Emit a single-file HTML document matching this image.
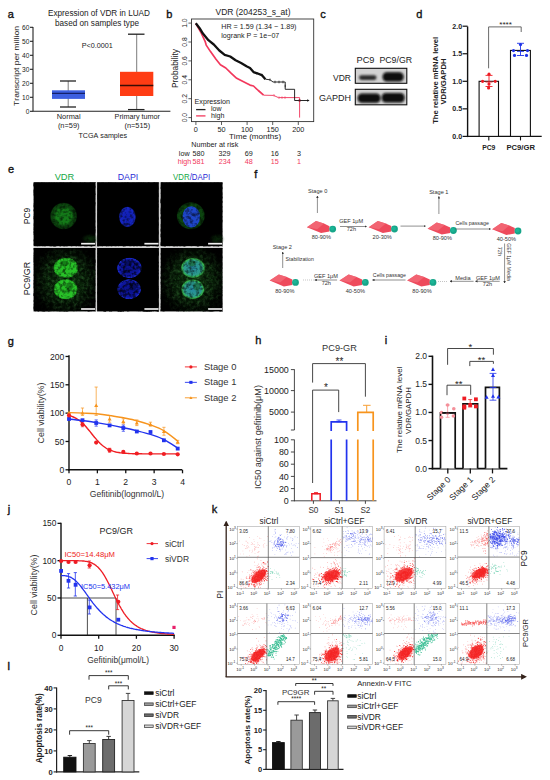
<!DOCTYPE html>
<html><head><meta charset="utf-8"><style>
html,body{margin:0;padding:0;background:#fff;width:550px;height:780px;overflow:hidden}
svg{display:block}
text{font-family:"Liberation Sans",sans-serif;font-variant-ligatures:none;font-kerning:none}
</style></head><body>
<svg width="550" height="780" viewBox="0 0 550 780" font-family="Liberation Sans, sans-serif">
<rect width="550" height="780" fill="#fff"/>
<text x="7.8" y="18" font-size="11" fill="#111" stroke="#111" stroke-width="0.35">a</text>
<text x="99" y="16.4" font-size="8.19" fill="#222" text-anchor="middle" textLength="102" lengthAdjust="spacingAndGlyphs">Expression of VDR in LUAD</text>
<text x="97" y="26.4" font-size="8.17" fill="#222" text-anchor="middle" textLength="84" lengthAdjust="spacingAndGlyphs">based on samples type</text>
<line x1="33" y1="27" x2="33" y2="111.3" stroke="#222" stroke-width="1.1"/>
<line x1="33" y1="111.3" x2="170.4" y2="111.3" stroke="#222" stroke-width="1.1"/>
<line x1="30" y1="111.3" x2="33" y2="111.3" stroke="#222" stroke-width="1.1"/>
<text x="29.4" y="113.7" font-size="6.6" fill="#222" text-anchor="end">0</text>
<line x1="30" y1="97.3" x2="33" y2="97.3" stroke="#222" stroke-width="1.1"/>
<text x="29.4" y="99.7" font-size="6.6" fill="#222" text-anchor="end">10</text>
<line x1="30" y1="83.3" x2="33" y2="83.3" stroke="#222" stroke-width="1.1"/>
<text x="29.4" y="85.7" font-size="6.6" fill="#222" text-anchor="end">20</text>
<line x1="30" y1="69.3" x2="33" y2="69.3" stroke="#222" stroke-width="1.1"/>
<text x="29.4" y="71.7" font-size="6.6" fill="#222" text-anchor="end">30</text>
<line x1="30" y1="55.3" x2="33" y2="55.3" stroke="#222" stroke-width="1.1"/>
<text x="29.4" y="57.699999999999996" font-size="6.6" fill="#222" text-anchor="end">40</text>
<line x1="30" y1="41.3" x2="33" y2="41.3" stroke="#222" stroke-width="1.1"/>
<text x="29.4" y="43.699999999999996" font-size="6.6" fill="#222" text-anchor="end">50</text>
<line x1="30" y1="27.299999999999997" x2="33" y2="27.299999999999997" stroke="#222" stroke-width="1.1"/>
<text x="29.4" y="29.699999999999996" font-size="6.6" fill="#222" text-anchor="end">60</text>
<text transform="translate(19,66) rotate(-90)" font-size="7.6" fill="#222" text-anchor="middle" textLength="80" lengthAdjust="spacingAndGlyphs">Transcript per million</text>
<line x1="68.2" y1="81" x2="68.2" y2="107" stroke="#444" stroke-width="0.7"/>
<line x1="60" y1="81" x2="76" y2="81" stroke="#222" stroke-width="1.3"/>
<line x1="60" y1="107" x2="76" y2="107" stroke="#222" stroke-width="1.3"/>
<rect x="52" y="90.3" width="33" height="8.6" fill="#3d5fe0" stroke="none" stroke-width="0.8"/>
<line x1="52" y1="93.4" x2="85" y2="93.4" stroke="#15206a" stroke-width="1.3"/>
<line x1="136.7" y1="34.2" x2="136.7" y2="109.6" stroke="#444" stroke-width="0.7"/>
<line x1="128" y1="34.2" x2="144.5" y2="34.2" stroke="#222" stroke-width="1.3"/>
<line x1="128" y1="109.6" x2="144.5" y2="109.6" stroke="#222" stroke-width="1.3"/>
<rect x="120" y="71.8" width="33.3" height="24.2" fill="#ff3c14" stroke="none" stroke-width="0.8"/>
<line x1="120" y1="85.5" x2="153.3" y2="85.5" stroke="#3a0c05" stroke-width="1.3"/>
<text x="81.8" y="48.2" font-size="7.19" fill="#222" textLength="31" lengthAdjust="spacingAndGlyphs">P&lt;0.0001</text>
<text x="68.7" y="119.3" font-size="7.4" fill="#222" text-anchor="middle">Normal</text>
<text x="68.7" y="127.6" font-size="7.4" fill="#222" text-anchor="middle">(n=59)</text>
<text x="137.3" y="119.3" font-size="7.25" fill="#222" text-anchor="middle" textLength="45.5" lengthAdjust="spacingAndGlyphs">Primary tumor</text>
<text x="137.3" y="127.6" font-size="7.4" fill="#222" text-anchor="middle">(n=515)</text>
<text x="78.5" y="138.1" font-size="7.21" fill="#222" textLength="48.5" lengthAdjust="spacingAndGlyphs">TCGA samples</text>
<text x="166.3" y="18.2" font-size="11" fill="#111" stroke="#111" stroke-width="0.35">b</text>
<text x="215.5" y="14.5" font-size="8.49" fill="#222" textLength="75" lengthAdjust="spacingAndGlyphs">VDR (204253_s_at)</text>
<rect x="191.5" y="19.0" width="122.2" height="102.6" fill="none" stroke="#333" stroke-width="0.9"/>
<line x1="195.9" y1="121.6" x2="195.9" y2="125" stroke="#333" stroke-width="0.8"/>
<text x="195.9" y="131.9" font-size="7.3" fill="#222" text-anchor="middle">0</text>
<line x1="221.5" y1="121.6" x2="221.5" y2="125" stroke="#333" stroke-width="0.8"/>
<text x="221.5" y="131.9" font-size="7.3" fill="#222" text-anchor="middle">50</text>
<line x1="247.10000000000002" y1="121.6" x2="247.10000000000002" y2="125" stroke="#333" stroke-width="0.8"/>
<text x="247.10000000000002" y="131.9" font-size="7.3" fill="#222" text-anchor="middle">100</text>
<line x1="272.7" y1="121.6" x2="272.7" y2="125" stroke="#333" stroke-width="0.8"/>
<text x="272.7" y="131.9" font-size="7.3" fill="#222" text-anchor="middle">150</text>
<line x1="298.3" y1="121.6" x2="298.3" y2="125" stroke="#333" stroke-width="0.8"/>
<text x="298.3" y="131.9" font-size="7.3" fill="#222" text-anchor="middle">200</text>
<line x1="188.4" y1="117.6" x2="191.5" y2="117.6" stroke="#333" stroke-width="0.8"/>
<text transform="translate(187,117.6) rotate(-90)" font-size="6.8" fill="#222" text-anchor="middle">0.0</text>
<line x1="188.4" y1="98.69999999999999" x2="191.5" y2="98.69999999999999" stroke="#333" stroke-width="0.8"/>
<text transform="translate(187,98.69999999999999) rotate(-90)" font-size="6.8" fill="#222" text-anchor="middle">0.2</text>
<line x1="188.4" y1="79.8" x2="191.5" y2="79.8" stroke="#333" stroke-width="0.8"/>
<text transform="translate(187,79.8) rotate(-90)" font-size="6.8" fill="#222" text-anchor="middle">0.4</text>
<line x1="188.4" y1="60.9" x2="191.5" y2="60.9" stroke="#333" stroke-width="0.8"/>
<text transform="translate(187,60.9) rotate(-90)" font-size="6.8" fill="#222" text-anchor="middle">0.6</text>
<line x1="188.4" y1="42.0" x2="191.5" y2="42.0" stroke="#333" stroke-width="0.8"/>
<text transform="translate(187,42.0) rotate(-90)" font-size="6.8" fill="#222" text-anchor="middle">0.8</text>
<line x1="188.4" y1="23.099999999999994" x2="191.5" y2="23.099999999999994" stroke="#333" stroke-width="0.8"/>
<text transform="translate(187,23.099999999999994) rotate(-90)" font-size="6.8" fill="#222" text-anchor="middle">1.0</text>
<text transform="translate(178.3,68.6) rotate(-90)" font-size="8.35" fill="#222" text-anchor="middle" textLength="39" lengthAdjust="spacingAndGlyphs">Probability</text>
<text x="221.3" y="29.2" font-size="7.16" fill="#222" textLength="75.2" lengthAdjust="spacingAndGlyphs">HR = 1.59 (1.34 − 1.89)</text>
<text x="221.3" y="37.5" font-size="7.11" fill="#222" textLength="58" lengthAdjust="spacingAndGlyphs">logrank P = 1e−07</text>
<polyline points="263.6,95.2 273.6,95.4 278.4,97.6 299.6,97.6 299.6,117.6" fill="none" stroke="#f2486a" stroke-width="1.0" stroke-linejoin="round"/>
<polyline points="195.8,23.3 200.7,32.0 205.1,41.3 206.2,45.1 210.5,51.6 216.0,59.3 220.4,64.7 225.8,68.0 231.3,73.4 236.7,78.3 241.1,80.5 246.5,83.2 250.0,85.1 253.5,86.0 258.3,90.5 263.6,95.2" fill="none" stroke="#f2385c" stroke-width="1.7" stroke-linejoin="round"/>
<polyline points="265.4,79.2 270.1,79.8 273.0,82.0 285.2,82.0 285.2,89.3 294.6,89.3 294.6,100.5 308.0,100.5" fill="none" stroke="#111" stroke-width="0.9" stroke-linejoin="round"/>
<polyline points="195.8,23.3 199.6,28.2 202.9,33.6 208.4,40.2 213.8,44.5 219.3,50.5 224.7,54.9 230.2,56.5 235.6,60.3 241.1,63.1 246.5,66.3 250.0,68.0 253.5,72.1 257.1,73.3 261.8,75.1 265.4,79.2" fill="none" stroke="#111" stroke-width="2.3" stroke-linejoin="round"/>
<line x1="257" y1="72.0" x2="257" y2="74.6" stroke="#111" stroke-width="0.7"/>
<line x1="262" y1="73.8" x2="262" y2="76.39999999999999" stroke="#111" stroke-width="0.7"/>
<line x1="270" y1="78.5" x2="270" y2="81.1" stroke="#111" stroke-width="0.7"/>
<line x1="275" y1="80.7" x2="275" y2="83.3" stroke="#111" stroke-width="0.7"/>
<line x1="279" y1="80.7" x2="279" y2="83.3" stroke="#111" stroke-width="0.7"/>
<line x1="283" y1="80.7" x2="283" y2="83.3" stroke="#111" stroke-width="0.7"/>
<line x1="285.2" y1="84.7" x2="285.2" y2="87.3" stroke="#111" stroke-width="0.7"/>
<line x1="274" y1="94.2" x2="274" y2="96.60000000000001" stroke="#f2385c" stroke-width="0.7"/>
<line x1="279" y1="96.39999999999999" x2="279" y2="98.8" stroke="#f2385c" stroke-width="0.7"/>
<line x1="282" y1="96.39999999999999" x2="282" y2="98.8" stroke="#f2385c" stroke-width="0.7"/>
<line x1="285" y1="96.39999999999999" x2="285" y2="98.8" stroke="#f2385c" stroke-width="0.7"/>
<path d="M307.2,99.2 L309.6,100.5 L307.2,101.8 z" fill="#111"/>
<rect x="298.6" y="99.5" width="2" height="2" fill="#5a1020"/>
<text x="194.6" y="104.3" font-size="7.16" fill="#222" textLength="35.4" lengthAdjust="spacingAndGlyphs">Expression</text>
<line x1="196.1" y1="109.6" x2="205.5" y2="109.6" stroke="#222" stroke-width="1.3"/>
<line x1="196.1" y1="115.9" x2="205.5" y2="115.9" stroke="#f2385c" stroke-width="1.3"/>
<text x="211" y="111.3" font-size="7.0" fill="#222" textLength="10.5" lengthAdjust="spacingAndGlyphs">low</text>
<text x="211" y="117.6" font-size="7.14" fill="#222" textLength="13.5" lengthAdjust="spacingAndGlyphs">high</text>
<text x="255" y="138.9" font-size="7.6" fill="#222" text-anchor="middle" textLength="52.2" lengthAdjust="spacingAndGlyphs">Time (months)</text>
<text x="191.3" y="146.5" font-size="7.23" fill="#222" textLength="47" lengthAdjust="spacingAndGlyphs">Number at risk</text>
<text x="189.6" y="155.5" font-size="7.2" fill="#222" text-anchor="end">low</text>
<text x="198.6" y="155.5" font-size="7.2" fill="#222" text-anchor="middle">580</text>
<text x="224.5" y="155.5" font-size="7.2" fill="#222" text-anchor="middle">329</text>
<text x="248.7" y="155.5" font-size="7.2" fill="#222" text-anchor="middle">69</text>
<text x="274.7" y="155.5" font-size="7.2" fill="#222" text-anchor="middle">16</text>
<text x="299.1" y="155.5" font-size="7.2" fill="#222" text-anchor="middle">3</text>
<text x="191.3" y="163.6" font-size="7.2" fill="#f2385c" text-anchor="end">high</text>
<text x="198.6" y="163.6" font-size="7.2" fill="#f2385c" text-anchor="middle">581</text>
<text x="224.8" y="163.6" font-size="7.2" fill="#f2385c" text-anchor="middle">234</text>
<text x="248.7" y="163.6" font-size="7.2" fill="#f2385c" text-anchor="middle">48</text>
<text x="274.7" y="163.6" font-size="7.2" fill="#f2385c" text-anchor="middle">15</text>
<text x="299.1" y="163.6" font-size="7.2" fill="#f2385c" text-anchor="middle">1</text>
<text x="320.3" y="17.9" font-size="11" fill="#111" stroke="#111" stroke-width="0.35">c</text>
<text x="356.5" y="63.3" font-size="9.25" fill="#222" textLength="18" lengthAdjust="spacingAndGlyphs">PC9</text>
<text x="379.4" y="63.3" font-size="8.78" fill="#222" textLength="32.7" lengthAdjust="spacingAndGlyphs">PC9/GR</text>
<text x="351" y="80.6" font-size="8.53" fill="#222" text-anchor="end" textLength="18" lengthAdjust="spacingAndGlyphs">VDR</text>
<text x="351" y="101.2" font-size="9.0" fill="#222" text-anchor="end" textLength="32" lengthAdjust="spacingAndGlyphs">GAPDH</text>
<defs><filter id="blot" x="-30%" y="-60%" width="160%" height="220%"><feGaussianBlur stdDeviation="0.9"/></filter><filter id="b2" x="-50%" y="-50%" width="200%" height="200%"><feGaussianBlur stdDeviation="1.6"/></filter><filter id="b1" x="-50%" y="-50%" width="200%" height="200%"><feGaussianBlur stdDeviation="0.6"/></filter><filter id="b3" x="-50%" y="-50%" width="200%" height="200%"><feGaussianBlur stdDeviation="3"/></filter></defs>
<rect x="355.3" y="68.3" width="51.5" height="15" fill="#d2d2d2" stroke="#111" stroke-width="1.1"/>
<rect x="355.3" y="89.3" width="51.5" height="15.5" fill="#d2d2d2" stroke="#111" stroke-width="1.1"/>
<rect x="359" y="75.3" width="17.5" height="4.6" rx="2.3" fill="#2a2a2a" filter="url(#blot)"/>
<rect x="382.6" y="72.2" width="21" height="9.4" rx="4.2" fill="#080808" filter="url(#blot)"/>
<rect x="357.6" y="93.4" width="23" height="9.4" rx="4.3" fill="#080808" filter="url(#blot)"/>
<rect x="381.6" y="93" width="23" height="9.4" rx="4.3" fill="#080808" filter="url(#blot)"/>
<text x="416.3" y="17.9" font-size="11" fill="#111" stroke="#111" stroke-width="0.35">d</text>
<line x1="467.6" y1="26.5" x2="467.6" y2="137.1" stroke="#111" stroke-width="1.4"/>
<line x1="466.90000000000003" y1="136.4" x2="541.7" y2="136.4" stroke="#111" stroke-width="1.4"/>
<line x1="462.6" y1="136.4" x2="467.6" y2="136.4" stroke="#111" stroke-width="1.2"/>
<text x="462.1" y="138.8" font-size="7.1" fill="#222" text-anchor="end" font-weight="bold">0.0</text>
<line x1="462.6" y1="108.85000000000001" x2="467.6" y2="108.85000000000001" stroke="#111" stroke-width="1.2"/>
<text x="462.1" y="111.25000000000001" font-size="7.1" fill="#222" text-anchor="end" font-weight="bold">0.5</text>
<line x1="462.6" y1="81.30000000000001" x2="467.6" y2="81.30000000000001" stroke="#111" stroke-width="1.2"/>
<text x="462.1" y="83.70000000000002" font-size="7.1" fill="#222" text-anchor="end" font-weight="bold">1.0</text>
<line x1="462.6" y1="53.75" x2="467.6" y2="53.75" stroke="#111" stroke-width="1.2"/>
<text x="462.1" y="56.15" font-size="7.1" fill="#222" text-anchor="end" font-weight="bold">1.5</text>
<line x1="462.6" y1="26.200000000000003" x2="467.6" y2="26.200000000000003" stroke="#111" stroke-width="1.2"/>
<text x="462.1" y="28.6" font-size="7.1" fill="#222" text-anchor="end" font-weight="bold">2.0</text>
<text transform="translate(437.9,80.3) rotate(-90)" font-size="7.66" fill="#222" text-anchor="middle" font-weight="bold" textLength="87" lengthAdjust="spacingAndGlyphs">The relative mRNA level</text>
<text transform="translate(445.6,81.5) rotate(-90)" font-size="7.67" fill="#222" text-anchor="middle" font-weight="bold" textLength="46" lengthAdjust="spacingAndGlyphs">VDR/GAPDH</text>
<rect x="479.1" y="81.30000000000001" width="19.4" height="55.099999999999994" fill="#fff" stroke="#111" stroke-width="1.1"/>
<rect x="510.5" y="50.444" width="19.9" height="85.956" fill="#fff" stroke="#111" stroke-width="1.1"/>
<line x1="488.8" y1="136.4" x2="488.8" y2="140.4" stroke="#111" stroke-width="1.1"/>
<line x1="520.5" y1="136.4" x2="520.5" y2="140.4" stroke="#111" stroke-width="1.1"/>
<text x="488.8" y="149.8" font-size="6.8" fill="#222" text-anchor="middle" font-weight="bold">PC9</text>
<text x="520.7" y="149.8" font-size="7.65" fill="#222" text-anchor="middle" font-weight="bold" textLength="28.5" lengthAdjust="spacingAndGlyphs">PC9/GR</text>
<polyline points="488.6,68.3 488.6,26.9 521.2,26.9 521.2,32.0" fill="none" stroke="#444" stroke-width="0.8" stroke-linejoin="round"/>
<text x="505.6" y="27.2" font-size="8.09" fill="#222" text-anchor="middle" textLength="12.6" lengthAdjust="spacingAndGlyphs">****</text>
<circle cx="482.6" cy="81.3" r="1.6" fill="#ee1c24"/>
<circle cx="489" cy="74.2" r="1.6" fill="#ee1c24"/>
<circle cx="495.2" cy="81.3" r="1.6" fill="#ee1c24"/>
<circle cx="488.6" cy="87.9" r="1.6" fill="#ee1c24"/>
<circle cx="489" cy="84" r="1.6" fill="#ee1c24"/>
<line x1="489" y1="75.4" x2="489" y2="86.5" stroke="#ee1c24" stroke-width="0.9"/>
<line x1="485.5" y1="75.4" x2="492.5" y2="75.4" stroke="#ee1c24" stroke-width="0.9"/>
<line x1="485.5" y1="86.5" x2="492.5" y2="86.5" stroke="#ee1c24" stroke-width="0.9"/>
<line x1="485.5" y1="82" x2="492.5" y2="82" stroke="#ee1c24" stroke-width="0.9"/>
<circle cx="513.5" cy="50.6" r="1.6" fill="#1f33e8"/>
<circle cx="520.5" cy="44.6" r="1.6" fill="#1f33e8"/>
<circle cx="527.5" cy="50.6" r="1.6" fill="#1f33e8"/>
<circle cx="514.5" cy="55.4" r="1.6" fill="#1f33e8"/>
<circle cx="526.5" cy="55.4" r="1.6" fill="#1f33e8"/>
<line x1="520.5" y1="43.3" x2="520.5" y2="55.5" stroke="#1f33e8" stroke-width="0.9"/>
<line x1="517" y1="43.3" x2="524" y2="43.3" stroke="#1f33e8" stroke-width="0.9"/>
<line x1="517" y1="55.5" x2="524" y2="55.5" stroke="#1f33e8" stroke-width="0.9"/>
<line x1="517" y1="51.4" x2="524" y2="51.4" stroke="#1f33e8" stroke-width="0.9"/>
<text x="8.1" y="173" font-size="11" fill="#111" stroke="#111" stroke-width="0.35">e</text>
<text x="64.5" y="180.1" font-size="9.28" fill="#13a845" text-anchor="middle" textLength="19.6" lengthAdjust="spacingAndGlyphs">VDR</text>
<text x="128" y="180.1" font-size="8.78" fill="#2b2bd6" text-anchor="middle" textLength="20.5" lengthAdjust="spacingAndGlyphs">DAPI</text>
<text x="191.6" y="180.1" font-size="8.6" text-anchor="middle" textLength="37" lengthAdjust="spacingAndGlyphs"><tspan fill="#13a845">VDR</tspan><tspan fill="#2b2bd6">/DAPI</tspan></text>
<text transform="translate(30,216) rotate(-90)" font-size="8.48" fill="#111" text-anchor="middle" textLength="16.5" lengthAdjust="spacingAndGlyphs">PC9</text>
<text transform="translate(30,278.5) rotate(-90)" font-size="9.0" fill="#111" text-anchor="middle" textLength="33.5" lengthAdjust="spacingAndGlyphs">PC9/GR</text>
<defs><radialGradient id="gPC9" cx="0.5" cy="0.5" r="0.5"><stop offset="0" stop-color="#14781a"/><stop offset="0.55" stop-color="#147a18"/><stop offset="0.7" stop-color="#0d4a10"/><stop offset="0.9" stop-color="#0b400d"/><stop offset="1" stop-color="#062a07" stop-opacity="0"/></radialGradient><radialGradient id="gGR" cx="0.5" cy="0.5" r="0.5"><stop offset="0" stop-color="#22b822"/><stop offset="0.85" stop-color="#2ac42a"/><stop offset="0.95" stop-color="#1a8a1a"/><stop offset="1" stop-color="#0a300a" stop-opacity="0"/></radialGradient><radialGradient id="bN" cx="0.5" cy="0.5" r="0.5"><stop offset="0" stop-color="#101eae"/><stop offset="0.88" stop-color="#1626c4"/><stop offset="1" stop-color="#0a1460" stop-opacity="0"/></radialGradient><radialGradient id="bNGR" cx="0.5" cy="0.5" r="0.5"><stop offset="0" stop-color="#0a1088"/><stop offset="0.75" stop-color="#0e169c"/><stop offset="0.92" stop-color="#1a28c8"/><stop offset="1" stop-color="#050a40" stop-opacity="0"/></radialGradient><radialGradient id="mPC9" cx="0.5" cy="0.5" r="0.5"><stop offset="0" stop-color="#0a360c"/><stop offset="0.8" stop-color="#0d4610"/><stop offset="0.92" stop-color="#0a3a0d"/><stop offset="1" stop-color="#062a07" stop-opacity="0"/></radialGradient><radialGradient id="mGR" cx="0.5" cy="0.5" r="0.5"><stop offset="0" stop-color="#2488a0"/><stop offset="0.7" stop-color="#2c9c8a"/><stop offset="0.88" stop-color="#34b048"/><stop offset="1" stop-color="#0a3010" stop-opacity="0"/></radialGradient><radialGradient id="haze" cx="0.5" cy="0.5" r="0.5"><stop offset="0" stop-color="#1a6a1a" stop-opacity="0.95"/><stop offset="0.6" stop-color="#124a12" stop-opacity="0.7"/><stop offset="1" stop-color="#0a200a" stop-opacity="0"/></radialGradient><radialGradient id="hmask" cx="0.5" cy="0.5" r="0.5"><stop offset="0" stop-color="#fff"/><stop offset="0.55" stop-color="#ccc"/><stop offset="1" stop-color="#000"/></radialGradient><filter id="tex" x="0" y="0" width="100%" height="100%"><feTurbulence type="fractalNoise" baseFrequency="0.55" numOctaves="2" seed="3"/><feColorMatrix values="0 0 0 0 0  0 0 0 0 0  0 0 0 0 0  0 0 0 -2.2 1.35"/></filter><filter id="mot" x="0" y="0" width="100%" height="100%"><feTurbulence type="fractalNoise" baseFrequency="0.3" numOctaves="2" seed="11"/><feColorMatrix values="0 0 0 0 0  0 0 0 0 0  0 0 0 0 0  0 0 0 -3 1.75"/></filter><filter id="gspk" x="0" y="0" width="100%" height="100%"><feTurbulence type="fractalNoise" baseFrequency="0.3" numOctaves="3" seed="21"/><feColorMatrix values="0 0 0 0 0.08  0 0 0 0 0.36  0 0 0 0 0.08  0 0 0 2.2 -0.85"/></filter></defs>
<rect x="33.6" y="182.2" width="188.9" height="129.2" fill="#d4d4d4" stroke="none" stroke-width="0.8"/>
<rect x="33.6" y="182.2" width="61.9" height="63.900000000000006" fill="#000" stroke="none" stroke-width="0.8"/>
<rect x="97.1" y="182.2" width="61.70000000000002" height="63.900000000000006" fill="#000" stroke="none" stroke-width="0.8"/>
<rect x="160.7" y="182.2" width="61.80000000000001" height="63.900000000000006" fill="#000" stroke="none" stroke-width="0.8"/>
<rect x="33.6" y="248.0" width="61.9" height="63.39999999999998" fill="#000" stroke="none" stroke-width="0.8"/>
<rect x="97.1" y="248.0" width="61.70000000000002" height="63.39999999999998" fill="#000" stroke="none" stroke-width="0.8"/>
<rect x="160.7" y="248.0" width="61.80000000000001" height="63.39999999999998" fill="#000" stroke="none" stroke-width="0.8"/>
<ellipse cx="90" cy="239" rx="9" ry="6" fill="url(#haze)" opacity="0.45"/>
<ellipse cx="63.6" cy="216" rx="13.9" ry="13.8" fill="url(#gPC9)"/>
<ellipse cx="127.4" cy="216.9" rx="8.8" ry="10.7" fill="url(#bN)"/>
<ellipse cx="217" cy="239" rx="8" ry="6" fill="url(#haze)" opacity="0.4"/>
<ellipse cx="190.8" cy="215.8" rx="14.5" ry="14" fill="url(#mPC9)"/>
<ellipse cx="191.3" cy="216.9" rx="8.8" ry="10.7" fill="#1e46c8"/>
<clipPath id="cp20"><rect x="33.6" y="248.0" width="61.9" height="63.39999999999998"/></clipPath>
<mask id="hm0"><ellipse cx="66.0" cy="281" rx="38" ry="40" fill="url(#hmask)"/></mask>
<g clip-path="url(#cp20)"><ellipse cx="66.0" cy="280" rx="34" ry="36" fill="url(#haze)" opacity="0.5"/><rect x="33.6" y="248.0" width="61.9" height="63.39999999999998" filter="url(#gspk)" opacity="0.45" mask="url(#hm0)"/></g>
<ellipse cx="65.9" cy="267.9" rx="12.8" ry="10.6" fill="url(#gGR)"/>
<ellipse cx="65.6" cy="289.2" rx="12.4" ry="10.4" fill="url(#gGR)"/>
<ellipse cx="64.8" cy="263.2" rx="3.8" ry="2.8" fill="#0f6a12" opacity="0.75"/>
<ellipse cx="69.5" cy="286.5" rx="3.2" ry="4" fill="#0f6a12" opacity="0.7"/>
<ellipse cx="129.4" cy="267.9" rx="12.8" ry="10.6" fill="url(#bNGR)"/>
<ellipse cx="129.1" cy="289.2" rx="12.4" ry="10.4" fill="url(#bNGR)"/>
<ellipse cx="128.3" cy="263.2" rx="3.8" ry="2.8" fill="#060c50" opacity="0.75"/>
<ellipse cx="133.0" cy="286.5" rx="3.2" ry="4" fill="#060c50" opacity="0.7"/>
<clipPath id="cp22"><rect x="160.7" y="248.0" width="61.80000000000001" height="63.39999999999998"/></clipPath>
<mask id="hm2"><ellipse cx="193.1" cy="281" rx="38" ry="40" fill="url(#hmask)"/></mask>
<g clip-path="url(#cp22)"><ellipse cx="193.1" cy="280" rx="34" ry="36" fill="url(#haze)" opacity="0.5"/><rect x="160.7" y="248.0" width="61.80000000000001" height="63.39999999999998" filter="url(#gspk)" opacity="0.45" mask="url(#hm2)"/></g>
<ellipse cx="193.0" cy="267.9" rx="12.8" ry="10.6" fill="url(#mGR)"/>
<ellipse cx="192.7" cy="289.2" rx="12.4" ry="10.4" fill="url(#mGR)"/>
<ellipse cx="191.9" cy="263.2" rx="3.8" ry="2.8" fill="#1a6a3a" opacity="0.75"/>
<ellipse cx="196.6" cy="286.5" rx="3.2" ry="4" fill="#1a6a3a" opacity="0.7"/>
<rect x="33.6" y="182.2" width="61.9" height="63.9" filter="url(#mot)" opacity="0.55"/>
<rect x="97.1" y="182.2" width="61.7" height="63.9" filter="url(#mot)" opacity="0.55"/>
<rect x="160.7" y="182.2" width="61.8" height="63.9" filter="url(#mot)" opacity="0.55"/>
<rect x="33.6" y="248.0" width="61.9" height="63.4" filter="url(#mot)" opacity="0.55"/>
<rect x="97.1" y="248.0" width="61.7" height="63.4" filter="url(#mot)" opacity="0.55"/>
<rect x="160.7" y="248.0" width="61.8" height="63.4" filter="url(#mot)" opacity="0.55"/>
<rect x="97.1" y="248.0" width="61.7" height="63.4" filter="url(#mot)" opacity="0.45"/>
<line x1="81.1" y1="243.7" x2="95.2" y2="243.7" stroke="#eeeeee" stroke-width="1.7"/>
<line x1="144.4" y1="243.7" x2="158.5" y2="243.7" stroke="#eeeeee" stroke-width="1.7"/>
<line x1="208.1" y1="243.7" x2="222.2" y2="243.7" stroke="#eeeeee" stroke-width="1.7"/>
<line x1="81.1" y1="309.0" x2="95.2" y2="309.0" stroke="#eeeeee" stroke-width="1.7"/>
<line x1="144.4" y1="309.0" x2="158.5" y2="309.0" stroke="#eeeeee" stroke-width="1.7"/>
<line x1="208.1" y1="309.0" x2="222.2" y2="309.0" stroke="#eeeeee" stroke-width="1.7"/>
<text x="254.3" y="178.2" font-size="11" fill="#111" stroke="#111" stroke-width="0.35">f</text>
<defs><marker id="ah" viewBox="0 0 6 6" refX="5" refY="3" markerWidth="4" markerHeight="4" orient="auto"><path d="M0,0 L6,3 L0,6 z" fill="#333"/></marker></defs>
<text x="317.7" y="193.2" font-size="5.6" fill="#333" text-anchor="middle">Stage 0</text>
<line x1="317.4" y1="213" x2="317.4" y2="196" stroke="#444" stroke-width="0.6" marker-end="url(#ah)"/>
<polygon points="306.9,227.3 316.0,221.1 324.0,223.6 329.5,226.2 329.5,231.6 321.1,233.1" fill="#ee4a5c"/>
<polygon points="306.9,227.3 316.0,221.1 324.0,223.6 317.2,229.3" fill="#f26a78" opacity="0.8"/>
<circle cx="332.7" cy="229.1" r="3.4" fill="#16a589"/>
<circle cx="332.09999999999997" cy="228.5" r="2" fill="#22c0a0" opacity="0.6"/>
<text x="321.3" y="238.8" font-size="5.6" fill="#333" text-anchor="middle">80-90%</text>
<text x="351.2" y="223.2" font-size="5.6" fill="#333" text-anchor="middle">GEF 1μM</text>
<line x1="340" y1="226.5" x2="366.5" y2="226.5" stroke="#444" stroke-width="0.6" marker-end="url(#ah)"/>
<text x="351.4" y="231" font-size="5.6" fill="#333" text-anchor="middle">72h</text>
<polygon points="368.7,227.2 377.8,221.0 385.8,223.5 391.3,226.1 391.3,231.5 382.9,233.0" fill="#ee4a5c"/>
<polygon points="368.7,227.2 377.8,221.0 385.8,223.5 379.0,229.2" fill="#f26a78" opacity="0.8"/>
<circle cx="394.5" cy="229" r="3.4" fill="#16a589"/>
<circle cx="393.9" cy="228.4" r="2" fill="#22c0a0" opacity="0.6"/>
<text x="382.2" y="238.6" font-size="5.6" fill="#333" text-anchor="middle">20-30%</text>
<line x1="400.5" y1="226.1" x2="425.5" y2="226.1" stroke="#444" stroke-width="0.6" marker-end="url(#ah)"/>
<text x="438.8" y="193.9" font-size="5.6" fill="#333" text-anchor="middle">Stage 1</text>
<line x1="438.9" y1="214" x2="438.9" y2="196.5" stroke="#444" stroke-width="0.6" marker-end="url(#ah)"/>
<polygon points="427.6,228.7 436.7,222.5 444.7,225.0 450.2,227.6 450.2,233.0 441.8,234.5" fill="#ee4a5c"/>
<polygon points="427.6,228.7 436.7,222.5 444.7,225.0 437.9,230.7" fill="#f26a78" opacity="0.8"/>
<circle cx="453.4" cy="230.5" r="3.4" fill="#16a589"/>
<circle cx="452.79999999999995" cy="229.9" r="2" fill="#22c0a0" opacity="0.6"/>
<text x="442.3" y="240.4" font-size="5.6" fill="#333" text-anchor="middle">80-90%</text>
<text x="472.2" y="225.3" font-size="5.32" fill="#333" text-anchor="middle" textLength="33.4" lengthAdjust="spacingAndGlyphs">Cells passage</text>
<line x1="455.5" y1="229" x2="490.5" y2="229" stroke="#444" stroke-width="0.6" marker-end="url(#ah)"/>
<polygon points="492.2,229.2 501.3,223.0 509.3,225.5 514.8,228.1 514.8,233.5 506.4,235.0" fill="#ee4a5c"/>
<polygon points="492.2,229.2 501.3,223.0 509.3,225.5 502.5,231.2" fill="#f26a78" opacity="0.8"/>
<circle cx="518" cy="231" r="3.4" fill="#16a589"/>
<circle cx="517.4" cy="230.4" r="2" fill="#22c0a0" opacity="0.6"/>
<text x="506.4" y="240.7" font-size="5.6" fill="#333" text-anchor="middle">40-50%</text>
<line x1="504.6" y1="243.5" x2="504.6" y2="283" stroke="#444" stroke-width="0.6" marker-end="url(#ah)"/>
<text transform="translate(507,262) rotate(90)" font-size="5.14" fill="#333" text-anchor="middle" textLength="37.5" lengthAdjust="spacingAndGlyphs">GEF 1μM Media</text>
<text transform="translate(498,251.4) rotate(90)" font-size="5.6" fill="#333" text-anchor="middle">72h</text>
<text x="488" y="279.5" font-size="5.6" fill="#333" text-anchor="middle">GEF 1μM</text>
<line x1="499.7" y1="281.3" x2="475.5" y2="281.3" stroke="#444" stroke-width="0.6" marker-end="url(#ah)"/>
<text x="487.5" y="285.8" font-size="5.6" fill="#333" text-anchor="middle">72h</text>
<text x="462.9" y="279.5" font-size="5.6" fill="#333" text-anchor="middle">Media</text>
<line x1="473.6" y1="281.3" x2="450" y2="281.3" stroke="#444" stroke-width="0.6" marker-end="url(#ah)"/>
<line x1="438" y1="281.5" x2="448" y2="281.5" stroke="#888" stroke-width="0.5" stroke-dasharray="1,1"/>
<polygon points="407.2,280.6 416.3,274.4 424.3,276.9 429.8,279.5 429.8,284.9 421.4,286.4" fill="#ee4a5c"/>
<polygon points="407.2,280.6 416.3,274.4 424.3,276.9 417.5,282.6" fill="#f26a78" opacity="0.8"/>
<circle cx="433" cy="282.4" r="3.4" fill="#16a589"/>
<circle cx="432.4" cy="281.79999999999995" r="2" fill="#22c0a0" opacity="0.6"/>
<text x="422" y="292.5" font-size="5.6" fill="#333" text-anchor="middle">80-90%</text>
<text x="389.4" y="277.1" font-size="5.27" fill="#333" text-anchor="middle" textLength="33.1" lengthAdjust="spacingAndGlyphs">Cells passage</text>
<line x1="405.5" y1="280" x2="372.5" y2="280" stroke="#444" stroke-width="0.6" marker-end="url(#ah)"/>
<polygon points="339.5,280.6 348.6,274.4 356.6,276.9 362.1,279.5 362.1,284.9 353.7,286.4" fill="#ee4a5c"/>
<polygon points="339.5,280.6 348.6,274.4 356.6,276.9 349.8,282.6" fill="#f26a78" opacity="0.8"/>
<circle cx="365.3" cy="282.4" r="3.4" fill="#16a589"/>
<circle cx="364.7" cy="281.79999999999995" r="2" fill="#22c0a0" opacity="0.6"/>
<text x="355.4" y="292.5" font-size="5.6" fill="#333" text-anchor="middle">40-50%</text>
<text x="325.9" y="278" font-size="5.6" fill="#333" text-anchor="middle">GEF 1μM</text>
<line x1="337.1" y1="280" x2="314.8" y2="280" stroke="#444" stroke-width="0.6" marker-end="url(#ah)"/>
<text x="326.3" y="285.3" font-size="5.6" fill="#333" text-anchor="middle">72h</text>
<line x1="303" y1="280" x2="313.8" y2="280" stroke="#888" stroke-width="0.5" stroke-dasharray="1,1"/>
<polygon points="269.7,280.6 278.8,274.4 286.8,276.9 292.3,279.5 292.3,284.9 283.9,286.4" fill="#ee4a5c"/>
<polygon points="269.7,280.6 278.8,274.4 286.8,276.9 280.0,282.6" fill="#f26a78" opacity="0.8"/>
<circle cx="295.5" cy="282.4" r="3.4" fill="#16a589"/>
<circle cx="294.9" cy="281.79999999999995" r="2" fill="#22c0a0" opacity="0.6"/>
<text x="284.8" y="292.5" font-size="5.6" fill="#333" text-anchor="middle">80-90%</text>
<line x1="282.7" y1="268" x2="282.7" y2="252" stroke="#444" stroke-width="0.6" marker-end="url(#ah)"/>
<text x="282.3" y="248.9" font-size="5.6" fill="#333" text-anchor="middle">Stage 2</text>
<text x="285.6" y="261.4" font-size="5.23" fill="#333" textLength="28.2" lengthAdjust="spacingAndGlyphs">Stabilization</text>
<text x="7.8" y="345" font-size="11" fill="#111" stroke="#111" stroke-width="0.35">g</text>
<line x1="69" y1="355.3" x2="69" y2="470.5" stroke="#111" stroke-width="1.4"/>
<line x1="68.3" y1="469.8" x2="182.2" y2="469.8" stroke="#111" stroke-width="1.4"/>
<line x1="65.5" y1="469.8" x2="69" y2="469.8" stroke="#111" stroke-width="1.3"/>
<text x="64.4" y="472.90000000000003" font-size="8.6" fill="#222" text-anchor="end">0</text>
<line x1="65.5" y1="441.46500000000003" x2="69" y2="441.46500000000003" stroke="#111" stroke-width="1.3"/>
<text x="64.4" y="444.56500000000005" font-size="8.6" fill="#222" text-anchor="end">50</text>
<line x1="65.5" y1="413.13" x2="69" y2="413.13" stroke="#111" stroke-width="1.3"/>
<text x="64.4" y="416.23" font-size="8.6" fill="#222" text-anchor="end">100</text>
<line x1="65.5" y1="384.795" x2="69" y2="384.795" stroke="#111" stroke-width="1.3"/>
<text x="64.4" y="387.89500000000004" font-size="8.6" fill="#222" text-anchor="end">150</text>
<line x1="65.5" y1="356.46000000000004" x2="69" y2="356.46000000000004" stroke="#111" stroke-width="1.3"/>
<text x="64.4" y="359.56000000000006" font-size="8.6" fill="#222" text-anchor="end">200</text>
<line x1="69.0" y1="469.8" x2="69.0" y2="473.3" stroke="#111" stroke-width="1.3"/>
<text x="69.0" y="485" font-size="8.6" fill="#222" text-anchor="middle">0</text>
<line x1="97.38" y1="469.8" x2="97.38" y2="473.3" stroke="#111" stroke-width="1.3"/>
<text x="97.38" y="485" font-size="8.6" fill="#222" text-anchor="middle">1</text>
<line x1="125.75999999999999" y1="469.8" x2="125.75999999999999" y2="473.3" stroke="#111" stroke-width="1.3"/>
<text x="125.75999999999999" y="485" font-size="8.6" fill="#222" text-anchor="middle">2</text>
<line x1="154.14" y1="469.8" x2="154.14" y2="473.3" stroke="#111" stroke-width="1.3"/>
<text x="154.14" y="485" font-size="8.6" fill="#222" text-anchor="middle">3</text>
<line x1="182.51999999999998" y1="469.8" x2="182.51999999999998" y2="473.3" stroke="#111" stroke-width="1.3"/>
<text x="182.51999999999998" y="485" font-size="8.6" fill="#222" text-anchor="middle">4</text>
<text x="127" y="496.6" font-size="8.59" fill="#333" text-anchor="middle" textLength="74.5" lengthAdjust="spacingAndGlyphs">Gefitinib(lognmol/L)</text>
<text transform="translate(44.3,413) rotate(-90)" font-size="8.93" fill="#333" text-anchor="middle" textLength="61" lengthAdjust="spacingAndGlyphs">Cell viability(%)</text>
<polyline points="69.0,415.5 70.4,415.9 71.8,416.4 73.3,417.0 74.7,417.7 76.1,418.4 77.5,419.3 78.9,420.2 80.4,421.3 81.8,422.5 83.2,423.8 84.6,425.3 86.0,426.8 87.4,428.5 88.9,430.2 90.3,431.9 91.7,433.7 93.1,435.5 94.5,437.2 96.0,438.9 97.4,440.6 98.8,442.1 100.2,443.5 101.6,444.8 103.1,446.0 104.5,447.0 105.9,448.0 107.3,448.8 108.7,449.5 110.2,450.2 111.6,450.7 113.0,451.2 114.4,451.6 115.8,452.0 117.2,452.3 118.7,452.5 120.1,452.8 121.5,452.9 122.9,453.1 124.3,453.2 125.8,453.3 127.2,453.4 128.6,453.5 130.0,453.6 131.4,453.6 132.9,453.7 134.3,453.7 135.7,453.8 137.1,453.8 138.5,453.8 139.9,453.8 141.4,453.8 142.8,453.9 144.2,453.9 145.6,453.9 147.0,453.9 148.5,453.9 149.9,453.9 151.3,453.9 152.7,453.9 154.1,453.9 155.6,453.9 157.0,453.9 158.4,453.9 159.8,453.9 161.2,453.9 162.7,453.9 164.1,453.9 165.5,453.9 166.9,453.9 168.3,453.9 169.7,453.9 171.2,453.9 172.6,453.9 174.0,453.9 175.4,453.9 176.8,453.9 178.3,453.9" fill="none" stroke="#f01e23" stroke-width="1.4" stroke-linejoin="round"/>
<path d="M69.0,412.6 C71.4,412.7 79.0,412.9 83.6,413.1 C88.3,413.3 92.3,413.4 96.6,413.8 C101.0,414.2 105.2,414.8 109.6,415.5 C114.1,416.1 118.8,417.0 123.4,417.8 C127.9,418.7 132.3,419.5 136.8,420.7 C141.4,421.8 146.0,423.2 150.5,424.9 C155.1,426.6 159.5,428.1 164.0,430.8 C168.6,433.5 175.4,439.3 177.7,441.0" fill="none" stroke="#f7941d" stroke-width="1.4"/>
<path d="M69.0,419.0 C71.4,419.3 79.0,420.1 83.6,420.7 C88.3,421.3 92.3,421.8 96.6,422.6 C101.0,423.3 105.2,424.1 109.6,424.9 C114.1,425.8 118.8,426.8 123.4,427.8 C127.9,428.7 132.3,429.7 136.8,430.8 C141.4,431.9 146.0,432.9 150.5,434.4 C155.1,435.8 159.5,437.3 164.0,439.6 C168.6,441.9 175.4,446.7 177.7,448.1" fill="none" stroke="#2233ee" stroke-width="1.4"/>
<line x1="96.18804" y1="387.0618" x2="96.18804" y2="415.3968" stroke="#f7941d" stroke-width="0.7"/>
<line x1="94.58804" y1="387.0618" x2="97.78804" y2="387.0618" stroke="#f7941d" stroke-width="0.7"/>
<line x1="94.58804" y1="415.3968" x2="97.78804" y2="415.3968" stroke="#f7941d" stroke-width="0.7"/>
<line x1="82.4805" y1="408.0297" x2="82.4805" y2="415.3968" stroke="#f7941d" stroke-width="0.7"/>
<line x1="80.88050000000001" y1="408.0297" x2="84.0805" y2="408.0297" stroke="#f7941d" stroke-width="0.7"/>
<line x1="80.88050000000001" y1="415.3968" x2="84.0805" y2="415.3968" stroke="#f7941d" stroke-width="0.7"/>
<line x1="109.5834" y1="415.3968" x2="109.5834" y2="422.1972" stroke="#f7941d" stroke-width="0.7"/>
<line x1="107.9834" y1="415.3968" x2="111.18339999999999" y2="415.3968" stroke="#f7941d" stroke-width="0.7"/>
<line x1="107.9834" y1="422.1972" x2="111.18339999999999" y2="422.1972" stroke="#f7941d" stroke-width="0.7"/>
<line x1="123.3477" y1="418.797" x2="123.3477" y2="423.89730000000003" stroke="#f7941d" stroke-width="0.7"/>
<line x1="121.74770000000001" y1="418.797" x2="124.9477" y2="418.797" stroke="#f7941d" stroke-width="0.7"/>
<line x1="121.74770000000001" y1="423.89730000000003" x2="124.9477" y2="423.89730000000003" stroke="#f7941d" stroke-width="0.7"/>
<line x1="136.82819999999998" y1="419.9304" x2="136.82819999999998" y2="425.5974" stroke="#f7941d" stroke-width="0.7"/>
<line x1="135.2282" y1="419.9304" x2="138.42819999999998" y2="419.9304" stroke="#f7941d" stroke-width="0.7"/>
<line x1="135.2282" y1="425.5974" x2="138.42819999999998" y2="425.5974" stroke="#f7941d" stroke-width="0.7"/>
<line x1="150.4506" y1="422.1972" x2="150.4506" y2="426.1641" stroke="#f7941d" stroke-width="0.7"/>
<line x1="148.85060000000001" y1="422.1972" x2="152.0506" y2="422.1972" stroke="#f7941d" stroke-width="0.7"/>
<line x1="148.85060000000001" y1="426.1641" x2="152.0506" y2="426.1641" stroke="#f7941d" stroke-width="0.7"/>
<line x1="163.93110000000001" y1="427.2975" x2="163.93110000000001" y2="435.23130000000003" stroke="#f7941d" stroke-width="0.7"/>
<line x1="162.33110000000002" y1="427.2975" x2="165.5311" y2="427.2975" stroke="#f7941d" stroke-width="0.7"/>
<line x1="162.33110000000002" y1="435.23130000000003" x2="165.5311" y2="435.23130000000003" stroke="#f7941d" stroke-width="0.7"/>
<line x1="177.6954" y1="440.33160000000004" x2="177.6954" y2="443.7318" stroke="#f7941d" stroke-width="0.7"/>
<line x1="176.0954" y1="440.33160000000004" x2="179.2954" y2="440.33160000000004" stroke="#f7941d" stroke-width="0.7"/>
<line x1="176.0954" y1="443.7318" x2="179.2954" y2="443.7318" stroke="#f7941d" stroke-width="0.7"/>
<line x1="96.18804" y1="419.9304" x2="96.18804" y2="426.1641" stroke="#2233ee" stroke-width="0.7"/>
<line x1="94.58804" y1="419.9304" x2="97.78804" y2="419.9304" stroke="#2233ee" stroke-width="0.7"/>
<line x1="94.58804" y1="426.1641" x2="97.78804" y2="426.1641" stroke="#2233ee" stroke-width="0.7"/>
<line x1="123.3477" y1="425.0307" x2="123.3477" y2="431.2644" stroke="#2233ee" stroke-width="0.7"/>
<line x1="121.74770000000001" y1="425.0307" x2="124.9477" y2="425.0307" stroke="#2233ee" stroke-width="0.7"/>
<line x1="121.74770000000001" y1="431.2644" x2="124.9477" y2="431.2644" stroke="#2233ee" stroke-width="0.7"/>
<line x1="82.4805" y1="422.1972" x2="82.4805" y2="426.73080000000004" stroke="#f01e23" stroke-width="0.7"/>
<line x1="80.88050000000001" y1="422.1972" x2="84.0805" y2="422.1972" stroke="#f01e23" stroke-width="0.7"/>
<line x1="80.88050000000001" y1="426.73080000000004" x2="84.0805" y2="426.73080000000004" stroke="#f01e23" stroke-width="0.7"/>
<line x1="109.5834" y1="448.2654" x2="109.5834" y2="452.2323" stroke="#f01e23" stroke-width="0.7"/>
<line x1="107.9834" y1="448.2654" x2="111.18339999999999" y2="448.2654" stroke="#f01e23" stroke-width="0.7"/>
<line x1="107.9834" y1="452.2323" x2="111.18339999999999" y2="452.2323" stroke="#f01e23" stroke-width="0.7"/>
<path d="M67.0,414.2 L69.0,410.6 L71.0,414.2 z" fill="#f7941d"/>
<path d="M80.5,414.4 L82.5,410.8 L84.5,414.4 z" fill="#f7941d"/>
<path d="M94.2,407.1 L96.2,403.5 L98.2,407.1 z" fill="#f7941d"/>
<path d="M107.6,420.6 L109.6,417.0 L111.6,420.6 z" fill="#f7941d"/>
<path d="M121.3,423.0 L123.3,419.4 L125.3,423.0 z" fill="#f7941d"/>
<path d="M134.8,424.6 L136.8,421.0 L138.8,424.6 z" fill="#f7941d"/>
<path d="M148.5,426.1 L150.5,422.5 L152.5,426.1 z" fill="#f7941d"/>
<path d="M161.9,433.1 L163.9,429.5 L165.9,433.1 z" fill="#f7941d"/>
<path d="M175.7,443.5 L177.7,439.9 L179.7,443.5 z" fill="#f7941d"/>
<rect x="67.1" y="417.1" width="3.8" height="3.8" fill="#2233ee" stroke="none" stroke-width="0.8"/>
<rect x="80.6" y="418.3" width="3.8" height="3.8" fill="#2233ee" stroke="none" stroke-width="0.8"/>
<rect x="94.3" y="421.1" width="3.8" height="3.8" fill="#2233ee" stroke="none" stroke-width="0.8"/>
<rect x="107.7" y="423.5" width="3.8" height="3.8" fill="#2233ee" stroke="none" stroke-width="0.8"/>
<rect x="121.4" y="426.1" width="3.8" height="3.8" fill="#2233ee" stroke="none" stroke-width="0.8"/>
<rect x="134.9" y="429.6" width="3.8" height="3.8" fill="#2233ee" stroke="none" stroke-width="0.8"/>
<rect x="148.6" y="430.1" width="3.8" height="3.8" fill="#2233ee" stroke="none" stroke-width="0.8"/>
<rect x="162.0" y="438.4" width="3.8" height="3.8" fill="#2233ee" stroke="none" stroke-width="0.8"/>
<rect x="175.8" y="446.7" width="3.8" height="3.8" fill="#2233ee" stroke="none" stroke-width="0.8"/>
<circle cx="69.0" cy="415.4" r="2.1" fill="#f01e23"/>
<circle cx="82.5" cy="424.5" r="2.1" fill="#f01e23"/>
<circle cx="96.2" cy="442.6" r="2.1" fill="#f01e23"/>
<circle cx="109.6" cy="450.2" r="2.1" fill="#f01e23"/>
<circle cx="123.3" cy="451.9" r="2.1" fill="#f01e23"/>
<circle cx="136.8" cy="453.5" r="2.1" fill="#f01e23"/>
<circle cx="150.5" cy="453.5" r="2.1" fill="#f01e23"/>
<circle cx="163.9" cy="454.0" r="2.1" fill="#f01e23"/>
<circle cx="177.7" cy="454.3" r="2.1" fill="#f01e23"/>
<line x1="184.9" y1="366.9" x2="196.9" y2="366.9" stroke="#f01e23" stroke-width="0.9"/>
<circle cx="190.9" cy="366.9" r="1.6" fill="#f01e23"/>
<text x="204" y="370.0" font-size="9.4" fill="#333" textLength="32.4" lengthAdjust="spacingAndGlyphs">Stage 0</text>
<line x1="184.9" y1="382.34999999999997" x2="196.9" y2="382.34999999999997" stroke="#2233ee" stroke-width="0.9"/>
<rect x="189.3" y="380.84999999999997" width="3.2" height="3" fill="#2233ee" stroke="none" stroke-width="0.8"/>
<text x="204" y="385.45" font-size="9.4" fill="#333" textLength="32.4" lengthAdjust="spacingAndGlyphs">Stage 1</text>
<line x1="184.9" y1="397.79999999999995" x2="196.9" y2="397.79999999999995" stroke="#f7941d" stroke-width="0.9"/>
<path d="M189.3,398.99999999999994 L190.9,396.29999999999995 L192.5,398.99999999999994 z" fill="#f7941d"/>
<text x="204" y="400.9" font-size="9.4" fill="#333" textLength="32.4" lengthAdjust="spacingAndGlyphs">Stage 2</text>
<text x="255.3" y="343.6" font-size="11" fill="#111" stroke="#111" stroke-width="0.35">h</text>
<text x="339.5" y="350.6" font-size="9.21" fill="#333" text-anchor="middle" textLength="34.8" lengthAdjust="spacingAndGlyphs">PC9-GR</text>
<line x1="294.4" y1="369.3" x2="294.4" y2="430" stroke="#333" stroke-width="0.9"/>
<line x1="294.4" y1="439.6" x2="294.4" y2="501.2" stroke="#333" stroke-width="0.9"/>
<line x1="294.0" y1="500.8" x2="376.5" y2="500.8" stroke="#333" stroke-width="0.9"/>
<line x1="290.9" y1="369.6" x2="294.4" y2="369.6" stroke="#333" stroke-width="0.9"/>
<text x="288.79999999999995" y="372.8" font-size="8.9" fill="#222" text-anchor="end">15000</text>
<line x1="290.9" y1="390.6" x2="294.4" y2="390.6" stroke="#333" stroke-width="0.9"/>
<text x="288.79999999999995" y="393.8" font-size="8.9" fill="#222" text-anchor="end">10000</text>
<line x1="290.9" y1="412.1" x2="294.4" y2="412.1" stroke="#333" stroke-width="0.9"/>
<text x="288.79999999999995" y="415.3" font-size="8.9" fill="#222" text-anchor="end">5000</text>
<line x1="290.9" y1="500.8" x2="294.4" y2="500.8" stroke="#333" stroke-width="0.9"/>
<text x="288.79999999999995" y="504.0" font-size="8.9" fill="#222" text-anchor="end">0</text>
<line x1="290.9" y1="488.6" x2="294.4" y2="488.6" stroke="#333" stroke-width="0.9"/>
<text x="288.79999999999995" y="491.8" font-size="8.9" fill="#222" text-anchor="end">20</text>
<line x1="290.9" y1="476.40000000000003" x2="294.4" y2="476.40000000000003" stroke="#333" stroke-width="0.9"/>
<text x="288.79999999999995" y="479.6" font-size="8.9" fill="#222" text-anchor="end">40</text>
<line x1="290.9" y1="464.20000000000005" x2="294.4" y2="464.20000000000005" stroke="#333" stroke-width="0.9"/>
<text x="288.79999999999995" y="467.40000000000003" font-size="8.9" fill="#222" text-anchor="end">60</text>
<line x1="290.9" y1="452.0" x2="294.4" y2="452.0" stroke="#333" stroke-width="0.9"/>
<text x="288.79999999999995" y="455.2" font-size="8.9" fill="#222" text-anchor="end">80</text>
<line x1="290.9" y1="439.8" x2="294.4" y2="439.8" stroke="#333" stroke-width="0.9"/>
<text x="288.79999999999995" y="443.0" font-size="8.9" fill="#222" text-anchor="end">100</text>
<line x1="290.9" y1="430" x2="294.4" y2="430" stroke="#333" stroke-width="0.9"/>
<text transform="translate(260.6,437) rotate(-90)" font-size="9.11" fill="#333" text-anchor="middle" textLength="104" lengthAdjust="spacingAndGlyphs">IC50 against gefitinib(μM)</text>
<line x1="313.4" y1="500.8" x2="313.4" y2="503.8" stroke="#333" stroke-width="0.9"/>
<text x="313.4" y="512.6" font-size="8.2" fill="#333" text-anchor="middle">S0</text>
<line x1="339.4" y1="500.8" x2="339.4" y2="503.8" stroke="#333" stroke-width="0.9"/>
<text x="339.4" y="512.6" font-size="8.2" fill="#333" text-anchor="middle">S1</text>
<line x1="365.4" y1="500.8" x2="365.4" y2="503.8" stroke="#333" stroke-width="0.9"/>
<text x="365.4" y="512.6" font-size="8.2" fill="#333" text-anchor="middle">S2</text>
<path d="M311.8,500.8 V493.8 H320.2 V500.8" fill="none" stroke="#ee1c24" stroke-width="1.5"/>
<line x1="316" y1="492.5" x2="316" y2="493.8" stroke="#ee1c24" stroke-width="0.8"/>
<line x1="314" y1="492.5" x2="318" y2="492.5" stroke="#ee1c24" stroke-width="0.8"/>
<line x1="314" y1="493.8" x2="318" y2="493.8" stroke="#ee1c24" stroke-width="0.8"/>
<path d="M331.2,431 V421.8 H346.6 V431 M331.2,439.4 V500.8 M346.6,439.4 V500.8" fill="none" stroke="#2233ee" stroke-width="1.7"/>
<line x1="339" y1="420" x2="339" y2="421.8" stroke="#2233ee" stroke-width="0.8"/>
<line x1="336.5" y1="420" x2="341.5" y2="420" stroke="#2233ee" stroke-width="0.8"/>
<line x1="336.5" y1="421.8" x2="341.5" y2="421.8" stroke="#2233ee" stroke-width="0.8"/>
<path d="M357.8,431 V412.3 H373.2 V431 M357.8,439.4 V500.8 M373.2,439.4 V500.8" fill="none" stroke="#f7941d" stroke-width="1.7"/>
<line x1="366.7" y1="405.5" x2="366.7" y2="412.3" stroke="#f7941d" stroke-width="0.9"/>
<line x1="363" y1="405.3" x2="370.6" y2="405.3" stroke="#f7941d" stroke-width="0.9"/>
<polyline points="312.6,382.6 312.6,363.6 365.4,363.6 365.4,396.7" fill="none" stroke="#333" stroke-width="0.9" stroke-linejoin="round"/>
<polyline points="312.6,483.0 312.6,390.1 338.7,390.1 338.7,412.1" fill="none" stroke="#333" stroke-width="0.9" stroke-linejoin="round"/>
<text x="339.5" y="364.6" font-size="10" fill="#222" text-anchor="middle">**</text>
<text x="325.9" y="391.4" font-size="10" fill="#222" text-anchor="middle">*</text>
<text x="384.8" y="343.9" font-size="11" fill="#111" stroke="#111" stroke-width="0.35">i</text>
<line x1="432.5" y1="355.6" x2="432.5" y2="469.40000000000003" stroke="#111" stroke-width="1.6"/>
<line x1="431.7" y1="468.6" x2="507.4" y2="468.6" stroke="#111" stroke-width="1.6"/>
<line x1="428.5" y1="468.6" x2="432.5" y2="468.6" stroke="#111" stroke-width="1.4"/>
<text x="427.1" y="471.6" font-size="8.5" fill="#222" text-anchor="end">0.0</text>
<line x1="428.5" y1="440.52500000000003" x2="432.5" y2="440.52500000000003" stroke="#111" stroke-width="1.4"/>
<text x="427.1" y="443.52500000000003" font-size="8.5" fill="#222" text-anchor="end">0.5</text>
<line x1="428.5" y1="412.45000000000005" x2="432.5" y2="412.45000000000005" stroke="#111" stroke-width="1.4"/>
<text x="427.1" y="415.45000000000005" font-size="8.5" fill="#222" text-anchor="end">1.0</text>
<line x1="428.5" y1="384.375" x2="432.5" y2="384.375" stroke="#111" stroke-width="1.4"/>
<text x="427.1" y="387.375" font-size="8.5" fill="#222" text-anchor="end">1.5</text>
<line x1="428.5" y1="356.3" x2="432.5" y2="356.3" stroke="#111" stroke-width="1.4"/>
<text x="427.1" y="359.3" font-size="8.5" fill="#222" text-anchor="end">2.0</text>
<text transform="translate(401.7,409.7) rotate(-90)" font-size="8.06" fill="#222" text-anchor="middle" textLength="86.5" lengthAdjust="spacingAndGlyphs">The relative mRNA level</text>
<text transform="translate(410.6,410.5) rotate(-90)" font-size="7.91" fill="#222" text-anchor="middle" textLength="47" lengthAdjust="spacingAndGlyphs">VDR/GAPDH</text>
<path d="M440.5,468.6 V412.9 H455.2 V468.6" fill="#fff" stroke="#111" stroke-width="1.7"/>
<path d="M463,468.6 V403.9 H477.6 V468.6" fill="#fff" stroke="#111" stroke-width="1.7"/>
<path d="M485.5,468.6 V387.3 H499.4 V468.6" fill="#fff" stroke="#111" stroke-width="1.7"/>
<line x1="447.8" y1="468.6" x2="447.8" y2="473.40000000000003" stroke="#111" stroke-width="1.3"/>
<line x1="470.3" y1="468.6" x2="470.3" y2="473.40000000000003" stroke="#111" stroke-width="1.3"/>
<line x1="492.5" y1="468.6" x2="492.5" y2="473.40000000000003" stroke="#111" stroke-width="1.3"/>
<text transform="translate(451.0,480.20000000000005) rotate(-45)" font-size="8.5" fill="#222" text-anchor="end">Stage 0</text>
<text transform="translate(473.5,480.20000000000005) rotate(-45)" font-size="8.5" fill="#222" text-anchor="end">Stage 1</text>
<text transform="translate(495.7,480.20000000000005) rotate(-45)" font-size="8.5" fill="#222" text-anchor="end">Stage 2</text>
<line x1="447.6" y1="405" x2="447.6" y2="417.3" stroke="#f4909a" stroke-width="0.8"/>
<line x1="445.6" y1="405" x2="449.6" y2="405" stroke="#f4909a" stroke-width="0.8"/>
<line x1="445.6" y1="417.3" x2="449.6" y2="417.3" stroke="#f4909a" stroke-width="0.8"/>
<circle cx="447.6" cy="405" r="1.8" fill="#f4909a"/>
<circle cx="453.8" cy="408.8" r="1.8" fill="#f4909a"/>
<circle cx="441.5" cy="412.5" r="1.8" fill="#f4909a"/>
<circle cx="453.4" cy="416" r="1.8" fill="#f4909a"/>
<circle cx="441.5" cy="417.3" r="1.8" fill="#f4909a"/>
<circle cx="447.6" cy="413.2" r="1.8" fill="#f4909a"/>
<line x1="442" y1="412.9" x2="453.6" y2="412.9" stroke="#111" stroke-width="1.4"/>
<line x1="470.2" y1="399.6" x2="470.2" y2="407" stroke="#ee1c24" stroke-width="0.8"/>
<line x1="468.2" y1="399.6" x2="472.2" y2="399.6" stroke="#ee1c24" stroke-width="0.8"/>
<line x1="468.2" y1="407" x2="472.2" y2="407" stroke="#ee1c24" stroke-width="0.8"/>
<rect x="462.40000000000003" y="396.6" width="3.8" height="3.8" fill="#ee1c24" stroke="none" stroke-width="0.8"/>
<rect x="474.0" y="397.40000000000003" width="3.8" height="3.8" fill="#ee1c24" stroke="none" stroke-width="0.8"/>
<rect x="462.40000000000003" y="404.5" width="3.8" height="3.8" fill="#ee1c24" stroke="none" stroke-width="0.8"/>
<rect x="468.3" y="403.1" width="3.8" height="3.8" fill="#ee1c24" stroke="none" stroke-width="0.8"/>
<rect x="474.0" y="404.5" width="3.8" height="3.8" fill="#ee1c24" stroke="none" stroke-width="0.8"/>
<rect x="462.40000000000003" y="405.8" width="3.8" height="3.8" fill="#ee1c24" stroke="none" stroke-width="0.8"/>
<line x1="493" y1="373.4" x2="493" y2="400.2" stroke="#2233ee" stroke-width="0.8"/>
<line x1="489.6" y1="373.4" x2="496.4" y2="373.4" stroke="#2233ee" stroke-width="0.8"/>
<line x1="489.6" y1="400.2" x2="496.4" y2="400.2" stroke="#2233ee" stroke-width="0.8"/>
<line x1="489.6" y1="387.5" x2="496.4" y2="387.5" stroke="#2233ee" stroke-width="0.8"/>
<path d="M491,370.90000000000003 L493,367.3 L495,370.90000000000003 z" fill="#2233ee"/>
<path d="M491,376.90000000000003 L493,373.3 L495,376.90000000000003 z" fill="#2233ee"/>
<path d="M484.6,398.70000000000005 L486.6,395.1 L488.6,398.70000000000005 z" fill="#2233ee"/>
<path d="M491,397.8 L493,394.2 L495,397.8 z" fill="#2233ee"/>
<path d="M496.4,398.40000000000003 L498.4,394.8 L500.4,398.40000000000003 z" fill="#2233ee"/>
<polyline points="447.6,364.8 447.6,348.5 493.4,348.5 493.4,354.7" fill="none" stroke="#333" stroke-width="0.9" stroke-linejoin="round"/>
<polyline points="469.8,366.1 469.8,361.4 493.4,361.4 493.4,363.8" fill="none" stroke="#333" stroke-width="0.9" stroke-linejoin="round"/>
<polyline points="447.0,395.2 447.0,385.2 470.7,385.2 470.7,394.8" fill="none" stroke="#333" stroke-width="0.9" stroke-linejoin="round"/>
<text x="470.3" y="349.6" font-size="9.5" fill="#222" text-anchor="middle">*</text>
<text x="481.5" y="362.6" font-size="9.5" fill="#222" text-anchor="middle">**</text>
<text x="458.7" y="386.6" font-size="9.5" fill="#222" text-anchor="middle">**</text>
<text x="7.8" y="512.5" font-size="11" fill="#111" stroke="#111" stroke-width="0.35">j</text>
<line x1="61" y1="522.8" x2="61" y2="636.0" stroke="#111" stroke-width="1.4"/>
<line x1="60.3" y1="635.3" x2="174.8" y2="635.3" stroke="#111" stroke-width="1.4"/>
<line x1="57.5" y1="635.3" x2="61" y2="635.3" stroke="#111" stroke-width="1.3"/>
<text x="56.4" y="638.4" font-size="8.4" fill="#222" text-anchor="end">0</text>
<line x1="57.5" y1="597.9849999999999" x2="61" y2="597.9849999999999" stroke="#111" stroke-width="1.3"/>
<text x="56.4" y="601.0849999999999" font-size="8.4" fill="#222" text-anchor="end">50</text>
<line x1="57.5" y1="560.67" x2="61" y2="560.67" stroke="#111" stroke-width="1.3"/>
<text x="56.4" y="563.77" font-size="8.4" fill="#222" text-anchor="end">100</text>
<line x1="57.5" y1="523.355" x2="61" y2="523.355" stroke="#111" stroke-width="1.3"/>
<text x="56.4" y="526.455" font-size="8.4" fill="#222" text-anchor="end">150</text>
<line x1="61.0" y1="635.3" x2="61.0" y2="638.8" stroke="#111" stroke-width="1.3"/>
<text x="61.0" y="651" font-size="8.4" fill="#222" text-anchor="middle">0</text>
<line x1="98.7" y1="635.3" x2="98.7" y2="638.8" stroke="#111" stroke-width="1.3"/>
<text x="98.7" y="651" font-size="8.4" fill="#222" text-anchor="middle">10</text>
<line x1="136.4" y1="635.3" x2="136.4" y2="638.8" stroke="#111" stroke-width="1.3"/>
<text x="136.4" y="651" font-size="8.4" fill="#222" text-anchor="middle">20</text>
<line x1="174.1" y1="635.3" x2="174.1" y2="638.8" stroke="#111" stroke-width="1.3"/>
<text x="174.1" y="651" font-size="8.4" fill="#222" text-anchor="middle">30</text>
<text x="118.2" y="662.7" font-size="8.39" fill="#333" text-anchor="middle" textLength="61.7" lengthAdjust="spacingAndGlyphs">Gefitinib(μmol/L)</text>
<text transform="translate(36.6,585) rotate(-90)" font-size="8.93" fill="#333" text-anchor="middle" textLength="61" lengthAdjust="spacingAndGlyphs">Cell viability(%)</text>
<text x="116.3" y="533.6" font-size="8.97" fill="#222" text-anchor="middle" textLength="33.4" lengthAdjust="spacingAndGlyphs">PC9/GR</text>
<polyline points="61.0,598.0 116.0,598.0 116.0,635.3" fill="none" stroke="#222" stroke-width="0.8" stroke-linejoin="round"/>
<line x1="87.4" y1="598" x2="87.4" y2="635.3" stroke="#222" stroke-width="0.8"/>
<polyline points="61.0,560.7 61.9,560.7 62.9,560.7 63.8,560.7 64.8,560.7 65.7,560.7 66.7,560.7 67.6,560.7 68.5,560.7 69.5,560.7 70.4,560.7 71.4,560.7 72.3,560.7 73.3,560.7 74.2,560.7 75.1,560.7 76.1,560.7 77.0,560.7 78.0,560.7 78.9,560.8 79.8,560.8 80.8,560.8 81.7,560.9 82.7,561.0 83.6,561.0 84.6,561.1 85.5,561.3 86.4,561.4 87.4,561.6 88.3,561.8 89.3,562.1 90.2,562.4 91.2,562.7 92.1,563.1 93.0,563.6 94.0,564.1 94.9,564.7 95.9,565.4 96.8,566.2 97.8,567.0 98.7,568.0 99.6,569.0 100.6,570.1 101.5,571.4 102.5,572.7 103.4,574.1 104.4,575.6 105.3,577.2 106.2,578.9 107.2,580.7 108.1,582.5 109.1,584.4 110.0,586.3 111.0,588.3 111.9,590.3 112.8,592.2 113.8,594.2 114.7,596.2 115.7,598.1 116.6,600.1 117.5,601.9 118.5,603.7 119.4,605.5 120.4,607.2 121.3,608.8 122.3,610.4 123.2,611.9 124.1,613.3 125.1,614.7 126.0,616.0 127.0,617.2 127.9,618.3 128.9,619.4 129.8,620.4 130.7,621.3 131.7,622.2 132.6,623.1 133.6,623.9 134.5,624.6 135.5,625.3 136.4,625.9 137.3,626.5 138.3,627.1 139.2,627.6 140.2,628.1 141.1,628.5 142.1,628.9 143.0,629.3 143.9,629.7 144.9,630.0 145.8,630.3 146.8,630.6 147.7,630.9 148.7,631.2 149.6,631.4 150.5,631.7 151.5,631.9 152.4,632.1 153.4,632.2 154.3,632.4 155.2,632.6 156.2,632.7 157.1,632.9 158.1,633.0 159.0,633.1 160.0,633.3 160.9,633.4 161.8,633.5 162.8,633.6 163.7,633.7 164.7,633.7 165.6,633.8 166.6,633.9 167.5,634.0 168.4,634.0 169.4,634.1 170.3,634.2 171.3,634.2 172.2,634.3 173.2,634.3 174.1,634.4" fill="none" stroke="#ee1c24" stroke-width="1.3" stroke-linejoin="round"/>
<polyline points="61.0,575.6 61.9,575.6 62.9,575.6 63.8,575.7 64.8,575.7 65.7,575.8 66.7,576.0 67.6,576.2 68.5,576.5 69.5,576.8 70.4,577.2 71.4,577.7 72.3,578.2 73.3,578.9 74.2,579.6 75.1,580.3 76.1,581.2 77.0,582.1 78.0,583.1 78.9,584.1 79.8,585.2 80.8,586.4 81.7,587.6 82.7,588.8 83.6,590.1 84.6,591.4 85.5,592.7 86.4,594.0 87.4,595.4 88.3,596.7 89.3,598.0 90.2,599.3 91.2,600.6 92.1,601.8 93.0,603.1 94.0,604.3 94.9,605.4 95.9,606.6 96.8,607.7 97.8,608.8 98.7,609.8 99.6,610.8 100.6,611.8 101.5,612.7 102.5,613.6 103.4,614.5 104.4,615.3 105.3,616.1 106.2,616.9 107.2,617.6 108.1,618.3 109.1,619.0 110.0,619.6 111.0,620.2 111.9,620.8 112.8,621.3 113.8,621.9 114.7,622.4 115.7,622.9 116.6,623.3 117.5,623.8 118.5,624.2 119.4,624.6 120.4,625.0 121.3,625.4 122.3,625.7 123.2,626.1 124.1,626.4 125.1,626.7 126.0,627.0 127.0,627.3 127.9,627.5 128.9,627.8 129.8,628.1 130.7,628.3 131.7,628.5 132.6,628.7 133.6,629.0 134.5,629.2 135.5,629.3 136.4,629.5 137.3,629.7 138.3,629.9 139.2,630.0 140.2,630.2 141.1,630.4 142.1,630.5 143.0,630.6 143.9,630.8 144.9,630.9 145.8,631.0 146.8,631.2 147.7,631.3 148.7,631.4 149.6,631.5 150.5,631.6 151.5,631.7 152.4,631.8 153.4,631.9 154.3,632.0 155.2,632.1 156.2,632.2 157.1,632.2 158.1,632.3 159.0,632.4 160.0,632.5 160.9,632.5 161.8,632.6 162.8,632.7 163.7,632.7 164.7,632.8 165.6,632.9 166.6,632.9 167.5,633.0 168.4,633.0 169.4,633.1 170.3,633.1 171.3,633.2 172.2,633.2 173.2,633.3 174.1,633.3" fill="none" stroke="#2233ee" stroke-width="1.3" stroke-linejoin="round"/>
<line x1="89.275" y1="561" x2="89.275" y2="568" stroke="#ee1c24" stroke-width="0.8"/>
<line x1="87.67500000000001" y1="561" x2="90.875" y2="561" stroke="#ee1c24" stroke-width="0.8"/>
<line x1="87.67500000000001" y1="568" x2="90.875" y2="568" stroke="#ee1c24" stroke-width="0.8"/>
<line x1="117.55" y1="595" x2="117.55" y2="609.6" stroke="#ee1c24" stroke-width="0.8"/>
<line x1="115.95" y1="595" x2="119.14999999999999" y2="595" stroke="#ee1c24" stroke-width="0.8"/>
<line x1="115.95" y1="609.6" x2="119.14999999999999" y2="609.6" stroke="#ee1c24" stroke-width="0.8"/>
<line x1="68.54" y1="573.6" x2="68.54" y2="588" stroke="#2233ee" stroke-width="0.8"/>
<line x1="66.94000000000001" y1="573.6" x2="70.14" y2="573.6" stroke="#2233ee" stroke-width="0.8"/>
<line x1="66.94000000000001" y1="588" x2="70.14" y2="588" stroke="#2233ee" stroke-width="0.8"/>
<line x1="75.326" y1="572.6" x2="75.326" y2="596" stroke="#2233ee" stroke-width="0.8"/>
<line x1="73.726" y1="572.6" x2="76.92599999999999" y2="572.6" stroke="#2233ee" stroke-width="0.8"/>
<line x1="73.726" y1="596" x2="76.92599999999999" y2="596" stroke="#2233ee" stroke-width="0.8"/>
<line x1="89.275" y1="600" x2="89.275" y2="614" stroke="#2233ee" stroke-width="0.8"/>
<line x1="87.67500000000001" y1="600" x2="90.875" y2="600" stroke="#2233ee" stroke-width="0.8"/>
<line x1="87.67500000000001" y1="614" x2="90.875" y2="614" stroke="#2233ee" stroke-width="0.8"/>
<circle cx="61.1" cy="561" r="2.1" fill="#ee1c24"/>
<circle cx="68.5" cy="562" r="2.1" fill="#ee1c24"/>
<circle cx="75.6" cy="562" r="2.1" fill="#ee1c24"/>
<circle cx="89.6" cy="565.3" r="2.1" fill="#ee1c24"/>
<circle cx="118.3" cy="601.8" r="2.1" fill="#ee1c24"/>
<rect x="59.2" y="569.0" width="3.8" height="3.8" fill="#2233ee" stroke="none" stroke-width="0.8"/>
<rect x="66.6" y="578.9" width="3.8" height="3.8" fill="#2233ee" stroke="none" stroke-width="0.8"/>
<rect x="73.69999999999999" y="582.9" width="3.8" height="3.8" fill="#2233ee" stroke="none" stroke-width="0.8"/>
<rect x="87.69999999999999" y="605.5" width="3.8" height="3.8" fill="#2233ee" stroke="none" stroke-width="0.8"/>
<rect x="116.39999999999999" y="617.8000000000001" width="3.8" height="3.8" fill="#2233ee" stroke="none" stroke-width="0.8"/>
<rect x="172.4" y="625.8" width="3.2" height="3.2" fill="#e8206a" stroke="none" stroke-width="0.8"/>
<text x="64.4" y="556.6" font-size="7.66" fill="#ee1c24" textLength="50.6" lengthAdjust="spacingAndGlyphs">IC50=14.48μM</text>
<text x="81" y="589" font-size="7.42" fill="#2233ee" textLength="49" lengthAdjust="spacingAndGlyphs">IC50=5.432μM</text>
<line x1="146.6" y1="543.6" x2="158" y2="543.6" stroke="#ee1c24" stroke-width="0.9"/>
<circle cx="152" cy="543.6" r="1.6" fill="#ee1c24"/>
<line x1="146.6" y1="558.6" x2="158" y2="558.6" stroke="#2233ee" stroke-width="0.9"/>
<rect x="150.4" y="557" width="3.2" height="3.2" fill="#2233ee" stroke="none" stroke-width="0.8"/>
<text x="165" y="547" font-size="8.34" fill="#333" textLength="19" lengthAdjust="spacingAndGlyphs">siCtrl</text>
<text x="165" y="561.8" font-size="8.47" fill="#333" textLength="24" lengthAdjust="spacingAndGlyphs">siVDR</text>
<text x="211.8" y="512.7" font-size="11" fill="#111" stroke="#111" stroke-width="0.35">k</text>
<text x="268.9" y="523.6" font-size="8.2" fill="#222" text-anchor="middle">siCtrl</text>
<text x="344.3" y="523.6" font-size="8.2" fill="#222" text-anchor="middle">siCtrl+GEF</text>
<text x="415.8" y="523.6" font-size="8.2" fill="#222" text-anchor="middle">siVDR</text>
<text x="489.8" y="523.6" font-size="8.2" fill="#222" text-anchor="middle">siVDR+GEF</text>
<text transform="translate(526.5,558.5) rotate(-90)" font-size="8.2" fill="#222" text-anchor="middle">PC9</text>
<text transform="translate(527.5,633) rotate(-90)" font-size="7.52" fill="#222" text-anchor="middle" textLength="28" lengthAdjust="spacingAndGlyphs">PC9/GR</text>
<text transform="translate(223.3,594.7) rotate(-90)" font-size="8.2" fill="#222" text-anchor="middle">PI</text>
<text x="357.2" y="686.1" font-size="7.65" fill="#222" textLength="54.4" lengthAdjust="spacingAndGlyphs">Annexin-V FITC</text>
<defs><marker id="ah2" viewBox="0 0 6 6" refX="4" refY="3" markerWidth="4.5" markerHeight="4.5" orient="auto"><path d="M0,0 L6,3 L0,6 z" fill="#33221a"/></marker></defs>
<path d="M226.2,677 V522.5" stroke="#33221a" stroke-width="1.3" fill="none" marker-end="url(#ah2)"/>
<path d="M225.6,676.8 H525" stroke="#33221a" stroke-width="1.3" fill="none" marker-end="url(#ah2)"/>
<rect x="237.5" y="526.3" width="61.8" height="62.3" fill="#fff" stroke="#a8a8a8" stroke-width="0.6"/>
<clipPath id="kc00"><rect x="237.5" y="526.3" width="61.8" height="62.3"/></clipPath>
<g clip-path="url(#kc00)">
<path d="M258.7 579.8h0.7v0.7h-0.7zM256.0 576.2h0.7v0.7h-0.7zM251.5 580.8h0.7v0.7h-0.7zM266.8 571.2h0.7v0.7h-0.7zM262.1 574.7h0.7v0.7h-0.7zM250.1 589.5h0.7v0.7h-0.7zM264.0 575.3h0.7v0.7h-0.7zM240.8 578.8h0.7v0.7h-0.7zM250.8 579.5h0.7v0.7h-0.7zM260.7 574.2h0.7v0.7h-0.7zM260.1 570.5h0.7v0.7h-0.7zM262.2 576.0h0.7v0.7h-0.7zM260.1 587.2h0.7v0.7h-0.7zM266.8 577.9h0.7v0.7h-0.7zM251.8 576.8h0.7v0.7h-0.7zM255.9 577.8h0.7v0.7h-0.7zM264.0 573.5h0.7v0.7h-0.7zM252.2 574.8h0.7v0.7h-0.7zM259.3 584.3h0.7v0.7h-0.7zM253.9 582.0h0.7v0.7h-0.7zM256.5 567.5h0.7v0.7h-0.7zM263.6 581.4h0.7v0.7h-0.7zM243.5 586.7h0.7v0.7h-0.7zM255.1 573.4h0.7v0.7h-0.7zM262.0 573.0h0.7v0.7h-0.7zM251.4 588.2h0.7v0.7h-0.7zM266.7 576.2h0.7v0.7h-0.7zM255.0 570.1h0.7v0.7h-0.7zM260.9 570.0h0.7v0.7h-0.7zM251.1 573.6h0.7v0.7h-0.7zM250.1 579.7h0.7v0.7h-0.7zM260.6 560.2h0.7v0.7h-0.7zM249.4 585.7h0.7v0.7h-0.7zM236.6 576.8h0.7v0.7h-0.7zM258.6 571.0h0.7v0.7h-0.7zM254.3 586.8h0.7v0.7h-0.7zM266.9 570.4h0.7v0.7h-0.7zM261.9 576.6h0.7v0.7h-0.7zM264.2 575.4h0.7v0.7h-0.7zM252.2 590.7h0.7v0.7h-0.7zM267.2 572.8h0.7v0.7h-0.7zM242.7 585.1h0.7v0.7h-0.7zM258.3 563.7h0.7v0.7h-0.7zM261.0 581.5h0.7v0.7h-0.7zM255.2 590.6h0.7v0.7h-0.7zM262.0 572.3h0.7v0.7h-0.7zM263.2 577.0h0.7v0.7h-0.7zM263.5 580.3h0.7v0.7h-0.7zM252.6 578.3h0.7v0.7h-0.7zM266.1 570.2h0.7v0.7h-0.7zM255.9 585.3h0.7v0.7h-0.7zM267.4 565.8h0.7v0.7h-0.7zM248.6 583.7h0.7v0.7h-0.7zM256.6 575.8h0.7v0.7h-0.7zM264.9 563.7h0.7v0.7h-0.7zM263.1 563.5h0.7v0.7h-0.7zM255.4 583.4h0.7v0.7h-0.7zM261.6 574.8h0.7v0.7h-0.7zM261.8 577.7h0.7v0.7h-0.7zM258.4 578.4h0.7v0.7h-0.7zM262.7 572.8h0.7v0.7h-0.7zM266.0 574.1h0.7v0.7h-0.7zM254.4 577.2h0.7v0.7h-0.7zM261.8 580.1h0.7v0.7h-0.7zM257.7 579.8h0.7v0.7h-0.7zM251.7 583.8h0.7v0.7h-0.7zM262.3 574.9h0.7v0.7h-0.7zM258.0 581.5h0.7v0.7h-0.7zM258.8 572.4h0.7v0.7h-0.7zM254.5 579.0h0.7v0.7h-0.7zM256.9 577.3h0.7v0.7h-0.7zM237.9 590.2h0.7v0.7h-0.7zM261.7 565.4h0.7v0.7h-0.7zM261.6 580.6h0.7v0.7h-0.7zM245.6 584.7h0.7v0.7h-0.7zM258.5 580.8h0.7v0.7h-0.7zM256.9 558.6h0.7v0.7h-0.7zM261.2 563.8h0.7v0.7h-0.7zM258.3 566.0h0.7v0.7h-0.7zM264.1 580.1h0.7v0.7h-0.7zM258.3 577.9h0.7v0.7h-0.7zM264.8 572.1h0.7v0.7h-0.7zM263.4 583.1h0.7v0.7h-0.7zM265.0 568.8h0.7v0.7h-0.7zM264.2 569.7h0.7v0.7h-0.7zM262.1 578.4h0.7v0.7h-0.7zM262.5 577.6h0.7v0.7h-0.7zM242.8 578.9h0.7v0.7h-0.7zM259.6 568.6h0.7v0.7h-0.7zM246.4 576.1h0.7v0.7h-0.7zM265.7 563.7h0.7v0.7h-0.7zM254.7 571.4h0.7v0.7h-0.7zM257.9 587.9h0.7v0.7h-0.7zM265.0 569.7h0.7v0.7h-0.7zM249.8 593.6h0.7v0.7h-0.7zM255.9 574.3h0.7v0.7h-0.7zM262.9 575.6h0.7v0.7h-0.7zM265.6 563.2h0.7v0.7h-0.7zM257.1 584.8h0.7v0.7h-0.7zM259.9 576.0h0.7v0.7h-0.7zM267.7 566.8h0.7v0.7h-0.7zM241.3 588.1h0.7v0.7h-0.7zM248.6 590.5h0.7v0.7h-0.7zM258.8 571.8h0.7v0.7h-0.7zM261.5 579.7h0.7v0.7h-0.7zM263.9 581.3h0.7v0.7h-0.7zM261.9 580.9h0.7v0.7h-0.7zM257.1 583.8h0.7v0.7h-0.7zM241.8 582.7h0.7v0.7h-0.7zM248.7 592.2h0.7v0.7h-0.7zM250.0 583.4h0.7v0.7h-0.7zM257.3 577.2h0.7v0.7h-0.7zM255.4 580.6h0.7v0.7h-0.7zM265.9 577.3h0.7v0.7h-0.7zM252.9 572.1h0.7v0.7h-0.7zM258.6 583.9h0.7v0.7h-0.7zM245.1 583.4h0.7v0.7h-0.7zM261.6 579.5h0.7v0.7h-0.7zM255.7 570.3h0.7v0.7h-0.7zM245.5 582.7h0.7v0.7h-0.7zM263.2 568.4h0.7v0.7h-0.7zM249.7 578.3h0.7v0.7h-0.7zM247.6 584.7h0.7v0.7h-0.7zM251.7 584.6h0.7v0.7h-0.7zM243.4 591.4h0.7v0.7h-0.7zM247.4 571.9h0.7v0.7h-0.7zM262.8 570.8h0.7v0.7h-0.7zM240.1 585.6h0.7v0.7h-0.7zM259.1 572.6h0.7v0.7h-0.7zM266.8 574.7h0.7v0.7h-0.7zM264.5 573.7h0.7v0.7h-0.7zM254.6 564.9h0.7v0.7h-0.7zM255.0 576.0h0.7v0.7h-0.7zM254.6 584.5h0.7v0.7h-0.7zM265.8 576.7h0.7v0.7h-0.7zM252.1 581.1h0.7v0.7h-0.7zM263.6 577.9h0.7v0.7h-0.7zM257.8 575.6h0.7v0.7h-0.7zM250.3 580.7h0.7v0.7h-0.7zM265.3 571.4h0.7v0.7h-0.7zM249.8 577.7h0.7v0.7h-0.7zM254.1 561.7h0.7v0.7h-0.7zM264.7 574.6h0.7v0.7h-0.7zM260.1 578.8h0.7v0.7h-0.7zM248.7 591.9h0.7v0.7h-0.7zM258.5 571.4h0.7v0.7h-0.7zM246.6 581.6h0.7v0.7h-0.7zM261.4 575.3h0.7v0.7h-0.7zM252.5 574.5h0.7v0.7h-0.7zM245.7 577.6h0.7v0.7h-0.7zM253.5 582.4h0.7v0.7h-0.7zM241.0 585.7h0.7v0.7h-0.7zM260.1 578.7h0.7v0.7h-0.7zM253.2 579.9h0.7v0.7h-0.7zM263.2 575.1h0.7v0.7h-0.7zM263.9 573.3h0.7v0.7h-0.7zM259.2 581.4h0.7v0.7h-0.7zM256.2 572.5h0.7v0.7h-0.7zM254.3 579.9h0.7v0.7h-0.7zM258.5 577.5h0.7v0.7h-0.7zM259.3 576.9h0.7v0.7h-0.7zM253.4 571.7h0.7v0.7h-0.7zM265.3 578.1h0.7v0.7h-0.7zM261.1 572.9h0.7v0.7h-0.7zM258.4 569.6h0.7v0.7h-0.7zM245.7 587.6h0.7v0.7h-0.7zM254.8 584.7h0.7v0.7h-0.7zM241.9 571.6h0.7v0.7h-0.7zM257.0 588.9h0.7v0.7h-0.7zM251.2 572.7h0.7v0.7h-0.7zM255.2 582.8h0.7v0.7h-0.7zM262.8 574.0h0.7v0.7h-0.7zM260.6 578.8h0.7v0.7h-0.7zM262.1 565.7h0.7v0.7h-0.7zM260.2 580.1h0.7v0.7h-0.7zM260.4 582.4h0.7v0.7h-0.7zM266.0 576.5h0.7v0.7h-0.7zM266.1 588.1h0.7v0.7h-0.7zM266.6 568.0h0.7v0.7h-0.7zM259.4 581.9h0.7v0.7h-0.7zM265.6 570.5h0.7v0.7h-0.7zM251.2 583.8h0.7v0.7h-0.7zM265.2 578.8h0.7v0.7h-0.7zM264.3 571.7h0.7v0.7h-0.7zM266.6 573.4h0.7v0.7h-0.7zM260.3 575.2h0.7v0.7h-0.7zM259.4 580.5h0.7v0.7h-0.7zM249.1 579.8h0.7v0.7h-0.7zM253.6 570.1h0.7v0.7h-0.7zM248.6 570.4h0.7v0.7h-0.7zM255.9 582.6h0.7v0.7h-0.7zM262.5 572.7h0.7v0.7h-0.7zM252.1 571.7h0.7v0.7h-0.7zM263.3 566.1h0.7v0.7h-0.7zM251.0 569.7h0.7v0.7h-0.7zM267.4 575.5h0.7v0.7h-0.7zM245.3 587.1h0.7v0.7h-0.7zM256.9 565.2h0.7v0.7h-0.7zM242.2 582.5h0.7v0.7h-0.7zM249.4 574.0h0.7v0.7h-0.7zM259.8 577.1h0.7v0.7h-0.7zM265.6 575.4h0.7v0.7h-0.7zM247.8 581.8h0.7v0.7h-0.7zM247.5 577.9h0.7v0.7h-0.7zM258.2 576.7h0.7v0.7h-0.7zM256.6 566.7h0.7v0.7h-0.7zM250.0 583.4h0.7v0.7h-0.7z" fill="#f42424" opacity="0.45"/>
<ellipse cx="258.7" cy="576.2" rx="8.9" ry="4.8" fill="#f42424" opacity="0.85" filter="url(#b1)" transform="rotate(-40 258.7 576.2)"/>
<path d="M257.2 576.2h0.8v0.8h-0.8zM256.9 574.7h0.8v0.8h-0.8zM262.5 574.5h0.8v0.8h-0.8zM257.0 574.9h0.8v0.8h-0.8zM252.6 570.5h0.8v0.8h-0.8zM254.5 579.9h0.8v0.8h-0.8zM252.5 582.2h0.8v0.8h-0.8zM256.6 572.4h0.8v0.8h-0.8zM257.0 576.4h0.8v0.8h-0.8zM261.9 575.9h0.8v0.8h-0.8zM256.9 574.3h0.8v0.8h-0.8zM257.9 576.6h0.8v0.8h-0.8zM262.5 574.2h0.8v0.8h-0.8zM252.9 575.7h0.8v0.8h-0.8zM255.6 575.8h0.8v0.8h-0.8zM253.6 580.0h0.8v0.8h-0.8zM256.8 578.2h0.8v0.8h-0.8zM260.2 573.3h0.8v0.8h-0.8zM263.7 572.4h0.8v0.8h-0.8zM258.9 566.5h0.8v0.8h-0.8zM255.9 579.5h0.8v0.8h-0.8zM265.9 579.5h0.8v0.8h-0.8zM262.6 578.0h0.8v0.8h-0.8zM263.9 575.6h0.8v0.8h-0.8zM260.6 574.0h0.8v0.8h-0.8zM258.8 571.8h0.8v0.8h-0.8zM261.9 569.5h0.8v0.8h-0.8zM264.0 580.3h0.8v0.8h-0.8zM257.8 577.1h0.8v0.8h-0.8zM263.8 572.0h0.8v0.8h-0.8zM255.7 579.8h0.8v0.8h-0.8zM262.6 575.7h0.8v0.8h-0.8zM258.8 583.1h0.8v0.8h-0.8zM266.0 570.1h0.8v0.8h-0.8zM259.0 574.2h0.8v0.8h-0.8zM263.5 569.4h0.8v0.8h-0.8zM260.7 572.6h0.8v0.8h-0.8zM257.1 580.4h0.8v0.8h-0.8zM264.5 571.3h0.8v0.8h-0.8zM257.3 580.6h0.8v0.8h-0.8zM259.1 577.1h0.8v0.8h-0.8zM267.6 573.3h0.8v0.8h-0.8zM260.9 583.5h0.8v0.8h-0.8zM260.3 578.0h0.8v0.8h-0.8zM255.8 578.5h0.8v0.8h-0.8zM254.6 586.8h0.8v0.8h-0.8zM262.3 568.3h0.8v0.8h-0.8zM248.9 577.9h0.8v0.8h-0.8zM262.9 570.8h0.8v0.8h-0.8zM257.8 575.7h0.8v0.8h-0.8zM256.0 574.1h0.8v0.8h-0.8zM256.0 572.7h0.8v0.8h-0.8zM259.0 577.2h0.8v0.8h-0.8zM260.3 573.9h0.8v0.8h-0.8zM255.1 579.9h0.8v0.8h-0.8zM259.7 581.6h0.8v0.8h-0.8zM261.8 573.1h0.8v0.8h-0.8zM255.3 576.3h0.8v0.8h-0.8zM253.9 578.8h0.8v0.8h-0.8zM261.0 576.3h0.8v0.8h-0.8zM265.3 579.0h0.8v0.8h-0.8zM255.6 578.8h0.8v0.8h-0.8zM267.2 561.6h0.8v0.8h-0.8zM256.8 578.5h0.8v0.8h-0.8zM260.2 576.6h0.8v0.8h-0.8zM258.4 577.9h0.8v0.8h-0.8zM260.4 577.8h0.8v0.8h-0.8zM248.7 581.1h0.8v0.8h-0.8zM256.7 573.8h0.8v0.8h-0.8zM255.4 581.5h0.8v0.8h-0.8zM257.1 580.1h0.8v0.8h-0.8zM262.6 574.2h0.8v0.8h-0.8zM260.7 574.1h0.8v0.8h-0.8zM252.5 581.3h0.8v0.8h-0.8zM259.6 573.3h0.8v0.8h-0.8zM259.7 578.3h0.8v0.8h-0.8zM256.1 580.9h0.8v0.8h-0.8zM265.7 568.1h0.8v0.8h-0.8zM259.0 575.3h0.8v0.8h-0.8zM266.0 571.3h0.8v0.8h-0.8zM261.3 571.3h0.8v0.8h-0.8zM258.6 576.2h0.8v0.8h-0.8zM253.8 586.1h0.8v0.8h-0.8zM259.2 568.8h0.8v0.8h-0.8zM261.7 573.2h0.8v0.8h-0.8zM261.4 575.4h0.8v0.8h-0.8zM251.7 581.2h0.8v0.8h-0.8zM264.1 569.4h0.8v0.8h-0.8zM251.6 576.8h0.8v0.8h-0.8zM254.0 581.5h0.8v0.8h-0.8zM266.9 571.0h0.8v0.8h-0.8zM264.2 580.5h0.8v0.8h-0.8zM255.1 576.5h0.8v0.8h-0.8zM262.1 575.5h0.8v0.8h-0.8zM252.0 577.2h0.8v0.8h-0.8zM260.5 575.7h0.8v0.8h-0.8zM252.6 580.5h0.8v0.8h-0.8zM257.2 579.3h0.8v0.8h-0.8zM258.0 576.4h0.8v0.8h-0.8zM259.2 580.0h0.8v0.8h-0.8zM264.1 570.2h0.8v0.8h-0.8zM260.9 571.3h0.8v0.8h-0.8zM260.5 577.7h0.8v0.8h-0.8zM264.6 569.8h0.8v0.8h-0.8zM258.8 576.9h0.8v0.8h-0.8zM252.2 581.7h0.8v0.8h-0.8zM256.5 579.5h0.8v0.8h-0.8zM249.9 575.7h0.8v0.8h-0.8zM259.4 576.7h0.8v0.8h-0.8zM258.1 580.3h0.8v0.8h-0.8zM256.3 575.8h0.8v0.8h-0.8zM257.7 570.8h0.8v0.8h-0.8zM255.7 578.6h0.8v0.8h-0.8zM262.1 572.7h0.8v0.8h-0.8zM258.8 573.5h0.8v0.8h-0.8zM263.3 579.0h0.8v0.8h-0.8zM260.4 584.3h0.8v0.8h-0.8zM255.9 578.6h0.8v0.8h-0.8zM261.5 578.0h0.8v0.8h-0.8zM249.2 575.8h0.8v0.8h-0.8zM262.9 575.8h0.8v0.8h-0.8zM266.6 580.1h0.8v0.8h-0.8zM260.1 576.0h0.8v0.8h-0.8zM263.5 573.7h0.8v0.8h-0.8zM263.5 567.2h0.8v0.8h-0.8zM250.3 569.5h0.8v0.8h-0.8zM261.5 572.4h0.8v0.8h-0.8zM267.0 577.9h0.8v0.8h-0.8zM258.2 575.6h0.8v0.8h-0.8zM254.9 576.1h0.8v0.8h-0.8zM257.2 580.0h0.8v0.8h-0.8zM259.0 576.2h0.8v0.8h-0.8zM259.7 579.0h0.8v0.8h-0.8zM260.6 574.1h0.8v0.8h-0.8zM261.3 573.4h0.8v0.8h-0.8zM256.5 583.8h0.8v0.8h-0.8zM258.8 572.3h0.8v0.8h-0.8zM264.1 573.1h0.8v0.8h-0.8zM255.0 585.7h0.8v0.8h-0.8zM261.9 577.1h0.8v0.8h-0.8zM259.3 575.1h0.8v0.8h-0.8zM253.9 584.1h0.8v0.8h-0.8zM258.3 575.4h0.8v0.8h-0.8zM260.4 575.1h0.8v0.8h-0.8zM260.9 572.9h0.8v0.8h-0.8zM254.3 571.3h0.8v0.8h-0.8zM258.2 579.3h0.8v0.8h-0.8zM263.8 570.4h0.8v0.8h-0.8zM261.3 580.4h0.8v0.8h-0.8zM258.7 579.1h0.8v0.8h-0.8zM266.1 570.1h0.8v0.8h-0.8zM262.7 570.0h0.8v0.8h-0.8zM259.5 575.3h0.8v0.8h-0.8zM261.4 578.4h0.8v0.8h-0.8zM267.8 565.9h0.8v0.8h-0.8zM257.2 579.5h0.8v0.8h-0.8zM255.1 581.2h0.8v0.8h-0.8zM260.7 573.5h0.8v0.8h-0.8zM258.0 570.6h0.8v0.8h-0.8zM259.0 569.8h0.8v0.8h-0.8zM254.6 577.4h0.8v0.8h-0.8zM258.6 579.7h0.8v0.8h-0.8zM258.3 575.0h0.8v0.8h-0.8zM264.2 577.9h0.8v0.8h-0.8zM259.4 577.0h0.8v0.8h-0.8zM264.6 572.3h0.8v0.8h-0.8zM258.0 586.7h0.8v0.8h-0.8zM264.4 563.5h0.8v0.8h-0.8zM259.3 577.3h0.8v0.8h-0.8zM264.2 574.2h0.8v0.8h-0.8zM255.4 574.7h0.8v0.8h-0.8zM261.2 578.2h0.8v0.8h-0.8zM251.9 577.8h0.8v0.8h-0.8zM254.8 571.7h0.8v0.8h-0.8zM256.7 576.1h0.8v0.8h-0.8zM259.3 572.9h0.8v0.8h-0.8zM254.1 578.5h0.8v0.8h-0.8zM257.2 574.8h0.8v0.8h-0.8zM260.2 577.9h0.8v0.8h-0.8zM267.2 575.9h0.8v0.8h-0.8zM254.5 578.1h0.8v0.8h-0.8zM251.6 589.7h0.8v0.8h-0.8zM255.5 578.8h0.8v0.8h-0.8zM258.3 571.1h0.8v0.8h-0.8zM260.7 574.4h0.8v0.8h-0.8zM251.3 583.6h0.8v0.8h-0.8zM260.2 567.4h0.8v0.8h-0.8zM262.6 573.7h0.8v0.8h-0.8zM261.6 575.5h0.8v0.8h-0.8zM264.0 570.9h0.8v0.8h-0.8zM261.7 572.0h0.8v0.8h-0.8zM260.3 571.6h0.8v0.8h-0.8zM261.6 580.7h0.8v0.8h-0.8zM260.3 574.2h0.8v0.8h-0.8zM252.1 578.5h0.8v0.8h-0.8zM261.4 577.7h0.8v0.8h-0.8zM261.6 575.9h0.8v0.8h-0.8zM261.2 579.5h0.8v0.8h-0.8zM255.9 576.3h0.8v0.8h-0.8zM262.7 573.1h0.8v0.8h-0.8zM256.4 575.9h0.8v0.8h-0.8zM258.8 578.6h0.8v0.8h-0.8zM257.9 572.1h0.8v0.8h-0.8zM260.9 575.1h0.8v0.8h-0.8zM255.9 581.7h0.8v0.8h-0.8zM256.8 576.4h0.8v0.8h-0.8zM264.8 576.4h0.8v0.8h-0.8zM256.6 579.8h0.8v0.8h-0.8zM259.4 584.8h0.8v0.8h-0.8zM258.9 580.8h0.8v0.8h-0.8zM257.5 580.5h0.8v0.8h-0.8zM263.4 562.1h0.8v0.8h-0.8zM257.8 579.0h0.8v0.8h-0.8zM257.0 575.0h0.8v0.8h-0.8zM253.2 584.2h0.8v0.8h-0.8zM253.4 585.2h0.8v0.8h-0.8zM256.5 578.7h0.8v0.8h-0.8zM264.4 571.9h0.8v0.8h-0.8zM249.3 577.3h0.8v0.8h-0.8zM265.3 573.6h0.8v0.8h-0.8zM256.8 581.2h0.8v0.8h-0.8zM262.1 575.9h0.8v0.8h-0.8zM248.2 583.8h0.8v0.8h-0.8zM264.1 574.6h0.8v0.8h-0.8zM257.7 567.2h0.8v0.8h-0.8zM260.4 576.7h0.8v0.8h-0.8zM257.3 577.5h0.8v0.8h-0.8zM261.7 571.9h0.8v0.8h-0.8zM262.2 570.1h0.8v0.8h-0.8zM258.8 574.0h0.8v0.8h-0.8zM258.0 574.0h0.8v0.8h-0.8zM253.9 584.6h0.8v0.8h-0.8zM258.9 573.8h0.8v0.8h-0.8zM261.5 577.8h0.8v0.8h-0.8zM254.2 579.5h0.8v0.8h-0.8zM262.1 575.5h0.8v0.8h-0.8zM253.1 572.5h0.8v0.8h-0.8zM264.8 572.4h0.8v0.8h-0.8zM258.2 575.5h0.8v0.8h-0.8zM259.0 574.2h0.8v0.8h-0.8zM252.8 578.2h0.8v0.8h-0.8zM254.9 577.0h0.8v0.8h-0.8zM254.9 581.9h0.8v0.8h-0.8zM254.3 582.5h0.8v0.8h-0.8zM255.0 580.7h0.8v0.8h-0.8zM265.1 571.6h0.8v0.8h-0.8zM255.6 579.0h0.8v0.8h-0.8zM255.9 571.6h0.8v0.8h-0.8zM256.4 578.8h0.8v0.8h-0.8zM256.8 578.1h0.8v0.8h-0.8zM263.4 575.3h0.8v0.8h-0.8zM263.8 574.3h0.8v0.8h-0.8zM257.4 577.2h0.8v0.8h-0.8zM256.9 576.5h0.8v0.8h-0.8zM254.5 572.8h0.8v0.8h-0.8zM257.2 577.4h0.8v0.8h-0.8zM254.4 579.7h0.8v0.8h-0.8zM260.6 573.9h0.8v0.8h-0.8zM262.6 562.5h0.8v0.8h-0.8zM254.2 572.7h0.8v0.8h-0.8zM248.0 585.7h0.8v0.8h-0.8zM260.4 573.6h0.8v0.8h-0.8zM256.7 568.9h0.8v0.8h-0.8zM263.2 574.0h0.8v0.8h-0.8zM257.6 574.7h0.8v0.8h-0.8zM260.5 572.7h0.8v0.8h-0.8zM258.7 574.2h0.8v0.8h-0.8zM248.8 584.4h0.8v0.8h-0.8zM261.1 577.2h0.8v0.8h-0.8zM254.8 579.3h0.8v0.8h-0.8zM261.7 574.3h0.8v0.8h-0.8zM251.0 575.0h0.8v0.8h-0.8zM265.4 576.6h0.8v0.8h-0.8zM264.3 574.7h0.8v0.8h-0.8zM254.6 576.8h0.8v0.8h-0.8zM260.8 570.8h0.8v0.8h-0.8zM248.8 580.5h0.8v0.8h-0.8zM254.3 577.0h0.8v0.8h-0.8zM258.2 573.6h0.8v0.8h-0.8zM264.3 571.2h0.8v0.8h-0.8zM256.5 583.2h0.8v0.8h-0.8zM256.6 578.9h0.8v0.8h-0.8zM258.0 575.5h0.8v0.8h-0.8zM258.8 573.4h0.8v0.8h-0.8zM246.3 577.8h0.8v0.8h-0.8zM251.7 579.1h0.8v0.8h-0.8zM258.7 576.4h0.8v0.8h-0.8zM261.4 574.4h0.8v0.8h-0.8zM253.8 577.4h0.8v0.8h-0.8zM249.1 583.6h0.8v0.8h-0.8zM261.9 575.7h0.8v0.8h-0.8zM257.8 576.2h0.8v0.8h-0.8zM262.8 572.8h0.8v0.8h-0.8zM263.1 574.9h0.8v0.8h-0.8z" fill="#f42424"/>
<path d="M257.1 551.9h0.6v0.6h-0.6zM248.6 547.0h0.6v0.6h-0.6zM246.2 545.8h0.6v0.6h-0.6zM254.5 549.3h0.6v0.6h-0.6zM263.6 547.2h0.6v0.6h-0.6zM260.6 538.4h0.6v0.6h-0.6zM249.4 550.7h0.6v0.6h-0.6zM264.5 543.5h0.6v0.6h-0.6zM246.5 547.8h0.6v0.6h-0.6zM247.2 545.2h0.6v0.6h-0.6zM263.8 540.2h0.6v0.6h-0.6zM257.0 556.1h0.6v0.6h-0.6zM262.9 545.2h0.6v0.6h-0.6zM249.5 550.4h0.6v0.6h-0.6zM266.6 545.2h0.6v0.6h-0.6zM263.1 544.0h0.6v0.6h-0.6zM257.1 544.7h0.6v0.6h-0.6zM258.7 551.3h0.6v0.6h-0.6zM242.6 550.7h0.6v0.6h-0.6zM254.4 543.9h0.6v0.6h-0.6zM252.4 551.2h0.6v0.6h-0.6zM253.6 539.5h0.6v0.6h-0.6zM251.5 542.4h0.6v0.6h-0.6zM251.4 542.5h0.6v0.6h-0.6zM254.8 548.8h0.6v0.6h-0.6zM254.2 548.1h0.6v0.6h-0.6zM249.3 555.4h0.6v0.6h-0.6zM245.8 541.1h0.6v0.6h-0.6zM250.9 544.3h0.6v0.6h-0.6zM245.4 548.3h0.6v0.6h-0.6zM253.9 541.2h0.6v0.6h-0.6zM254.7 553.4h0.6v0.6h-0.6zM258.4 544.5h0.6v0.6h-0.6zM254.3 546.1h0.6v0.6h-0.6zM254.3 550.2h0.6v0.6h-0.6zM249.1 537.1h0.6v0.6h-0.6zM252.0 543.3h0.6v0.6h-0.6zM257.5 542.6h0.6v0.6h-0.6zM258.0 555.8h0.6v0.6h-0.6zM243.9 545.1h0.6v0.6h-0.6zM239.2 540.7h0.6v0.6h-0.6zM239.9 553.7h0.6v0.6h-0.6zM245.8 540.8h0.6v0.6h-0.6zM243.3 553.7h0.6v0.6h-0.6zM247.1 547.6h0.6v0.6h-0.6zM258.1 551.8h0.6v0.6h-0.6zM254.9 547.4h0.6v0.6h-0.6zM251.9 549.8h0.6v0.6h-0.6zM255.7 546.4h0.6v0.6h-0.6zM247.7 542.8h0.6v0.6h-0.6zM247.1 541.9h0.6v0.6h-0.6zM263.5 545.9h0.6v0.6h-0.6zM246.6 556.2h0.6v0.6h-0.6zM257.3 536.5h0.6v0.6h-0.6zM267.1 536.1h0.6v0.6h-0.6zM258.1 547.3h0.6v0.6h-0.6zM255.3 547.2h0.6v0.6h-0.6zM259.1 537.8h0.6v0.6h-0.6zM242.0 544.5h0.6v0.6h-0.6zM248.4 546.0h0.6v0.6h-0.6zM256.7 547.1h0.6v0.6h-0.6zM252.7 544.1h0.6v0.6h-0.6zM251.6 552.2h0.6v0.6h-0.6zM259.4 545.3h0.6v0.6h-0.6z" fill="#f42424" opacity="0.45"/>
<path d="M278.6 546.5h0.7v0.7h-0.7zM277.7 544.2h0.7v0.7h-0.7zM283.3 541.8h0.7v0.7h-0.7zM282.2 539.6h0.7v0.7h-0.7zM282.8 543.0h0.7v0.7h-0.7zM274.5 544.2h0.7v0.7h-0.7zM276.7 545.8h0.7v0.7h-0.7zM277.4 542.1h0.7v0.7h-0.7zM280.5 541.6h0.7v0.7h-0.7zM280.4 541.1h0.7v0.7h-0.7zM281.7 542.5h0.7v0.7h-0.7zM280.3 535.3h0.7v0.7h-0.7zM283.3 542.6h0.7v0.7h-0.7zM273.9 542.7h0.7v0.7h-0.7zM281.1 545.3h0.7v0.7h-0.7zM276.1 546.5h0.7v0.7h-0.7zM279.1 548.7h0.7v0.7h-0.7zM279.1 544.3h0.7v0.7h-0.7zM278.4 539.6h0.7v0.7h-0.7zM283.1 544.9h0.7v0.7h-0.7zM284.5 544.7h0.7v0.7h-0.7zM277.8 538.2h0.7v0.7h-0.7zM277.5 540.7h0.7v0.7h-0.7zM277.0 544.0h0.7v0.7h-0.7zM280.6 541.8h0.7v0.7h-0.7zM280.2 542.1h0.7v0.7h-0.7zM280.3 544.5h0.7v0.7h-0.7zM282.7 540.7h0.7v0.7h-0.7zM274.8 546.2h0.7v0.7h-0.7zM280.0 545.4h0.7v0.7h-0.7zM274.3 541.6h0.7v0.7h-0.7zM279.7 538.8h0.7v0.7h-0.7zM277.9 544.4h0.7v0.7h-0.7zM283.1 546.6h0.7v0.7h-0.7zM276.8 538.9h0.7v0.7h-0.7zM281.3 544.9h0.7v0.7h-0.7zM280.2 539.1h0.7v0.7h-0.7zM282.1 544.6h0.7v0.7h-0.7zM281.4 541.2h0.7v0.7h-0.7zM280.6 544.6h0.7v0.7h-0.7zM277.8 537.7h0.7v0.7h-0.7zM280.7 543.8h0.7v0.7h-0.7zM279.6 544.8h0.7v0.7h-0.7zM277.7 542.3h0.7v0.7h-0.7zM278.6 544.0h0.7v0.7h-0.7zM284.7 541.8h0.7v0.7h-0.7zM286.2 546.5h0.7v0.7h-0.7zM282.1 544.0h0.7v0.7h-0.7zM285.3 542.0h0.7v0.7h-0.7zM279.2 539.7h0.7v0.7h-0.7zM281.1 546.0h0.7v0.7h-0.7zM281.3 543.6h0.7v0.7h-0.7zM279.0 542.9h0.7v0.7h-0.7zM275.0 545.2h0.7v0.7h-0.7zM278.3 539.6h0.7v0.7h-0.7zM277.2 540.4h0.7v0.7h-0.7zM282.3 545.3h0.7v0.7h-0.7zM275.3 544.9h0.7v0.7h-0.7zM282.4 541.0h0.7v0.7h-0.7zM274.8 540.6h0.7v0.7h-0.7zM277.6 543.4h0.7v0.7h-0.7zM278.5 537.2h0.7v0.7h-0.7zM280.3 538.5h0.7v0.7h-0.7zM282.5 539.4h0.7v0.7h-0.7zM277.4 540.3h0.7v0.7h-0.7zM277.9 545.9h0.7v0.7h-0.7zM282.3 544.1h0.7v0.7h-0.7zM280.6 538.5h0.7v0.7h-0.7zM277.9 541.1h0.7v0.7h-0.7zM276.5 543.8h0.7v0.7h-0.7z" fill="#3442e8" opacity="0.9"/>
<path d="M277.1 538.4h0.6v0.6h-0.6zM274.6 529.6h0.6v0.6h-0.6zM287.8 551.7h0.6v0.6h-0.6zM284.4 536.7h0.6v0.6h-0.6zM292.7 544.9h0.6v0.6h-0.6zM290.4 552.6h0.6v0.6h-0.6zM292.0 540.1h0.6v0.6h-0.6zM291.4 548.0h0.6v0.6h-0.6zM270.7 540.4h0.6v0.6h-0.6zM271.6 542.3h0.6v0.6h-0.6zM287.6 536.1h0.6v0.6h-0.6zM286.0 552.6h0.6v0.6h-0.6zM272.4 549.9h0.6v0.6h-0.6zM299.6 556.0h0.6v0.6h-0.6zM281.3 544.7h0.6v0.6h-0.6zM281.8 549.5h0.6v0.6h-0.6zM291.3 543.6h0.6v0.6h-0.6zM272.1 547.8h0.6v0.6h-0.6zM279.2 547.1h0.6v0.6h-0.6zM285.1 553.6h0.6v0.6h-0.6zM292.1 540.1h0.6v0.6h-0.6zM285.8 554.5h0.6v0.6h-0.6zM278.7 545.8h0.6v0.6h-0.6zM292.5 551.2h0.6v0.6h-0.6zM287.1 534.4h0.6v0.6h-0.6zM272.9 544.6h0.6v0.6h-0.6zM276.1 550.4h0.6v0.6h-0.6zM289.2 532.1h0.6v0.6h-0.6zM276.5 544.1h0.6v0.6h-0.6zM279.1 542.0h0.6v0.6h-0.6zM286.8 537.7h0.6v0.6h-0.6zM286.7 538.9h0.6v0.6h-0.6zM278.6 546.5h0.6v0.6h-0.6zM278.4 544.9h0.6v0.6h-0.6zM295.8 543.2h0.6v0.6h-0.6zM281.8 547.8h0.6v0.6h-0.6zM280.1 550.0h0.6v0.6h-0.6zM272.7 547.0h0.6v0.6h-0.6zM278.9 537.8h0.6v0.6h-0.6zM297.2 537.5h0.6v0.6h-0.6zM297.1 547.3h0.6v0.6h-0.6zM294.6 536.7h0.6v0.6h-0.6zM292.6 552.5h0.6v0.6h-0.6zM282.1 542.2h0.6v0.6h-0.6zM302.6 544.2h0.6v0.6h-0.6zM279.6 538.9h0.6v0.6h-0.6zM286.6 545.1h0.6v0.6h-0.6zM284.4 554.2h0.6v0.6h-0.6zM280.4 546.1h0.6v0.6h-0.6zM294.7 536.5h0.6v0.6h-0.6zM291.3 554.9h0.6v0.6h-0.6zM272.2 535.9h0.6v0.6h-0.6zM274.7 531.0h0.6v0.6h-0.6zM286.6 530.9h0.6v0.6h-0.6zM287.0 552.4h0.6v0.6h-0.6zM270.1 540.9h0.6v0.6h-0.6zM277.1 541.3h0.6v0.6h-0.6zM283.4 546.5h0.6v0.6h-0.6zM280.2 543.1h0.6v0.6h-0.6zM278.6 543.7h0.6v0.6h-0.6zM273.6 543.4h0.6v0.6h-0.6zM298.3 543.5h0.6v0.6h-0.6zM272.9 544.7h0.6v0.6h-0.6zM275.2 532.3h0.6v0.6h-0.6zM277.1 547.8h0.6v0.6h-0.6zM286.1 542.4h0.6v0.6h-0.6zM275.6 536.0h0.6v0.6h-0.6zM293.8 544.6h0.6v0.6h-0.6zM275.4 529.3h0.6v0.6h-0.6zM273.8 542.5h0.6v0.6h-0.6zM284.7 542.0h0.6v0.6h-0.6zM280.8 534.1h0.6v0.6h-0.6zM274.6 554.0h0.6v0.6h-0.6zM276.9 548.5h0.6v0.6h-0.6zM269.4 541.2h0.6v0.6h-0.6zM285.1 549.7h0.6v0.6h-0.6zM274.0 546.9h0.6v0.6h-0.6zM286.1 538.2h0.6v0.6h-0.6zM286.8 537.2h0.6v0.6h-0.6zM276.6 542.9h0.6v0.6h-0.6zM275.0 533.5h0.6v0.6h-0.6zM279.6 548.0h0.6v0.6h-0.6zM279.8 551.2h0.6v0.6h-0.6zM273.7 534.5h0.6v0.6h-0.6zM295.4 545.6h0.6v0.6h-0.6zM290.6 537.6h0.6v0.6h-0.6zM289.4 544.7h0.6v0.6h-0.6zM288.2 543.2h0.6v0.6h-0.6zM292.7 538.8h0.6v0.6h-0.6zM275.3 533.4h0.6v0.6h-0.6zM292.3 538.2h0.6v0.6h-0.6zM274.7 536.9h0.6v0.6h-0.6zM279.4 534.7h0.6v0.6h-0.6zM280.7 538.9h0.6v0.6h-0.6zM278.6 536.8h0.6v0.6h-0.6zM283.3 540.0h0.6v0.6h-0.6zM283.9 544.6h0.6v0.6h-0.6zM285.7 528.8h0.6v0.6h-0.6zM278.7 537.8h0.6v0.6h-0.6zM289.2 532.7h0.6v0.6h-0.6zM277.3 541.1h0.6v0.6h-0.6zM280.3 549.4h0.6v0.6h-0.6zM279.5 549.3h0.6v0.6h-0.6z" fill="#3442e8" opacity="0.6"/>
<path d="M276.9 573.8h0.6v0.6h-0.6zM274.0 573.0h0.6v0.6h-0.6zM273.9 569.7h0.6v0.6h-0.6zM275.8 571.4h0.6v0.6h-0.6zM275.9 572.9h0.6v0.6h-0.6zM276.5 572.4h0.6v0.6h-0.6zM270.4 573.3h0.6v0.6h-0.6zM270.3 571.3h0.6v0.6h-0.6zM272.4 573.1h0.6v0.6h-0.6zM278.1 572.8h0.6v0.6h-0.6zM279.5 577.2h0.6v0.6h-0.6zM278.9 575.4h0.6v0.6h-0.6zM272.5 573.0h0.6v0.6h-0.6zM271.4 570.9h0.6v0.6h-0.6zM271.7 571.1h0.6v0.6h-0.6zM278.6 574.0h0.6v0.6h-0.6zM270.2 567.9h0.6v0.6h-0.6zM271.8 571.7h0.6v0.6h-0.6zM271.7 579.2h0.6v0.6h-0.6zM271.9 572.3h0.6v0.6h-0.6zM277.8 573.0h0.6v0.6h-0.6zM272.7 571.8h0.6v0.6h-0.6zM269.6 576.4h0.6v0.6h-0.6zM276.0 577.0h0.6v0.6h-0.6zM270.6 572.8h0.6v0.6h-0.6z" fill="#1fb585" opacity="0.8"/>
</g>
<line x1="268.3" y1="526.3" x2="268.3" y2="588.5999999999999" stroke="#505050" stroke-width="0.7"/>
<line x1="237.5" y1="557.3" x2="299.3" y2="557.3" stroke="#505050" stroke-width="0.7"/>
<line x1="236.3" y1="529.0" x2="237.5" y2="529.0" stroke="#555" stroke-width="0.5"/>
<text x="235.9" y="530.7" font-size="4.4" fill="#222" text-anchor="end">10<tspan font-size="3.2" dy="-1.7">3</tspan></text>
<line x1="236.3" y1="543.6" x2="237.5" y2="543.6" stroke="#555" stroke-width="0.5"/>
<text x="235.9" y="545.3" font-size="4.4" fill="#222" text-anchor="end">10<tspan font-size="3.2" dy="-1.7">2</tspan></text>
<line x1="236.3" y1="558.2" x2="237.5" y2="558.2" stroke="#555" stroke-width="0.5"/>
<text x="235.9" y="559.9" font-size="4.4" fill="#222" text-anchor="end">10<tspan font-size="3.2" dy="-1.7">1</tspan></text>
<line x1="236.3" y1="572.8" x2="237.5" y2="572.8" stroke="#555" stroke-width="0.5"/>
<text x="235.9" y="574.5" font-size="4.4" fill="#222" text-anchor="end">10<tspan font-size="3.2" dy="-1.7">0</tspan></text>
<line x1="236.3" y1="587.4" x2="237.5" y2="587.4" stroke="#555" stroke-width="0.5"/>
<text x="235.3" y="589.1" font-size="4.4" fill="#222" text-anchor="end">10<tspan font-size="3.2" dy="-1.7">-1</tspan></text>
<line x1="241.2" y1="588.5999999999999" x2="241.2" y2="589.8" stroke="#555" stroke-width="0.5"/>
<text x="240.2" y="595.2" font-size="4.4" fill="#222" text-anchor="middle">10<tspan font-size="3.2" dy="-1.7">-1</tspan></text>
<line x1="254.6" y1="588.5999999999999" x2="254.6" y2="589.8" stroke="#555" stroke-width="0.5"/>
<text x="253.6" y="595.2" font-size="4.4" fill="#222" text-anchor="middle">10<tspan font-size="3.2" dy="-1.7">0</tspan></text>
<line x1="268.0" y1="588.5999999999999" x2="268.0" y2="589.8" stroke="#555" stroke-width="0.5"/>
<text x="267.0" y="595.2" font-size="4.4" fill="#222" text-anchor="middle">10<tspan font-size="3.2" dy="-1.7">1</tspan></text>
<line x1="281.4" y1="588.5999999999999" x2="281.4" y2="589.8" stroke="#555" stroke-width="0.5"/>
<text x="280.4" y="595.2" font-size="4.4" fill="#222" text-anchor="middle">10<tspan font-size="3.2" dy="-1.7">2</tspan></text>
<line x1="294.8" y1="588.5999999999999" x2="294.8" y2="589.8" stroke="#555" stroke-width="0.5"/>
<text x="293.8" y="595.2" font-size="4.4" fill="#222" text-anchor="middle">10<tspan font-size="3.2" dy="-1.7">3</tspan></text>
<text x="239.3" y="532.9" font-size="4.5" fill="#222">3.05</text>
<text x="294.8" y="532.9" font-size="4.5" fill="#222" text-anchor="end">7.80</text>
<text x="239.3" y="584.9999999999999" font-size="4.5" fill="#222">86.6</text>
<text x="294.8" y="584.9999999999999" font-size="4.5" fill="#222" text-anchor="end">2.34</text>
<rect x="310.8" y="526.3" width="61.8" height="62.3" fill="#fff" stroke="#a8a8a8" stroke-width="0.6"/>
<clipPath id="kc01"><rect x="310.8" y="526.3" width="61.8" height="62.3"/></clipPath>
<g clip-path="url(#kc01)">
<path d="M321.1 582.7h0.7v0.7h-0.7zM325.9 584.2h0.7v0.7h-0.7zM324.0 573.3h0.7v0.7h-0.7zM322.9 585.7h0.7v0.7h-0.7zM324.4 575.8h0.7v0.7h-0.7zM323.3 567.0h0.7v0.7h-0.7zM328.2 584.0h0.7v0.7h-0.7zM324.7 574.6h0.7v0.7h-0.7zM317.8 586.0h0.7v0.7h-0.7zM324.6 584.5h0.7v0.7h-0.7zM314.9 573.4h0.7v0.7h-0.7zM332.1 570.3h0.7v0.7h-0.7zM337.7 573.1h0.7v0.7h-0.7zM323.0 582.3h0.7v0.7h-0.7zM334.3 562.3h0.7v0.7h-0.7zM333.7 562.8h0.7v0.7h-0.7zM324.7 575.6h0.7v0.7h-0.7zM337.1 564.1h0.7v0.7h-0.7zM320.0 566.7h0.7v0.7h-0.7zM330.0 578.0h0.7v0.7h-0.7zM316.4 577.1h0.7v0.7h-0.7zM338.7 582.7h0.7v0.7h-0.7zM336.1 571.7h0.7v0.7h-0.7zM319.8 573.7h0.7v0.7h-0.7zM326.2 578.2h0.7v0.7h-0.7zM334.3 584.8h0.7v0.7h-0.7zM331.5 568.6h0.7v0.7h-0.7zM330.7 571.1h0.7v0.7h-0.7zM314.0 575.2h0.7v0.7h-0.7zM337.1 568.2h0.7v0.7h-0.7zM321.0 580.4h0.7v0.7h-0.7zM334.5 578.1h0.7v0.7h-0.7zM339.5 581.3h0.7v0.7h-0.7zM326.5 583.3h0.7v0.7h-0.7zM324.7 582.2h0.7v0.7h-0.7zM333.2 576.2h0.7v0.7h-0.7zM339.1 572.4h0.7v0.7h-0.7zM331.3 571.8h0.7v0.7h-0.7zM324.1 574.7h0.7v0.7h-0.7zM329.6 575.9h0.7v0.7h-0.7zM335.8 568.3h0.7v0.7h-0.7zM324.9 575.7h0.7v0.7h-0.7zM330.8 569.1h0.7v0.7h-0.7zM335.3 559.2h0.7v0.7h-0.7zM331.8 577.0h0.7v0.7h-0.7zM334.1 578.2h0.7v0.7h-0.7zM333.9 575.5h0.7v0.7h-0.7zM314.5 577.0h0.7v0.7h-0.7zM313.6 585.8h0.7v0.7h-0.7zM333.4 573.4h0.7v0.7h-0.7zM323.5 574.6h0.7v0.7h-0.7zM333.4 582.7h0.7v0.7h-0.7zM314.5 569.3h0.7v0.7h-0.7zM325.6 572.0h0.7v0.7h-0.7zM327.1 578.1h0.7v0.7h-0.7zM332.3 576.8h0.7v0.7h-0.7zM332.9 580.7h0.7v0.7h-0.7zM332.1 573.4h0.7v0.7h-0.7zM331.1 565.8h0.7v0.7h-0.7zM312.3 567.7h0.7v0.7h-0.7zM336.0 574.9h0.7v0.7h-0.7zM327.1 562.0h0.7v0.7h-0.7zM326.7 572.3h0.7v0.7h-0.7zM318.0 574.5h0.7v0.7h-0.7zM338.1 576.4h0.7v0.7h-0.7zM332.2 578.3h0.7v0.7h-0.7zM326.5 577.6h0.7v0.7h-0.7zM332.7 578.4h0.7v0.7h-0.7zM330.4 574.8h0.7v0.7h-0.7zM328.9 572.2h0.7v0.7h-0.7zM339.4 586.9h0.7v0.7h-0.7zM339.5 562.6h0.7v0.7h-0.7zM338.6 578.0h0.7v0.7h-0.7zM335.2 566.6h0.7v0.7h-0.7zM324.8 579.5h0.7v0.7h-0.7zM333.3 568.2h0.7v0.7h-0.7zM327.4 574.3h0.7v0.7h-0.7zM332.5 577.1h0.7v0.7h-0.7zM326.5 569.4h0.7v0.7h-0.7zM332.5 581.4h0.7v0.7h-0.7zM336.2 577.8h0.7v0.7h-0.7zM333.7 569.7h0.7v0.7h-0.7zM338.0 579.3h0.7v0.7h-0.7zM328.0 589.0h0.7v0.7h-0.7zM327.3 573.1h0.7v0.7h-0.7zM324.9 578.4h0.7v0.7h-0.7zM332.4 579.2h0.7v0.7h-0.7zM319.6 594.2h0.7v0.7h-0.7zM337.8 576.0h0.7v0.7h-0.7zM333.1 573.4h0.7v0.7h-0.7zM328.6 571.2h0.7v0.7h-0.7zM332.7 574.7h0.7v0.7h-0.7zM332.2 569.7h0.7v0.7h-0.7zM331.7 575.5h0.7v0.7h-0.7zM334.1 567.7h0.7v0.7h-0.7zM336.7 579.6h0.7v0.7h-0.7zM335.4 571.6h0.7v0.7h-0.7zM326.8 575.5h0.7v0.7h-0.7zM340.4 581.9h0.7v0.7h-0.7zM328.7 572.3h0.7v0.7h-0.7zM334.8 575.4h0.7v0.7h-0.7zM322.4 574.0h0.7v0.7h-0.7zM331.8 579.4h0.7v0.7h-0.7zM319.6 573.3h0.7v0.7h-0.7zM332.9 567.1h0.7v0.7h-0.7zM332.9 577.0h0.7v0.7h-0.7zM328.3 570.1h0.7v0.7h-0.7zM330.1 573.7h0.7v0.7h-0.7zM332.3 569.7h0.7v0.7h-0.7zM336.8 562.9h0.7v0.7h-0.7zM329.9 576.0h0.7v0.7h-0.7zM337.9 569.2h0.7v0.7h-0.7zM334.6 570.6h0.7v0.7h-0.7zM340.8 582.9h0.7v0.7h-0.7zM328.9 579.0h0.7v0.7h-0.7zM325.7 583.6h0.7v0.7h-0.7zM341.2 572.0h0.7v0.7h-0.7zM322.9 581.0h0.7v0.7h-0.7zM334.2 562.8h0.7v0.7h-0.7zM328.7 585.3h0.7v0.7h-0.7zM323.6 585.3h0.7v0.7h-0.7zM339.7 570.2h0.7v0.7h-0.7zM321.1 578.4h0.7v0.7h-0.7zM329.6 575.7h0.7v0.7h-0.7zM336.7 572.5h0.7v0.7h-0.7zM333.7 577.2h0.7v0.7h-0.7zM335.0 585.7h0.7v0.7h-0.7zM335.1 574.6h0.7v0.7h-0.7zM328.3 572.5h0.7v0.7h-0.7zM321.4 575.5h0.7v0.7h-0.7zM329.3 573.3h0.7v0.7h-0.7zM337.8 565.7h0.7v0.7h-0.7zM335.6 574.7h0.7v0.7h-0.7zM321.8 579.1h0.7v0.7h-0.7zM331.5 578.5h0.7v0.7h-0.7zM328.3 578.4h0.7v0.7h-0.7zM315.6 574.3h0.7v0.7h-0.7zM339.8 578.9h0.7v0.7h-0.7zM330.0 572.1h0.7v0.7h-0.7zM335.9 560.6h0.7v0.7h-0.7zM326.2 581.5h0.7v0.7h-0.7zM334.5 567.7h0.7v0.7h-0.7zM318.9 589.1h0.7v0.7h-0.7zM330.7 570.0h0.7v0.7h-0.7zM333.6 580.3h0.7v0.7h-0.7zM312.5 589.2h0.7v0.7h-0.7zM333.1 561.6h0.7v0.7h-0.7zM334.0 563.2h0.7v0.7h-0.7zM341.4 574.3h0.7v0.7h-0.7zM333.5 581.2h0.7v0.7h-0.7zM324.7 573.4h0.7v0.7h-0.7zM328.1 576.1h0.7v0.7h-0.7zM323.5 581.3h0.7v0.7h-0.7zM335.9 574.2h0.7v0.7h-0.7zM340.8 568.5h0.7v0.7h-0.7zM333.5 562.4h0.7v0.7h-0.7zM332.6 573.8h0.7v0.7h-0.7zM326.0 573.5h0.7v0.7h-0.7zM327.0 572.4h0.7v0.7h-0.7zM312.3 578.6h0.7v0.7h-0.7zM325.8 574.1h0.7v0.7h-0.7zM322.4 577.8h0.7v0.7h-0.7zM337.2 571.7h0.7v0.7h-0.7zM330.0 584.4h0.7v0.7h-0.7zM341.1 577.6h0.7v0.7h-0.7zM340.0 570.2h0.7v0.7h-0.7zM332.5 582.0h0.7v0.7h-0.7zM326.6 576.4h0.7v0.7h-0.7zM335.1 576.4h0.7v0.7h-0.7zM331.0 581.7h0.7v0.7h-0.7zM331.3 580.0h0.7v0.7h-0.7zM341.3 575.9h0.7v0.7h-0.7zM334.9 566.8h0.7v0.7h-0.7zM319.4 575.8h0.7v0.7h-0.7zM338.2 582.3h0.7v0.7h-0.7zM322.0 580.7h0.7v0.7h-0.7zM322.9 573.9h0.7v0.7h-0.7zM330.5 580.1h0.7v0.7h-0.7zM335.4 581.3h0.7v0.7h-0.7zM325.1 583.3h0.7v0.7h-0.7zM339.0 573.0h0.7v0.7h-0.7zM334.0 570.9h0.7v0.7h-0.7zM321.6 576.4h0.7v0.7h-0.7zM331.9 593.4h0.7v0.7h-0.7zM330.7 586.0h0.7v0.7h-0.7zM333.6 576.5h0.7v0.7h-0.7zM335.8 568.9h0.7v0.7h-0.7zM339.5 574.8h0.7v0.7h-0.7zM320.2 583.2h0.7v0.7h-0.7zM336.7 576.3h0.7v0.7h-0.7zM337.0 578.1h0.7v0.7h-0.7zM326.4 584.7h0.7v0.7h-0.7zM316.9 572.5h0.7v0.7h-0.7zM333.3 567.8h0.7v0.7h-0.7zM327.0 566.6h0.7v0.7h-0.7zM329.6 568.9h0.7v0.7h-0.7zM331.0 565.9h0.7v0.7h-0.7zM334.4 572.6h0.7v0.7h-0.7zM331.7 574.8h0.7v0.7h-0.7zM329.7 567.7h0.7v0.7h-0.7zM310.5 583.2h0.7v0.7h-0.7zM322.8 575.6h0.7v0.7h-0.7zM330.7 563.1h0.7v0.7h-0.7zM323.9 574.3h0.7v0.7h-0.7zM323.4 580.3h0.7v0.7h-0.7zM328.5 571.2h0.7v0.7h-0.7zM324.9 582.8h0.7v0.7h-0.7zM327.1 580.6h0.7v0.7h-0.7zM331.1 563.5h0.7v0.7h-0.7zM322.5 578.6h0.7v0.7h-0.7zM335.7 578.7h0.7v0.7h-0.7zM339.9 578.8h0.7v0.7h-0.7zM327.8 575.3h0.7v0.7h-0.7zM336.7 570.7h0.7v0.7h-0.7zM336.7 563.4h0.7v0.7h-0.7zM336.3 572.5h0.7v0.7h-0.7z" fill="#f42424" opacity="0.45"/>
<ellipse cx="331.3" cy="575.4" rx="8.4" ry="5.2" fill="#f42424" opacity="0.85" filter="url(#b1)" transform="rotate(-20 331.3 575.4)"/>
<path d="M322.4 582.1h0.8v0.8h-0.8zM332.9 574.9h0.8v0.8h-0.8zM325.3 575.9h0.8v0.8h-0.8zM338.0 570.0h0.8v0.8h-0.8zM312.7 579.1h0.8v0.8h-0.8zM325.1 577.2h0.8v0.8h-0.8zM328.3 573.3h0.8v0.8h-0.8zM328.2 580.2h0.8v0.8h-0.8zM326.2 584.2h0.8v0.8h-0.8zM327.3 573.0h0.8v0.8h-0.8zM335.9 575.7h0.8v0.8h-0.8zM326.9 579.7h0.8v0.8h-0.8zM320.9 575.9h0.8v0.8h-0.8zM336.7 572.5h0.8v0.8h-0.8zM325.3 579.4h0.8v0.8h-0.8zM335.9 573.6h0.8v0.8h-0.8zM321.7 577.7h0.8v0.8h-0.8zM334.3 577.0h0.8v0.8h-0.8zM340.4 571.2h0.8v0.8h-0.8zM328.8 576.2h0.8v0.8h-0.8zM336.3 570.2h0.8v0.8h-0.8zM334.8 564.4h0.8v0.8h-0.8zM334.6 571.8h0.8v0.8h-0.8zM334.4 576.7h0.8v0.8h-0.8zM325.2 577.3h0.8v0.8h-0.8zM333.2 576.8h0.8v0.8h-0.8zM325.5 574.0h0.8v0.8h-0.8zM324.4 586.9h0.8v0.8h-0.8zM330.1 575.1h0.8v0.8h-0.8zM324.8 581.1h0.8v0.8h-0.8zM330.2 580.9h0.8v0.8h-0.8zM335.6 573.9h0.8v0.8h-0.8zM333.7 570.6h0.8v0.8h-0.8zM329.0 574.2h0.8v0.8h-0.8zM324.9 577.8h0.8v0.8h-0.8zM332.2 580.2h0.8v0.8h-0.8zM313.5 579.5h0.8v0.8h-0.8zM326.1 575.6h0.8v0.8h-0.8zM333.9 575.9h0.8v0.8h-0.8zM330.9 573.9h0.8v0.8h-0.8zM334.2 575.6h0.8v0.8h-0.8zM321.7 578.0h0.8v0.8h-0.8zM323.0 574.2h0.8v0.8h-0.8zM332.1 575.3h0.8v0.8h-0.8zM330.9 572.4h0.8v0.8h-0.8zM329.2 572.9h0.8v0.8h-0.8zM334.0 576.8h0.8v0.8h-0.8zM341.6 576.1h0.8v0.8h-0.8zM326.7 575.5h0.8v0.8h-0.8zM326.9 578.1h0.8v0.8h-0.8zM318.7 575.5h0.8v0.8h-0.8zM325.3 579.4h0.8v0.8h-0.8zM331.6 576.3h0.8v0.8h-0.8zM339.4 569.5h0.8v0.8h-0.8zM329.2 583.1h0.8v0.8h-0.8zM332.1 572.3h0.8v0.8h-0.8zM319.3 574.4h0.8v0.8h-0.8zM319.0 580.1h0.8v0.8h-0.8zM332.7 578.4h0.8v0.8h-0.8zM329.8 573.5h0.8v0.8h-0.8zM329.7 582.7h0.8v0.8h-0.8zM322.5 579.2h0.8v0.8h-0.8zM332.1 577.3h0.8v0.8h-0.8zM329.8 577.7h0.8v0.8h-0.8zM335.3 573.4h0.8v0.8h-0.8zM328.8 575.7h0.8v0.8h-0.8zM326.2 576.5h0.8v0.8h-0.8zM330.0 576.6h0.8v0.8h-0.8zM339.6 577.0h0.8v0.8h-0.8zM329.7 578.1h0.8v0.8h-0.8zM333.7 577.2h0.8v0.8h-0.8zM331.7 576.2h0.8v0.8h-0.8zM328.0 573.8h0.8v0.8h-0.8zM337.2 577.9h0.8v0.8h-0.8zM335.2 575.5h0.8v0.8h-0.8zM332.1 573.5h0.8v0.8h-0.8zM323.0 580.8h0.8v0.8h-0.8zM331.7 573.3h0.8v0.8h-0.8zM327.9 581.2h0.8v0.8h-0.8zM324.2 584.2h0.8v0.8h-0.8zM337.2 581.6h0.8v0.8h-0.8zM327.6 576.7h0.8v0.8h-0.8zM328.9 576.8h0.8v0.8h-0.8zM329.4 573.4h0.8v0.8h-0.8zM335.9 571.0h0.8v0.8h-0.8zM329.4 578.1h0.8v0.8h-0.8zM328.1 575.0h0.8v0.8h-0.8zM332.7 573.6h0.8v0.8h-0.8zM324.9 577.4h0.8v0.8h-0.8zM332.1 581.1h0.8v0.8h-0.8zM326.8 580.5h0.8v0.8h-0.8zM326.9 575.7h0.8v0.8h-0.8zM330.0 576.8h0.8v0.8h-0.8zM337.7 579.3h0.8v0.8h-0.8zM329.6 580.7h0.8v0.8h-0.8zM337.3 576.1h0.8v0.8h-0.8zM328.5 579.6h0.8v0.8h-0.8zM331.2 576.7h0.8v0.8h-0.8zM330.7 578.0h0.8v0.8h-0.8zM338.2 576.9h0.8v0.8h-0.8zM331.4 578.9h0.8v0.8h-0.8zM337.6 569.8h0.8v0.8h-0.8zM337.2 568.5h0.8v0.8h-0.8zM334.7 576.3h0.8v0.8h-0.8zM339.1 573.5h0.8v0.8h-0.8zM328.0 573.8h0.8v0.8h-0.8zM325.8 580.1h0.8v0.8h-0.8zM329.3 573.6h0.8v0.8h-0.8zM333.1 572.0h0.8v0.8h-0.8zM328.6 574.8h0.8v0.8h-0.8zM341.4 576.9h0.8v0.8h-0.8zM328.7 570.8h0.8v0.8h-0.8zM332.8 575.1h0.8v0.8h-0.8zM333.7 576.5h0.8v0.8h-0.8zM330.7 578.9h0.8v0.8h-0.8zM335.8 574.5h0.8v0.8h-0.8zM328.7 574.6h0.8v0.8h-0.8zM333.6 570.7h0.8v0.8h-0.8zM329.6 573.3h0.8v0.8h-0.8zM324.9 579.9h0.8v0.8h-0.8zM331.2 575.6h0.8v0.8h-0.8zM334.0 569.1h0.8v0.8h-0.8zM331.3 576.4h0.8v0.8h-0.8zM334.3 570.5h0.8v0.8h-0.8zM335.2 574.8h0.8v0.8h-0.8zM339.5 576.5h0.8v0.8h-0.8zM336.5 581.1h0.8v0.8h-0.8zM330.8 574.1h0.8v0.8h-0.8zM328.5 573.1h0.8v0.8h-0.8zM329.0 569.6h0.8v0.8h-0.8zM331.4 576.9h0.8v0.8h-0.8zM335.9 572.5h0.8v0.8h-0.8zM337.6 570.8h0.8v0.8h-0.8zM328.5 569.8h0.8v0.8h-0.8zM326.5 574.3h0.8v0.8h-0.8zM339.3 574.3h0.8v0.8h-0.8zM326.4 579.0h0.8v0.8h-0.8zM333.4 573.8h0.8v0.8h-0.8zM331.1 574.4h0.8v0.8h-0.8zM326.6 571.0h0.8v0.8h-0.8zM332.3 579.5h0.8v0.8h-0.8zM338.1 572.0h0.8v0.8h-0.8zM327.4 576.1h0.8v0.8h-0.8zM336.1 574.9h0.8v0.8h-0.8zM328.8 577.6h0.8v0.8h-0.8zM330.9 577.3h0.8v0.8h-0.8zM327.6 571.6h0.8v0.8h-0.8zM332.4 577.6h0.8v0.8h-0.8zM325.7 577.1h0.8v0.8h-0.8zM335.2 572.7h0.8v0.8h-0.8zM330.3 582.8h0.8v0.8h-0.8zM336.5 577.0h0.8v0.8h-0.8zM328.4 582.1h0.8v0.8h-0.8zM322.5 576.8h0.8v0.8h-0.8zM336.4 578.1h0.8v0.8h-0.8zM326.0 575.0h0.8v0.8h-0.8zM330.1 569.2h0.8v0.8h-0.8zM335.1 576.0h0.8v0.8h-0.8zM329.7 577.8h0.8v0.8h-0.8zM335.5 574.9h0.8v0.8h-0.8zM335.5 579.1h0.8v0.8h-0.8zM329.1 576.7h0.8v0.8h-0.8zM329.9 579.5h0.8v0.8h-0.8zM329.8 577.6h0.8v0.8h-0.8zM332.0 575.4h0.8v0.8h-0.8zM339.7 572.1h0.8v0.8h-0.8zM339.2 575.4h0.8v0.8h-0.8zM337.6 572.5h0.8v0.8h-0.8zM336.7 576.0h0.8v0.8h-0.8zM328.6 577.3h0.8v0.8h-0.8zM330.6 575.5h0.8v0.8h-0.8zM336.9 570.9h0.8v0.8h-0.8zM321.1 573.1h0.8v0.8h-0.8zM328.4 574.3h0.8v0.8h-0.8zM332.0 577.1h0.8v0.8h-0.8zM340.3 573.2h0.8v0.8h-0.8zM332.8 572.4h0.8v0.8h-0.8zM335.6 578.5h0.8v0.8h-0.8zM335.7 567.1h0.8v0.8h-0.8zM337.4 578.6h0.8v0.8h-0.8zM333.7 569.4h0.8v0.8h-0.8zM330.4 577.7h0.8v0.8h-0.8zM332.4 572.2h0.8v0.8h-0.8zM328.0 579.9h0.8v0.8h-0.8zM326.4 582.1h0.8v0.8h-0.8zM331.7 576.3h0.8v0.8h-0.8zM324.1 576.0h0.8v0.8h-0.8zM333.1 569.7h0.8v0.8h-0.8zM339.9 567.5h0.8v0.8h-0.8zM325.4 577.7h0.8v0.8h-0.8zM334.5 576.8h0.8v0.8h-0.8zM329.3 575.4h0.8v0.8h-0.8zM329.5 574.1h0.8v0.8h-0.8zM319.8 582.9h0.8v0.8h-0.8zM332.7 575.4h0.8v0.8h-0.8zM328.5 577.3h0.8v0.8h-0.8zM331.2 575.2h0.8v0.8h-0.8zM334.8 568.3h0.8v0.8h-0.8zM331.4 571.7h0.8v0.8h-0.8zM331.4 580.5h0.8v0.8h-0.8zM325.9 577.0h0.8v0.8h-0.8zM329.5 579.3h0.8v0.8h-0.8zM324.7 572.1h0.8v0.8h-0.8zM333.4 573.4h0.8v0.8h-0.8zM330.9 579.2h0.8v0.8h-0.8zM326.6 575.9h0.8v0.8h-0.8zM332.5 576.4h0.8v0.8h-0.8zM329.9 579.4h0.8v0.8h-0.8zM341.8 570.2h0.8v0.8h-0.8zM338.1 565.7h0.8v0.8h-0.8zM337.8 571.9h0.8v0.8h-0.8zM331.6 574.1h0.8v0.8h-0.8zM326.8 572.7h0.8v0.8h-0.8zM330.8 580.0h0.8v0.8h-0.8zM336.5 572.3h0.8v0.8h-0.8zM328.0 574.2h0.8v0.8h-0.8zM327.4 582.9h0.8v0.8h-0.8zM334.7 574.6h0.8v0.8h-0.8zM327.8 573.2h0.8v0.8h-0.8zM338.6 575.4h0.8v0.8h-0.8zM327.7 580.1h0.8v0.8h-0.8zM326.6 579.3h0.8v0.8h-0.8zM326.2 575.9h0.8v0.8h-0.8zM334.2 575.8h0.8v0.8h-0.8zM335.3 571.1h0.8v0.8h-0.8zM340.5 576.6h0.8v0.8h-0.8zM331.8 576.8h0.8v0.8h-0.8zM327.3 576.3h0.8v0.8h-0.8zM325.0 578.0h0.8v0.8h-0.8zM333.7 579.1h0.8v0.8h-0.8zM336.8 576.2h0.8v0.8h-0.8zM329.3 575.4h0.8v0.8h-0.8zM329.9 576.7h0.8v0.8h-0.8zM322.7 581.1h0.8v0.8h-0.8zM323.1 576.6h0.8v0.8h-0.8zM330.8 573.8h0.8v0.8h-0.8zM339.3 572.2h0.8v0.8h-0.8zM340.2 576.1h0.8v0.8h-0.8zM329.3 577.5h0.8v0.8h-0.8zM337.3 572.1h0.8v0.8h-0.8zM331.1 573.6h0.8v0.8h-0.8zM331.2 574.2h0.8v0.8h-0.8zM332.8 578.3h0.8v0.8h-0.8zM338.2 573.3h0.8v0.8h-0.8zM333.2 577.6h0.8v0.8h-0.8zM328.7 572.7h0.8v0.8h-0.8zM335.7 570.6h0.8v0.8h-0.8zM334.8 570.9h0.8v0.8h-0.8zM339.1 569.0h0.8v0.8h-0.8zM337.1 578.4h0.8v0.8h-0.8zM328.2 581.6h0.8v0.8h-0.8zM325.4 571.6h0.8v0.8h-0.8zM335.6 576.2h0.8v0.8h-0.8zM327.6 568.2h0.8v0.8h-0.8zM330.7 574.6h0.8v0.8h-0.8zM329.1 575.2h0.8v0.8h-0.8zM322.0 576.9h0.8v0.8h-0.8zM341.8 576.9h0.8v0.8h-0.8zM328.8 573.9h0.8v0.8h-0.8zM334.4 577.9h0.8v0.8h-0.8zM333.5 570.6h0.8v0.8h-0.8zM332.2 575.5h0.8v0.8h-0.8zM339.6 576.4h0.8v0.8h-0.8zM335.2 578.1h0.8v0.8h-0.8zM331.1 580.7h0.8v0.8h-0.8zM329.7 577.3h0.8v0.8h-0.8zM334.8 571.0h0.8v0.8h-0.8zM326.0 571.4h0.8v0.8h-0.8zM332.0 574.9h0.8v0.8h-0.8zM330.3 577.5h0.8v0.8h-0.8zM321.0 579.1h0.8v0.8h-0.8zM331.4 574.4h0.8v0.8h-0.8zM337.1 579.3h0.8v0.8h-0.8zM328.1 573.4h0.8v0.8h-0.8zM328.5 576.8h0.8v0.8h-0.8zM333.2 571.8h0.8v0.8h-0.8zM335.0 570.6h0.8v0.8h-0.8zM335.8 575.2h0.8v0.8h-0.8zM335.9 581.1h0.8v0.8h-0.8zM329.8 575.4h0.8v0.8h-0.8zM334.6 577.1h0.8v0.8h-0.8zM325.1 578.6h0.8v0.8h-0.8zM328.4 578.6h0.8v0.8h-0.8zM338.0 573.1h0.8v0.8h-0.8zM331.0 576.1h0.8v0.8h-0.8zM317.7 583.0h0.8v0.8h-0.8zM334.2 574.9h0.8v0.8h-0.8zM328.6 573.9h0.8v0.8h-0.8zM331.8 579.4h0.8v0.8h-0.8zM332.3 579.6h0.8v0.8h-0.8zM318.3 578.6h0.8v0.8h-0.8zM332.6 574.9h0.8v0.8h-0.8zM322.5 576.3h0.8v0.8h-0.8zM336.0 569.3h0.8v0.8h-0.8zM325.3 573.9h0.8v0.8h-0.8zM329.3 578.3h0.8v0.8h-0.8zM332.0 568.2h0.8v0.8h-0.8zM337.8 571.0h0.8v0.8h-0.8zM330.3 581.5h0.8v0.8h-0.8z" fill="#f42424"/>
<path d="M336.4 541.1h0.6v0.6h-0.6zM331.4 546.1h0.6v0.6h-0.6zM334.3 544.2h0.6v0.6h-0.6zM331.4 546.6h0.6v0.6h-0.6zM331.8 548.0h0.6v0.6h-0.6zM331.6 545.9h0.6v0.6h-0.6zM329.8 547.2h0.6v0.6h-0.6zM328.8 549.2h0.6v0.6h-0.6zM326.7 550.0h0.6v0.6h-0.6zM332.3 544.3h0.6v0.6h-0.6zM334.7 544.2h0.6v0.6h-0.6zM327.5 549.3h0.6v0.6h-0.6zM330.2 545.8h0.6v0.6h-0.6zM335.6 546.7h0.6v0.6h-0.6zM339.6 539.8h0.6v0.6h-0.6zM336.4 547.0h0.6v0.6h-0.6zM327.7 549.2h0.6v0.6h-0.6zM331.7 546.4h0.6v0.6h-0.6zM338.7 540.6h0.6v0.6h-0.6zM325.5 545.4h0.6v0.6h-0.6zM330.4 547.1h0.6v0.6h-0.6zM330.4 547.8h0.6v0.6h-0.6zM330.2 547.0h0.6v0.6h-0.6zM337.1 543.6h0.6v0.6h-0.6zM329.8 548.8h0.6v0.6h-0.6zM336.0 545.5h0.6v0.6h-0.6zM328.2 545.9h0.6v0.6h-0.6zM338.3 545.0h0.6v0.6h-0.6zM327.0 547.9h0.6v0.6h-0.6zM339.0 543.4h0.6v0.6h-0.6zM327.6 547.0h0.6v0.6h-0.6zM327.5 544.7h0.6v0.6h-0.6zM335.6 543.2h0.6v0.6h-0.6zM340.5 541.9h0.6v0.6h-0.6zM338.2 544.2h0.6v0.6h-0.6zM335.1 542.0h0.6v0.6h-0.6zM331.9 547.5h0.6v0.6h-0.6zM326.7 548.2h0.6v0.6h-0.6zM335.8 544.2h0.6v0.6h-0.6zM330.2 544.4h0.6v0.6h-0.6zM330.0 547.0h0.6v0.6h-0.6zM334.8 548.5h0.6v0.6h-0.6zM334.9 544.8h0.6v0.6h-0.6zM337.6 543.9h0.6v0.6h-0.6zM331.5 547.1h0.6v0.6h-0.6zM328.4 548.3h0.6v0.6h-0.6zM339.0 545.1h0.6v0.6h-0.6zM333.3 547.0h0.6v0.6h-0.6zM333.6 543.2h0.6v0.6h-0.6zM335.7 542.8h0.6v0.6h-0.6zM334.7 543.1h0.6v0.6h-0.6zM331.1 549.0h0.6v0.6h-0.6zM337.1 543.5h0.6v0.6h-0.6zM329.5 544.1h0.6v0.6h-0.6zM338.8 544.4h0.6v0.6h-0.6zM330.2 546.6h0.6v0.6h-0.6zM334.5 545.5h0.6v0.6h-0.6zM326.0 548.7h0.6v0.6h-0.6zM332.7 543.8h0.6v0.6h-0.6zM330.6 544.1h0.6v0.6h-0.6zM341.5 541.4h0.6v0.6h-0.6zM328.6 550.6h0.6v0.6h-0.6zM326.6 549.1h0.6v0.6h-0.6zM334.0 545.4h0.6v0.6h-0.6zM335.3 546.0h0.6v0.6h-0.6zM333.2 549.1h0.6v0.6h-0.6zM328.8 548.8h0.6v0.6h-0.6zM341.4 543.7h0.6v0.6h-0.6zM329.8 550.1h0.6v0.6h-0.6zM330.0 547.5h0.6v0.6h-0.6zM340.2 539.1h0.6v0.6h-0.6zM331.3 546.3h0.6v0.6h-0.6zM337.8 541.4h0.6v0.6h-0.6zM340.2 542.1h0.6v0.6h-0.6zM327.6 548.1h0.6v0.6h-0.6zM335.7 543.3h0.6v0.6h-0.6zM332.4 546.1h0.6v0.6h-0.6zM334.6 544.1h0.6v0.6h-0.6z" fill="#f42424" opacity="0.55"/>
<path d="M339.1 541.1h0.6v0.6h-0.6zM332.2 550.2h0.6v0.6h-0.6zM331.2 552.2h0.6v0.6h-0.6zM331.7 549.9h0.6v0.6h-0.6zM328.2 540.0h0.6v0.6h-0.6zM334.2 552.2h0.6v0.6h-0.6zM341.1 551.8h0.6v0.6h-0.6zM333.1 542.8h0.6v0.6h-0.6zM327.0 538.2h0.6v0.6h-0.6zM330.1 551.6h0.6v0.6h-0.6zM314.6 553.6h0.6v0.6h-0.6zM338.2 550.9h0.6v0.6h-0.6zM322.2 546.5h0.6v0.6h-0.6zM314.6 547.3h0.6v0.6h-0.6zM337.3 555.0h0.6v0.6h-0.6zM323.9 556.3h0.6v0.6h-0.6zM332.3 543.6h0.6v0.6h-0.6zM329.9 548.2h0.6v0.6h-0.6zM339.4 550.6h0.6v0.6h-0.6zM334.3 547.3h0.6v0.6h-0.6zM328.0 545.6h0.6v0.6h-0.6zM323.3 538.7h0.6v0.6h-0.6zM331.9 546.1h0.6v0.6h-0.6zM334.3 554.8h0.6v0.6h-0.6zM328.8 546.1h0.6v0.6h-0.6zM324.5 548.9h0.6v0.6h-0.6zM327.1 549.1h0.6v0.6h-0.6zM337.7 548.4h0.6v0.6h-0.6zM336.6 548.8h0.6v0.6h-0.6zM337.3 551.6h0.6v0.6h-0.6zM339.6 550.5h0.6v0.6h-0.6zM326.3 548.3h0.6v0.6h-0.6zM326.3 553.3h0.6v0.6h-0.6zM335.3 542.7h0.6v0.6h-0.6zM337.2 538.6h0.6v0.6h-0.6zM330.4 550.1h0.6v0.6h-0.6zM330.4 548.9h0.6v0.6h-0.6zM339.2 545.4h0.6v0.6h-0.6zM323.2 553.2h0.6v0.6h-0.6zM329.5 547.8h0.6v0.6h-0.6zM323.6 542.2h0.6v0.6h-0.6z" fill="#f42424" opacity="0.4"/>
<path d="M345.9 535.3h0.6v0.6h-0.6zM346.8 527.2h0.6v0.6h-0.6zM357.6 532.5h0.6v0.6h-0.6zM348.5 538.3h0.6v0.6h-0.6zM348.3 538.7h0.6v0.6h-0.6zM349.7 537.5h0.6v0.6h-0.6zM352.5 536.5h0.6v0.6h-0.6zM343.1 531.5h0.6v0.6h-0.6zM351.8 541.3h0.6v0.6h-0.6zM349.3 538.3h0.6v0.6h-0.6zM352.8 538.1h0.6v0.6h-0.6zM356.8 531.4h0.6v0.6h-0.6zM353.3 535.9h0.6v0.6h-0.6zM350.5 533.6h0.6v0.6h-0.6zM348.2 533.0h0.6v0.6h-0.6zM346.7 545.1h0.6v0.6h-0.6zM360.3 536.5h0.6v0.6h-0.6zM355.6 533.2h0.6v0.6h-0.6zM352.7 541.4h0.6v0.6h-0.6zM351.8 533.1h0.6v0.6h-0.6zM350.8 533.1h0.6v0.6h-0.6zM345.2 535.7h0.6v0.6h-0.6zM350.1 533.7h0.6v0.6h-0.6zM347.7 533.3h0.6v0.6h-0.6zM353.2 541.3h0.6v0.6h-0.6zM351.0 544.1h0.6v0.6h-0.6zM344.1 537.4h0.6v0.6h-0.6zM346.4 536.0h0.6v0.6h-0.6zM352.5 538.4h0.6v0.6h-0.6zM357.5 534.6h0.6v0.6h-0.6zM345.9 535.9h0.6v0.6h-0.6zM353.4 534.1h0.6v0.6h-0.6zM356.4 542.2h0.6v0.6h-0.6zM345.1 537.7h0.6v0.6h-0.6zM357.0 529.9h0.6v0.6h-0.6zM353.0 535.7h0.6v0.6h-0.6zM345.1 541.0h0.6v0.6h-0.6zM353.1 534.9h0.6v0.6h-0.6zM354.2 538.7h0.6v0.6h-0.6zM355.7 538.5h0.6v0.6h-0.6zM354.0 532.5h0.6v0.6h-0.6zM349.9 536.9h0.6v0.6h-0.6zM350.2 532.9h0.6v0.6h-0.6zM343.1 537.3h0.6v0.6h-0.6zM352.2 534.5h0.6v0.6h-0.6zM350.0 533.5h0.6v0.6h-0.6zM348.3 536.2h0.6v0.6h-0.6zM348.9 538.8h0.6v0.6h-0.6zM351.3 537.0h0.6v0.6h-0.6zM354.0 540.8h0.6v0.6h-0.6zM354.9 537.3h0.6v0.6h-0.6zM351.2 533.8h0.6v0.6h-0.6zM350.3 538.8h0.6v0.6h-0.6zM353.1 535.2h0.6v0.6h-0.6zM345.5 531.3h0.6v0.6h-0.6zM353.6 540.0h0.6v0.6h-0.6zM353.8 531.8h0.6v0.6h-0.6zM351.0 537.3h0.6v0.6h-0.6zM347.5 537.7h0.6v0.6h-0.6zM351.0 533.7h0.6v0.6h-0.6zM345.9 539.3h0.6v0.6h-0.6zM353.7 533.5h0.6v0.6h-0.6zM347.1 539.5h0.6v0.6h-0.6zM354.9 535.5h0.6v0.6h-0.6zM359.8 535.5h0.6v0.6h-0.6zM346.9 540.2h0.6v0.6h-0.6zM351.1 537.7h0.6v0.6h-0.6zM352.2 533.1h0.6v0.6h-0.6zM346.2 535.8h0.6v0.6h-0.6zM358.8 533.1h0.6v0.6h-0.6zM358.6 537.3h0.6v0.6h-0.6zM346.6 537.4h0.6v0.6h-0.6zM354.8 533.4h0.6v0.6h-0.6zM346.6 538.0h0.6v0.6h-0.6zM342.7 536.0h0.6v0.6h-0.6zM348.1 531.5h0.6v0.6h-0.6z" fill="#3442e8" opacity="0.75"/>
<path d="M364.7 540.4h0.6v0.6h-0.6zM363.0 537.5h0.6v0.6h-0.6zM367.1 536.3h0.6v0.6h-0.6zM368.9 541.1h0.6v0.6h-0.6zM375.0 541.9h0.6v0.6h-0.6zM367.9 540.6h0.6v0.6h-0.6zM366.1 537.2h0.6v0.6h-0.6zM373.8 541.1h0.6v0.6h-0.6zM364.5 537.5h0.6v0.6h-0.6zM373.9 541.1h0.6v0.6h-0.6zM359.7 541.4h0.6v0.6h-0.6zM376.1 540.0h0.6v0.6h-0.6zM368.1 539.1h0.6v0.6h-0.6zM362.6 542.3h0.6v0.6h-0.6zM382.5 540.2h0.6v0.6h-0.6zM365.3 541.7h0.6v0.6h-0.6zM364.4 541.6h0.6v0.6h-0.6zM370.4 537.8h0.6v0.6h-0.6zM360.3 539.8h0.6v0.6h-0.6zM370.4 540.6h0.6v0.6h-0.6zM372.6 537.1h0.6v0.6h-0.6zM368.6 538.7h0.6v0.6h-0.6zM366.5 540.7h0.6v0.6h-0.6zM360.8 539.5h0.6v0.6h-0.6zM359.8 540.6h0.6v0.6h-0.6zM361.5 538.9h0.6v0.6h-0.6zM367.2 538.6h0.6v0.6h-0.6zM372.1 538.6h0.6v0.6h-0.6zM370.5 540.6h0.6v0.6h-0.6zM360.5 539.5h0.6v0.6h-0.6zM361.5 539.2h0.6v0.6h-0.6zM364.6 543.9h0.6v0.6h-0.6zM363.8 543.3h0.6v0.6h-0.6zM368.4 537.2h0.6v0.6h-0.6zM353.7 541.4h0.6v0.6h-0.6zM355.4 541.5h0.6v0.6h-0.6zM371.5 540.8h0.6v0.6h-0.6zM364.9 539.5h0.6v0.6h-0.6zM367.4 539.4h0.6v0.6h-0.6zM363.1 539.2h0.6v0.6h-0.6zM372.2 538.7h0.6v0.6h-0.6zM368.0 537.5h0.6v0.6h-0.6zM362.2 537.1h0.6v0.6h-0.6zM364.9 541.5h0.6v0.6h-0.6zM367.6 539.0h0.6v0.6h-0.6zM369.3 539.3h0.6v0.6h-0.6zM368.0 540.6h0.6v0.6h-0.6zM368.9 534.7h0.6v0.6h-0.6zM359.1 541.6h0.6v0.6h-0.6zM365.4 544.8h0.6v0.6h-0.6zM364.7 538.8h0.6v0.6h-0.6zM374.0 541.2h0.6v0.6h-0.6zM376.1 541.1h0.6v0.6h-0.6zM364.9 541.5h0.6v0.6h-0.6zM361.8 539.0h0.6v0.6h-0.6zM363.0 539.5h0.6v0.6h-0.6zM370.1 539.0h0.6v0.6h-0.6zM367.7 538.9h0.6v0.6h-0.6zM370.7 534.1h0.6v0.6h-0.6zM364.9 540.4h0.6v0.6h-0.6zM360.3 542.2h0.6v0.6h-0.6zM367.2 542.7h0.6v0.6h-0.6zM371.1 541.4h0.6v0.6h-0.6zM365.2 537.7h0.6v0.6h-0.6zM364.8 539.0h0.6v0.6h-0.6zM367.3 539.0h0.6v0.6h-0.6zM382.2 536.6h0.6v0.6h-0.6zM372.2 539.0h0.6v0.6h-0.6zM364.7 542.0h0.6v0.6h-0.6zM366.0 537.4h0.6v0.6h-0.6zM368.2 539.6h0.6v0.6h-0.6zM355.1 540.4h0.6v0.6h-0.6zM360.4 538.4h0.6v0.6h-0.6zM368.6 540.6h0.6v0.6h-0.6zM364.5 544.6h0.6v0.6h-0.6zM368.2 538.7h0.6v0.6h-0.6zM367.3 539.7h0.6v0.6h-0.6zM354.3 536.7h0.6v0.6h-0.6zM358.6 544.4h0.6v0.6h-0.6zM365.0 539.4h0.6v0.6h-0.6z" fill="#3442e8" opacity="0.8"/>
<path d="M352.5 546.2h0.6v0.6h-0.6zM358.3 550.7h0.6v0.6h-0.6zM365.6 550.3h0.6v0.6h-0.6zM356.9 542.4h0.6v0.6h-0.6zM353.8 538.9h0.6v0.6h-0.6zM348.8 535.9h0.6v0.6h-0.6zM369.7 541.6h0.6v0.6h-0.6zM369.8 545.4h0.6v0.6h-0.6zM366.9 546.3h0.6v0.6h-0.6zM352.2 545.0h0.6v0.6h-0.6zM354.9 536.7h0.6v0.6h-0.6zM369.5 553.6h0.6v0.6h-0.6zM348.6 550.9h0.6v0.6h-0.6zM366.0 534.7h0.6v0.6h-0.6zM360.6 542.3h0.6v0.6h-0.6zM361.6 537.8h0.6v0.6h-0.6zM345.6 540.2h0.6v0.6h-0.6zM366.3 544.9h0.6v0.6h-0.6zM364.4 546.9h0.6v0.6h-0.6zM348.4 539.7h0.6v0.6h-0.6zM361.3 546.3h0.6v0.6h-0.6zM359.5 543.2h0.6v0.6h-0.6zM359.3 553.1h0.6v0.6h-0.6zM381.9 541.5h0.6v0.6h-0.6zM344.2 535.7h0.6v0.6h-0.6zM360.2 550.7h0.6v0.6h-0.6zM362.5 544.2h0.6v0.6h-0.6zM367.8 541.3h0.6v0.6h-0.6zM349.7 539.4h0.6v0.6h-0.6zM361.2 538.3h0.6v0.6h-0.6zM351.6 537.8h0.6v0.6h-0.6zM343.5 533.6h0.6v0.6h-0.6zM357.1 537.7h0.6v0.6h-0.6zM358.4 548.8h0.6v0.6h-0.6zM360.9 539.8h0.6v0.6h-0.6zM346.7 533.3h0.6v0.6h-0.6zM361.6 534.5h0.6v0.6h-0.6zM362.1 533.3h0.6v0.6h-0.6zM359.3 539.5h0.6v0.6h-0.6zM367.6 537.5h0.6v0.6h-0.6zM354.4 541.5h0.6v0.6h-0.6zM358.5 550.6h0.6v0.6h-0.6zM355.5 536.6h0.6v0.6h-0.6zM354.9 543.0h0.6v0.6h-0.6zM360.3 544.3h0.6v0.6h-0.6zM344.7 555.5h0.6v0.6h-0.6zM375.7 539.8h0.6v0.6h-0.6zM346.4 541.0h0.6v0.6h-0.6zM362.0 526.0h0.6v0.6h-0.6zM358.1 530.8h0.6v0.6h-0.6zM362.4 548.6h0.6v0.6h-0.6zM367.9 530.6h0.6v0.6h-0.6zM371.3 545.7h0.6v0.6h-0.6zM354.5 543.1h0.6v0.6h-0.6zM372.6 537.9h0.6v0.6h-0.6zM357.8 536.5h0.6v0.6h-0.6zM369.1 526.5h0.6v0.6h-0.6zM371.7 533.9h0.6v0.6h-0.6zM366.9 529.8h0.6v0.6h-0.6zM349.0 536.3h0.6v0.6h-0.6zM366.0 529.9h0.6v0.6h-0.6zM363.8 536.0h0.6v0.6h-0.6zM369.9 538.1h0.6v0.6h-0.6zM362.7 538.9h0.6v0.6h-0.6zM375.3 537.7h0.6v0.6h-0.6zM357.8 552.4h0.6v0.6h-0.6zM358.7 544.3h0.6v0.6h-0.6zM350.9 541.2h0.6v0.6h-0.6zM351.8 530.6h0.6v0.6h-0.6zM344.4 547.1h0.6v0.6h-0.6zM362.1 530.5h0.6v0.6h-0.6zM375.5 535.6h0.6v0.6h-0.6zM354.5 541.5h0.6v0.6h-0.6zM347.1 529.9h0.6v0.6h-0.6zM350.8 547.4h0.6v0.6h-0.6zM367.2 530.1h0.6v0.6h-0.6zM369.6 540.2h0.6v0.6h-0.6zM362.8 540.3h0.6v0.6h-0.6zM362.0 533.7h0.6v0.6h-0.6zM349.3 535.6h0.6v0.6h-0.6zM354.5 543.9h0.6v0.6h-0.6zM346.3 550.0h0.6v0.6h-0.6zM351.9 536.3h0.6v0.6h-0.6zM364.8 542.7h0.6v0.6h-0.6zM354.7 533.3h0.6v0.6h-0.6zM348.4 530.0h0.6v0.6h-0.6zM369.0 546.8h0.6v0.6h-0.6zM376.0 543.1h0.6v0.6h-0.6zM361.2 544.7h0.6v0.6h-0.6zM367.2 538.4h0.6v0.6h-0.6zM361.4 553.5h0.6v0.6h-0.6zM348.7 544.7h0.6v0.6h-0.6zM369.4 537.9h0.6v0.6h-0.6zM364.5 539.7h0.6v0.6h-0.6zM360.9 536.6h0.6v0.6h-0.6zM357.7 540.0h0.6v0.6h-0.6zM368.9 554.0h0.6v0.6h-0.6zM358.0 546.1h0.6v0.6h-0.6zM368.2 544.9h0.6v0.6h-0.6zM365.8 534.1h0.6v0.6h-0.6zM369.6 534.0h0.6v0.6h-0.6zM370.4 544.2h0.6v0.6h-0.6zM348.5 547.3h0.6v0.6h-0.6zM351.4 535.3h0.6v0.6h-0.6zM343.1 538.6h0.6v0.6h-0.6zM367.8 535.8h0.6v0.6h-0.6zM375.8 544.3h0.6v0.6h-0.6zM352.8 532.4h0.6v0.6h-0.6zM370.5 533.4h0.6v0.6h-0.6zM358.0 538.3h0.6v0.6h-0.6z" fill="#3442e8" opacity="0.5"/>
<path d="M344.0 574.2h0.6v0.6h-0.6zM348.5 570.9h0.6v0.6h-0.6zM346.1 575.8h0.6v0.6h-0.6zM344.0 572.3h0.6v0.6h-0.6zM343.5 570.8h0.6v0.6h-0.6zM344.6 570.2h0.6v0.6h-0.6zM342.5 571.8h0.6v0.6h-0.6zM347.4 572.1h0.6v0.6h-0.6zM345.5 568.5h0.6v0.6h-0.6zM343.7 568.2h0.6v0.6h-0.6zM344.3 574.5h0.6v0.6h-0.6zM345.0 570.0h0.6v0.6h-0.6zM346.0 575.5h0.6v0.6h-0.6zM345.4 571.5h0.6v0.6h-0.6zM344.4 570.9h0.6v0.6h-0.6zM344.2 573.6h0.6v0.6h-0.6zM343.9 575.5h0.6v0.6h-0.6zM349.5 571.1h0.6v0.6h-0.6zM345.2 575.1h0.6v0.6h-0.6zM345.7 572.0h0.6v0.6h-0.6zM343.6 575.6h0.6v0.6h-0.6zM345.7 574.2h0.6v0.6h-0.6z" fill="#1fb585" opacity="0.8"/>
</g>
<line x1="342.2" y1="526.3" x2="342.2" y2="588.5999999999999" stroke="#505050" stroke-width="0.7"/>
<line x1="310.8" y1="557.6" x2="372.6" y2="557.6" stroke="#505050" stroke-width="0.7"/>
<line x1="309.6" y1="529.0" x2="310.8" y2="529.0" stroke="#555" stroke-width="0.5"/>
<text x="309.2" y="530.7" font-size="4.4" fill="#222" text-anchor="end">10<tspan font-size="3.2" dy="-1.7">3</tspan></text>
<line x1="309.6" y1="543.6" x2="310.8" y2="543.6" stroke="#555" stroke-width="0.5"/>
<text x="309.2" y="545.3" font-size="4.4" fill="#222" text-anchor="end">10<tspan font-size="3.2" dy="-1.7">2</tspan></text>
<line x1="309.6" y1="558.2" x2="310.8" y2="558.2" stroke="#555" stroke-width="0.5"/>
<text x="309.2" y="559.9" font-size="4.4" fill="#222" text-anchor="end">10<tspan font-size="3.2" dy="-1.7">1</tspan></text>
<line x1="309.6" y1="572.8" x2="310.8" y2="572.8" stroke="#555" stroke-width="0.5"/>
<text x="309.2" y="574.5" font-size="4.4" fill="#222" text-anchor="end">10<tspan font-size="3.2" dy="-1.7">0</tspan></text>
<line x1="309.6" y1="587.4" x2="310.8" y2="587.4" stroke="#555" stroke-width="0.5"/>
<text x="308.59999999999997" y="589.1" font-size="4.4" fill="#222" text-anchor="end">10<tspan font-size="3.2" dy="-1.7">-1</tspan></text>
<line x1="314.5" y1="588.5999999999999" x2="314.5" y2="589.8" stroke="#555" stroke-width="0.5"/>
<text x="313.5" y="595.2" font-size="4.4" fill="#222" text-anchor="middle">10<tspan font-size="3.2" dy="-1.7">-1</tspan></text>
<line x1="327.9" y1="588.5999999999999" x2="327.9" y2="589.8" stroke="#555" stroke-width="0.5"/>
<text x="326.9" y="595.2" font-size="4.4" fill="#222" text-anchor="middle">10<tspan font-size="3.2" dy="-1.7">0</tspan></text>
<line x1="341.3" y1="588.5999999999999" x2="341.3" y2="589.8" stroke="#555" stroke-width="0.5"/>
<text x="340.3" y="595.2" font-size="4.4" fill="#222" text-anchor="middle">10<tspan font-size="3.2" dy="-1.7">1</tspan></text>
<line x1="354.7" y1="588.5999999999999" x2="354.7" y2="589.8" stroke="#555" stroke-width="0.5"/>
<text x="353.7" y="595.2" font-size="4.4" fill="#222" text-anchor="middle">10<tspan font-size="3.2" dy="-1.7">2</tspan></text>
<line x1="368.1" y1="588.5999999999999" x2="368.1" y2="589.8" stroke="#555" stroke-width="0.5"/>
<text x="367.1" y="595.2" font-size="4.4" fill="#222" text-anchor="middle">10<tspan font-size="3.2" dy="-1.7">3</tspan></text>
<text x="312.6" y="532.9" font-size="4.5" fill="#222">6.62</text>
<text x="368.1" y="532.9" font-size="4.5" fill="#222" text-anchor="end">13.9</text>
<text x="312.6" y="584.9999999999999" font-size="4.5" fill="#222">77.4</text>
<text x="368.1" y="584.9999999999999" font-size="4.5" fill="#222" text-anchor="end">2.11</text>
<rect x="384.1" y="526.3" width="61.8" height="62.3" fill="#fff" stroke="#a8a8a8" stroke-width="0.6"/>
<clipPath id="kc02"><rect x="384.1" y="526.3" width="61.8" height="62.3"/></clipPath>
<g clip-path="url(#kc02)">
<path d="M399.3 582.2h0.7v0.7h-0.7zM409.9 569.8h0.7v0.7h-0.7zM390.2 587.2h0.7v0.7h-0.7zM389.6 572.6h0.7v0.7h-0.7zM403.7 578.9h0.7v0.7h-0.7zM400.5 567.8h0.7v0.7h-0.7zM390.0 578.5h0.7v0.7h-0.7zM401.3 569.9h0.7v0.7h-0.7zM397.1 592.0h0.7v0.7h-0.7zM396.4 577.9h0.7v0.7h-0.7zM397.4 574.0h0.7v0.7h-0.7zM403.3 572.8h0.7v0.7h-0.7zM405.2 565.0h0.7v0.7h-0.7zM397.9 593.0h0.7v0.7h-0.7zM405.8 579.4h0.7v0.7h-0.7zM399.1 565.7h0.7v0.7h-0.7zM393.7 588.0h0.7v0.7h-0.7zM411.4 574.7h0.7v0.7h-0.7zM383.0 570.6h0.7v0.7h-0.7zM391.2 573.1h0.7v0.7h-0.7zM401.9 568.1h0.7v0.7h-0.7zM402.0 582.4h0.7v0.7h-0.7zM403.7 568.0h0.7v0.7h-0.7zM392.8 579.2h0.7v0.7h-0.7zM388.5 568.8h0.7v0.7h-0.7zM411.5 575.6h0.7v0.7h-0.7zM413.5 572.4h0.7v0.7h-0.7zM386.9 584.3h0.7v0.7h-0.7zM394.4 571.2h0.7v0.7h-0.7zM397.1 584.4h0.7v0.7h-0.7zM407.9 587.4h0.7v0.7h-0.7zM401.6 561.5h0.7v0.7h-0.7zM400.2 567.6h0.7v0.7h-0.7zM414.4 558.6h0.7v0.7h-0.7zM396.9 564.2h0.7v0.7h-0.7zM387.7 571.1h0.7v0.7h-0.7zM396.0 568.9h0.7v0.7h-0.7zM404.6 577.2h0.7v0.7h-0.7zM387.2 575.5h0.7v0.7h-0.7zM405.4 579.2h0.7v0.7h-0.7zM406.0 576.9h0.7v0.7h-0.7zM385.1 566.5h0.7v0.7h-0.7zM403.5 567.9h0.7v0.7h-0.7zM401.6 573.1h0.7v0.7h-0.7zM405.4 567.9h0.7v0.7h-0.7zM410.5 575.7h0.7v0.7h-0.7zM414.0 572.0h0.7v0.7h-0.7zM387.0 579.6h0.7v0.7h-0.7zM410.2 574.6h0.7v0.7h-0.7zM396.2 573.9h0.7v0.7h-0.7zM402.3 584.5h0.7v0.7h-0.7zM412.9 583.2h0.7v0.7h-0.7zM414.4 583.2h0.7v0.7h-0.7zM403.8 565.6h0.7v0.7h-0.7zM414.7 570.1h0.7v0.7h-0.7zM401.7 577.3h0.7v0.7h-0.7zM390.4 573.3h0.7v0.7h-0.7zM394.6 576.0h0.7v0.7h-0.7zM392.0 580.8h0.7v0.7h-0.7zM413.2 584.9h0.7v0.7h-0.7zM410.7 569.1h0.7v0.7h-0.7zM407.1 572.6h0.7v0.7h-0.7zM399.6 577.8h0.7v0.7h-0.7zM392.8 584.5h0.7v0.7h-0.7zM397.8 569.9h0.7v0.7h-0.7zM402.7 579.7h0.7v0.7h-0.7zM399.7 580.8h0.7v0.7h-0.7zM414.0 580.9h0.7v0.7h-0.7zM394.3 579.4h0.7v0.7h-0.7zM413.3 580.9h0.7v0.7h-0.7zM408.7 577.8h0.7v0.7h-0.7zM389.4 578.5h0.7v0.7h-0.7zM396.2 566.8h0.7v0.7h-0.7zM410.2 573.1h0.7v0.7h-0.7zM397.0 567.8h0.7v0.7h-0.7zM406.4 580.6h0.7v0.7h-0.7zM414.3 578.2h0.7v0.7h-0.7zM411.1 570.2h0.7v0.7h-0.7zM409.6 572.7h0.7v0.7h-0.7zM398.3 591.2h0.7v0.7h-0.7zM403.6 566.7h0.7v0.7h-0.7zM408.2 574.5h0.7v0.7h-0.7zM379.7 593.0h0.7v0.7h-0.7zM413.8 561.6h0.7v0.7h-0.7zM388.9 585.5h0.7v0.7h-0.7zM408.0 575.1h0.7v0.7h-0.7zM392.8 577.5h0.7v0.7h-0.7zM408.1 578.1h0.7v0.7h-0.7zM390.8 563.9h0.7v0.7h-0.7zM412.7 568.6h0.7v0.7h-0.7zM399.6 569.5h0.7v0.7h-0.7zM404.2 560.6h0.7v0.7h-0.7zM405.2 574.9h0.7v0.7h-0.7zM410.9 580.8h0.7v0.7h-0.7zM403.4 575.7h0.7v0.7h-0.7zM406.0 561.4h0.7v0.7h-0.7zM401.6 576.5h0.7v0.7h-0.7zM409.4 565.3h0.7v0.7h-0.7zM412.1 573.0h0.7v0.7h-0.7zM386.1 573.4h0.7v0.7h-0.7zM392.1 582.6h0.7v0.7h-0.7zM408.1 577.9h0.7v0.7h-0.7zM409.1 567.4h0.7v0.7h-0.7zM409.6 575.2h0.7v0.7h-0.7zM394.1 583.2h0.7v0.7h-0.7zM391.0 572.9h0.7v0.7h-0.7zM401.4 577.3h0.7v0.7h-0.7zM402.3 573.0h0.7v0.7h-0.7zM395.9 580.8h0.7v0.7h-0.7zM392.8 570.1h0.7v0.7h-0.7zM409.6 582.7h0.7v0.7h-0.7zM396.8 570.5h0.7v0.7h-0.7zM400.7 574.9h0.7v0.7h-0.7zM408.4 579.9h0.7v0.7h-0.7zM401.6 561.8h0.7v0.7h-0.7zM390.2 573.0h0.7v0.7h-0.7zM408.0 573.2h0.7v0.7h-0.7zM406.8 573.6h0.7v0.7h-0.7zM412.9 587.6h0.7v0.7h-0.7zM411.3 581.9h0.7v0.7h-0.7zM413.0 564.7h0.7v0.7h-0.7zM408.5 569.1h0.7v0.7h-0.7zM405.4 575.1h0.7v0.7h-0.7zM402.5 571.8h0.7v0.7h-0.7zM412.8 577.6h0.7v0.7h-0.7zM413.9 557.7h0.7v0.7h-0.7zM386.6 579.7h0.7v0.7h-0.7zM391.8 581.5h0.7v0.7h-0.7zM387.6 576.2h0.7v0.7h-0.7zM407.0 574.1h0.7v0.7h-0.7zM396.2 577.3h0.7v0.7h-0.7zM403.3 575.6h0.7v0.7h-0.7zM403.1 573.4h0.7v0.7h-0.7zM406.0 560.9h0.7v0.7h-0.7zM400.1 577.9h0.7v0.7h-0.7zM398.6 573.5h0.7v0.7h-0.7zM400.8 578.1h0.7v0.7h-0.7zM414.0 567.4h0.7v0.7h-0.7zM402.8 578.1h0.7v0.7h-0.7zM395.2 564.5h0.7v0.7h-0.7zM404.9 571.1h0.7v0.7h-0.7zM401.1 581.3h0.7v0.7h-0.7zM402.4 571.2h0.7v0.7h-0.7zM379.2 575.5h0.7v0.7h-0.7zM403.6 573.9h0.7v0.7h-0.7zM408.4 573.8h0.7v0.7h-0.7zM395.5 569.6h0.7v0.7h-0.7zM394.0 579.4h0.7v0.7h-0.7zM396.5 584.9h0.7v0.7h-0.7zM386.3 570.8h0.7v0.7h-0.7zM396.2 565.2h0.7v0.7h-0.7zM414.6 560.7h0.7v0.7h-0.7zM402.6 573.5h0.7v0.7h-0.7zM390.8 568.4h0.7v0.7h-0.7zM390.7 589.1h0.7v0.7h-0.7zM393.1 585.3h0.7v0.7h-0.7zM406.7 579.7h0.7v0.7h-0.7zM401.9 581.5h0.7v0.7h-0.7zM413.7 573.8h0.7v0.7h-0.7zM401.3 569.9h0.7v0.7h-0.7zM407.4 580.8h0.7v0.7h-0.7zM410.4 571.7h0.7v0.7h-0.7zM402.0 587.7h0.7v0.7h-0.7zM399.7 560.8h0.7v0.7h-0.7zM402.8 566.0h0.7v0.7h-0.7zM403.6 585.1h0.7v0.7h-0.7zM399.8 584.3h0.7v0.7h-0.7zM408.5 571.1h0.7v0.7h-0.7zM390.6 580.2h0.7v0.7h-0.7zM382.2 582.8h0.7v0.7h-0.7zM392.0 591.1h0.7v0.7h-0.7zM387.3 565.2h0.7v0.7h-0.7zM410.2 574.0h0.7v0.7h-0.7zM406.7 589.7h0.7v0.7h-0.7zM410.8 571.2h0.7v0.7h-0.7zM388.3 560.5h0.7v0.7h-0.7zM411.3 578.0h0.7v0.7h-0.7zM394.0 569.3h0.7v0.7h-0.7zM397.9 565.1h0.7v0.7h-0.7zM406.6 579.2h0.7v0.7h-0.7zM408.2 578.1h0.7v0.7h-0.7zM390.6 576.2h0.7v0.7h-0.7zM390.0 575.8h0.7v0.7h-0.7zM404.0 577.3h0.7v0.7h-0.7zM405.5 574.3h0.7v0.7h-0.7zM402.2 579.0h0.7v0.7h-0.7zM414.2 574.7h0.7v0.7h-0.7zM407.5 585.9h0.7v0.7h-0.7zM407.0 576.1h0.7v0.7h-0.7zM404.3 582.1h0.7v0.7h-0.7zM397.0 570.8h0.7v0.7h-0.7zM401.9 572.4h0.7v0.7h-0.7zM409.8 568.3h0.7v0.7h-0.7zM404.2 572.8h0.7v0.7h-0.7zM404.7 569.3h0.7v0.7h-0.7zM408.6 560.8h0.7v0.7h-0.7zM398.2 572.5h0.7v0.7h-0.7zM409.6 571.7h0.7v0.7h-0.7zM407.0 570.3h0.7v0.7h-0.7zM393.9 571.7h0.7v0.7h-0.7zM399.2 573.2h0.7v0.7h-0.7zM407.5 575.4h0.7v0.7h-0.7zM412.0 569.2h0.7v0.7h-0.7zM393.8 572.2h0.7v0.7h-0.7zM405.7 576.5h0.7v0.7h-0.7zM398.9 587.1h0.7v0.7h-0.7z" fill="#f42424" opacity="0.45"/>
<ellipse cx="403.9" cy="574.7" rx="9.8" ry="5.9" fill="#f42424" opacity="0.85" filter="url(#b1)" transform="rotate(-30 403.9 574.7)"/>
<path d="M412.6 575.6h0.8v0.8h-0.8zM405.7 577.9h0.8v0.8h-0.8zM401.2 576.0h0.8v0.8h-0.8zM407.4 580.5h0.8v0.8h-0.8zM404.6 578.5h0.8v0.8h-0.8zM402.9 572.1h0.8v0.8h-0.8zM406.5 576.1h0.8v0.8h-0.8zM401.3 579.0h0.8v0.8h-0.8zM398.4 574.0h0.8v0.8h-0.8zM404.6 573.2h0.8v0.8h-0.8zM395.5 572.4h0.8v0.8h-0.8zM404.5 575.4h0.8v0.8h-0.8zM401.8 576.8h0.8v0.8h-0.8zM396.4 580.8h0.8v0.8h-0.8zM406.7 574.3h0.8v0.8h-0.8zM400.7 576.9h0.8v0.8h-0.8zM406.6 577.8h0.8v0.8h-0.8zM405.9 574.7h0.8v0.8h-0.8zM401.6 579.8h0.8v0.8h-0.8zM409.3 569.4h0.8v0.8h-0.8zM407.9 573.7h0.8v0.8h-0.8zM401.2 570.6h0.8v0.8h-0.8zM409.8 563.0h0.8v0.8h-0.8zM404.8 572.5h0.8v0.8h-0.8zM409.3 569.7h0.8v0.8h-0.8zM405.3 576.6h0.8v0.8h-0.8zM405.4 571.6h0.8v0.8h-0.8zM408.3 573.9h0.8v0.8h-0.8zM408.3 569.9h0.8v0.8h-0.8zM402.9 573.5h0.8v0.8h-0.8zM399.9 578.2h0.8v0.8h-0.8zM408.8 578.1h0.8v0.8h-0.8zM402.9 577.0h0.8v0.8h-0.8zM409.9 570.8h0.8v0.8h-0.8zM404.5 574.9h0.8v0.8h-0.8zM398.3 573.6h0.8v0.8h-0.8zM410.3 571.8h0.8v0.8h-0.8zM401.1 570.8h0.8v0.8h-0.8zM406.8 578.2h0.8v0.8h-0.8zM396.0 575.3h0.8v0.8h-0.8zM412.6 576.0h0.8v0.8h-0.8zM411.2 568.0h0.8v0.8h-0.8zM405.7 570.4h0.8v0.8h-0.8zM406.0 571.9h0.8v0.8h-0.8zM407.5 578.5h0.8v0.8h-0.8zM405.3 572.9h0.8v0.8h-0.8zM404.7 575.4h0.8v0.8h-0.8zM401.5 577.0h0.8v0.8h-0.8zM410.1 578.0h0.8v0.8h-0.8zM390.5 577.2h0.8v0.8h-0.8zM398.9 581.4h0.8v0.8h-0.8zM406.7 578.1h0.8v0.8h-0.8zM390.4 581.7h0.8v0.8h-0.8zM387.4 584.9h0.8v0.8h-0.8zM400.2 574.7h0.8v0.8h-0.8zM404.6 571.7h0.8v0.8h-0.8zM409.9 571.2h0.8v0.8h-0.8zM410.8 581.9h0.8v0.8h-0.8zM403.2 579.1h0.8v0.8h-0.8zM401.8 581.4h0.8v0.8h-0.8zM409.4 572.2h0.8v0.8h-0.8zM412.3 576.9h0.8v0.8h-0.8zM411.3 570.4h0.8v0.8h-0.8zM405.7 578.5h0.8v0.8h-0.8zM394.9 577.3h0.8v0.8h-0.8zM407.6 575.1h0.8v0.8h-0.8zM406.5 575.1h0.8v0.8h-0.8zM396.5 578.2h0.8v0.8h-0.8zM404.9 573.1h0.8v0.8h-0.8zM405.4 576.5h0.8v0.8h-0.8zM397.7 575.8h0.8v0.8h-0.8zM396.5 584.0h0.8v0.8h-0.8zM395.0 572.4h0.8v0.8h-0.8zM407.6 571.6h0.8v0.8h-0.8zM408.4 570.5h0.8v0.8h-0.8zM404.9 574.6h0.8v0.8h-0.8zM404.3 578.0h0.8v0.8h-0.8zM413.8 567.1h0.8v0.8h-0.8zM399.2 580.0h0.8v0.8h-0.8zM406.8 566.5h0.8v0.8h-0.8zM398.3 573.6h0.8v0.8h-0.8zM407.9 574.6h0.8v0.8h-0.8zM397.8 573.3h0.8v0.8h-0.8zM403.7 565.9h0.8v0.8h-0.8zM407.0 572.2h0.8v0.8h-0.8zM400.3 575.6h0.8v0.8h-0.8zM401.0 573.2h0.8v0.8h-0.8zM406.2 577.6h0.8v0.8h-0.8zM395.4 578.6h0.8v0.8h-0.8zM413.3 572.5h0.8v0.8h-0.8zM398.0 574.6h0.8v0.8h-0.8zM396.3 572.1h0.8v0.8h-0.8zM410.2 571.4h0.8v0.8h-0.8zM397.5 572.2h0.8v0.8h-0.8zM400.9 574.2h0.8v0.8h-0.8zM412.2 567.9h0.8v0.8h-0.8zM406.5 577.8h0.8v0.8h-0.8zM407.1 572.1h0.8v0.8h-0.8zM394.9 586.0h0.8v0.8h-0.8zM406.3 571.4h0.8v0.8h-0.8zM401.6 571.9h0.8v0.8h-0.8zM396.3 572.6h0.8v0.8h-0.8zM407.5 574.8h0.8v0.8h-0.8zM406.3 576.7h0.8v0.8h-0.8zM407.0 573.5h0.8v0.8h-0.8zM400.3 579.3h0.8v0.8h-0.8zM411.4 573.1h0.8v0.8h-0.8zM409.7 569.3h0.8v0.8h-0.8zM401.0 581.8h0.8v0.8h-0.8zM401.3 577.3h0.8v0.8h-0.8zM402.9 575.4h0.8v0.8h-0.8zM401.4 573.8h0.8v0.8h-0.8zM398.0 586.4h0.8v0.8h-0.8zM401.4 567.8h0.8v0.8h-0.8zM397.0 573.8h0.8v0.8h-0.8zM395.2 568.7h0.8v0.8h-0.8zM410.0 578.3h0.8v0.8h-0.8zM404.0 577.9h0.8v0.8h-0.8zM404.8 568.8h0.8v0.8h-0.8zM407.2 565.5h0.8v0.8h-0.8zM400.2 575.3h0.8v0.8h-0.8zM410.8 571.2h0.8v0.8h-0.8zM401.7 572.5h0.8v0.8h-0.8zM404.5 574.6h0.8v0.8h-0.8zM410.4 577.0h0.8v0.8h-0.8zM407.8 572.5h0.8v0.8h-0.8zM406.1 580.4h0.8v0.8h-0.8zM404.9 574.0h0.8v0.8h-0.8zM406.7 572.6h0.8v0.8h-0.8zM402.5 580.1h0.8v0.8h-0.8zM403.3 579.2h0.8v0.8h-0.8zM399.9 577.4h0.8v0.8h-0.8zM406.3 573.9h0.8v0.8h-0.8zM405.9 575.2h0.8v0.8h-0.8zM395.9 574.5h0.8v0.8h-0.8zM406.5 581.0h0.8v0.8h-0.8zM401.5 572.1h0.8v0.8h-0.8zM400.5 576.8h0.8v0.8h-0.8zM409.1 569.3h0.8v0.8h-0.8zM407.2 573.6h0.8v0.8h-0.8zM400.3 572.7h0.8v0.8h-0.8zM401.7 572.8h0.8v0.8h-0.8zM403.5 567.4h0.8v0.8h-0.8zM411.3 573.7h0.8v0.8h-0.8zM409.8 577.8h0.8v0.8h-0.8zM403.9 567.3h0.8v0.8h-0.8zM405.0 576.0h0.8v0.8h-0.8zM398.2 573.1h0.8v0.8h-0.8zM407.1 575.0h0.8v0.8h-0.8zM401.2 575.2h0.8v0.8h-0.8zM400.2 574.4h0.8v0.8h-0.8zM405.6 578.3h0.8v0.8h-0.8zM394.8 578.5h0.8v0.8h-0.8zM413.0 570.8h0.8v0.8h-0.8zM406.3 576.9h0.8v0.8h-0.8zM396.3 573.8h0.8v0.8h-0.8zM392.4 575.0h0.8v0.8h-0.8zM406.8 576.7h0.8v0.8h-0.8zM400.4 573.8h0.8v0.8h-0.8zM407.2 575.5h0.8v0.8h-0.8zM401.7 567.8h0.8v0.8h-0.8zM396.3 568.2h0.8v0.8h-0.8zM403.6 571.2h0.8v0.8h-0.8zM403.2 581.5h0.8v0.8h-0.8zM411.8 572.2h0.8v0.8h-0.8zM405.7 574.4h0.8v0.8h-0.8zM400.7 576.3h0.8v0.8h-0.8zM412.3 566.1h0.8v0.8h-0.8zM400.7 577.2h0.8v0.8h-0.8zM410.2 574.7h0.8v0.8h-0.8zM398.6 577.2h0.8v0.8h-0.8zM400.2 571.5h0.8v0.8h-0.8zM403.4 572.9h0.8v0.8h-0.8zM409.6 573.3h0.8v0.8h-0.8zM399.9 577.3h0.8v0.8h-0.8zM400.8 573.7h0.8v0.8h-0.8zM403.3 579.6h0.8v0.8h-0.8zM398.5 570.4h0.8v0.8h-0.8zM401.3 579.7h0.8v0.8h-0.8zM413.3 564.8h0.8v0.8h-0.8zM401.4 574.7h0.8v0.8h-0.8zM397.2 580.3h0.8v0.8h-0.8zM404.2 575.8h0.8v0.8h-0.8zM409.6 575.0h0.8v0.8h-0.8zM399.5 574.7h0.8v0.8h-0.8zM413.4 572.3h0.8v0.8h-0.8zM402.6 570.7h0.8v0.8h-0.8zM409.5 573.7h0.8v0.8h-0.8zM408.6 573.1h0.8v0.8h-0.8zM403.2 572.7h0.8v0.8h-0.8zM406.0 574.5h0.8v0.8h-0.8zM409.4 576.2h0.8v0.8h-0.8zM404.5 572.0h0.8v0.8h-0.8zM411.0 577.2h0.8v0.8h-0.8zM400.3 578.6h0.8v0.8h-0.8zM407.8 574.8h0.8v0.8h-0.8zM406.4 572.9h0.8v0.8h-0.8zM406.5 580.4h0.8v0.8h-0.8zM410.4 564.9h0.8v0.8h-0.8zM391.4 583.8h0.8v0.8h-0.8zM399.4 575.1h0.8v0.8h-0.8zM396.2 580.7h0.8v0.8h-0.8zM402.6 573.1h0.8v0.8h-0.8zM413.2 579.8h0.8v0.8h-0.8zM413.8 574.0h0.8v0.8h-0.8zM403.0 578.1h0.8v0.8h-0.8zM405.9 578.5h0.8v0.8h-0.8zM406.9 572.8h0.8v0.8h-0.8zM405.5 570.7h0.8v0.8h-0.8zM410.9 577.1h0.8v0.8h-0.8zM403.0 577.6h0.8v0.8h-0.8zM396.9 582.8h0.8v0.8h-0.8zM406.6 568.7h0.8v0.8h-0.8zM413.3 569.8h0.8v0.8h-0.8zM392.3 575.5h0.8v0.8h-0.8zM408.0 571.2h0.8v0.8h-0.8zM406.8 566.4h0.8v0.8h-0.8zM405.2 578.1h0.8v0.8h-0.8zM401.6 578.9h0.8v0.8h-0.8zM402.7 576.9h0.8v0.8h-0.8zM409.7 580.9h0.8v0.8h-0.8zM398.8 581.0h0.8v0.8h-0.8zM408.7 567.1h0.8v0.8h-0.8zM408.6 581.9h0.8v0.8h-0.8zM403.9 562.0h0.8v0.8h-0.8zM399.5 569.9h0.8v0.8h-0.8zM404.1 571.4h0.8v0.8h-0.8zM399.4 573.7h0.8v0.8h-0.8zM404.6 572.3h0.8v0.8h-0.8zM398.7 576.7h0.8v0.8h-0.8zM404.4 570.7h0.8v0.8h-0.8zM406.7 566.0h0.8v0.8h-0.8zM405.3 572.2h0.8v0.8h-0.8zM411.0 567.9h0.8v0.8h-0.8zM397.9 572.4h0.8v0.8h-0.8zM397.6 576.9h0.8v0.8h-0.8zM401.7 582.5h0.8v0.8h-0.8zM402.3 566.9h0.8v0.8h-0.8zM406.7 577.0h0.8v0.8h-0.8zM404.8 576.2h0.8v0.8h-0.8zM403.7 575.7h0.8v0.8h-0.8zM403.7 571.8h0.8v0.8h-0.8zM406.0 574.2h0.8v0.8h-0.8zM402.4 572.6h0.8v0.8h-0.8zM399.0 578.6h0.8v0.8h-0.8zM403.8 564.4h0.8v0.8h-0.8zM403.6 580.7h0.8v0.8h-0.8zM407.4 569.6h0.8v0.8h-0.8zM409.2 567.4h0.8v0.8h-0.8zM403.4 583.3h0.8v0.8h-0.8zM401.2 575.3h0.8v0.8h-0.8zM393.3 576.5h0.8v0.8h-0.8zM397.5 577.8h0.8v0.8h-0.8zM396.2 583.7h0.8v0.8h-0.8zM400.9 573.8h0.8v0.8h-0.8zM401.9 579.0h0.8v0.8h-0.8zM411.2 568.7h0.8v0.8h-0.8zM411.5 571.6h0.8v0.8h-0.8zM397.3 581.4h0.8v0.8h-0.8zM402.1 576.6h0.8v0.8h-0.8zM393.5 579.5h0.8v0.8h-0.8zM403.4 571.0h0.8v0.8h-0.8zM408.6 579.2h0.8v0.8h-0.8zM403.8 571.8h0.8v0.8h-0.8zM412.5 560.5h0.8v0.8h-0.8zM399.8 578.8h0.8v0.8h-0.8zM396.5 569.1h0.8v0.8h-0.8zM406.8 576.6h0.8v0.8h-0.8zM402.4 581.8h0.8v0.8h-0.8zM408.8 577.0h0.8v0.8h-0.8zM395.9 579.3h0.8v0.8h-0.8zM410.8 570.7h0.8v0.8h-0.8zM403.7 572.1h0.8v0.8h-0.8zM408.4 569.1h0.8v0.8h-0.8zM400.7 567.7h0.8v0.8h-0.8zM399.3 585.0h0.8v0.8h-0.8zM404.6 575.2h0.8v0.8h-0.8zM392.3 581.3h0.8v0.8h-0.8zM412.0 563.6h0.8v0.8h-0.8zM391.1 581.4h0.8v0.8h-0.8zM400.7 575.6h0.8v0.8h-0.8zM394.7 574.1h0.8v0.8h-0.8zM398.6 580.5h0.8v0.8h-0.8zM405.2 577.5h0.8v0.8h-0.8zM399.3 579.9h0.8v0.8h-0.8zM401.7 576.3h0.8v0.8h-0.8zM408.9 572.0h0.8v0.8h-0.8zM398.9 570.4h0.8v0.8h-0.8zM405.7 577.0h0.8v0.8h-0.8zM400.4 576.4h0.8v0.8h-0.8z" fill="#f42424"/>
<path d="M389.6 544.3h0.6v0.6h-0.6zM408.9 550.9h0.6v0.6h-0.6zM399.1 539.1h0.6v0.6h-0.6zM398.8 539.8h0.6v0.6h-0.6zM405.3 555.6h0.6v0.6h-0.6zM405.8 544.5h0.6v0.6h-0.6zM410.5 541.6h0.6v0.6h-0.6zM406.6 546.1h0.6v0.6h-0.6zM404.6 538.1h0.6v0.6h-0.6zM410.4 548.3h0.6v0.6h-0.6zM383.7 539.2h0.6v0.6h-0.6zM400.3 555.1h0.6v0.6h-0.6zM405.3 549.1h0.6v0.6h-0.6zM409.3 548.7h0.6v0.6h-0.6zM398.6 544.9h0.6v0.6h-0.6zM407.6 547.9h0.6v0.6h-0.6zM408.5 546.1h0.6v0.6h-0.6zM402.5 552.3h0.6v0.6h-0.6zM409.1 549.7h0.6v0.6h-0.6zM387.5 553.1h0.6v0.6h-0.6zM399.6 548.2h0.6v0.6h-0.6zM400.2 545.8h0.6v0.6h-0.6zM405.9 547.1h0.6v0.6h-0.6zM394.2 536.3h0.6v0.6h-0.6zM399.5 550.5h0.6v0.6h-0.6zM398.9 550.1h0.6v0.6h-0.6zM399.9 542.6h0.6v0.6h-0.6zM403.2 546.0h0.6v0.6h-0.6zM408.4 537.4h0.6v0.6h-0.6zM399.8 553.5h0.6v0.6h-0.6zM409.4 541.4h0.6v0.6h-0.6zM399.2 549.6h0.6v0.6h-0.6zM393.4 547.3h0.6v0.6h-0.6zM398.2 535.2h0.6v0.6h-0.6zM409.4 548.1h0.6v0.6h-0.6zM409.0 536.6h0.6v0.6h-0.6zM393.7 545.5h0.6v0.6h-0.6zM396.7 547.0h0.6v0.6h-0.6zM406.2 547.6h0.6v0.6h-0.6zM412.3 537.3h0.6v0.6h-0.6zM410.4 544.5h0.6v0.6h-0.6zM396.1 549.7h0.6v0.6h-0.6zM400.6 552.5h0.6v0.6h-0.6zM412.0 539.8h0.6v0.6h-0.6zM398.0 548.9h0.6v0.6h-0.6zM398.2 552.9h0.6v0.6h-0.6zM403.9 542.0h0.6v0.6h-0.6zM400.4 551.1h0.6v0.6h-0.6zM398.2 547.1h0.6v0.6h-0.6zM400.3 555.9h0.6v0.6h-0.6zM412.0 550.0h0.6v0.6h-0.6zM408.7 544.8h0.6v0.6h-0.6zM408.0 547.6h0.6v0.6h-0.6zM409.6 545.4h0.6v0.6h-0.6zM400.1 539.0h0.6v0.6h-0.6zM387.7 548.2h0.6v0.6h-0.6zM400.2 548.8h0.6v0.6h-0.6zM400.4 536.8h0.6v0.6h-0.6zM402.1 548.2h0.6v0.6h-0.6zM410.2 537.4h0.6v0.6h-0.6zM385.5 544.4h0.6v0.6h-0.6zM406.5 545.5h0.6v0.6h-0.6z" fill="#f42424" opacity="0.45"/>
<path d="M437.5 540.2h0.6v0.6h-0.6zM435.0 536.0h0.6v0.6h-0.6zM439.1 540.9h0.6v0.6h-0.6zM439.7 543.3h0.6v0.6h-0.6zM430.6 533.3h0.6v0.6h-0.6zM427.9 545.8h0.6v0.6h-0.6zM432.2 540.9h0.6v0.6h-0.6zM436.7 541.8h0.6v0.6h-0.6zM452.8 538.4h0.6v0.6h-0.6zM436.0 538.1h0.6v0.6h-0.6zM438.0 541.3h0.6v0.6h-0.6zM432.0 543.5h0.6v0.6h-0.6zM442.5 541.0h0.6v0.6h-0.6zM436.2 539.1h0.6v0.6h-0.6zM428.6 541.6h0.6v0.6h-0.6zM431.9 538.4h0.6v0.6h-0.6zM441.8 537.2h0.6v0.6h-0.6zM434.2 542.2h0.6v0.6h-0.6zM446.1 537.9h0.6v0.6h-0.6zM442.3 538.0h0.6v0.6h-0.6zM438.7 541.2h0.6v0.6h-0.6zM431.1 542.7h0.6v0.6h-0.6zM445.8 539.9h0.6v0.6h-0.6zM438.1 536.5h0.6v0.6h-0.6zM445.7 540.0h0.6v0.6h-0.6zM430.4 541.9h0.6v0.6h-0.6zM429.5 537.9h0.6v0.6h-0.6zM426.1 543.7h0.6v0.6h-0.6zM447.9 538.0h0.6v0.6h-0.6zM433.5 538.2h0.6v0.6h-0.6zM434.0 541.4h0.6v0.6h-0.6zM444.1 537.0h0.6v0.6h-0.6zM439.0 534.8h0.6v0.6h-0.6zM444.4 539.6h0.6v0.6h-0.6zM433.3 544.1h0.6v0.6h-0.6zM436.3 543.6h0.6v0.6h-0.6zM442.2 544.4h0.6v0.6h-0.6zM432.8 540.0h0.6v0.6h-0.6zM438.6 539.3h0.6v0.6h-0.6zM444.4 537.8h0.6v0.6h-0.6zM441.8 543.6h0.6v0.6h-0.6zM427.0 537.1h0.6v0.6h-0.6zM432.3 538.3h0.6v0.6h-0.6zM438.8 539.3h0.6v0.6h-0.6zM437.2 538.5h0.6v0.6h-0.6zM436.4 541.2h0.6v0.6h-0.6zM440.5 537.6h0.6v0.6h-0.6zM436.2 537.7h0.6v0.6h-0.6zM435.9 535.8h0.6v0.6h-0.6zM441.6 541.7h0.6v0.6h-0.6zM436.2 537.9h0.6v0.6h-0.6zM434.5 537.9h0.6v0.6h-0.6zM429.1 544.4h0.6v0.6h-0.6zM453.2 536.4h0.6v0.6h-0.6zM431.0 541.4h0.6v0.6h-0.6zM439.8 535.4h0.6v0.6h-0.6zM427.2 541.3h0.6v0.6h-0.6zM426.8 543.8h0.6v0.6h-0.6zM434.3 540.0h0.6v0.6h-0.6zM436.8 538.2h0.6v0.6h-0.6zM436.1 539.0h0.6v0.6h-0.6zM443.0 539.5h0.6v0.6h-0.6zM436.6 538.3h0.6v0.6h-0.6zM433.6 537.7h0.6v0.6h-0.6zM436.9 544.9h0.6v0.6h-0.6zM442.4 540.5h0.6v0.6h-0.6zM445.1 542.6h0.6v0.6h-0.6zM437.8 539.3h0.6v0.6h-0.6zM431.3 540.5h0.6v0.6h-0.6zM435.2 535.4h0.6v0.6h-0.6zM430.4 545.2h0.6v0.6h-0.6zM437.9 541.2h0.6v0.6h-0.6zM437.8 538.5h0.6v0.6h-0.6zM439.1 542.8h0.6v0.6h-0.6zM435.3 541.2h0.6v0.6h-0.6zM441.9 538.4h0.6v0.6h-0.6zM437.6 537.7h0.6v0.6h-0.6zM439.8 538.8h0.6v0.6h-0.6zM442.5 537.7h0.6v0.6h-0.6zM445.2 538.9h0.6v0.6h-0.6zM432.6 537.3h0.6v0.6h-0.6zM440.1 537.4h0.6v0.6h-0.6zM445.8 543.4h0.6v0.6h-0.6zM439.4 535.8h0.6v0.6h-0.6zM436.7 537.8h0.6v0.6h-0.6zM427.7 541.0h0.6v0.6h-0.6zM447.8 538.3h0.6v0.6h-0.6zM440.8 543.4h0.6v0.6h-0.6zM432.0 538.8h0.6v0.6h-0.6zM438.1 541.1h0.6v0.6h-0.6z" fill="#3442e8" opacity="0.85"/>
<path d="M418.1 538.9h0.6v0.6h-0.6zM424.4 541.8h0.6v0.6h-0.6zM415.4 535.7h0.6v0.6h-0.6zM422.0 536.7h0.6v0.6h-0.6zM429.3 535.5h0.6v0.6h-0.6zM441.4 535.2h0.6v0.6h-0.6zM430.0 542.1h0.6v0.6h-0.6zM430.8 537.2h0.6v0.6h-0.6zM420.0 537.0h0.6v0.6h-0.6zM429.0 538.5h0.6v0.6h-0.6zM428.5 540.3h0.6v0.6h-0.6zM419.7 534.3h0.6v0.6h-0.6zM433.6 536.1h0.6v0.6h-0.6zM415.5 545.4h0.6v0.6h-0.6zM420.0 534.3h0.6v0.6h-0.6zM430.8 533.5h0.6v0.6h-0.6zM419.8 542.2h0.6v0.6h-0.6zM420.1 548.0h0.6v0.6h-0.6zM425.6 548.7h0.6v0.6h-0.6zM425.8 538.2h0.6v0.6h-0.6zM421.2 537.1h0.6v0.6h-0.6zM422.0 537.9h0.6v0.6h-0.6zM429.6 532.9h0.6v0.6h-0.6zM419.5 529.6h0.6v0.6h-0.6zM434.0 537.7h0.6v0.6h-0.6zM424.9 537.8h0.6v0.6h-0.6zM431.0 539.3h0.6v0.6h-0.6zM430.1 537.3h0.6v0.6h-0.6zM424.3 537.8h0.6v0.6h-0.6zM415.5 534.0h0.6v0.6h-0.6zM429.0 538.2h0.6v0.6h-0.6zM429.9 544.8h0.6v0.6h-0.6zM436.2 543.5h0.6v0.6h-0.6zM423.6 546.2h0.6v0.6h-0.6zM419.7 537.7h0.6v0.6h-0.6zM431.0 537.1h0.6v0.6h-0.6zM424.3 536.6h0.6v0.6h-0.6zM433.2 528.1h0.6v0.6h-0.6zM432.6 542.2h0.6v0.6h-0.6zM424.6 540.2h0.6v0.6h-0.6zM419.2 542.4h0.6v0.6h-0.6zM443.4 534.3h0.6v0.6h-0.6zM433.4 537.8h0.6v0.6h-0.6zM423.0 536.1h0.6v0.6h-0.6zM423.9 533.0h0.6v0.6h-0.6zM416.9 544.6h0.6v0.6h-0.6zM424.9 540.2h0.6v0.6h-0.6zM426.9 539.9h0.6v0.6h-0.6zM415.8 534.2h0.6v0.6h-0.6zM428.8 542.0h0.6v0.6h-0.6zM418.1 535.7h0.6v0.6h-0.6zM418.6 540.6h0.6v0.6h-0.6zM427.1 538.1h0.6v0.6h-0.6zM421.1 539.4h0.6v0.6h-0.6zM425.2 535.0h0.6v0.6h-0.6zM427.0 535.3h0.6v0.6h-0.6zM430.7 540.5h0.6v0.6h-0.6zM420.9 540.3h0.6v0.6h-0.6zM425.4 535.2h0.6v0.6h-0.6zM419.5 531.3h0.6v0.6h-0.6zM418.2 539.4h0.6v0.6h-0.6zM432.2 535.5h0.6v0.6h-0.6zM426.0 539.4h0.6v0.6h-0.6zM429.7 539.8h0.6v0.6h-0.6zM432.4 541.1h0.6v0.6h-0.6zM420.4 539.6h0.6v0.6h-0.6zM425.1 540.3h0.6v0.6h-0.6zM423.2 541.3h0.6v0.6h-0.6z" fill="#3442e8" opacity="0.7"/>
<path d="M443.2 534.5h0.6v0.6h-0.6zM424.6 541.7h0.6v0.6h-0.6zM434.9 540.9h0.6v0.6h-0.6zM438.3 532.3h0.6v0.6h-0.6zM437.8 547.6h0.6v0.6h-0.6zM441.1 542.8h0.6v0.6h-0.6zM427.6 542.6h0.6v0.6h-0.6zM429.3 529.7h0.6v0.6h-0.6zM423.9 539.7h0.6v0.6h-0.6zM424.8 533.9h0.6v0.6h-0.6zM427.7 537.6h0.6v0.6h-0.6zM430.7 539.7h0.6v0.6h-0.6zM431.7 546.5h0.6v0.6h-0.6zM431.4 542.6h0.6v0.6h-0.6zM417.8 520.8h0.6v0.6h-0.6zM426.0 544.4h0.6v0.6h-0.6zM426.6 535.9h0.6v0.6h-0.6zM417.6 545.8h0.6v0.6h-0.6zM424.7 541.6h0.6v0.6h-0.6zM441.3 543.5h0.6v0.6h-0.6zM452.4 539.1h0.6v0.6h-0.6zM439.6 544.5h0.6v0.6h-0.6zM423.4 540.3h0.6v0.6h-0.6zM424.4 533.3h0.6v0.6h-0.6zM433.0 535.0h0.6v0.6h-0.6zM446.8 535.2h0.6v0.6h-0.6zM424.6 540.6h0.6v0.6h-0.6zM424.8 540.3h0.6v0.6h-0.6zM423.9 530.8h0.6v0.6h-0.6zM445.2 542.9h0.6v0.6h-0.6zM431.5 537.0h0.6v0.6h-0.6zM428.5 541.9h0.6v0.6h-0.6zM416.1 534.8h0.6v0.6h-0.6zM421.1 548.2h0.6v0.6h-0.6zM419.4 547.6h0.6v0.6h-0.6zM429.2 540.2h0.6v0.6h-0.6zM443.5 545.7h0.6v0.6h-0.6zM439.4 533.1h0.6v0.6h-0.6zM441.4 550.9h0.6v0.6h-0.6zM429.0 536.9h0.6v0.6h-0.6zM419.1 546.6h0.6v0.6h-0.6zM432.9 540.0h0.6v0.6h-0.6zM417.6 550.5h0.6v0.6h-0.6zM438.8 539.9h0.6v0.6h-0.6zM444.8 533.8h0.6v0.6h-0.6zM438.8 533.5h0.6v0.6h-0.6zM444.1 538.2h0.6v0.6h-0.6zM442.2 537.3h0.6v0.6h-0.6zM434.0 547.4h0.6v0.6h-0.6zM421.0 540.6h0.6v0.6h-0.6zM421.6 545.5h0.6v0.6h-0.6zM424.0 537.6h0.6v0.6h-0.6zM428.0 547.6h0.6v0.6h-0.6zM419.6 539.8h0.6v0.6h-0.6zM426.7 536.4h0.6v0.6h-0.6zM422.1 539.0h0.6v0.6h-0.6zM432.0 529.9h0.6v0.6h-0.6zM432.3 532.3h0.6v0.6h-0.6zM430.1 554.8h0.6v0.6h-0.6zM420.3 539.6h0.6v0.6h-0.6zM427.5 546.4h0.6v0.6h-0.6zM425.3 528.4h0.6v0.6h-0.6zM432.5 546.9h0.6v0.6h-0.6zM424.6 544.3h0.6v0.6h-0.6zM419.4 548.4h0.6v0.6h-0.6zM429.3 535.6h0.6v0.6h-0.6zM431.8 551.3h0.6v0.6h-0.6zM421.5 531.9h0.6v0.6h-0.6zM419.8 532.5h0.6v0.6h-0.6zM429.5 542.3h0.6v0.6h-0.6zM428.4 541.3h0.6v0.6h-0.6zM441.9 538.1h0.6v0.6h-0.6zM417.5 525.1h0.6v0.6h-0.6zM432.4 535.6h0.6v0.6h-0.6zM427.5 542.7h0.6v0.6h-0.6zM434.6 529.8h0.6v0.6h-0.6zM420.4 540.5h0.6v0.6h-0.6zM428.6 547.5h0.6v0.6h-0.6zM425.0 526.6h0.6v0.6h-0.6zM441.7 529.4h0.6v0.6h-0.6zM420.3 542.5h0.6v0.6h-0.6zM419.4 556.2h0.6v0.6h-0.6zM432.4 543.5h0.6v0.6h-0.6zM425.6 554.4h0.6v0.6h-0.6zM435.4 535.3h0.6v0.6h-0.6zM442.5 529.0h0.6v0.6h-0.6zM424.1 541.9h0.6v0.6h-0.6zM431.4 533.8h0.6v0.6h-0.6zM445.8 549.6h0.6v0.6h-0.6zM420.7 542.4h0.6v0.6h-0.6zM423.7 537.2h0.6v0.6h-0.6zM439.9 540.8h0.6v0.6h-0.6zM428.9 540.7h0.6v0.6h-0.6zM418.3 547.9h0.6v0.6h-0.6zM422.5 548.5h0.6v0.6h-0.6zM425.4 537.0h0.6v0.6h-0.6zM444.9 541.2h0.6v0.6h-0.6zM423.6 536.5h0.6v0.6h-0.6zM436.1 552.2h0.6v0.6h-0.6zM436.1 537.4h0.6v0.6h-0.6zM418.8 535.6h0.6v0.6h-0.6zM428.8 541.6h0.6v0.6h-0.6zM423.4 548.3h0.6v0.6h-0.6zM420.4 535.4h0.6v0.6h-0.6zM435.0 543.1h0.6v0.6h-0.6zM426.1 546.3h0.6v0.6h-0.6zM415.9 550.6h0.6v0.6h-0.6zM451.9 552.7h0.6v0.6h-0.6zM431.2 552.8h0.6v0.6h-0.6zM430.5 548.6h0.6v0.6h-0.6zM428.0 541.3h0.6v0.6h-0.6zM435.2 528.6h0.6v0.6h-0.6zM427.9 551.2h0.6v0.6h-0.6zM439.2 542.1h0.6v0.6h-0.6zM431.9 549.0h0.6v0.6h-0.6zM433.4 527.7h0.6v0.6h-0.6z" fill="#3442e8" opacity="0.5"/>
<path d="M415.7 570.5h0.6v0.6h-0.6zM420.1 570.1h0.6v0.6h-0.6zM419.1 576.4h0.6v0.6h-0.6zM423.2 573.2h0.6v0.6h-0.6zM419.6 571.6h0.6v0.6h-0.6zM421.0 572.1h0.6v0.6h-0.6zM416.6 573.7h0.6v0.6h-0.6zM416.2 571.3h0.6v0.6h-0.6zM418.1 567.9h0.6v0.6h-0.6zM421.9 571.2h0.6v0.6h-0.6zM421.6 577.4h0.6v0.6h-0.6zM417.2 573.5h0.6v0.6h-0.6zM415.6 568.8h0.6v0.6h-0.6zM419.1 572.6h0.6v0.6h-0.6zM423.2 570.6h0.6v0.6h-0.6zM423.9 574.3h0.6v0.6h-0.6zM416.0 570.9h0.6v0.6h-0.6zM415.8 576.5h0.6v0.6h-0.6zM417.3 574.0h0.6v0.6h-0.6zM423.1 570.6h0.6v0.6h-0.6zM417.6 572.4h0.6v0.6h-0.6zM416.4 567.6h0.6v0.6h-0.6zM415.6 572.4h0.6v0.6h-0.6zM420.3 576.7h0.6v0.6h-0.6zM422.3 571.8h0.6v0.6h-0.6zM425.4 570.3h0.6v0.6h-0.6zM417.4 568.3h0.6v0.6h-0.6zM416.9 571.7h0.6v0.6h-0.6zM422.2 575.2h0.6v0.6h-0.6zM418.4 569.2h0.6v0.6h-0.6zM418.2 570.1h0.6v0.6h-0.6zM417.6 570.2h0.6v0.6h-0.6zM416.0 571.2h0.6v0.6h-0.6zM417.5 570.9h0.6v0.6h-0.6zM421.8 573.3h0.6v0.6h-0.6zM417.3 568.0h0.6v0.6h-0.6zM416.9 570.5h0.6v0.6h-0.6z" fill="#1fb585" opacity="0.8"/>
</g>
<line x1="415.2" y1="526.3" x2="415.2" y2="588.5999999999999" stroke="#505050" stroke-width="0.7"/>
<line x1="384.1" y1="557.5" x2="445.90000000000003" y2="557.5" stroke="#505050" stroke-width="0.7"/>
<line x1="382.90000000000003" y1="529.0" x2="384.1" y2="529.0" stroke="#555" stroke-width="0.5"/>
<text x="382.5" y="530.7" font-size="4.4" fill="#222" text-anchor="end">10<tspan font-size="3.2" dy="-1.7">3</tspan></text>
<line x1="382.90000000000003" y1="543.6" x2="384.1" y2="543.6" stroke="#555" stroke-width="0.5"/>
<text x="382.5" y="545.3" font-size="4.4" fill="#222" text-anchor="end">10<tspan font-size="3.2" dy="-1.7">2</tspan></text>
<line x1="382.90000000000003" y1="558.2" x2="384.1" y2="558.2" stroke="#555" stroke-width="0.5"/>
<text x="382.5" y="559.9" font-size="4.4" fill="#222" text-anchor="end">10<tspan font-size="3.2" dy="-1.7">1</tspan></text>
<line x1="382.90000000000003" y1="572.8" x2="384.1" y2="572.8" stroke="#555" stroke-width="0.5"/>
<text x="382.5" y="574.5" font-size="4.4" fill="#222" text-anchor="end">10<tspan font-size="3.2" dy="-1.7">0</tspan></text>
<line x1="382.90000000000003" y1="587.4" x2="384.1" y2="587.4" stroke="#555" stroke-width="0.5"/>
<text x="381.9" y="589.1" font-size="4.4" fill="#222" text-anchor="end">10<tspan font-size="3.2" dy="-1.7">-1</tspan></text>
<line x1="387.8" y1="588.5999999999999" x2="387.8" y2="589.8" stroke="#555" stroke-width="0.5"/>
<text x="386.8" y="595.2" font-size="4.4" fill="#222" text-anchor="middle">10<tspan font-size="3.2" dy="-1.7">-1</tspan></text>
<line x1="401.2" y1="588.5999999999999" x2="401.2" y2="589.8" stroke="#555" stroke-width="0.5"/>
<text x="400.2" y="595.2" font-size="4.4" fill="#222" text-anchor="middle">10<tspan font-size="3.2" dy="-1.7">0</tspan></text>
<line x1="414.6" y1="588.5999999999999" x2="414.6" y2="589.8" stroke="#555" stroke-width="0.5"/>
<text x="413.6" y="595.2" font-size="4.4" fill="#222" text-anchor="middle">10<tspan font-size="3.2" dy="-1.7">1</tspan></text>
<line x1="428.0" y1="588.5999999999999" x2="428.0" y2="589.8" stroke="#555" stroke-width="0.5"/>
<text x="427.0" y="595.2" font-size="4.4" fill="#222" text-anchor="middle">10<tspan font-size="3.2" dy="-1.7">2</tspan></text>
<line x1="441.40000000000003" y1="588.5999999999999" x2="441.40000000000003" y2="589.8" stroke="#555" stroke-width="0.5"/>
<text x="440.4" y="595.2" font-size="4.4" fill="#222" text-anchor="middle">10<tspan font-size="3.2" dy="-1.7">3</tspan></text>
<text x="385.90000000000003" y="532.9" font-size="4.5" fill="#222">6.41</text>
<text x="441.40000000000003" y="532.9" font-size="4.5" fill="#222" text-anchor="end">15.7</text>
<text x="385.90000000000003" y="584.9999999999999" font-size="4.5" fill="#222">72.9</text>
<text x="441.40000000000003" y="584.9999999999999" font-size="4.5" fill="#222" text-anchor="end">4.99</text>
<rect x="457.8" y="526.3" width="61.8" height="62.3" fill="#fff" stroke="#a8a8a8" stroke-width="0.6"/>
<clipPath id="kc03"><rect x="457.8" y="526.3" width="61.8" height="62.3"/></clipPath>
<g clip-path="url(#kc03)">
<path d="M467.3 576.7h0.7v0.7h-0.7zM476.5 579.4h0.7v0.7h-0.7zM476.9 572.7h0.7v0.7h-0.7zM477.9 573.3h0.7v0.7h-0.7zM477.1 570.5h0.7v0.7h-0.7zM481.0 569.7h0.7v0.7h-0.7zM481.2 566.6h0.7v0.7h-0.7zM468.9 583.1h0.7v0.7h-0.7zM473.8 570.5h0.7v0.7h-0.7zM481.6 569.4h0.7v0.7h-0.7zM483.6 568.0h0.7v0.7h-0.7zM486.4 570.1h0.7v0.7h-0.7zM482.6 572.4h0.7v0.7h-0.7zM476.3 573.2h0.7v0.7h-0.7zM484.5 574.2h0.7v0.7h-0.7zM482.0 583.7h0.7v0.7h-0.7zM487.1 568.5h0.7v0.7h-0.7zM479.5 569.1h0.7v0.7h-0.7zM477.5 570.7h0.7v0.7h-0.7zM469.5 576.7h0.7v0.7h-0.7zM481.3 570.0h0.7v0.7h-0.7zM474.8 570.4h0.7v0.7h-0.7zM479.0 567.9h0.7v0.7h-0.7zM481.2 581.0h0.7v0.7h-0.7zM480.8 569.0h0.7v0.7h-0.7zM475.1 570.8h0.7v0.7h-0.7zM482.1 575.5h0.7v0.7h-0.7zM485.6 568.4h0.7v0.7h-0.7zM471.2 577.7h0.7v0.7h-0.7zM474.5 565.2h0.7v0.7h-0.7zM477.9 577.1h0.7v0.7h-0.7zM476.2 582.3h0.7v0.7h-0.7zM473.8 572.0h0.7v0.7h-0.7zM475.5 575.2h0.7v0.7h-0.7zM485.4 567.0h0.7v0.7h-0.7zM467.1 580.1h0.7v0.7h-0.7zM486.9 577.2h0.7v0.7h-0.7zM475.3 583.6h0.7v0.7h-0.7zM485.5 572.3h0.7v0.7h-0.7zM472.4 572.8h0.7v0.7h-0.7zM475.2 580.7h0.7v0.7h-0.7zM483.7 576.5h0.7v0.7h-0.7zM483.7 581.0h0.7v0.7h-0.7zM469.6 576.7h0.7v0.7h-0.7zM476.3 573.2h0.7v0.7h-0.7zM478.8 569.3h0.7v0.7h-0.7zM484.7 563.2h0.7v0.7h-0.7zM470.2 569.8h0.7v0.7h-0.7zM471.3 581.2h0.7v0.7h-0.7zM483.6 569.9h0.7v0.7h-0.7zM487.0 572.3h0.7v0.7h-0.7zM475.6 575.4h0.7v0.7h-0.7zM486.8 579.7h0.7v0.7h-0.7zM477.5 576.4h0.7v0.7h-0.7zM486.3 575.8h0.7v0.7h-0.7zM485.1 575.7h0.7v0.7h-0.7zM471.7 576.5h0.7v0.7h-0.7zM466.1 580.8h0.7v0.7h-0.7zM480.9 573.9h0.7v0.7h-0.7zM477.7 567.4h0.7v0.7h-0.7zM474.5 575.3h0.7v0.7h-0.7zM478.9 569.2h0.7v0.7h-0.7zM477.3 570.8h0.7v0.7h-0.7zM469.1 575.9h0.7v0.7h-0.7zM476.0 579.7h0.7v0.7h-0.7zM477.0 571.9h0.7v0.7h-0.7zM467.6 577.5h0.7v0.7h-0.7zM480.7 571.4h0.7v0.7h-0.7zM480.7 574.9h0.7v0.7h-0.7zM480.6 574.9h0.7v0.7h-0.7zM474.5 576.5h0.7v0.7h-0.7zM479.7 578.9h0.7v0.7h-0.7zM474.0 583.3h0.7v0.7h-0.7zM478.0 571.6h0.7v0.7h-0.7zM480.1 573.6h0.7v0.7h-0.7zM479.1 575.8h0.7v0.7h-0.7zM471.9 568.9h0.7v0.7h-0.7zM484.5 570.3h0.7v0.7h-0.7zM468.6 586.1h0.7v0.7h-0.7zM476.2 578.1h0.7v0.7h-0.7zM471.9 577.3h0.7v0.7h-0.7zM470.1 582.3h0.7v0.7h-0.7zM481.3 567.0h0.7v0.7h-0.7zM485.0 575.1h0.7v0.7h-0.7zM483.8 567.4h0.7v0.7h-0.7zM472.4 571.6h0.7v0.7h-0.7zM471.5 579.6h0.7v0.7h-0.7zM482.9 578.2h0.7v0.7h-0.7zM480.9 570.9h0.7v0.7h-0.7zM473.3 585.0h0.7v0.7h-0.7zM480.8 572.4h0.7v0.7h-0.7zM470.4 573.2h0.7v0.7h-0.7zM481.9 566.9h0.7v0.7h-0.7zM485.2 573.3h0.7v0.7h-0.7zM473.4 568.4h0.7v0.7h-0.7zM485.7 577.1h0.7v0.7h-0.7zM471.1 571.6h0.7v0.7h-0.7zM487.6 569.4h0.7v0.7h-0.7zM478.2 580.5h0.7v0.7h-0.7zM478.8 576.1h0.7v0.7h-0.7zM475.2 571.9h0.7v0.7h-0.7zM479.3 569.0h0.7v0.7h-0.7zM466.2 578.2h0.7v0.7h-0.7zM477.8 576.8h0.7v0.7h-0.7zM474.8 579.9h0.7v0.7h-0.7zM477.2 576.0h0.7v0.7h-0.7zM473.5 576.1h0.7v0.7h-0.7zM486.0 568.5h0.7v0.7h-0.7zM475.7 577.0h0.7v0.7h-0.7zM485.4 569.0h0.7v0.7h-0.7zM468.1 571.8h0.7v0.7h-0.7zM472.8 582.8h0.7v0.7h-0.7zM480.2 575.5h0.7v0.7h-0.7zM487.8 570.1h0.7v0.7h-0.7zM481.9 569.3h0.7v0.7h-0.7zM470.0 582.1h0.7v0.7h-0.7zM480.4 575.9h0.7v0.7h-0.7zM472.0 577.0h0.7v0.7h-0.7zM483.3 577.9h0.7v0.7h-0.7zM478.4 574.7h0.7v0.7h-0.7zM466.7 584.8h0.7v0.7h-0.7zM479.6 580.0h0.7v0.7h-0.7zM478.3 572.2h0.7v0.7h-0.7zM482.2 570.6h0.7v0.7h-0.7zM479.6 581.3h0.7v0.7h-0.7zM486.8 569.7h0.7v0.7h-0.7zM487.2 573.2h0.7v0.7h-0.7zM483.9 571.1h0.7v0.7h-0.7zM481.1 574.5h0.7v0.7h-0.7zM484.4 572.4h0.7v0.7h-0.7zM475.7 575.2h0.7v0.7h-0.7zM480.7 567.6h0.7v0.7h-0.7zM481.4 576.2h0.7v0.7h-0.7zM480.3 571.5h0.7v0.7h-0.7zM478.5 571.5h0.7v0.7h-0.7zM485.7 567.9h0.7v0.7h-0.7zM465.5 575.2h0.7v0.7h-0.7zM482.3 572.9h0.7v0.7h-0.7zM473.5 570.1h0.7v0.7h-0.7zM476.8 570.6h0.7v0.7h-0.7zM475.2 575.9h0.7v0.7h-0.7zM475.1 577.5h0.7v0.7h-0.7zM473.6 574.4h0.7v0.7h-0.7zM481.4 579.8h0.7v0.7h-0.7zM474.7 576.2h0.7v0.7h-0.7zM487.9 572.7h0.7v0.7h-0.7zM468.3 579.5h0.7v0.7h-0.7zM476.3 579.1h0.7v0.7h-0.7zM483.0 568.6h0.7v0.7h-0.7zM483.4 580.9h0.7v0.7h-0.7zM475.0 573.5h0.7v0.7h-0.7zM480.2 566.5h0.7v0.7h-0.7zM483.8 574.6h0.7v0.7h-0.7zM475.2 573.4h0.7v0.7h-0.7zM469.7 581.0h0.7v0.7h-0.7zM487.7 572.3h0.7v0.7h-0.7zM470.5 571.9h0.7v0.7h-0.7zM484.5 571.3h0.7v0.7h-0.7zM485.9 568.3h0.7v0.7h-0.7zM474.6 578.5h0.7v0.7h-0.7zM472.3 569.2h0.7v0.7h-0.7zM473.6 572.3h0.7v0.7h-0.7zM470.8 575.6h0.7v0.7h-0.7zM487.5 568.4h0.7v0.7h-0.7zM481.0 569.1h0.7v0.7h-0.7zM475.5 567.1h0.7v0.7h-0.7zM482.5 568.7h0.7v0.7h-0.7zM479.0 567.7h0.7v0.7h-0.7zM479.2 578.3h0.7v0.7h-0.7zM479.6 563.5h0.7v0.7h-0.7zM482.7 564.8h0.7v0.7h-0.7zM482.9 574.1h0.7v0.7h-0.7zM474.6 574.6h0.7v0.7h-0.7zM478.9 575.8h0.7v0.7h-0.7zM486.4 579.6h0.7v0.7h-0.7zM477.1 583.8h0.7v0.7h-0.7zM479.6 577.2h0.7v0.7h-0.7zM479.1 574.1h0.7v0.7h-0.7zM474.2 578.4h0.7v0.7h-0.7zM479.6 573.4h0.7v0.7h-0.7zM484.2 569.6h0.7v0.7h-0.7zM480.2 574.1h0.7v0.7h-0.7zM471.1 575.1h0.7v0.7h-0.7zM481.7 576.4h0.7v0.7h-0.7zM486.0 568.6h0.7v0.7h-0.7zM480.4 565.1h0.7v0.7h-0.7zM466.1 578.0h0.7v0.7h-0.7zM487.1 574.5h0.7v0.7h-0.7zM481.3 577.6h0.7v0.7h-0.7zM487.1 576.8h0.7v0.7h-0.7zM466.9 576.5h0.7v0.7h-0.7zM470.8 573.1h0.7v0.7h-0.7zM473.1 575.1h0.7v0.7h-0.7zM484.8 568.0h0.7v0.7h-0.7zM486.0 572.4h0.7v0.7h-0.7zM470.1 566.8h0.7v0.7h-0.7zM470.6 572.2h0.7v0.7h-0.7zM473.2 579.0h0.7v0.7h-0.7zM478.0 569.5h0.7v0.7h-0.7zM480.0 569.3h0.7v0.7h-0.7zM469.2 568.9h0.7v0.7h-0.7zM483.3 573.2h0.7v0.7h-0.7zM473.4 577.0h0.7v0.7h-0.7z" fill="#f42424" opacity="0.45"/>
<ellipse cx="479.7" cy="573.2" rx="8.0" ry="4.1" fill="#f42424" opacity="0.85" filter="url(#b1)" transform="rotate(-30 479.7 573.2)"/>
<path d="M473.1 578.8h0.8v0.8h-0.8zM477.3 573.2h0.8v0.8h-0.8zM482.2 571.4h0.8v0.8h-0.8zM484.7 571.9h0.8v0.8h-0.8zM484.9 570.6h0.8v0.8h-0.8zM472.1 581.5h0.8v0.8h-0.8zM473.6 579.7h0.8v0.8h-0.8zM479.1 569.6h0.8v0.8h-0.8zM481.1 575.0h0.8v0.8h-0.8zM475.3 575.9h0.8v0.8h-0.8zM475.3 572.9h0.8v0.8h-0.8zM478.6 577.5h0.8v0.8h-0.8zM482.7 571.5h0.8v0.8h-0.8zM479.5 573.7h0.8v0.8h-0.8zM481.2 572.9h0.8v0.8h-0.8zM473.4 579.5h0.8v0.8h-0.8zM472.8 569.8h0.8v0.8h-0.8zM481.3 568.9h0.8v0.8h-0.8zM479.0 573.4h0.8v0.8h-0.8zM477.8 575.9h0.8v0.8h-0.8zM478.2 573.3h0.8v0.8h-0.8zM475.2 575.0h0.8v0.8h-0.8zM475.3 575.9h0.8v0.8h-0.8zM486.7 572.1h0.8v0.8h-0.8zM479.9 569.2h0.8v0.8h-0.8zM485.3 572.7h0.8v0.8h-0.8zM485.9 563.2h0.8v0.8h-0.8zM479.4 572.5h0.8v0.8h-0.8zM483.1 568.2h0.8v0.8h-0.8zM480.9 579.2h0.8v0.8h-0.8zM481.6 566.4h0.8v0.8h-0.8zM481.5 576.1h0.8v0.8h-0.8zM477.8 576.1h0.8v0.8h-0.8zM478.3 569.8h0.8v0.8h-0.8zM478.4 577.2h0.8v0.8h-0.8zM484.1 569.0h0.8v0.8h-0.8zM483.7 568.9h0.8v0.8h-0.8zM480.8 572.6h0.8v0.8h-0.8zM474.7 577.0h0.8v0.8h-0.8zM474.6 568.3h0.8v0.8h-0.8zM475.1 573.5h0.8v0.8h-0.8zM474.9 573.2h0.8v0.8h-0.8zM473.7 569.7h0.8v0.8h-0.8zM483.7 571.1h0.8v0.8h-0.8zM480.5 572.0h0.8v0.8h-0.8zM479.7 572.5h0.8v0.8h-0.8zM473.1 572.7h0.8v0.8h-0.8zM481.3 575.2h0.8v0.8h-0.8zM482.7 576.1h0.8v0.8h-0.8zM473.5 576.1h0.8v0.8h-0.8zM478.6 577.4h0.8v0.8h-0.8zM486.4 567.8h0.8v0.8h-0.8zM482.6 570.9h0.8v0.8h-0.8zM475.2 575.5h0.8v0.8h-0.8zM477.1 579.2h0.8v0.8h-0.8zM483.8 574.3h0.8v0.8h-0.8zM478.2 567.1h0.8v0.8h-0.8zM483.3 571.4h0.8v0.8h-0.8zM469.5 579.4h0.8v0.8h-0.8zM486.2 574.4h0.8v0.8h-0.8zM476.2 577.5h0.8v0.8h-0.8zM480.9 572.0h0.8v0.8h-0.8zM479.1 575.1h0.8v0.8h-0.8zM483.0 573.2h0.8v0.8h-0.8zM476.3 571.4h0.8v0.8h-0.8zM487.1 572.7h0.8v0.8h-0.8zM477.2 574.6h0.8v0.8h-0.8zM481.0 567.4h0.8v0.8h-0.8zM484.9 577.2h0.8v0.8h-0.8zM480.0 571.0h0.8v0.8h-0.8zM480.1 571.8h0.8v0.8h-0.8zM478.2 568.9h0.8v0.8h-0.8zM472.3 573.2h0.8v0.8h-0.8zM483.5 570.7h0.8v0.8h-0.8zM482.2 565.9h0.8v0.8h-0.8zM478.9 577.9h0.8v0.8h-0.8zM473.9 571.2h0.8v0.8h-0.8zM476.0 574.3h0.8v0.8h-0.8zM481.3 576.1h0.8v0.8h-0.8zM487.4 573.2h0.8v0.8h-0.8zM481.6 570.7h0.8v0.8h-0.8zM475.7 571.2h0.8v0.8h-0.8zM486.8 572.7h0.8v0.8h-0.8zM479.0 571.1h0.8v0.8h-0.8zM483.2 572.6h0.8v0.8h-0.8zM478.9 570.3h0.8v0.8h-0.8zM480.0 571.4h0.8v0.8h-0.8zM483.7 572.6h0.8v0.8h-0.8zM481.1 571.2h0.8v0.8h-0.8zM487.3 571.1h0.8v0.8h-0.8zM486.3 571.8h0.8v0.8h-0.8zM483.1 572.4h0.8v0.8h-0.8zM472.8 571.9h0.8v0.8h-0.8zM476.4 576.9h0.8v0.8h-0.8zM483.9 571.3h0.8v0.8h-0.8zM482.4 577.0h0.8v0.8h-0.8zM475.7 570.3h0.8v0.8h-0.8zM472.6 576.4h0.8v0.8h-0.8zM483.7 573.0h0.8v0.8h-0.8zM479.8 575.5h0.8v0.8h-0.8zM478.6 571.8h0.8v0.8h-0.8zM479.0 575.8h0.8v0.8h-0.8zM482.4 568.4h0.8v0.8h-0.8zM475.6 575.9h0.8v0.8h-0.8zM487.5 565.3h0.8v0.8h-0.8zM474.8 577.2h0.8v0.8h-0.8zM481.1 570.6h0.8v0.8h-0.8zM480.2 574.3h0.8v0.8h-0.8zM472.1 577.5h0.8v0.8h-0.8zM483.5 573.7h0.8v0.8h-0.8zM484.7 570.1h0.8v0.8h-0.8zM475.1 579.7h0.8v0.8h-0.8zM482.2 569.9h0.8v0.8h-0.8zM485.5 572.9h0.8v0.8h-0.8zM476.1 568.4h0.8v0.8h-0.8zM476.7 572.7h0.8v0.8h-0.8zM476.0 575.1h0.8v0.8h-0.8zM475.5 576.7h0.8v0.8h-0.8zM486.4 565.9h0.8v0.8h-0.8zM483.5 569.4h0.8v0.8h-0.8zM481.9 571.6h0.8v0.8h-0.8zM484.4 568.5h0.8v0.8h-0.8zM481.9 569.7h0.8v0.8h-0.8zM480.7 572.6h0.8v0.8h-0.8zM482.4 567.1h0.8v0.8h-0.8zM475.6 579.6h0.8v0.8h-0.8zM483.5 575.9h0.8v0.8h-0.8zM475.5 576.2h0.8v0.8h-0.8zM484.5 575.5h0.8v0.8h-0.8zM478.9 572.4h0.8v0.8h-0.8zM482.7 571.2h0.8v0.8h-0.8zM477.4 576.7h0.8v0.8h-0.8zM470.2 575.8h0.8v0.8h-0.8zM485.0 568.7h0.8v0.8h-0.8zM478.8 574.8h0.8v0.8h-0.8zM485.2 571.5h0.8v0.8h-0.8zM474.8 574.4h0.8v0.8h-0.8zM484.1 570.3h0.8v0.8h-0.8zM478.1 576.7h0.8v0.8h-0.8zM487.4 575.1h0.8v0.8h-0.8zM474.2 574.4h0.8v0.8h-0.8zM477.2 575.7h0.8v0.8h-0.8zM479.0 576.8h0.8v0.8h-0.8zM469.3 582.0h0.8v0.8h-0.8zM476.6 574.2h0.8v0.8h-0.8zM482.4 572.2h0.8v0.8h-0.8zM477.2 579.0h0.8v0.8h-0.8zM481.6 570.7h0.8v0.8h-0.8zM479.2 570.3h0.8v0.8h-0.8zM474.0 575.6h0.8v0.8h-0.8zM481.4 572.5h0.8v0.8h-0.8zM474.6 572.1h0.8v0.8h-0.8zM474.5 580.8h0.8v0.8h-0.8zM480.3 570.5h0.8v0.8h-0.8zM485.5 571.4h0.8v0.8h-0.8zM477.2 572.9h0.8v0.8h-0.8zM485.0 571.1h0.8v0.8h-0.8zM487.2 569.9h0.8v0.8h-0.8zM476.4 573.4h0.8v0.8h-0.8zM477.0 575.5h0.8v0.8h-0.8zM481.6 573.9h0.8v0.8h-0.8zM480.3 569.8h0.8v0.8h-0.8zM477.6 571.7h0.8v0.8h-0.8zM480.1 569.1h0.8v0.8h-0.8zM476.1 572.8h0.8v0.8h-0.8zM476.7 574.2h0.8v0.8h-0.8zM485.9 568.9h0.8v0.8h-0.8zM473.2 576.1h0.8v0.8h-0.8zM483.6 572.5h0.8v0.8h-0.8zM483.2 576.9h0.8v0.8h-0.8zM484.6 570.6h0.8v0.8h-0.8zM483.3 567.3h0.8v0.8h-0.8zM477.9 571.7h0.8v0.8h-0.8zM482.5 576.3h0.8v0.8h-0.8zM479.6 577.9h0.8v0.8h-0.8zM477.1 578.8h0.8v0.8h-0.8zM471.4 575.6h0.8v0.8h-0.8zM483.9 570.5h0.8v0.8h-0.8zM480.3 572.8h0.8v0.8h-0.8zM480.3 572.4h0.8v0.8h-0.8zM475.1 575.0h0.8v0.8h-0.8zM479.1 571.0h0.8v0.8h-0.8zM483.9 575.9h0.8v0.8h-0.8zM472.0 576.1h0.8v0.8h-0.8zM478.5 573.9h0.8v0.8h-0.8zM479.2 571.4h0.8v0.8h-0.8zM479.6 573.3h0.8v0.8h-0.8zM481.3 576.8h0.8v0.8h-0.8zM478.4 569.7h0.8v0.8h-0.8zM473.7 578.4h0.8v0.8h-0.8zM477.5 572.7h0.8v0.8h-0.8zM473.5 575.9h0.8v0.8h-0.8zM478.5 571.9h0.8v0.8h-0.8zM479.3 576.0h0.8v0.8h-0.8zM483.8 572.4h0.8v0.8h-0.8zM477.3 570.7h0.8v0.8h-0.8zM484.9 574.5h0.8v0.8h-0.8zM486.6 572.6h0.8v0.8h-0.8zM481.4 573.3h0.8v0.8h-0.8zM481.2 576.0h0.8v0.8h-0.8zM481.2 578.5h0.8v0.8h-0.8zM482.6 570.6h0.8v0.8h-0.8zM477.7 569.7h0.8v0.8h-0.8zM476.2 574.4h0.8v0.8h-0.8zM483.7 571.1h0.8v0.8h-0.8zM479.2 575.3h0.8v0.8h-0.8zM472.3 580.2h0.8v0.8h-0.8zM488.4 569.0h0.8v0.8h-0.8zM479.6 573.7h0.8v0.8h-0.8zM481.9 570.5h0.8v0.8h-0.8zM480.9 574.0h0.8v0.8h-0.8zM478.7 574.9h0.8v0.8h-0.8zM482.0 573.9h0.8v0.8h-0.8zM474.8 574.5h0.8v0.8h-0.8zM479.4 576.9h0.8v0.8h-0.8zM478.7 569.0h0.8v0.8h-0.8zM476.7 580.6h0.8v0.8h-0.8zM479.5 569.6h0.8v0.8h-0.8zM476.0 575.8h0.8v0.8h-0.8zM487.8 573.2h0.8v0.8h-0.8zM477.8 573.5h0.8v0.8h-0.8zM486.7 566.3h0.8v0.8h-0.8zM486.8 570.1h0.8v0.8h-0.8zM481.7 575.8h0.8v0.8h-0.8zM480.7 570.2h0.8v0.8h-0.8zM473.2 577.0h0.8v0.8h-0.8zM483.6 574.9h0.8v0.8h-0.8zM470.2 582.6h0.8v0.8h-0.8zM484.3 575.0h0.8v0.8h-0.8zM483.4 571.7h0.8v0.8h-0.8zM482.1 573.0h0.8v0.8h-0.8zM476.9 574.5h0.8v0.8h-0.8zM479.7 571.9h0.8v0.8h-0.8zM471.6 573.7h0.8v0.8h-0.8zM482.5 573.1h0.8v0.8h-0.8zM478.7 570.4h0.8v0.8h-0.8zM482.9 570.2h0.8v0.8h-0.8zM472.8 581.7h0.8v0.8h-0.8zM476.1 581.8h0.8v0.8h-0.8zM481.4 570.9h0.8v0.8h-0.8zM468.7 577.5h0.8v0.8h-0.8zM487.8 572.5h0.8v0.8h-0.8zM478.7 568.8h0.8v0.8h-0.8zM477.7 573.5h0.8v0.8h-0.8zM481.5 571.8h0.8v0.8h-0.8zM479.1 568.8h0.8v0.8h-0.8zM478.8 577.9h0.8v0.8h-0.8zM474.6 578.8h0.8v0.8h-0.8zM475.3 579.3h0.8v0.8h-0.8zM472.2 578.5h0.8v0.8h-0.8zM479.5 576.9h0.8v0.8h-0.8zM485.0 570.7h0.8v0.8h-0.8zM476.4 572.2h0.8v0.8h-0.8zM481.3 571.9h0.8v0.8h-0.8zM475.7 570.9h0.8v0.8h-0.8zM478.9 573.3h0.8v0.8h-0.8zM483.3 569.6h0.8v0.8h-0.8zM471.6 574.7h0.8v0.8h-0.8zM479.8 573.8h0.8v0.8h-0.8zM482.3 570.6h0.8v0.8h-0.8zM482.2 572.2h0.8v0.8h-0.8zM486.9 568.9h0.8v0.8h-0.8zM481.0 574.1h0.8v0.8h-0.8zM483.8 568.2h0.8v0.8h-0.8zM477.3 573.8h0.8v0.8h-0.8zM472.2 581.3h0.8v0.8h-0.8zM484.3 570.6h0.8v0.8h-0.8zM481.8 567.9h0.8v0.8h-0.8zM486.8 570.3h0.8v0.8h-0.8zM474.6 576.3h0.8v0.8h-0.8zM484.2 573.5h0.8v0.8h-0.8zM479.8 571.6h0.8v0.8h-0.8zM482.0 569.6h0.8v0.8h-0.8zM480.3 575.1h0.8v0.8h-0.8zM474.0 577.6h0.8v0.8h-0.8zM470.1 576.0h0.8v0.8h-0.8zM474.3 576.1h0.8v0.8h-0.8zM482.7 571.3h0.8v0.8h-0.8zM483.7 571.1h0.8v0.8h-0.8zM479.4 574.8h0.8v0.8h-0.8zM478.8 574.1h0.8v0.8h-0.8zM483.5 569.4h0.8v0.8h-0.8zM483.3 567.9h0.8v0.8h-0.8zM476.6 570.0h0.8v0.8h-0.8zM479.4 578.0h0.8v0.8h-0.8zM482.8 575.1h0.8v0.8h-0.8zM472.1 574.6h0.8v0.8h-0.8zM482.7 573.8h0.8v0.8h-0.8zM481.2 567.5h0.8v0.8h-0.8zM481.8 571.8h0.8v0.8h-0.8zM480.8 573.9h0.8v0.8h-0.8zM476.4 570.2h0.8v0.8h-0.8zM473.3 572.7h0.8v0.8h-0.8z" fill="#f42424"/>
<path d="M478.1 536.0h0.6v0.6h-0.6zM481.6 537.3h0.6v0.6h-0.6zM481.6 537.0h0.6v0.6h-0.6zM483.9 536.9h0.6v0.6h-0.6zM481.7 541.1h0.6v0.6h-0.6zM479.0 542.5h0.6v0.6h-0.6zM477.6 539.1h0.6v0.6h-0.6zM477.4 540.5h0.6v0.6h-0.6zM476.6 537.2h0.6v0.6h-0.6zM474.0 547.7h0.6v0.6h-0.6zM470.6 544.1h0.6v0.6h-0.6zM477.8 538.8h0.6v0.6h-0.6zM480.9 538.5h0.6v0.6h-0.6zM471.3 545.6h0.6v0.6h-0.6zM487.3 538.6h0.6v0.6h-0.6zM478.8 540.0h0.6v0.6h-0.6zM478.3 545.7h0.6v0.6h-0.6zM486.6 538.9h0.6v0.6h-0.6zM474.9 542.4h0.6v0.6h-0.6zM486.6 540.8h0.6v0.6h-0.6zM478.6 539.5h0.6v0.6h-0.6zM485.6 538.7h0.6v0.6h-0.6zM486.7 537.8h0.6v0.6h-0.6zM481.1 538.7h0.6v0.6h-0.6zM488.4 535.6h0.6v0.6h-0.6zM472.2 541.2h0.6v0.6h-0.6zM471.6 544.0h0.6v0.6h-0.6zM485.0 536.9h0.6v0.6h-0.6zM480.8 534.7h0.6v0.6h-0.6zM488.0 537.3h0.6v0.6h-0.6zM482.9 541.4h0.6v0.6h-0.6zM479.0 542.5h0.6v0.6h-0.6zM476.5 545.4h0.6v0.6h-0.6zM472.1 542.2h0.6v0.6h-0.6zM474.0 541.2h0.6v0.6h-0.6zM477.5 544.0h0.6v0.6h-0.6zM478.8 541.3h0.6v0.6h-0.6zM483.2 537.2h0.6v0.6h-0.6zM478.7 546.4h0.6v0.6h-0.6zM475.7 540.1h0.6v0.6h-0.6zM482.4 541.0h0.6v0.6h-0.6zM482.6 540.6h0.6v0.6h-0.6zM482.1 538.8h0.6v0.6h-0.6zM473.0 544.0h0.6v0.6h-0.6zM481.2 540.6h0.6v0.6h-0.6zM482.6 540.8h0.6v0.6h-0.6zM486.4 535.3h0.6v0.6h-0.6zM481.2 539.4h0.6v0.6h-0.6zM475.7 542.5h0.6v0.6h-0.6zM474.8 541.2h0.6v0.6h-0.6zM479.0 541.8h0.6v0.6h-0.6zM473.7 542.3h0.6v0.6h-0.6zM473.1 543.9h0.6v0.6h-0.6zM478.6 542.9h0.6v0.6h-0.6zM483.6 536.2h0.6v0.6h-0.6zM478.4 542.5h0.6v0.6h-0.6zM485.6 539.7h0.6v0.6h-0.6zM486.9 535.5h0.6v0.6h-0.6zM476.2 544.9h0.6v0.6h-0.6zM482.9 538.4h0.6v0.6h-0.6zM477.4 541.2h0.6v0.6h-0.6zM487.3 538.1h0.6v0.6h-0.6zM476.8 540.8h0.6v0.6h-0.6zM479.2 538.0h0.6v0.6h-0.6zM474.7 543.6h0.6v0.6h-0.6zM483.8 540.4h0.6v0.6h-0.6zM482.0 543.1h0.6v0.6h-0.6zM478.5 540.9h0.6v0.6h-0.6zM471.7 543.9h0.6v0.6h-0.6zM486.3 538.9h0.6v0.6h-0.6zM480.3 539.2h0.6v0.6h-0.6zM476.5 543.4h0.6v0.6h-0.6zM474.7 540.2h0.6v0.6h-0.6zM486.4 540.7h0.6v0.6h-0.6zM484.4 540.8h0.6v0.6h-0.6zM471.7 541.7h0.6v0.6h-0.6zM471.7 545.0h0.6v0.6h-0.6zM480.8 541.4h0.6v0.6h-0.6zM484.8 535.7h0.6v0.6h-0.6zM474.4 541.4h0.6v0.6h-0.6zM470.5 542.4h0.6v0.6h-0.6zM488.5 536.0h0.6v0.6h-0.6zM474.5 547.5h0.6v0.6h-0.6zM481.3 536.4h0.6v0.6h-0.6zM477.5 545.3h0.6v0.6h-0.6zM472.9 544.9h0.6v0.6h-0.6zM482.0 538.4h0.6v0.6h-0.6zM474.8 540.8h0.6v0.6h-0.6z" fill="#f42424" opacity="0.55"/>
<path d="M485.1 543.1h0.7v0.7h-0.7zM480.7 545.0h0.7v0.7h-0.7zM486.0 543.5h0.7v0.7h-0.7zM483.5 535.2h0.7v0.7h-0.7zM484.4 540.3h0.7v0.7h-0.7zM486.9 538.8h0.7v0.7h-0.7zM486.9 543.8h0.7v0.7h-0.7zM483.2 540.0h0.7v0.7h-0.7zM482.2 537.8h0.7v0.7h-0.7zM488.2 537.0h0.7v0.7h-0.7zM488.2 541.0h0.7v0.7h-0.7zM488.1 545.8h0.7v0.7h-0.7zM486.3 537.9h0.7v0.7h-0.7zM484.7 549.9h0.7v0.7h-0.7zM485.6 538.3h0.7v0.7h-0.7zM484.3 532.3h0.7v0.7h-0.7zM484.8 542.1h0.7v0.7h-0.7zM484.8 536.8h0.7v0.7h-0.7zM487.0 542.7h0.7v0.7h-0.7zM484.9 542.0h0.7v0.7h-0.7zM483.6 544.7h0.7v0.7h-0.7zM483.6 538.9h0.7v0.7h-0.7zM486.3 538.5h0.7v0.7h-0.7zM483.2 550.7h0.7v0.7h-0.7zM486.3 534.3h0.7v0.7h-0.7zM486.8 534.2h0.7v0.7h-0.7zM487.4 543.1h0.7v0.7h-0.7zM484.9 545.1h0.7v0.7h-0.7zM484.9 540.0h0.7v0.7h-0.7zM484.8 531.9h0.7v0.7h-0.7zM487.5 530.6h0.7v0.7h-0.7zM485.4 543.1h0.7v0.7h-0.7zM486.3 532.8h0.7v0.7h-0.7zM484.4 543.8h0.7v0.7h-0.7zM481.6 542.7h0.7v0.7h-0.7zM484.8 544.2h0.7v0.7h-0.7zM481.9 539.8h0.7v0.7h-0.7zM487.7 537.4h0.7v0.7h-0.7zM485.1 535.7h0.7v0.7h-0.7zM483.8 538.9h0.7v0.7h-0.7zM485.2 550.8h0.7v0.7h-0.7zM486.7 536.4h0.7v0.7h-0.7zM487.4 542.2h0.7v0.7h-0.7zM486.7 540.2h0.7v0.7h-0.7zM487.1 534.8h0.7v0.7h-0.7zM483.1 538.4h0.7v0.7h-0.7zM483.3 543.9h0.7v0.7h-0.7zM487.1 542.1h0.7v0.7h-0.7zM484.3 534.2h0.7v0.7h-0.7zM487.3 533.3h0.7v0.7h-0.7zM486.7 539.8h0.7v0.7h-0.7zM487.8 540.7h0.7v0.7h-0.7zM486.3 537.7h0.7v0.7h-0.7zM481.8 538.8h0.7v0.7h-0.7zM487.7 545.6h0.7v0.7h-0.7zM483.7 543.9h0.7v0.7h-0.7zM484.9 553.0h0.7v0.7h-0.7zM486.8 533.1h0.7v0.7h-0.7zM484.6 548.1h0.7v0.7h-0.7zM481.5 541.2h0.7v0.7h-0.7zM482.6 548.3h0.7v0.7h-0.7z" fill="#f42424" opacity="0.7"/>
<path d="M492.9 533.5h0.8v0.8h-0.8zM510.2 535.5h0.8v0.8h-0.8zM494.0 532.8h0.8v0.8h-0.8zM498.3 535.1h0.8v0.8h-0.8zM492.3 544.4h0.8v0.8h-0.8zM498.6 533.2h0.8v0.8h-0.8zM505.7 535.6h0.8v0.8h-0.8zM499.8 537.6h0.8v0.8h-0.8zM504.3 538.9h0.8v0.8h-0.8zM494.9 541.0h0.8v0.8h-0.8zM494.2 538.5h0.8v0.8h-0.8zM506.0 531.1h0.8v0.8h-0.8zM489.7 536.9h0.8v0.8h-0.8zM494.4 543.7h0.8v0.8h-0.8zM506.1 533.8h0.8v0.8h-0.8zM497.4 535.7h0.8v0.8h-0.8zM501.2 539.6h0.8v0.8h-0.8zM501.8 540.0h0.8v0.8h-0.8zM508.5 534.6h0.8v0.8h-0.8zM500.7 535.9h0.8v0.8h-0.8zM496.9 538.4h0.8v0.8h-0.8zM496.4 539.1h0.8v0.8h-0.8zM491.1 537.8h0.8v0.8h-0.8zM491.8 533.1h0.8v0.8h-0.8zM491.7 536.1h0.8v0.8h-0.8zM494.4 530.9h0.8v0.8h-0.8zM494.0 532.9h0.8v0.8h-0.8zM491.5 539.2h0.8v0.8h-0.8zM503.7 537.5h0.8v0.8h-0.8zM493.1 536.1h0.8v0.8h-0.8zM503.7 529.0h0.8v0.8h-0.8zM502.5 529.8h0.8v0.8h-0.8zM492.6 538.4h0.8v0.8h-0.8zM496.4 544.9h0.8v0.8h-0.8zM499.6 536.7h0.8v0.8h-0.8zM502.5 536.6h0.8v0.8h-0.8zM492.3 543.2h0.8v0.8h-0.8zM506.9 541.4h0.8v0.8h-0.8zM490.6 547.0h0.8v0.8h-0.8zM494.5 541.3h0.8v0.8h-0.8zM505.8 546.5h0.8v0.8h-0.8zM504.3 538.3h0.8v0.8h-0.8zM492.3 525.2h0.8v0.8h-0.8zM499.1 536.2h0.8v0.8h-0.8zM496.6 538.5h0.8v0.8h-0.8zM501.0 535.5h0.8v0.8h-0.8zM490.6 536.9h0.8v0.8h-0.8zM508.4 532.3h0.8v0.8h-0.8zM497.4 545.8h0.8v0.8h-0.8zM503.2 536.9h0.8v0.8h-0.8zM500.9 535.5h0.8v0.8h-0.8zM491.6 542.8h0.8v0.8h-0.8zM498.6 544.3h0.8v0.8h-0.8zM494.6 536.2h0.8v0.8h-0.8zM498.5 536.3h0.8v0.8h-0.8zM493.9 534.0h0.8v0.8h-0.8zM498.3 538.6h0.8v0.8h-0.8zM508.0 535.4h0.8v0.8h-0.8zM510.5 533.1h0.8v0.8h-0.8zM491.3 537.7h0.8v0.8h-0.8zM494.2 531.2h0.8v0.8h-0.8zM499.4 533.1h0.8v0.8h-0.8zM501.9 545.1h0.8v0.8h-0.8zM504.5 537.0h0.8v0.8h-0.8zM493.1 536.9h0.8v0.8h-0.8zM502.2 534.2h0.8v0.8h-0.8zM499.9 541.2h0.8v0.8h-0.8zM490.4 536.0h0.8v0.8h-0.8zM499.3 537.0h0.8v0.8h-0.8zM495.3 535.3h0.8v0.8h-0.8zM497.5 545.6h0.8v0.8h-0.8zM503.8 529.0h0.8v0.8h-0.8zM496.9 537.8h0.8v0.8h-0.8zM495.7 531.5h0.8v0.8h-0.8zM495.8 538.3h0.8v0.8h-0.8zM492.5 539.6h0.8v0.8h-0.8zM497.4 539.1h0.8v0.8h-0.8zM495.1 535.7h0.8v0.8h-0.8zM498.5 542.0h0.8v0.8h-0.8zM502.1 536.2h0.8v0.8h-0.8zM494.4 542.6h0.8v0.8h-0.8zM500.6 540.7h0.8v0.8h-0.8zM494.1 534.1h0.8v0.8h-0.8zM497.2 534.6h0.8v0.8h-0.8zM504.4 539.9h0.8v0.8h-0.8zM505.7 540.5h0.8v0.8h-0.8zM492.9 534.3h0.8v0.8h-0.8zM503.4 540.8h0.8v0.8h-0.8zM496.0 532.4h0.8v0.8h-0.8zM490.8 535.5h0.8v0.8h-0.8zM500.1 541.6h0.8v0.8h-0.8zM504.6 535.9h0.8v0.8h-0.8zM494.8 540.7h0.8v0.8h-0.8zM497.8 544.3h0.8v0.8h-0.8zM502.9 536.4h0.8v0.8h-0.8zM502.5 534.6h0.8v0.8h-0.8zM498.9 541.1h0.8v0.8h-0.8zM498.8 536.9h0.8v0.8h-0.8zM494.8 542.7h0.8v0.8h-0.8zM495.1 531.3h0.8v0.8h-0.8zM504.6 533.2h0.8v0.8h-0.8zM499.0 537.1h0.8v0.8h-0.8zM503.3 537.4h0.8v0.8h-0.8zM504.4 537.1h0.8v0.8h-0.8zM493.2 535.8h0.8v0.8h-0.8zM500.0 533.2h0.8v0.8h-0.8zM502.2 535.4h0.8v0.8h-0.8zM490.0 534.7h0.8v0.8h-0.8zM496.9 545.3h0.8v0.8h-0.8zM501.4 536.7h0.8v0.8h-0.8zM492.3 546.8h0.8v0.8h-0.8zM494.8 537.8h0.8v0.8h-0.8zM494.9 543.8h0.8v0.8h-0.8zM497.3 535.3h0.8v0.8h-0.8zM496.9 533.0h0.8v0.8h-0.8zM489.8 538.0h0.8v0.8h-0.8zM508.2 530.5h0.8v0.8h-0.8zM494.4 530.8h0.8v0.8h-0.8zM497.7 538.2h0.8v0.8h-0.8zM500.1 530.9h0.8v0.8h-0.8zM492.2 535.4h0.8v0.8h-0.8zM496.7 547.7h0.8v0.8h-0.8zM495.2 537.5h0.8v0.8h-0.8zM493.9 541.5h0.8v0.8h-0.8zM513.5 539.7h0.8v0.8h-0.8zM505.3 531.1h0.8v0.8h-0.8zM503.2 536.4h0.8v0.8h-0.8zM505.2 540.7h0.8v0.8h-0.8zM499.3 529.5h0.8v0.8h-0.8zM497.0 535.2h0.8v0.8h-0.8zM499.3 537.2h0.8v0.8h-0.8zM501.9 529.4h0.8v0.8h-0.8zM491.8 538.0h0.8v0.8h-0.8zM498.2 535.4h0.8v0.8h-0.8zM496.4 537.8h0.8v0.8h-0.8zM503.0 535.8h0.8v0.8h-0.8zM496.6 529.3h0.8v0.8h-0.8zM497.0 527.1h0.8v0.8h-0.8zM499.0 536.6h0.8v0.8h-0.8zM496.0 534.3h0.8v0.8h-0.8zM494.5 541.6h0.8v0.8h-0.8zM498.7 537.0h0.8v0.8h-0.8zM493.6 539.0h0.8v0.8h-0.8zM504.0 536.1h0.8v0.8h-0.8zM493.3 532.8h0.8v0.8h-0.8zM496.4 533.4h0.8v0.8h-0.8zM491.0 529.3h0.8v0.8h-0.8zM493.4 546.3h0.8v0.8h-0.8zM494.8 531.9h0.8v0.8h-0.8zM490.1 541.9h0.8v0.8h-0.8zM499.2 538.0h0.8v0.8h-0.8zM495.6 539.8h0.8v0.8h-0.8zM506.6 537.9h0.8v0.8h-0.8zM494.4 531.6h0.8v0.8h-0.8zM500.5 543.8h0.8v0.8h-0.8zM499.6 531.3h0.8v0.8h-0.8zM498.7 543.0h0.8v0.8h-0.8zM492.9 540.4h0.8v0.8h-0.8zM505.4 543.3h0.8v0.8h-0.8zM499.4 540.1h0.8v0.8h-0.8zM494.3 537.8h0.8v0.8h-0.8zM494.8 543.2h0.8v0.8h-0.8zM496.4 537.6h0.8v0.8h-0.8zM507.6 534.6h0.8v0.8h-0.8zM499.0 538.7h0.8v0.8h-0.8zM499.3 543.6h0.8v0.8h-0.8zM497.5 538.0h0.8v0.8h-0.8zM495.8 537.6h0.8v0.8h-0.8zM496.9 541.9h0.8v0.8h-0.8zM496.7 537.8h0.8v0.8h-0.8zM496.8 540.9h0.8v0.8h-0.8zM494.2 542.1h0.8v0.8h-0.8zM493.4 541.2h0.8v0.8h-0.8zM508.8 536.4h0.8v0.8h-0.8zM495.0 532.4h0.8v0.8h-0.8zM501.2 536.7h0.8v0.8h-0.8zM501.7 533.6h0.8v0.8h-0.8zM501.2 544.8h0.8v0.8h-0.8zM498.8 535.6h0.8v0.8h-0.8zM501.1 539.4h0.8v0.8h-0.8zM489.6 534.1h0.8v0.8h-0.8zM495.0 539.0h0.8v0.8h-0.8zM508.8 536.2h0.8v0.8h-0.8zM504.4 528.7h0.8v0.8h-0.8zM506.9 539.3h0.8v0.8h-0.8zM499.9 540.6h0.8v0.8h-0.8zM501.9 545.2h0.8v0.8h-0.8zM500.2 529.0h0.8v0.8h-0.8zM497.0 543.4h0.8v0.8h-0.8zM493.8 535.0h0.8v0.8h-0.8zM494.6 539.3h0.8v0.8h-0.8zM497.2 534.6h0.8v0.8h-0.8zM500.4 539.6h0.8v0.8h-0.8zM489.8 533.7h0.8v0.8h-0.8zM496.0 534.4h0.8v0.8h-0.8zM492.6 537.6h0.8v0.8h-0.8zM497.1 540.0h0.8v0.8h-0.8zM502.1 538.5h0.8v0.8h-0.8zM502.8 532.0h0.8v0.8h-0.8zM500.6 538.5h0.8v0.8h-0.8zM489.4 535.7h0.8v0.8h-0.8zM499.4 537.3h0.8v0.8h-0.8zM506.8 539.5h0.8v0.8h-0.8zM498.1 543.3h0.8v0.8h-0.8zM490.6 537.8h0.8v0.8h-0.8zM502.3 535.0h0.8v0.8h-0.8zM489.9 541.3h0.8v0.8h-0.8zM504.7 524.6h0.8v0.8h-0.8zM496.5 531.9h0.8v0.8h-0.8zM493.5 531.7h0.8v0.8h-0.8zM512.4 531.6h0.8v0.8h-0.8zM496.2 534.4h0.8v0.8h-0.8zM489.9 536.6h0.8v0.8h-0.8zM499.2 544.9h0.8v0.8h-0.8zM499.5 544.0h0.8v0.8h-0.8zM489.8 539.0h0.8v0.8h-0.8zM492.5 531.1h0.8v0.8h-0.8zM519.9 532.3h0.8v0.8h-0.8zM497.5 533.9h0.8v0.8h-0.8zM492.1 533.6h0.8v0.8h-0.8zM502.7 534.6h0.8v0.8h-0.8zM495.7 538.5h0.8v0.8h-0.8zM495.8 539.6h0.8v0.8h-0.8zM494.1 538.1h0.8v0.8h-0.8zM500.5 541.2h0.8v0.8h-0.8zM492.9 542.5h0.8v0.8h-0.8zM490.1 537.8h0.8v0.8h-0.8zM497.4 538.0h0.8v0.8h-0.8zM496.0 541.8h0.8v0.8h-0.8zM493.2 544.9h0.8v0.8h-0.8zM499.9 537.0h0.8v0.8h-0.8zM498.9 541.3h0.8v0.8h-0.8zM491.9 541.0h0.8v0.8h-0.8zM503.0 535.3h0.8v0.8h-0.8zM490.3 533.8h0.8v0.8h-0.8zM498.6 533.5h0.8v0.8h-0.8zM512.6 537.2h0.8v0.8h-0.8zM506.7 538.8h0.8v0.8h-0.8zM490.9 543.2h0.8v0.8h-0.8zM495.2 547.7h0.8v0.8h-0.8zM493.5 540.7h0.8v0.8h-0.8zM499.7 534.9h0.8v0.8h-0.8zM496.4 542.7h0.8v0.8h-0.8zM499.6 536.7h0.8v0.8h-0.8zM500.7 544.7h0.8v0.8h-0.8zM502.8 538.5h0.8v0.8h-0.8zM497.4 530.3h0.8v0.8h-0.8zM497.0 535.2h0.8v0.8h-0.8zM500.7 534.0h0.8v0.8h-0.8zM498.5 532.4h0.8v0.8h-0.8zM501.6 533.3h0.8v0.8h-0.8zM496.8 540.1h0.8v0.8h-0.8zM494.5 537.9h0.8v0.8h-0.8zM504.6 544.1h0.8v0.8h-0.8zM501.5 540.9h0.8v0.8h-0.8zM493.6 538.4h0.8v0.8h-0.8zM497.0 547.7h0.8v0.8h-0.8zM494.3 532.5h0.8v0.8h-0.8zM504.4 534.3h0.8v0.8h-0.8zM509.3 538.1h0.8v0.8h-0.8zM499.4 539.9h0.8v0.8h-0.8zM502.2 540.6h0.8v0.8h-0.8zM489.9 536.1h0.8v0.8h-0.8zM493.1 538.6h0.8v0.8h-0.8zM494.0 532.4h0.8v0.8h-0.8zM493.5 546.1h0.8v0.8h-0.8zM509.3 531.4h0.8v0.8h-0.8zM498.9 536.9h0.8v0.8h-0.8zM491.7 541.6h0.8v0.8h-0.8zM497.3 544.9h0.8v0.8h-0.8zM499.2 535.6h0.8v0.8h-0.8zM501.3 533.4h0.8v0.8h-0.8zM502.6 539.5h0.8v0.8h-0.8zM499.1 540.4h0.8v0.8h-0.8zM497.5 537.3h0.8v0.8h-0.8zM494.1 536.6h0.8v0.8h-0.8zM495.7 532.8h0.8v0.8h-0.8zM500.3 535.4h0.8v0.8h-0.8zM499.4 534.7h0.8v0.8h-0.8zM499.2 537.6h0.8v0.8h-0.8zM502.5 538.5h0.8v0.8h-0.8zM502.3 535.7h0.8v0.8h-0.8zM495.9 536.4h0.8v0.8h-0.8zM504.0 539.7h0.8v0.8h-0.8zM491.4 539.8h0.8v0.8h-0.8zM500.2 530.7h0.8v0.8h-0.8zM499.0 538.6h0.8v0.8h-0.8zM501.4 537.8h0.8v0.8h-0.8zM508.7 533.6h0.8v0.8h-0.8zM505.5 541.6h0.8v0.8h-0.8zM496.2 532.4h0.8v0.8h-0.8zM505.1 535.8h0.8v0.8h-0.8zM500.2 539.0h0.8v0.8h-0.8zM503.3 540.9h0.8v0.8h-0.8zM497.4 537.4h0.8v0.8h-0.8zM501.3 536.0h0.8v0.8h-0.8zM496.9 546.6h0.8v0.8h-0.8zM506.1 541.0h0.8v0.8h-0.8zM502.4 532.9h0.8v0.8h-0.8zM495.9 537.3h0.8v0.8h-0.8zM496.6 532.0h0.8v0.8h-0.8zM500.3 539.0h0.8v0.8h-0.8zM494.7 536.3h0.8v0.8h-0.8zM500.7 538.9h0.8v0.8h-0.8zM497.9 531.8h0.8v0.8h-0.8zM492.1 536.6h0.8v0.8h-0.8zM492.5 541.8h0.8v0.8h-0.8zM493.5 535.8h0.8v0.8h-0.8zM491.3 536.4h0.8v0.8h-0.8zM504.2 536.8h0.8v0.8h-0.8zM494.1 543.6h0.8v0.8h-0.8zM498.8 532.5h0.8v0.8h-0.8zM492.4 535.5h0.8v0.8h-0.8zM497.1 542.8h0.8v0.8h-0.8zM491.9 537.6h0.8v0.8h-0.8zM496.3 532.2h0.8v0.8h-0.8zM494.0 540.7h0.8v0.8h-0.8zM502.2 528.1h0.8v0.8h-0.8zM500.7 535.4h0.8v0.8h-0.8zM505.1 538.8h0.8v0.8h-0.8zM509.2 536.7h0.8v0.8h-0.8zM493.4 534.3h0.8v0.8h-0.8zM500.4 540.5h0.8v0.8h-0.8zM497.6 530.6h0.8v0.8h-0.8zM493.7 536.9h0.8v0.8h-0.8zM498.1 540.7h0.8v0.8h-0.8zM505.7 537.2h0.8v0.8h-0.8zM489.1 539.9h0.8v0.8h-0.8zM496.0 542.6h0.8v0.8h-0.8zM503.0 534.3h0.8v0.8h-0.8zM502.5 536.5h0.8v0.8h-0.8zM500.4 542.9h0.8v0.8h-0.8z" fill="#3442e8" opacity="0.95"/>
<path d="M510.4 540.9h0.7v0.7h-0.7zM518.9 539.4h0.7v0.7h-0.7zM514.7 541.3h0.7v0.7h-0.7zM512.7 538.2h0.7v0.7h-0.7zM511.8 538.9h0.7v0.7h-0.7zM517.4 541.5h0.7v0.7h-0.7zM516.2 538.4h0.7v0.7h-0.7zM515.6 541.3h0.7v0.7h-0.7zM517.3 539.4h0.7v0.7h-0.7zM516.6 544.0h0.7v0.7h-0.7zM519.7 539.0h0.7v0.7h-0.7zM510.5 537.8h0.7v0.7h-0.7zM517.0 542.3h0.7v0.7h-0.7zM515.1 539.1h0.7v0.7h-0.7zM518.0 544.5h0.7v0.7h-0.7zM513.9 540.7h0.7v0.7h-0.7zM517.8 542.1h0.7v0.7h-0.7zM518.3 540.1h0.7v0.7h-0.7zM515.1 540.3h0.7v0.7h-0.7zM512.2 540.4h0.7v0.7h-0.7zM513.1 542.1h0.7v0.7h-0.7zM513.0 541.2h0.7v0.7h-0.7zM511.4 538.4h0.7v0.7h-0.7zM518.5 538.9h0.7v0.7h-0.7zM519.7 543.0h0.7v0.7h-0.7zM506.8 539.6h0.7v0.7h-0.7zM512.7 541.0h0.7v0.7h-0.7zM513.4 539.7h0.7v0.7h-0.7zM518.0 540.7h0.7v0.7h-0.7zM517.0 539.5h0.7v0.7h-0.7zM511.8 543.9h0.7v0.7h-0.7zM513.1 538.6h0.7v0.7h-0.7zM513.5 543.3h0.7v0.7h-0.7zM513.5 539.5h0.7v0.7h-0.7zM516.0 543.1h0.7v0.7h-0.7zM513.4 540.3h0.7v0.7h-0.7zM512.9 546.8h0.7v0.7h-0.7zM513.4 544.8h0.7v0.7h-0.7zM513.5 541.9h0.7v0.7h-0.7zM507.6 541.4h0.7v0.7h-0.7zM514.2 540.3h0.7v0.7h-0.7zM512.7 538.1h0.7v0.7h-0.7zM509.3 541.4h0.7v0.7h-0.7zM512.0 540.8h0.7v0.7h-0.7zM513.4 539.9h0.7v0.7h-0.7zM511.7 545.0h0.7v0.7h-0.7zM510.5 539.9h0.7v0.7h-0.7zM513.1 538.5h0.7v0.7h-0.7zM511.0 542.9h0.7v0.7h-0.7zM516.9 541.3h0.7v0.7h-0.7zM524.3 542.8h0.7v0.7h-0.7zM517.9 539.2h0.7v0.7h-0.7zM517.4 544.6h0.7v0.7h-0.7zM512.8 544.9h0.7v0.7h-0.7zM511.5 538.6h0.7v0.7h-0.7zM513.9 539.3h0.7v0.7h-0.7zM516.0 538.6h0.7v0.7h-0.7zM514.3 536.8h0.7v0.7h-0.7zM513.9 543.3h0.7v0.7h-0.7zM513.2 541.7h0.7v0.7h-0.7zM517.5 538.6h0.7v0.7h-0.7zM510.0 541.2h0.7v0.7h-0.7zM514.9 540.4h0.7v0.7h-0.7zM510.9 543.6h0.7v0.7h-0.7zM510.3 540.4h0.7v0.7h-0.7zM513.9 542.6h0.7v0.7h-0.7zM512.6 539.2h0.7v0.7h-0.7zM520.4 539.2h0.7v0.7h-0.7zM516.5 540.7h0.7v0.7h-0.7zM512.5 540.9h0.7v0.7h-0.7zM513.2 541.7h0.7v0.7h-0.7zM506.0 540.9h0.7v0.7h-0.7zM514.2 538.9h0.7v0.7h-0.7zM512.8 546.0h0.7v0.7h-0.7zM519.8 542.4h0.7v0.7h-0.7zM514.7 540.3h0.7v0.7h-0.7zM518.4 540.0h0.7v0.7h-0.7zM511.4 542.5h0.7v0.7h-0.7zM511.0 539.3h0.7v0.7h-0.7zM518.6 537.6h0.7v0.7h-0.7z" fill="#3442e8" opacity="0.9"/>
<path d="M502.4 543.9h0.6v0.6h-0.6zM505.6 532.3h0.6v0.6h-0.6zM500.8 540.6h0.6v0.6h-0.6zM522.0 550.4h0.6v0.6h-0.6zM495.6 549.4h0.6v0.6h-0.6zM509.5 542.2h0.6v0.6h-0.6zM500.6 541.0h0.6v0.6h-0.6zM512.3 553.6h0.6v0.6h-0.6zM521.3 540.3h0.6v0.6h-0.6zM509.1 525.4h0.6v0.6h-0.6zM500.4 533.8h0.6v0.6h-0.6zM511.2 530.9h0.6v0.6h-0.6zM492.8 534.9h0.6v0.6h-0.6zM507.0 549.1h0.6v0.6h-0.6zM494.0 556.2h0.6v0.6h-0.6zM504.6 536.9h0.6v0.6h-0.6zM506.5 542.9h0.6v0.6h-0.6zM511.3 545.5h0.6v0.6h-0.6zM524.7 551.6h0.6v0.6h-0.6zM496.7 548.8h0.6v0.6h-0.6zM510.6 535.7h0.6v0.6h-0.6zM495.7 537.1h0.6v0.6h-0.6zM500.9 552.0h0.6v0.6h-0.6zM497.5 543.6h0.6v0.6h-0.6zM510.2 550.1h0.6v0.6h-0.6zM506.2 535.4h0.6v0.6h-0.6zM524.8 549.4h0.6v0.6h-0.6zM516.5 554.8h0.6v0.6h-0.6zM516.9 546.0h0.6v0.6h-0.6zM507.7 547.6h0.6v0.6h-0.6zM493.4 546.1h0.6v0.6h-0.6zM493.1 548.2h0.6v0.6h-0.6zM505.0 546.7h0.6v0.6h-0.6zM494.1 540.9h0.6v0.6h-0.6zM502.5 540.9h0.6v0.6h-0.6zM498.8 536.6h0.6v0.6h-0.6zM510.6 540.2h0.6v0.6h-0.6zM495.0 545.7h0.6v0.6h-0.6zM495.1 541.7h0.6v0.6h-0.6zM498.0 536.2h0.6v0.6h-0.6zM500.8 537.0h0.6v0.6h-0.6zM490.7 545.6h0.6v0.6h-0.6zM500.1 532.3h0.6v0.6h-0.6zM499.2 544.4h0.6v0.6h-0.6zM507.3 545.7h0.6v0.6h-0.6zM505.6 547.4h0.6v0.6h-0.6zM498.2 537.2h0.6v0.6h-0.6zM509.1 540.0h0.6v0.6h-0.6zM503.2 547.8h0.6v0.6h-0.6zM512.3 551.9h0.6v0.6h-0.6zM496.3 540.3h0.6v0.6h-0.6zM508.6 532.5h0.6v0.6h-0.6zM490.7 547.4h0.6v0.6h-0.6zM497.0 536.3h0.6v0.6h-0.6zM511.0 546.9h0.6v0.6h-0.6zM512.1 540.6h0.6v0.6h-0.6zM500.2 540.5h0.6v0.6h-0.6zM506.0 528.2h0.6v0.6h-0.6zM496.3 548.2h0.6v0.6h-0.6zM495.4 542.5h0.6v0.6h-0.6zM504.3 546.8h0.6v0.6h-0.6zM498.4 534.7h0.6v0.6h-0.6zM527.7 537.8h0.6v0.6h-0.6zM519.9 530.2h0.6v0.6h-0.6zM504.2 541.6h0.6v0.6h-0.6zM512.7 535.6h0.6v0.6h-0.6zM495.2 537.5h0.6v0.6h-0.6zM498.0 544.9h0.6v0.6h-0.6zM495.3 541.2h0.6v0.6h-0.6zM517.6 553.5h0.6v0.6h-0.6zM499.4 552.5h0.6v0.6h-0.6zM506.7 553.5h0.6v0.6h-0.6zM494.6 540.7h0.6v0.6h-0.6zM513.1 547.2h0.6v0.6h-0.6zM504.9 547.6h0.6v0.6h-0.6zM496.8 555.7h0.6v0.6h-0.6zM504.6 553.6h0.6v0.6h-0.6zM507.1 543.6h0.6v0.6h-0.6zM500.0 534.5h0.6v0.6h-0.6zM511.6 548.5h0.6v0.6h-0.6zM512.3 540.3h0.6v0.6h-0.6zM493.2 540.3h0.6v0.6h-0.6zM500.0 542.9h0.6v0.6h-0.6zM512.8 536.4h0.6v0.6h-0.6zM498.3 548.0h0.6v0.6h-0.6zM508.3 536.8h0.6v0.6h-0.6zM492.9 537.3h0.6v0.6h-0.6zM503.8 544.9h0.6v0.6h-0.6zM502.5 538.5h0.6v0.6h-0.6zM501.3 542.4h0.6v0.6h-0.6zM508.9 543.6h0.6v0.6h-0.6zM495.2 534.5h0.6v0.6h-0.6zM517.7 542.4h0.6v0.6h-0.6zM501.4 542.8h0.6v0.6h-0.6zM514.2 540.7h0.6v0.6h-0.6zM504.8 541.3h0.6v0.6h-0.6zM508.8 535.7h0.6v0.6h-0.6zM505.1 550.5h0.6v0.6h-0.6zM514.7 547.5h0.6v0.6h-0.6zM506.0 554.4h0.6v0.6h-0.6zM510.1 553.2h0.6v0.6h-0.6zM491.3 535.0h0.6v0.6h-0.6zM511.0 541.1h0.6v0.6h-0.6zM498.9 536.1h0.6v0.6h-0.6zM517.7 534.3h0.6v0.6h-0.6zM504.2 532.9h0.6v0.6h-0.6zM527.0 539.4h0.6v0.6h-0.6zM493.2 554.8h0.6v0.6h-0.6zM494.7 530.1h0.6v0.6h-0.6zM506.5 535.2h0.6v0.6h-0.6zM496.0 535.3h0.6v0.6h-0.6zM504.8 541.6h0.6v0.6h-0.6zM514.1 543.7h0.6v0.6h-0.6zM518.7 551.3h0.6v0.6h-0.6zM520.6 551.2h0.6v0.6h-0.6zM503.8 547.0h0.6v0.6h-0.6zM503.4 531.7h0.6v0.6h-0.6zM491.6 548.4h0.6v0.6h-0.6zM490.6 542.6h0.6v0.6h-0.6zM493.0 544.8h0.6v0.6h-0.6zM501.2 539.6h0.6v0.6h-0.6zM494.9 526.9h0.6v0.6h-0.6zM503.9 533.6h0.6v0.6h-0.6zM500.3 545.7h0.6v0.6h-0.6zM513.4 548.1h0.6v0.6h-0.6zM517.6 532.7h0.6v0.6h-0.6zM509.8 554.4h0.6v0.6h-0.6zM507.0 535.0h0.6v0.6h-0.6zM507.0 539.3h0.6v0.6h-0.6zM496.8 550.7h0.6v0.6h-0.6zM501.4 534.9h0.6v0.6h-0.6zM494.9 547.9h0.6v0.6h-0.6zM504.9 551.5h0.6v0.6h-0.6zM500.4 536.2h0.6v0.6h-0.6zM496.9 535.6h0.6v0.6h-0.6zM528.5 544.4h0.6v0.6h-0.6zM500.0 552.2h0.6v0.6h-0.6zM509.6 541.7h0.6v0.6h-0.6zM509.2 545.0h0.6v0.6h-0.6zM514.2 555.0h0.6v0.6h-0.6zM500.1 542.8h0.6v0.6h-0.6zM501.4 551.9h0.6v0.6h-0.6zM506.9 548.7h0.6v0.6h-0.6zM512.0 538.4h0.6v0.6h-0.6zM504.4 553.1h0.6v0.6h-0.6zM512.2 548.9h0.6v0.6h-0.6zM500.4 540.4h0.6v0.6h-0.6z" fill="#3442e8" opacity="0.5"/>
<path d="M490.9 568.2h0.6v0.6h-0.6zM494.8 564.9h0.6v0.6h-0.6zM500.8 566.8h0.6v0.6h-0.6zM496.3 570.8h0.6v0.6h-0.6zM492.4 563.8h0.6v0.6h-0.6zM499.8 570.2h0.6v0.6h-0.6zM493.8 572.3h0.6v0.6h-0.6zM499.5 566.2h0.6v0.6h-0.6zM494.7 563.9h0.6v0.6h-0.6zM493.8 573.1h0.6v0.6h-0.6zM491.0 571.4h0.6v0.6h-0.6zM499.7 574.0h0.6v0.6h-0.6zM497.3 571.2h0.6v0.6h-0.6zM503.5 561.9h0.6v0.6h-0.6zM507.1 570.7h0.6v0.6h-0.6zM495.4 569.8h0.6v0.6h-0.6zM495.2 567.2h0.6v0.6h-0.6zM495.0 568.6h0.6v0.6h-0.6zM498.3 571.0h0.6v0.6h-0.6zM499.9 570.7h0.6v0.6h-0.6zM490.4 573.0h0.6v0.6h-0.6zM496.7 567.5h0.6v0.6h-0.6zM504.2 565.8h0.6v0.6h-0.6zM489.4 567.5h0.6v0.6h-0.6zM497.1 571.3h0.6v0.6h-0.6zM495.6 570.9h0.6v0.6h-0.6zM491.7 567.3h0.6v0.6h-0.6zM495.7 565.1h0.6v0.6h-0.6zM496.0 567.9h0.6v0.6h-0.6zM498.4 566.1h0.6v0.6h-0.6zM492.5 567.4h0.6v0.6h-0.6zM493.3 566.1h0.6v0.6h-0.6zM493.8 565.1h0.6v0.6h-0.6zM497.7 571.0h0.6v0.6h-0.6zM495.0 568.5h0.6v0.6h-0.6zM490.8 566.2h0.6v0.6h-0.6zM494.0 566.4h0.6v0.6h-0.6zM489.4 569.5h0.6v0.6h-0.6zM495.0 567.8h0.6v0.6h-0.6zM491.1 568.9h0.6v0.6h-0.6zM491.7 567.8h0.6v0.6h-0.6zM496.0 571.1h0.6v0.6h-0.6zM498.8 567.2h0.6v0.6h-0.6zM500.9 565.7h0.6v0.6h-0.6zM494.2 572.8h0.6v0.6h-0.6zM506.6 569.4h0.6v0.6h-0.6zM493.3 567.9h0.6v0.6h-0.6z" fill="#1fb585" opacity="0.8"/>
</g>
<line x1="488.9" y1="526.3" x2="488.9" y2="588.5999999999999" stroke="#505050" stroke-width="0.7"/>
<line x1="457.8" y1="557.1" x2="519.6" y2="557.1" stroke="#505050" stroke-width="0.7"/>
<line x1="456.6" y1="529.0" x2="457.8" y2="529.0" stroke="#555" stroke-width="0.5"/>
<text x="456.2" y="530.7" font-size="4.4" fill="#222" text-anchor="end">10<tspan font-size="3.2" dy="-1.7">3</tspan></text>
<line x1="456.6" y1="543.6" x2="457.8" y2="543.6" stroke="#555" stroke-width="0.5"/>
<text x="456.2" y="545.3" font-size="4.4" fill="#222" text-anchor="end">10<tspan font-size="3.2" dy="-1.7">2</tspan></text>
<line x1="456.6" y1="558.2" x2="457.8" y2="558.2" stroke="#555" stroke-width="0.5"/>
<text x="456.2" y="559.9" font-size="4.4" fill="#222" text-anchor="end">10<tspan font-size="3.2" dy="-1.7">1</tspan></text>
<line x1="456.6" y1="572.8" x2="457.8" y2="572.8" stroke="#555" stroke-width="0.5"/>
<text x="456.2" y="574.5" font-size="4.4" fill="#222" text-anchor="end">10<tspan font-size="3.2" dy="-1.7">0</tspan></text>
<line x1="456.6" y1="587.4" x2="457.8" y2="587.4" stroke="#555" stroke-width="0.5"/>
<text x="455.59999999999997" y="589.1" font-size="4.4" fill="#222" text-anchor="end">10<tspan font-size="3.2" dy="-1.7">-1</tspan></text>
<line x1="461.5" y1="588.5999999999999" x2="461.5" y2="589.8" stroke="#555" stroke-width="0.5"/>
<text x="460.5" y="595.2" font-size="4.4" fill="#222" text-anchor="middle">10<tspan font-size="3.2" dy="-1.7">-1</tspan></text>
<line x1="474.9" y1="588.5999999999999" x2="474.9" y2="589.8" stroke="#555" stroke-width="0.5"/>
<text x="473.9" y="595.2" font-size="4.4" fill="#222" text-anchor="middle">10<tspan font-size="3.2" dy="-1.7">0</tspan></text>
<line x1="488.3" y1="588.5999999999999" x2="488.3" y2="589.8" stroke="#555" stroke-width="0.5"/>
<text x="487.3" y="595.2" font-size="4.4" fill="#222" text-anchor="middle">10<tspan font-size="3.2" dy="-1.7">1</tspan></text>
<line x1="501.7" y1="588.5999999999999" x2="501.7" y2="589.8" stroke="#555" stroke-width="0.5"/>
<text x="500.7" y="595.2" font-size="4.4" fill="#222" text-anchor="middle">10<tspan font-size="3.2" dy="-1.7">2</tspan></text>
<line x1="515.1" y1="588.5999999999999" x2="515.1" y2="589.8" stroke="#555" stroke-width="0.5"/>
<text x="514.1" y="595.2" font-size="4.4" fill="#222" text-anchor="middle">10<tspan font-size="3.2" dy="-1.7">3</tspan></text>
<text x="459.6" y="532.9" font-size="4.5" fill="#222">11.5</text>
<text x="515.1" y="532.9" font-size="4.5" fill="#222" text-anchor="end">37.6</text>
<text x="459.6" y="584.9999999999999" font-size="4.5" fill="#222">46.5</text>
<text x="515.1" y="584.9999999999999" font-size="4.5" fill="#222" text-anchor="end">4.48</text>
<rect x="237.5" y="603.5" width="61.8" height="60.8" fill="#fff" stroke="#a8a8a8" stroke-width="0.6"/>
<clipPath id="kc10"><rect x="237.5" y="603.5" width="61.8" height="60.8"/></clipPath>
<g clip-path="url(#kc10)">
<path d="M249.7 661.1h0.7v0.7h-0.7zM253.1 654.7h0.7v0.7h-0.7zM263.6 645.7h0.7v0.7h-0.7zM260.5 649.4h0.7v0.7h-0.7zM248.9 650.9h0.7v0.7h-0.7zM259.0 652.5h0.7v0.7h-0.7zM258.6 650.5h0.7v0.7h-0.7zM256.9 647.1h0.7v0.7h-0.7zM245.1 668.5h0.7v0.7h-0.7zM256.0 638.2h0.7v0.7h-0.7zM265.4 646.7h0.7v0.7h-0.7zM252.5 650.5h0.7v0.7h-0.7zM253.5 662.8h0.7v0.7h-0.7zM253.1 658.8h0.7v0.7h-0.7zM262.7 662.6h0.7v0.7h-0.7zM260.0 645.5h0.7v0.7h-0.7zM251.6 653.6h0.7v0.7h-0.7zM247.0 660.2h0.7v0.7h-0.7zM265.3 649.1h0.7v0.7h-0.7zM262.0 650.8h0.7v0.7h-0.7zM255.5 657.5h0.7v0.7h-0.7zM263.1 662.0h0.7v0.7h-0.7zM256.2 644.8h0.7v0.7h-0.7zM264.1 663.8h0.7v0.7h-0.7zM255.1 662.1h0.7v0.7h-0.7zM264.8 646.9h0.7v0.7h-0.7zM255.2 654.6h0.7v0.7h-0.7zM263.3 650.7h0.7v0.7h-0.7zM265.4 663.9h0.7v0.7h-0.7zM254.2 654.5h0.7v0.7h-0.7zM253.9 653.2h0.7v0.7h-0.7zM255.1 657.0h0.7v0.7h-0.7zM259.2 644.6h0.7v0.7h-0.7zM246.7 659.9h0.7v0.7h-0.7zM257.3 658.2h0.7v0.7h-0.7zM257.2 664.4h0.7v0.7h-0.7zM253.9 657.1h0.7v0.7h-0.7zM261.7 658.7h0.7v0.7h-0.7zM260.0 653.4h0.7v0.7h-0.7zM255.0 658.5h0.7v0.7h-0.7zM259.6 651.5h0.7v0.7h-0.7zM252.5 648.7h0.7v0.7h-0.7zM257.9 661.9h0.7v0.7h-0.7zM249.2 673.0h0.7v0.7h-0.7zM264.3 664.7h0.7v0.7h-0.7zM258.2 660.6h0.7v0.7h-0.7zM257.9 663.0h0.7v0.7h-0.7zM262.4 644.9h0.7v0.7h-0.7zM253.0 652.0h0.7v0.7h-0.7zM258.6 652.0h0.7v0.7h-0.7zM245.2 659.5h0.7v0.7h-0.7zM255.2 648.4h0.7v0.7h-0.7zM266.3 650.6h0.7v0.7h-0.7zM260.9 660.7h0.7v0.7h-0.7zM254.0 662.3h0.7v0.7h-0.7zM248.2 661.2h0.7v0.7h-0.7zM260.6 649.6h0.7v0.7h-0.7zM259.1 657.8h0.7v0.7h-0.7zM260.2 651.5h0.7v0.7h-0.7zM253.5 668.7h0.7v0.7h-0.7zM263.9 637.3h0.7v0.7h-0.7zM263.5 650.1h0.7v0.7h-0.7zM263.5 652.2h0.7v0.7h-0.7zM256.7 656.0h0.7v0.7h-0.7zM261.1 659.2h0.7v0.7h-0.7zM254.7 654.5h0.7v0.7h-0.7zM264.1 653.6h0.7v0.7h-0.7zM261.6 653.6h0.7v0.7h-0.7zM258.7 653.1h0.7v0.7h-0.7zM256.8 644.9h0.7v0.7h-0.7zM252.5 655.3h0.7v0.7h-0.7zM258.0 652.7h0.7v0.7h-0.7zM257.0 653.9h0.7v0.7h-0.7zM253.7 654.6h0.7v0.7h-0.7zM253.6 659.2h0.7v0.7h-0.7zM261.4 645.9h0.7v0.7h-0.7zM250.6 653.2h0.7v0.7h-0.7zM255.9 649.5h0.7v0.7h-0.7zM249.4 658.3h0.7v0.7h-0.7zM254.5 650.4h0.7v0.7h-0.7zM260.0 660.4h0.7v0.7h-0.7zM258.3 655.2h0.7v0.7h-0.7zM243.6 665.4h0.7v0.7h-0.7zM255.0 653.4h0.7v0.7h-0.7zM248.8 662.2h0.7v0.7h-0.7zM249.7 658.6h0.7v0.7h-0.7zM247.4 663.3h0.7v0.7h-0.7zM261.4 647.1h0.7v0.7h-0.7zM255.7 647.9h0.7v0.7h-0.7zM263.3 653.7h0.7v0.7h-0.7zM258.0 660.1h0.7v0.7h-0.7zM252.4 659.9h0.7v0.7h-0.7zM254.0 665.0h0.7v0.7h-0.7zM260.6 651.1h0.7v0.7h-0.7zM240.7 658.3h0.7v0.7h-0.7zM252.4 668.4h0.7v0.7h-0.7zM257.4 650.4h0.7v0.7h-0.7zM253.9 661.2h0.7v0.7h-0.7zM248.4 665.2h0.7v0.7h-0.7zM265.6 640.2h0.7v0.7h-0.7zM256.5 652.4h0.7v0.7h-0.7zM257.6 655.8h0.7v0.7h-0.7zM262.4 656.5h0.7v0.7h-0.7zM264.3 655.8h0.7v0.7h-0.7zM254.8 660.0h0.7v0.7h-0.7zM253.1 654.1h0.7v0.7h-0.7zM252.1 647.4h0.7v0.7h-0.7zM258.7 658.9h0.7v0.7h-0.7zM255.1 654.2h0.7v0.7h-0.7zM255.5 656.4h0.7v0.7h-0.7zM259.5 659.9h0.7v0.7h-0.7zM261.4 651.6h0.7v0.7h-0.7zM255.0 656.1h0.7v0.7h-0.7zM257.6 645.9h0.7v0.7h-0.7zM262.0 655.6h0.7v0.7h-0.7zM262.6 652.9h0.7v0.7h-0.7zM256.9 651.0h0.7v0.7h-0.7zM261.5 651.3h0.7v0.7h-0.7zM264.4 654.2h0.7v0.7h-0.7zM257.7 652.6h0.7v0.7h-0.7zM256.3 649.0h0.7v0.7h-0.7zM257.2 650.4h0.7v0.7h-0.7zM261.2 652.9h0.7v0.7h-0.7zM253.1 652.0h0.7v0.7h-0.7zM256.3 652.3h0.7v0.7h-0.7zM259.1 658.1h0.7v0.7h-0.7zM260.4 645.3h0.7v0.7h-0.7zM266.0 649.8h0.7v0.7h-0.7zM262.5 661.5h0.7v0.7h-0.7zM251.5 651.4h0.7v0.7h-0.7zM259.4 655.5h0.7v0.7h-0.7zM247.7 656.3h0.7v0.7h-0.7zM261.3 648.7h0.7v0.7h-0.7zM247.7 662.5h0.7v0.7h-0.7zM264.7 645.4h0.7v0.7h-0.7zM245.9 664.0h0.7v0.7h-0.7zM256.2 656.5h0.7v0.7h-0.7zM250.3 659.5h0.7v0.7h-0.7zM257.0 660.9h0.7v0.7h-0.7zM261.5 657.1h0.7v0.7h-0.7zM251.4 647.8h0.7v0.7h-0.7zM246.9 667.4h0.7v0.7h-0.7zM266.2 653.2h0.7v0.7h-0.7zM252.3 649.2h0.7v0.7h-0.7zM256.0 659.0h0.7v0.7h-0.7zM265.9 646.3h0.7v0.7h-0.7zM252.1 655.3h0.7v0.7h-0.7zM249.7 669.0h0.7v0.7h-0.7zM247.8 654.8h0.7v0.7h-0.7zM245.6 661.0h0.7v0.7h-0.7zM248.0 659.3h0.7v0.7h-0.7zM260.2 655.5h0.7v0.7h-0.7zM250.3 652.0h0.7v0.7h-0.7zM253.3 654.8h0.7v0.7h-0.7zM246.8 665.1h0.7v0.7h-0.7zM243.5 656.8h0.7v0.7h-0.7zM255.1 656.9h0.7v0.7h-0.7zM251.3 664.9h0.7v0.7h-0.7zM258.8 652.4h0.7v0.7h-0.7zM245.6 664.7h0.7v0.7h-0.7zM262.6 649.0h0.7v0.7h-0.7zM260.5 656.1h0.7v0.7h-0.7zM262.3 657.5h0.7v0.7h-0.7zM246.9 650.5h0.7v0.7h-0.7zM239.7 664.9h0.7v0.7h-0.7zM251.0 664.7h0.7v0.7h-0.7zM264.9 649.1h0.7v0.7h-0.7zM261.7 652.3h0.7v0.7h-0.7zM257.7 652.4h0.7v0.7h-0.7zM258.8 661.3h0.7v0.7h-0.7zM256.1 656.2h0.7v0.7h-0.7zM256.2 657.9h0.7v0.7h-0.7zM251.8 660.9h0.7v0.7h-0.7zM260.0 653.2h0.7v0.7h-0.7zM260.1 655.3h0.7v0.7h-0.7zM239.2 665.8h0.7v0.7h-0.7zM257.0 652.8h0.7v0.7h-0.7zM251.1 659.3h0.7v0.7h-0.7zM252.4 656.8h0.7v0.7h-0.7zM251.7 663.1h0.7v0.7h-0.7zM254.3 663.4h0.7v0.7h-0.7zM265.5 652.0h0.7v0.7h-0.7zM264.4 649.0h0.7v0.7h-0.7zM246.4 664.2h0.7v0.7h-0.7zM257.6 646.1h0.7v0.7h-0.7zM253.3 665.4h0.7v0.7h-0.7zM264.7 657.2h0.7v0.7h-0.7zM262.5 651.6h0.7v0.7h-0.7zM263.2 655.6h0.7v0.7h-0.7zM257.2 654.4h0.7v0.7h-0.7zM259.1 652.1h0.7v0.7h-0.7zM244.4 658.7h0.7v0.7h-0.7zM263.6 647.8h0.7v0.7h-0.7zM258.4 653.3h0.7v0.7h-0.7zM255.5 648.4h0.7v0.7h-0.7zM256.9 652.5h0.7v0.7h-0.7zM247.0 658.4h0.7v0.7h-0.7zM265.1 656.0h0.7v0.7h-0.7zM262.5 650.2h0.7v0.7h-0.7zM258.3 640.7h0.7v0.7h-0.7zM251.7 654.5h0.7v0.7h-0.7zM253.0 662.5h0.7v0.7h-0.7zM260.6 654.4h0.7v0.7h-0.7zM258.9 657.8h0.7v0.7h-0.7zM261.4 648.7h0.7v0.7h-0.7zM261.3 646.6h0.7v0.7h-0.7zM265.6 640.8h0.7v0.7h-0.7zM253.0 652.7h0.7v0.7h-0.7zM262.1 659.3h0.7v0.7h-0.7z" fill="#f42424" opacity="0.45"/>
<ellipse cx="257.9" cy="655" rx="8.6" ry="4.1" fill="#f42424" opacity="0.85" filter="url(#b1)" transform="rotate(-40 257.9 655)"/>
<path d="M257.8 661.0h0.8v0.8h-0.8zM264.3 650.9h0.8v0.8h-0.8zM257.0 658.7h0.8v0.8h-0.8zM245.1 663.2h0.8v0.8h-0.8zM261.8 651.6h0.8v0.8h-0.8zM252.2 659.1h0.8v0.8h-0.8zM263.1 656.3h0.8v0.8h-0.8zM251.0 661.3h0.8v0.8h-0.8zM262.0 649.3h0.8v0.8h-0.8zM254.1 654.1h0.8v0.8h-0.8zM262.4 654.0h0.8v0.8h-0.8zM260.8 653.4h0.8v0.8h-0.8zM261.8 651.3h0.8v0.8h-0.8zM262.2 654.1h0.8v0.8h-0.8zM264.1 651.5h0.8v0.8h-0.8zM259.5 656.1h0.8v0.8h-0.8zM248.7 656.8h0.8v0.8h-0.8zM264.8 649.7h0.8v0.8h-0.8zM252.7 657.4h0.8v0.8h-0.8zM257.5 655.6h0.8v0.8h-0.8zM256.5 659.5h0.8v0.8h-0.8zM255.6 666.3h0.8v0.8h-0.8zM256.3 661.9h0.8v0.8h-0.8zM257.9 649.4h0.8v0.8h-0.8zM253.1 659.3h0.8v0.8h-0.8zM258.4 653.2h0.8v0.8h-0.8zM258.3 655.2h0.8v0.8h-0.8zM253.4 659.0h0.8v0.8h-0.8zM266.2 645.9h0.8v0.8h-0.8zM254.9 659.7h0.8v0.8h-0.8zM265.2 652.4h0.8v0.8h-0.8zM255.2 657.0h0.8v0.8h-0.8zM258.4 653.8h0.8v0.8h-0.8zM261.4 655.7h0.8v0.8h-0.8zM260.2 653.0h0.8v0.8h-0.8zM260.1 659.2h0.8v0.8h-0.8zM256.2 663.1h0.8v0.8h-0.8zM261.1 652.6h0.8v0.8h-0.8zM257.9 661.1h0.8v0.8h-0.8zM264.5 652.6h0.8v0.8h-0.8zM263.6 644.2h0.8v0.8h-0.8zM257.9 654.0h0.8v0.8h-0.8zM255.1 657.6h0.8v0.8h-0.8zM261.0 654.1h0.8v0.8h-0.8zM255.2 652.8h0.8v0.8h-0.8zM261.3 654.2h0.8v0.8h-0.8zM256.1 652.6h0.8v0.8h-0.8zM260.0 655.7h0.8v0.8h-0.8zM262.2 655.8h0.8v0.8h-0.8zM252.5 657.2h0.8v0.8h-0.8zM256.6 651.9h0.8v0.8h-0.8zM257.7 659.8h0.8v0.8h-0.8zM259.0 653.7h0.8v0.8h-0.8zM255.7 657.0h0.8v0.8h-0.8zM256.0 652.9h0.8v0.8h-0.8zM259.1 649.7h0.8v0.8h-0.8zM262.7 649.8h0.8v0.8h-0.8zM245.9 659.8h0.8v0.8h-0.8zM257.7 652.2h0.8v0.8h-0.8zM262.6 649.0h0.8v0.8h-0.8zM262.6 649.6h0.8v0.8h-0.8zM255.5 652.4h0.8v0.8h-0.8zM258.9 655.6h0.8v0.8h-0.8zM255.9 653.0h0.8v0.8h-0.8zM263.2 653.6h0.8v0.8h-0.8zM258.9 656.8h0.8v0.8h-0.8zM260.4 649.6h0.8v0.8h-0.8zM254.7 651.4h0.8v0.8h-0.8zM254.4 659.4h0.8v0.8h-0.8zM254.9 658.8h0.8v0.8h-0.8zM256.0 649.6h0.8v0.8h-0.8zM258.5 659.7h0.8v0.8h-0.8zM258.2 655.1h0.8v0.8h-0.8zM252.3 654.2h0.8v0.8h-0.8zM256.1 666.2h0.8v0.8h-0.8zM255.7 653.9h0.8v0.8h-0.8zM255.2 650.7h0.8v0.8h-0.8zM255.3 658.2h0.8v0.8h-0.8zM255.6 659.8h0.8v0.8h-0.8zM254.2 657.6h0.8v0.8h-0.8zM264.3 651.4h0.8v0.8h-0.8zM254.1 653.1h0.8v0.8h-0.8zM253.3 662.9h0.8v0.8h-0.8zM260.2 653.3h0.8v0.8h-0.8zM263.5 650.8h0.8v0.8h-0.8zM254.7 657.3h0.8v0.8h-0.8zM257.5 655.3h0.8v0.8h-0.8zM258.7 653.5h0.8v0.8h-0.8zM253.4 655.4h0.8v0.8h-0.8zM249.3 660.7h0.8v0.8h-0.8zM248.5 656.6h0.8v0.8h-0.8zM250.6 654.2h0.8v0.8h-0.8zM265.8 652.6h0.8v0.8h-0.8zM257.3 662.4h0.8v0.8h-0.8zM256.5 647.6h0.8v0.8h-0.8zM256.4 652.9h0.8v0.8h-0.8zM250.2 660.6h0.8v0.8h-0.8zM263.5 651.8h0.8v0.8h-0.8zM250.7 658.8h0.8v0.8h-0.8zM256.7 659.9h0.8v0.8h-0.8zM255.9 653.4h0.8v0.8h-0.8zM250.8 654.3h0.8v0.8h-0.8zM255.9 659.7h0.8v0.8h-0.8zM250.2 662.1h0.8v0.8h-0.8zM258.8 657.0h0.8v0.8h-0.8zM254.6 660.8h0.8v0.8h-0.8zM251.0 660.7h0.8v0.8h-0.8zM257.3 656.0h0.8v0.8h-0.8zM255.2 660.2h0.8v0.8h-0.8zM252.9 657.2h0.8v0.8h-0.8zM261.2 652.7h0.8v0.8h-0.8zM256.8 660.1h0.8v0.8h-0.8zM261.8 655.2h0.8v0.8h-0.8zM259.3 658.1h0.8v0.8h-0.8zM254.1 654.4h0.8v0.8h-0.8zM255.6 652.2h0.8v0.8h-0.8zM264.5 652.0h0.8v0.8h-0.8zM251.1 661.3h0.8v0.8h-0.8zM260.9 651.2h0.8v0.8h-0.8zM258.7 652.3h0.8v0.8h-0.8zM257.5 655.0h0.8v0.8h-0.8zM258.4 651.3h0.8v0.8h-0.8zM253.7 659.6h0.8v0.8h-0.8zM256.7 657.8h0.8v0.8h-0.8zM253.6 654.1h0.8v0.8h-0.8zM261.5 652.9h0.8v0.8h-0.8zM260.5 651.7h0.8v0.8h-0.8zM258.5 658.8h0.8v0.8h-0.8zM253.7 664.5h0.8v0.8h-0.8zM260.0 653.0h0.8v0.8h-0.8zM259.3 655.9h0.8v0.8h-0.8zM255.1 658.3h0.8v0.8h-0.8zM250.8 654.7h0.8v0.8h-0.8zM258.9 654.5h0.8v0.8h-0.8zM261.6 653.8h0.8v0.8h-0.8zM262.2 654.1h0.8v0.8h-0.8zM255.5 661.2h0.8v0.8h-0.8zM253.7 660.8h0.8v0.8h-0.8zM263.5 653.8h0.8v0.8h-0.8zM262.1 646.7h0.8v0.8h-0.8zM260.3 654.6h0.8v0.8h-0.8zM261.7 648.8h0.8v0.8h-0.8zM257.4 654.2h0.8v0.8h-0.8zM257.0 655.3h0.8v0.8h-0.8zM254.3 652.0h0.8v0.8h-0.8zM257.9 655.3h0.8v0.8h-0.8zM250.3 649.2h0.8v0.8h-0.8zM253.9 656.1h0.8v0.8h-0.8zM256.9 661.3h0.8v0.8h-0.8zM261.5 651.3h0.8v0.8h-0.8zM266.0 659.5h0.8v0.8h-0.8zM254.6 659.4h0.8v0.8h-0.8zM257.9 660.1h0.8v0.8h-0.8zM262.4 650.8h0.8v0.8h-0.8zM259.2 651.2h0.8v0.8h-0.8zM252.6 662.3h0.8v0.8h-0.8zM264.3 648.6h0.8v0.8h-0.8zM252.7 653.3h0.8v0.8h-0.8zM265.0 644.9h0.8v0.8h-0.8zM253.5 658.0h0.8v0.8h-0.8zM263.1 650.8h0.8v0.8h-0.8zM257.9 655.1h0.8v0.8h-0.8zM261.4 651.9h0.8v0.8h-0.8zM258.5 654.3h0.8v0.8h-0.8zM255.5 661.6h0.8v0.8h-0.8zM252.8 654.8h0.8v0.8h-0.8zM256.1 656.6h0.8v0.8h-0.8zM258.9 649.1h0.8v0.8h-0.8zM252.8 659.9h0.8v0.8h-0.8zM257.7 651.4h0.8v0.8h-0.8zM253.4 659.4h0.8v0.8h-0.8zM254.6 652.3h0.8v0.8h-0.8zM256.7 661.1h0.8v0.8h-0.8zM255.2 660.9h0.8v0.8h-0.8zM253.9 663.4h0.8v0.8h-0.8zM263.6 648.0h0.8v0.8h-0.8zM256.1 658.7h0.8v0.8h-0.8zM253.6 660.5h0.8v0.8h-0.8zM263.5 651.2h0.8v0.8h-0.8zM259.0 653.5h0.8v0.8h-0.8zM260.8 649.8h0.8v0.8h-0.8zM264.6 649.3h0.8v0.8h-0.8zM253.8 652.9h0.8v0.8h-0.8zM256.4 657.0h0.8v0.8h-0.8zM260.5 647.3h0.8v0.8h-0.8zM256.2 654.1h0.8v0.8h-0.8zM252.8 659.3h0.8v0.8h-0.8zM256.2 659.4h0.8v0.8h-0.8zM247.7 666.1h0.8v0.8h-0.8zM246.6 657.8h0.8v0.8h-0.8zM259.5 652.5h0.8v0.8h-0.8zM256.8 652.6h0.8v0.8h-0.8zM252.2 657.2h0.8v0.8h-0.8zM256.3 653.5h0.8v0.8h-0.8zM254.7 654.8h0.8v0.8h-0.8zM257.0 651.9h0.8v0.8h-0.8zM244.7 657.1h0.8v0.8h-0.8zM258.0 655.3h0.8v0.8h-0.8zM260.7 650.1h0.8v0.8h-0.8zM250.6 656.1h0.8v0.8h-0.8zM260.1 651.0h0.8v0.8h-0.8zM261.9 651.3h0.8v0.8h-0.8zM253.6 652.2h0.8v0.8h-0.8zM256.4 659.0h0.8v0.8h-0.8zM256.5 658.5h0.8v0.8h-0.8zM252.7 662.9h0.8v0.8h-0.8zM257.2 651.4h0.8v0.8h-0.8zM254.6 655.6h0.8v0.8h-0.8zM255.3 650.3h0.8v0.8h-0.8zM255.6 659.7h0.8v0.8h-0.8zM259.8 656.0h0.8v0.8h-0.8zM259.6 649.7h0.8v0.8h-0.8zM253.0 660.7h0.8v0.8h-0.8zM258.2 655.0h0.8v0.8h-0.8zM256.2 659.9h0.8v0.8h-0.8zM261.9 655.5h0.8v0.8h-0.8zM257.6 657.6h0.8v0.8h-0.8zM256.1 653.3h0.8v0.8h-0.8zM254.8 652.0h0.8v0.8h-0.8zM257.4 656.0h0.8v0.8h-0.8zM259.1 650.4h0.8v0.8h-0.8zM251.1 658.2h0.8v0.8h-0.8zM248.0 661.0h0.8v0.8h-0.8zM253.5 656.3h0.8v0.8h-0.8zM263.4 646.4h0.8v0.8h-0.8zM257.3 655.2h0.8v0.8h-0.8zM253.6 656.2h0.8v0.8h-0.8zM249.4 659.3h0.8v0.8h-0.8zM265.8 653.2h0.8v0.8h-0.8zM257.9 657.4h0.8v0.8h-0.8zM260.0 653.6h0.8v0.8h-0.8zM259.4 657.9h0.8v0.8h-0.8zM259.9 652.5h0.8v0.8h-0.8zM258.5 657.7h0.8v0.8h-0.8zM254.2 655.7h0.8v0.8h-0.8zM255.9 655.0h0.8v0.8h-0.8zM263.8 651.2h0.8v0.8h-0.8zM256.6 654.3h0.8v0.8h-0.8zM264.6 650.9h0.8v0.8h-0.8zM256.1 654.7h0.8v0.8h-0.8zM257.0 656.4h0.8v0.8h-0.8zM262.1 653.2h0.8v0.8h-0.8zM262.0 646.4h0.8v0.8h-0.8zM255.6 652.1h0.8v0.8h-0.8zM252.5 657.4h0.8v0.8h-0.8zM253.5 655.4h0.8v0.8h-0.8zM253.4 662.7h0.8v0.8h-0.8zM258.2 658.1h0.8v0.8h-0.8zM249.3 654.3h0.8v0.8h-0.8zM256.9 658.9h0.8v0.8h-0.8zM256.2 657.8h0.8v0.8h-0.8zM255.7 661.6h0.8v0.8h-0.8zM261.5 655.6h0.8v0.8h-0.8zM258.9 658.6h0.8v0.8h-0.8zM257.4 653.8h0.8v0.8h-0.8zM255.3 657.4h0.8v0.8h-0.8zM252.1 655.8h0.8v0.8h-0.8zM259.6 656.0h0.8v0.8h-0.8zM258.1 657.7h0.8v0.8h-0.8zM262.5 646.8h0.8v0.8h-0.8zM257.4 652.2h0.8v0.8h-0.8zM255.5 657.6h0.8v0.8h-0.8zM248.9 664.6h0.8v0.8h-0.8zM262.4 653.1h0.8v0.8h-0.8zM263.7 656.3h0.8v0.8h-0.8zM258.2 658.5h0.8v0.8h-0.8zM264.8 650.9h0.8v0.8h-0.8zM250.1 661.0h0.8v0.8h-0.8zM253.9 652.8h0.8v0.8h-0.8zM258.9 656.7h0.8v0.8h-0.8zM256.5 655.6h0.8v0.8h-0.8zM263.1 648.6h0.8v0.8h-0.8zM254.0 658.4h0.8v0.8h-0.8zM263.6 652.2h0.8v0.8h-0.8zM257.4 653.8h0.8v0.8h-0.8zM264.6 652.4h0.8v0.8h-0.8zM251.1 661.8h0.8v0.8h-0.8zM250.3 666.5h0.8v0.8h-0.8zM259.4 651.6h0.8v0.8h-0.8zM251.9 659.0h0.8v0.8h-0.8zM251.4 662.3h0.8v0.8h-0.8zM252.8 653.3h0.8v0.8h-0.8zM259.8 657.4h0.8v0.8h-0.8zM251.9 658.8h0.8v0.8h-0.8zM265.9 648.9h0.8v0.8h-0.8zM255.9 657.3h0.8v0.8h-0.8zM259.5 650.2h0.8v0.8h-0.8z" fill="#f42424"/>
<path d="M279.9 640.4h0.8v0.8h-0.8zM280.6 635.1h0.8v0.8h-0.8zM268.0 654.0h0.8v0.8h-0.8zM279.2 643.4h0.8v0.8h-0.8zM272.2 651.8h0.8v0.8h-0.8zM270.7 652.1h0.8v0.8h-0.8zM274.9 643.1h0.8v0.8h-0.8zM268.3 655.7h0.8v0.8h-0.8zM276.5 644.8h0.8v0.8h-0.8zM269.3 655.0h0.8v0.8h-0.8zM269.3 651.8h0.8v0.8h-0.8zM276.0 646.6h0.8v0.8h-0.8zM270.0 651.9h0.8v0.8h-0.8zM269.6 646.1h0.8v0.8h-0.8zM269.5 654.6h0.8v0.8h-0.8zM278.4 642.2h0.8v0.8h-0.8zM276.8 637.3h0.8v0.8h-0.8zM270.5 652.8h0.8v0.8h-0.8zM282.7 643.4h0.8v0.8h-0.8zM279.9 636.7h0.8v0.8h-0.8zM271.7 644.0h0.8v0.8h-0.8zM273.7 647.6h0.8v0.8h-0.8zM273.0 651.3h0.8v0.8h-0.8zM270.2 652.8h0.8v0.8h-0.8zM282.6 636.3h0.8v0.8h-0.8zM285.4 637.0h0.8v0.8h-0.8zM278.5 640.9h0.8v0.8h-0.8zM274.1 648.4h0.8v0.8h-0.8zM274.2 651.0h0.8v0.8h-0.8zM283.4 635.4h0.8v0.8h-0.8zM275.6 652.9h0.8v0.8h-0.8zM269.9 654.9h0.8v0.8h-0.8zM279.7 638.6h0.8v0.8h-0.8zM280.8 638.0h0.8v0.8h-0.8zM277.0 648.6h0.8v0.8h-0.8zM283.2 636.2h0.8v0.8h-0.8zM281.4 635.2h0.8v0.8h-0.8zM281.7 642.3h0.8v0.8h-0.8zM281.2 644.4h0.8v0.8h-0.8zM280.8 640.4h0.8v0.8h-0.8zM271.4 652.0h0.8v0.8h-0.8zM277.1 644.8h0.8v0.8h-0.8zM270.4 654.2h0.8v0.8h-0.8zM282.9 634.2h0.8v0.8h-0.8zM279.0 639.9h0.8v0.8h-0.8zM275.2 647.3h0.8v0.8h-0.8zM280.1 645.1h0.8v0.8h-0.8zM270.3 646.7h0.8v0.8h-0.8zM276.3 640.6h0.8v0.8h-0.8zM282.0 640.0h0.8v0.8h-0.8zM279.2 637.1h0.8v0.8h-0.8zM272.1 654.9h0.8v0.8h-0.8zM268.4 652.9h0.8v0.8h-0.8zM269.5 651.3h0.8v0.8h-0.8zM282.2 635.6h0.8v0.8h-0.8zM270.3 648.2h0.8v0.8h-0.8zM283.6 636.7h0.8v0.8h-0.8zM274.8 651.1h0.8v0.8h-0.8zM275.5 642.6h0.8v0.8h-0.8zM285.6 638.1h0.8v0.8h-0.8zM274.9 642.9h0.8v0.8h-0.8zM268.8 655.0h0.8v0.8h-0.8zM272.0 655.1h0.8v0.8h-0.8zM277.4 641.7h0.8v0.8h-0.8zM282.8 640.0h0.8v0.8h-0.8zM281.7 638.5h0.8v0.8h-0.8zM274.8 643.1h0.8v0.8h-0.8zM286.2 637.3h0.8v0.8h-0.8zM267.9 653.0h0.8v0.8h-0.8zM283.6 638.0h0.8v0.8h-0.8zM278.9 642.4h0.8v0.8h-0.8zM271.0 651.6h0.8v0.8h-0.8zM267.8 650.0h0.8v0.8h-0.8zM285.3 639.2h0.8v0.8h-0.8zM284.1 635.6h0.8v0.8h-0.8zM277.9 636.7h0.8v0.8h-0.8zM283.9 637.0h0.8v0.8h-0.8zM280.7 642.6h0.8v0.8h-0.8zM280.2 642.0h0.8v0.8h-0.8zM274.7 648.9h0.8v0.8h-0.8zM271.6 654.0h0.8v0.8h-0.8zM277.8 647.8h0.8v0.8h-0.8zM272.8 652.5h0.8v0.8h-0.8zM285.2 638.2h0.8v0.8h-0.8zM279.9 643.7h0.8v0.8h-0.8zM269.5 650.2h0.8v0.8h-0.8zM276.4 641.8h0.8v0.8h-0.8zM267.5 649.1h0.8v0.8h-0.8zM278.5 643.4h0.8v0.8h-0.8zM269.9 649.1h0.8v0.8h-0.8zM271.5 656.9h0.8v0.8h-0.8zM273.8 644.4h0.8v0.8h-0.8zM267.5 655.3h0.8v0.8h-0.8zM270.4 654.2h0.8v0.8h-0.8zM270.9 648.3h0.8v0.8h-0.8zM275.8 646.9h0.8v0.8h-0.8zM281.7 638.9h0.8v0.8h-0.8zM280.8 640.6h0.8v0.8h-0.8zM270.3 655.1h0.8v0.8h-0.8zM270.1 646.7h0.8v0.8h-0.8zM275.7 645.0h0.8v0.8h-0.8zM284.0 640.2h0.8v0.8h-0.8zM268.3 654.6h0.8v0.8h-0.8zM269.4 652.4h0.8v0.8h-0.8zM281.9 636.7h0.8v0.8h-0.8zM273.8 658.8h0.8v0.8h-0.8zM276.3 648.9h0.8v0.8h-0.8zM276.2 643.7h0.8v0.8h-0.8zM272.8 648.3h0.8v0.8h-0.8zM273.6 647.9h0.8v0.8h-0.8zM276.3 639.0h0.8v0.8h-0.8zM271.4 652.7h0.8v0.8h-0.8zM269.3 645.0h0.8v0.8h-0.8zM277.2 639.9h0.8v0.8h-0.8zM282.2 638.9h0.8v0.8h-0.8zM268.0 652.6h0.8v0.8h-0.8zM279.4 639.5h0.8v0.8h-0.8zM278.8 640.4h0.8v0.8h-0.8zM280.9 640.5h0.8v0.8h-0.8zM276.8 639.2h0.8v0.8h-0.8zM282.5 635.4h0.8v0.8h-0.8zM270.6 649.6h0.8v0.8h-0.8zM269.2 647.8h0.8v0.8h-0.8zM281.1 635.9h0.8v0.8h-0.8zM281.3 647.0h0.8v0.8h-0.8zM286.1 637.7h0.8v0.8h-0.8zM271.9 646.4h0.8v0.8h-0.8zM272.7 644.1h0.8v0.8h-0.8zM273.0 645.8h0.8v0.8h-0.8zM283.1 637.7h0.8v0.8h-0.8zM272.0 654.2h0.8v0.8h-0.8zM270.3 651.9h0.8v0.8h-0.8zM277.7 644.4h0.8v0.8h-0.8zM275.6 641.0h0.8v0.8h-0.8zM278.6 646.0h0.8v0.8h-0.8zM280.4 642.8h0.8v0.8h-0.8zM268.7 655.7h0.8v0.8h-0.8zM270.8 652.7h0.8v0.8h-0.8zM276.9 642.8h0.8v0.8h-0.8zM272.3 646.5h0.8v0.8h-0.8zM278.5 636.2h0.8v0.8h-0.8zM285.5 637.4h0.8v0.8h-0.8zM283.8 635.2h0.8v0.8h-0.8zM280.1 639.9h0.8v0.8h-0.8zM277.9 646.2h0.8v0.8h-0.8zM284.7 640.8h0.8v0.8h-0.8zM280.9 643.7h0.8v0.8h-0.8zM276.2 642.4h0.8v0.8h-0.8zM275.3 648.1h0.8v0.8h-0.8zM277.1 639.0h0.8v0.8h-0.8zM283.3 638.6h0.8v0.8h-0.8zM273.1 657.1h0.8v0.8h-0.8zM271.3 652.0h0.8v0.8h-0.8zM280.3 638.2h0.8v0.8h-0.8zM268.5 655.8h0.8v0.8h-0.8zM274.3 646.5h0.8v0.8h-0.8zM267.5 655.0h0.8v0.8h-0.8zM274.5 651.4h0.8v0.8h-0.8zM270.0 648.7h0.8v0.8h-0.8zM272.1 645.4h0.8v0.8h-0.8zM273.7 650.9h0.8v0.8h-0.8zM272.3 647.3h0.8v0.8h-0.8zM274.8 646.8h0.8v0.8h-0.8zM279.6 639.9h0.8v0.8h-0.8zM273.4 648.4h0.8v0.8h-0.8zM277.4 644.1h0.8v0.8h-0.8zM278.7 645.6h0.8v0.8h-0.8zM275.1 649.3h0.8v0.8h-0.8zM271.8 656.8h0.8v0.8h-0.8zM284.6 638.7h0.8v0.8h-0.8zM278.0 645.5h0.8v0.8h-0.8zM272.0 645.2h0.8v0.8h-0.8zM270.5 647.0h0.8v0.8h-0.8zM269.7 655.2h0.8v0.8h-0.8zM281.0 646.1h0.8v0.8h-0.8zM279.1 639.3h0.8v0.8h-0.8zM280.2 642.4h0.8v0.8h-0.8zM278.0 644.7h0.8v0.8h-0.8zM272.8 648.1h0.8v0.8h-0.8zM280.8 642.9h0.8v0.8h-0.8zM279.8 638.7h0.8v0.8h-0.8zM268.5 652.5h0.8v0.8h-0.8zM278.1 640.5h0.8v0.8h-0.8zM273.1 649.9h0.8v0.8h-0.8zM281.0 641.9h0.8v0.8h-0.8zM281.1 642.4h0.8v0.8h-0.8zM267.8 653.4h0.8v0.8h-0.8zM281.1 639.1h0.8v0.8h-0.8zM278.5 647.9h0.8v0.8h-0.8zM276.3 647.5h0.8v0.8h-0.8zM280.4 640.6h0.8v0.8h-0.8zM277.6 648.1h0.8v0.8h-0.8zM274.5 643.0h0.8v0.8h-0.8zM285.8 637.1h0.8v0.8h-0.8zM276.6 644.7h0.8v0.8h-0.8zM269.2 655.0h0.8v0.8h-0.8zM276.7 643.2h0.8v0.8h-0.8zM270.8 648.9h0.8v0.8h-0.8zM273.7 650.7h0.8v0.8h-0.8zM269.3 651.1h0.8v0.8h-0.8zM284.9 636.6h0.8v0.8h-0.8zM273.1 650.4h0.8v0.8h-0.8zM270.1 645.1h0.8v0.8h-0.8zM269.5 653.6h0.8v0.8h-0.8zM276.3 643.1h0.8v0.8h-0.8zM272.6 647.6h0.8v0.8h-0.8zM277.3 648.4h0.8v0.8h-0.8zM273.8 644.2h0.8v0.8h-0.8zM277.3 648.7h0.8v0.8h-0.8zM273.9 647.3h0.8v0.8h-0.8zM278.1 642.1h0.8v0.8h-0.8zM280.5 642.8h0.8v0.8h-0.8zM283.1 639.2h0.8v0.8h-0.8zM270.5 648.9h0.8v0.8h-0.8zM276.6 644.1h0.8v0.8h-0.8zM272.0 645.8h0.8v0.8h-0.8zM282.4 644.2h0.8v0.8h-0.8zM283.4 634.5h0.8v0.8h-0.8zM275.4 649.5h0.8v0.8h-0.8zM280.4 636.6h0.8v0.8h-0.8zM272.5 653.5h0.8v0.8h-0.8zM276.2 644.2h0.8v0.8h-0.8zM277.5 651.2h0.8v0.8h-0.8zM282.2 635.1h0.8v0.8h-0.8zM276.2 643.8h0.8v0.8h-0.8zM282.1 635.8h0.8v0.8h-0.8zM274.2 641.6h0.8v0.8h-0.8zM280.0 644.7h0.8v0.8h-0.8zM280.8 644.6h0.8v0.8h-0.8zM277.5 641.6h0.8v0.8h-0.8zM279.2 647.1h0.8v0.8h-0.8zM275.9 651.4h0.8v0.8h-0.8zM278.9 641.7h0.8v0.8h-0.8zM281.2 638.1h0.8v0.8h-0.8zM282.1 634.9h0.8v0.8h-0.8zM282.0 636.5h0.8v0.8h-0.8zM274.4 644.1h0.8v0.8h-0.8zM270.8 656.6h0.8v0.8h-0.8zM275.5 641.8h0.8v0.8h-0.8zM275.5 646.2h0.8v0.8h-0.8zM274.0 647.1h0.8v0.8h-0.8zM270.6 649.4h0.8v0.8h-0.8zM276.8 642.4h0.8v0.8h-0.8zM282.0 636.8h0.8v0.8h-0.8zM268.3 655.6h0.8v0.8h-0.8zM279.8 637.1h0.8v0.8h-0.8zM268.5 655.2h0.8v0.8h-0.8zM272.9 656.4h0.8v0.8h-0.8zM268.4 654.6h0.8v0.8h-0.8zM270.8 647.2h0.8v0.8h-0.8zM271.7 651.3h0.8v0.8h-0.8zM275.3 639.8h0.8v0.8h-0.8zM273.7 650.5h0.8v0.8h-0.8zM272.0 651.9h0.8v0.8h-0.8zM268.6 655.3h0.8v0.8h-0.8zM278.8 639.4h0.8v0.8h-0.8zM281.4 639.2h0.8v0.8h-0.8zM277.1 643.3h0.8v0.8h-0.8zM280.3 637.0h0.8v0.8h-0.8zM273.0 645.5h0.8v0.8h-0.8zM279.9 637.6h0.8v0.8h-0.8zM275.6 645.2h0.8v0.8h-0.8zM276.5 646.8h0.8v0.8h-0.8zM284.0 640.6h0.8v0.8h-0.8zM280.3 643.7h0.8v0.8h-0.8zM280.6 640.1h0.8v0.8h-0.8zM267.2 650.7h0.8v0.8h-0.8zM276.5 644.6h0.8v0.8h-0.8zM275.8 651.0h0.8v0.8h-0.8zM270.7 652.4h0.8v0.8h-0.8zM275.0 641.1h0.8v0.8h-0.8zM269.1 652.9h0.8v0.8h-0.8zM283.9 635.8h0.8v0.8h-0.8zM267.3 648.9h0.8v0.8h-0.8zM277.8 639.4h0.8v0.8h-0.8zM281.1 642.9h0.8v0.8h-0.8zM276.2 648.7h0.8v0.8h-0.8zM274.9 645.6h0.8v0.8h-0.8zM281.7 642.8h0.8v0.8h-0.8zM276.1 651.2h0.8v0.8h-0.8zM283.0 638.0h0.8v0.8h-0.8zM278.2 644.1h0.8v0.8h-0.8zM270.6 649.8h0.8v0.8h-0.8zM280.2 641.2h0.8v0.8h-0.8zM279.6 640.3h0.8v0.8h-0.8zM267.6 653.9h0.8v0.8h-0.8zM279.7 645.7h0.8v0.8h-0.8zM278.1 645.5h0.8v0.8h-0.8zM284.3 637.5h0.8v0.8h-0.8zM279.3 636.9h0.8v0.8h-0.8zM276.0 645.1h0.8v0.8h-0.8zM280.0 641.8h0.8v0.8h-0.8zM277.4 640.9h0.8v0.8h-0.8zM273.7 645.1h0.8v0.8h-0.8zM282.4 636.4h0.8v0.8h-0.8zM284.2 636.8h0.8v0.8h-0.8zM284.3 643.4h0.8v0.8h-0.8zM271.9 644.2h0.8v0.8h-0.8zM268.3 650.7h0.8v0.8h-0.8zM274.2 647.7h0.8v0.8h-0.8zM280.8 639.6h0.8v0.8h-0.8zM275.7 654.9h0.8v0.8h-0.8zM273.0 650.3h0.8v0.8h-0.8zM278.7 640.0h0.8v0.8h-0.8zM270.6 648.6h0.8v0.8h-0.8zM272.8 651.4h0.8v0.8h-0.8zM285.0 641.9h0.8v0.8h-0.8zM268.9 651.1h0.8v0.8h-0.8zM277.8 645.3h0.8v0.8h-0.8zM286.3 638.2h0.8v0.8h-0.8zM271.8 650.1h0.8v0.8h-0.8zM275.9 648.7h0.8v0.8h-0.8zM280.9 640.9h0.8v0.8h-0.8z" fill="#1fb585" opacity="0.85"/>
<path d="M283.1 618.7h0.7v0.7h-0.7zM277.3 618.7h0.7v0.7h-0.7zM281.8 616.6h0.7v0.7h-0.7zM281.8 618.6h0.7v0.7h-0.7zM282.7 614.3h0.7v0.7h-0.7zM279.3 621.3h0.7v0.7h-0.7zM283.6 619.8h0.7v0.7h-0.7zM284.9 615.6h0.7v0.7h-0.7zM279.1 618.2h0.7v0.7h-0.7zM282.8 620.7h0.7v0.7h-0.7zM280.1 621.3h0.7v0.7h-0.7zM278.6 617.8h0.7v0.7h-0.7zM278.7 617.4h0.7v0.7h-0.7zM282.4 618.4h0.7v0.7h-0.7zM282.5 619.3h0.7v0.7h-0.7zM287.3 615.0h0.7v0.7h-0.7zM280.0 618.2h0.7v0.7h-0.7zM282.3 616.3h0.7v0.7h-0.7zM287.2 618.0h0.7v0.7h-0.7zM288.4 615.4h0.7v0.7h-0.7zM276.5 620.4h0.7v0.7h-0.7zM283.5 614.3h0.7v0.7h-0.7zM282.7 619.8h0.7v0.7h-0.7zM281.9 614.3h0.7v0.7h-0.7zM277.7 611.0h0.7v0.7h-0.7zM281.4 614.3h0.7v0.7h-0.7zM281.3 614.5h0.7v0.7h-0.7zM280.1 617.1h0.7v0.7h-0.7zM288.1 610.6h0.7v0.7h-0.7zM279.5 617.4h0.7v0.7h-0.7zM286.5 617.3h0.7v0.7h-0.7zM284.2 615.3h0.7v0.7h-0.7zM282.3 615.1h0.7v0.7h-0.7zM281.5 615.5h0.7v0.7h-0.7zM278.3 616.8h0.7v0.7h-0.7zM288.1 615.2h0.7v0.7h-0.7zM281.1 617.8h0.7v0.7h-0.7zM283.5 620.3h0.7v0.7h-0.7zM282.1 615.6h0.7v0.7h-0.7zM285.0 616.8h0.7v0.7h-0.7zM280.4 616.2h0.7v0.7h-0.7zM281.2 613.2h0.7v0.7h-0.7zM282.1 620.5h0.7v0.7h-0.7zM286.4 618.3h0.7v0.7h-0.7zM281.2 616.3h0.7v0.7h-0.7zM281.7 616.3h0.7v0.7h-0.7zM285.7 614.8h0.7v0.7h-0.7zM285.3 613.6h0.7v0.7h-0.7zM285.9 620.1h0.7v0.7h-0.7zM280.4 616.6h0.7v0.7h-0.7z" fill="#3442e8" opacity="0.85"/>
<path d="M277.0 608.7h0.6v0.6h-0.6zM279.5 614.9h0.6v0.6h-0.6zM300.2 615.9h0.6v0.6h-0.6zM289.8 618.8h0.6v0.6h-0.6zM284.3 623.5h0.6v0.6h-0.6zM277.3 619.2h0.6v0.6h-0.6zM283.1 629.5h0.6v0.6h-0.6zM293.6 620.0h0.6v0.6h-0.6zM270.8 624.6h0.6v0.6h-0.6zM281.5 626.4h0.6v0.6h-0.6zM282.3 620.1h0.6v0.6h-0.6zM287.3 614.3h0.6v0.6h-0.6zM274.7 624.9h0.6v0.6h-0.6zM287.6 624.2h0.6v0.6h-0.6zM293.2 610.4h0.6v0.6h-0.6zM289.8 605.9h0.6v0.6h-0.6zM282.3 621.1h0.6v0.6h-0.6zM290.4 625.9h0.6v0.6h-0.6zM274.2 617.2h0.6v0.6h-0.6zM280.6 614.5h0.6v0.6h-0.6zM275.1 614.8h0.6v0.6h-0.6zM291.4 627.6h0.6v0.6h-0.6zM288.1 629.7h0.6v0.6h-0.6zM282.6 612.1h0.6v0.6h-0.6zM276.5 620.3h0.6v0.6h-0.6zM290.4 626.7h0.6v0.6h-0.6zM274.5 625.1h0.6v0.6h-0.6zM277.5 622.8h0.6v0.6h-0.6zM289.5 628.4h0.6v0.6h-0.6zM277.5 620.5h0.6v0.6h-0.6zM285.4 616.3h0.6v0.6h-0.6zM282.6 622.8h0.6v0.6h-0.6zM268.3 614.9h0.6v0.6h-0.6zM301.0 621.9h0.6v0.6h-0.6zM277.3 607.3h0.6v0.6h-0.6zM274.0 622.3h0.6v0.6h-0.6zM287.5 621.8h0.6v0.6h-0.6zM286.8 615.1h0.6v0.6h-0.6zM295.1 611.8h0.6v0.6h-0.6zM286.1 617.3h0.6v0.6h-0.6zM267.8 624.7h0.6v0.6h-0.6zM279.6 623.5h0.6v0.6h-0.6zM292.4 620.0h0.6v0.6h-0.6zM276.4 617.6h0.6v0.6h-0.6zM281.3 628.2h0.6v0.6h-0.6zM289.0 629.1h0.6v0.6h-0.6zM288.2 614.1h0.6v0.6h-0.6zM289.6 625.2h0.6v0.6h-0.6zM280.9 621.9h0.6v0.6h-0.6zM279.2 610.9h0.6v0.6h-0.6zM281.1 623.9h0.6v0.6h-0.6zM278.9 604.7h0.6v0.6h-0.6zM275.3 625.9h0.6v0.6h-0.6zM283.7 626.1h0.6v0.6h-0.6zM275.7 616.3h0.6v0.6h-0.6zM273.6 614.0h0.6v0.6h-0.6zM286.1 619.9h0.6v0.6h-0.6zM277.9 620.9h0.6v0.6h-0.6zM271.1 616.5h0.6v0.6h-0.6zM269.5 609.4h0.6v0.6h-0.6zM270.6 612.0h0.6v0.6h-0.6zM294.9 627.8h0.6v0.6h-0.6zM292.3 615.3h0.6v0.6h-0.6zM287.0 611.7h0.6v0.6h-0.6zM277.4 620.5h0.6v0.6h-0.6zM268.7 620.3h0.6v0.6h-0.6zM286.9 605.8h0.6v0.6h-0.6zM280.9 619.9h0.6v0.6h-0.6zM272.5 622.6h0.6v0.6h-0.6zM282.9 614.3h0.6v0.6h-0.6zM295.4 620.6h0.6v0.6h-0.6zM288.0 630.8h0.6v0.6h-0.6zM277.8 617.6h0.6v0.6h-0.6zM267.5 617.5h0.6v0.6h-0.6zM286.5 620.3h0.6v0.6h-0.6zM271.4 613.5h0.6v0.6h-0.6zM282.8 620.9h0.6v0.6h-0.6zM274.3 617.6h0.6v0.6h-0.6zM275.2 623.0h0.6v0.6h-0.6zM287.1 615.4h0.6v0.6h-0.6zM278.1 611.1h0.6v0.6h-0.6zM281.7 624.5h0.6v0.6h-0.6zM286.7 628.4h0.6v0.6h-0.6zM279.2 613.2h0.6v0.6h-0.6zM290.5 624.9h0.6v0.6h-0.6zM276.4 626.0h0.6v0.6h-0.6zM281.8 618.7h0.6v0.6h-0.6zM297.1 622.4h0.6v0.6h-0.6zM284.5 616.9h0.6v0.6h-0.6zM283.5 625.8h0.6v0.6h-0.6zM285.6 614.2h0.6v0.6h-0.6zM285.6 618.2h0.6v0.6h-0.6zM284.4 617.8h0.6v0.6h-0.6zM278.7 604.8h0.6v0.6h-0.6zM269.4 632.0h0.6v0.6h-0.6zM287.6 616.0h0.6v0.6h-0.6zM284.6 604.6h0.6v0.6h-0.6zM283.9 625.3h0.6v0.6h-0.6zM283.4 610.6h0.6v0.6h-0.6zM289.9 615.6h0.6v0.6h-0.6zM277.1 620.3h0.6v0.6h-0.6zM279.4 632.1h0.6v0.6h-0.6zM280.7 632.8h0.6v0.6h-0.6z" fill="#3442e8" opacity="0.5"/>
<path d="M256.8 614.2h0.6v0.6h-0.6zM254.2 619.8h0.6v0.6h-0.6zM266.1 622.7h0.6v0.6h-0.6zM252.4 629.3h0.6v0.6h-0.6zM247.5 622.2h0.6v0.6h-0.6zM265.9 613.5h0.6v0.6h-0.6zM251.0 617.2h0.6v0.6h-0.6zM258.5 620.5h0.6v0.6h-0.6zM254.3 622.2h0.6v0.6h-0.6zM247.9 619.2h0.6v0.6h-0.6zM259.2 626.9h0.6v0.6h-0.6zM253.9 619.9h0.6v0.6h-0.6zM264.3 618.1h0.6v0.6h-0.6zM264.3 618.8h0.6v0.6h-0.6zM263.2 618.8h0.6v0.6h-0.6zM246.5 617.5h0.6v0.6h-0.6zM258.8 626.4h0.6v0.6h-0.6zM248.3 624.4h0.6v0.6h-0.6zM243.1 625.3h0.6v0.6h-0.6zM257.5 621.6h0.6v0.6h-0.6zM245.1 622.8h0.6v0.6h-0.6zM261.4 618.1h0.6v0.6h-0.6zM262.1 618.3h0.6v0.6h-0.6zM256.6 617.9h0.6v0.6h-0.6zM243.6 620.8h0.6v0.6h-0.6zM257.5 616.0h0.6v0.6h-0.6zM238.0 616.2h0.6v0.6h-0.6zM264.2 617.0h0.6v0.6h-0.6zM249.1 625.5h0.6v0.6h-0.6zM251.8 614.0h0.6v0.6h-0.6zM250.2 616.8h0.6v0.6h-0.6zM252.1 616.3h0.6v0.6h-0.6zM255.0 621.3h0.6v0.6h-0.6zM249.6 619.6h0.6v0.6h-0.6zM253.5 623.1h0.6v0.6h-0.6zM249.2 623.5h0.6v0.6h-0.6zM263.7 617.2h0.6v0.6h-0.6zM246.5 619.7h0.6v0.6h-0.6zM240.1 619.9h0.6v0.6h-0.6zM244.8 620.6h0.6v0.6h-0.6zM251.7 622.2h0.6v0.6h-0.6zM255.4 621.1h0.6v0.6h-0.6zM254.0 620.8h0.6v0.6h-0.6zM245.9 623.8h0.6v0.6h-0.6zM265.0 622.2h0.6v0.6h-0.6zM244.1 623.1h0.6v0.6h-0.6zM242.1 624.8h0.6v0.6h-0.6zM252.3 618.1h0.6v0.6h-0.6zM248.2 619.7h0.6v0.6h-0.6zM253.5 615.8h0.6v0.6h-0.6zM254.8 620.6h0.6v0.6h-0.6zM258.2 618.7h0.6v0.6h-0.6zM255.7 628.7h0.6v0.6h-0.6zM262.2 619.5h0.6v0.6h-0.6zM243.9 624.0h0.6v0.6h-0.6zM256.8 608.4h0.6v0.6h-0.6zM253.2 621.3h0.6v0.6h-0.6z" fill="#f42424" opacity="0.45"/>
</g>
<line x1="266.9" y1="603.5" x2="266.9" y2="664.3" stroke="#505050" stroke-width="0.7"/>
<line x1="237.5" y1="633.5" x2="299.3" y2="633.5" stroke="#505050" stroke-width="0.7"/>
<line x1="236.3" y1="606.2" x2="237.5" y2="606.2" stroke="#555" stroke-width="0.5"/>
<text x="235.9" y="607.9" font-size="4.4" fill="#222" text-anchor="end">10<tspan font-size="3.2" dy="-1.7">3</tspan></text>
<line x1="236.3" y1="620.4484751203853" x2="237.5" y2="620.4484751203853" stroke="#555" stroke-width="0.5"/>
<text x="235.9" y="622.1" font-size="4.4" fill="#222" text-anchor="end">10<tspan font-size="3.2" dy="-1.7">2</tspan></text>
<line x1="236.3" y1="634.6969502407705" x2="237.5" y2="634.6969502407705" stroke="#555" stroke-width="0.5"/>
<text x="235.9" y="636.4" font-size="4.4" fill="#222" text-anchor="end">10<tspan font-size="3.2" dy="-1.7">1</tspan></text>
<line x1="236.3" y1="648.9454253611557" x2="237.5" y2="648.9454253611557" stroke="#555" stroke-width="0.5"/>
<text x="235.9" y="650.6" font-size="4.4" fill="#222" text-anchor="end">10<tspan font-size="3.2" dy="-1.7">0</tspan></text>
<line x1="236.3" y1="663.1939004815409" x2="237.5" y2="663.1939004815409" stroke="#555" stroke-width="0.5"/>
<text x="235.3" y="664.9" font-size="4.4" fill="#222" text-anchor="end">10<tspan font-size="3.2" dy="-1.7">-1</tspan></text>
<line x1="241.2" y1="664.3" x2="241.2" y2="665.5" stroke="#555" stroke-width="0.5"/>
<text x="240.2" y="670.9" font-size="4.4" fill="#222" text-anchor="middle">10<tspan font-size="3.2" dy="-1.7">-1</tspan></text>
<line x1="254.6" y1="664.3" x2="254.6" y2="665.5" stroke="#555" stroke-width="0.5"/>
<text x="253.6" y="670.9" font-size="4.4" fill="#222" text-anchor="middle">10<tspan font-size="3.2" dy="-1.7">0</tspan></text>
<line x1="268.0" y1="664.3" x2="268.0" y2="665.5" stroke="#555" stroke-width="0.5"/>
<text x="267.0" y="670.9" font-size="4.4" fill="#222" text-anchor="middle">10<tspan font-size="3.2" dy="-1.7">1</tspan></text>
<line x1="281.4" y1="664.3" x2="281.4" y2="665.5" stroke="#555" stroke-width="0.5"/>
<text x="280.4" y="670.9" font-size="4.4" fill="#222" text-anchor="middle">10<tspan font-size="3.2" dy="-1.7">2</tspan></text>
<line x1="294.8" y1="664.3" x2="294.8" y2="665.5" stroke="#555" stroke-width="0.5"/>
<text x="293.8" y="670.9" font-size="4.4" fill="#222" text-anchor="middle">10<tspan font-size="3.2" dy="-1.7">3</tspan></text>
<text x="239.3" y="610.1" font-size="4.5" fill="#222">3.66</text>
<text x="294.8" y="610.1" font-size="4.5" fill="#222" text-anchor="end">6.63</text>
<text x="239.3" y="660.6999999999999" font-size="4.5" fill="#222">75.0</text>
<text x="294.8" y="660.6999999999999" font-size="4.5" fill="#222" text-anchor="end">14.7</text>
<rect x="310.8" y="603.5" width="61.8" height="60.8" fill="#fff" stroke="#a8a8a8" stroke-width="0.6"/>
<clipPath id="kc11"><rect x="310.8" y="603.5" width="61.8" height="60.8"/></clipPath>
<g clip-path="url(#kc11)">
<path d="M332.7 654.9h0.7v0.7h-0.7zM336.8 662.2h0.7v0.7h-0.7zM333.5 651.1h0.7v0.7h-0.7zM339.2 666.1h0.7v0.7h-0.7zM324.2 656.8h0.7v0.7h-0.7zM334.9 653.5h0.7v0.7h-0.7zM339.7 659.5h0.7v0.7h-0.7zM341.4 650.3h0.7v0.7h-0.7zM332.1 654.0h0.7v0.7h-0.7zM334.7 660.8h0.7v0.7h-0.7zM319.4 656.5h0.7v0.7h-0.7zM325.1 652.4h0.7v0.7h-0.7zM332.1 664.5h0.7v0.7h-0.7zM319.6 669.9h0.7v0.7h-0.7zM322.4 660.7h0.7v0.7h-0.7zM324.2 652.9h0.7v0.7h-0.7zM322.6 663.2h0.7v0.7h-0.7zM303.7 660.7h0.7v0.7h-0.7zM334.0 662.1h0.7v0.7h-0.7zM325.6 657.7h0.7v0.7h-0.7zM339.1 656.5h0.7v0.7h-0.7zM327.7 662.2h0.7v0.7h-0.7zM336.6 660.4h0.7v0.7h-0.7zM328.5 655.8h0.7v0.7h-0.7zM321.0 652.8h0.7v0.7h-0.7zM336.8 656.6h0.7v0.7h-0.7zM340.7 649.6h0.7v0.7h-0.7zM325.3 652.6h0.7v0.7h-0.7zM321.4 657.5h0.7v0.7h-0.7zM334.7 653.1h0.7v0.7h-0.7zM316.5 666.9h0.7v0.7h-0.7zM325.9 651.1h0.7v0.7h-0.7zM334.2 657.3h0.7v0.7h-0.7zM319.7 653.7h0.7v0.7h-0.7zM331.1 657.7h0.7v0.7h-0.7zM336.8 663.6h0.7v0.7h-0.7zM329.0 648.8h0.7v0.7h-0.7zM334.6 647.1h0.7v0.7h-0.7zM337.1 651.2h0.7v0.7h-0.7zM336.2 642.8h0.7v0.7h-0.7zM338.7 652.6h0.7v0.7h-0.7zM329.0 663.1h0.7v0.7h-0.7zM326.4 658.1h0.7v0.7h-0.7zM341.9 648.5h0.7v0.7h-0.7zM339.3 643.1h0.7v0.7h-0.7zM334.4 639.5h0.7v0.7h-0.7zM329.8 654.0h0.7v0.7h-0.7zM333.9 663.3h0.7v0.7h-0.7zM329.6 659.6h0.7v0.7h-0.7zM326.4 653.3h0.7v0.7h-0.7zM320.3 667.6h0.7v0.7h-0.7zM327.8 638.9h0.7v0.7h-0.7zM329.5 663.4h0.7v0.7h-0.7zM332.9 660.9h0.7v0.7h-0.7zM322.7 663.3h0.7v0.7h-0.7zM335.8 646.6h0.7v0.7h-0.7zM339.1 641.4h0.7v0.7h-0.7zM334.6 660.2h0.7v0.7h-0.7zM328.4 653.0h0.7v0.7h-0.7zM334.7 657.9h0.7v0.7h-0.7zM320.9 663.7h0.7v0.7h-0.7zM325.3 652.0h0.7v0.7h-0.7zM328.4 657.1h0.7v0.7h-0.7zM336.3 658.7h0.7v0.7h-0.7zM330.8 665.3h0.7v0.7h-0.7zM335.5 657.9h0.7v0.7h-0.7zM335.4 641.5h0.7v0.7h-0.7zM339.9 642.0h0.7v0.7h-0.7zM339.3 657.6h0.7v0.7h-0.7zM331.9 641.7h0.7v0.7h-0.7zM337.9 659.2h0.7v0.7h-0.7zM331.0 654.8h0.7v0.7h-0.7zM339.4 662.2h0.7v0.7h-0.7zM324.7 653.0h0.7v0.7h-0.7zM322.6 658.2h0.7v0.7h-0.7zM332.0 657.6h0.7v0.7h-0.7zM324.5 646.6h0.7v0.7h-0.7zM324.4 666.7h0.7v0.7h-0.7zM331.5 643.8h0.7v0.7h-0.7zM328.5 637.3h0.7v0.7h-0.7zM323.1 666.4h0.7v0.7h-0.7zM330.1 652.5h0.7v0.7h-0.7zM328.8 655.5h0.7v0.7h-0.7zM327.8 650.7h0.7v0.7h-0.7zM330.7 660.5h0.7v0.7h-0.7zM330.3 645.0h0.7v0.7h-0.7zM335.3 665.0h0.7v0.7h-0.7zM318.8 657.0h0.7v0.7h-0.7zM309.6 657.2h0.7v0.7h-0.7zM325.3 651.5h0.7v0.7h-0.7zM322.0 657.2h0.7v0.7h-0.7zM334.4 659.7h0.7v0.7h-0.7zM328.7 642.7h0.7v0.7h-0.7zM340.9 644.5h0.7v0.7h-0.7zM325.3 660.0h0.7v0.7h-0.7zM323.8 650.0h0.7v0.7h-0.7zM340.3 642.9h0.7v0.7h-0.7zM330.4 660.5h0.7v0.7h-0.7zM327.9 661.7h0.7v0.7h-0.7zM341.2 650.1h0.7v0.7h-0.7zM334.6 648.5h0.7v0.7h-0.7zM324.8 646.6h0.7v0.7h-0.7zM322.7 653.0h0.7v0.7h-0.7zM338.4 661.8h0.7v0.7h-0.7zM311.6 660.7h0.7v0.7h-0.7zM325.6 659.3h0.7v0.7h-0.7zM336.8 644.1h0.7v0.7h-0.7zM331.9 664.9h0.7v0.7h-0.7zM336.9 655.0h0.7v0.7h-0.7zM334.8 646.1h0.7v0.7h-0.7zM331.0 650.0h0.7v0.7h-0.7zM327.9 659.3h0.7v0.7h-0.7zM329.9 645.8h0.7v0.7h-0.7zM329.5 661.9h0.7v0.7h-0.7zM336.1 656.8h0.7v0.7h-0.7zM326.8 652.3h0.7v0.7h-0.7zM340.0 653.0h0.7v0.7h-0.7zM316.6 674.9h0.7v0.7h-0.7zM329.8 662.1h0.7v0.7h-0.7zM341.7 644.2h0.7v0.7h-0.7zM326.7 661.3h0.7v0.7h-0.7zM335.1 656.8h0.7v0.7h-0.7zM323.7 663.7h0.7v0.7h-0.7zM341.1 652.9h0.7v0.7h-0.7zM341.4 656.8h0.7v0.7h-0.7zM331.7 665.2h0.7v0.7h-0.7zM329.5 648.4h0.7v0.7h-0.7zM331.3 657.5h0.7v0.7h-0.7zM340.0 659.3h0.7v0.7h-0.7zM331.4 650.9h0.7v0.7h-0.7zM330.4 663.7h0.7v0.7h-0.7zM326.1 653.0h0.7v0.7h-0.7zM329.9 666.4h0.7v0.7h-0.7zM325.4 661.0h0.7v0.7h-0.7zM328.3 656.2h0.7v0.7h-0.7zM327.3 659.9h0.7v0.7h-0.7zM340.6 656.3h0.7v0.7h-0.7zM325.0 650.8h0.7v0.7h-0.7zM322.2 663.0h0.7v0.7h-0.7zM320.9 675.2h0.7v0.7h-0.7zM332.9 655.0h0.7v0.7h-0.7zM320.1 659.3h0.7v0.7h-0.7zM330.0 662.1h0.7v0.7h-0.7zM332.0 659.9h0.7v0.7h-0.7zM327.8 642.1h0.7v0.7h-0.7zM335.8 662.0h0.7v0.7h-0.7zM329.3 658.1h0.7v0.7h-0.7zM326.3 649.2h0.7v0.7h-0.7zM334.7 648.7h0.7v0.7h-0.7zM335.5 652.9h0.7v0.7h-0.7zM334.0 645.5h0.7v0.7h-0.7zM318.4 672.9h0.7v0.7h-0.7zM330.4 650.2h0.7v0.7h-0.7zM326.5 651.4h0.7v0.7h-0.7zM327.3 660.2h0.7v0.7h-0.7zM336.5 657.9h0.7v0.7h-0.7zM334.2 658.2h0.7v0.7h-0.7zM334.0 647.2h0.7v0.7h-0.7zM318.0 660.8h0.7v0.7h-0.7zM328.3 653.4h0.7v0.7h-0.7zM332.3 648.1h0.7v0.7h-0.7zM331.7 644.4h0.7v0.7h-0.7zM339.4 650.0h0.7v0.7h-0.7zM324.6 651.0h0.7v0.7h-0.7zM341.1 642.2h0.7v0.7h-0.7zM332.1 634.6h0.7v0.7h-0.7zM331.6 670.2h0.7v0.7h-0.7zM341.5 651.9h0.7v0.7h-0.7zM330.3 657.2h0.7v0.7h-0.7zM319.0 654.5h0.7v0.7h-0.7zM336.1 657.4h0.7v0.7h-0.7zM328.3 647.6h0.7v0.7h-0.7zM338.3 650.2h0.7v0.7h-0.7zM336.1 648.9h0.7v0.7h-0.7zM334.8 661.2h0.7v0.7h-0.7zM336.6 640.9h0.7v0.7h-0.7zM328.7 665.6h0.7v0.7h-0.7zM334.9 652.8h0.7v0.7h-0.7zM329.8 665.1h0.7v0.7h-0.7zM334.4 654.6h0.7v0.7h-0.7zM332.7 649.8h0.7v0.7h-0.7zM335.5 652.9h0.7v0.7h-0.7zM338.7 652.3h0.7v0.7h-0.7zM320.7 658.4h0.7v0.7h-0.7zM335.2 661.8h0.7v0.7h-0.7zM332.5 663.8h0.7v0.7h-0.7zM339.4 658.7h0.7v0.7h-0.7zM339.1 657.1h0.7v0.7h-0.7zM337.2 662.2h0.7v0.7h-0.7zM326.8 643.2h0.7v0.7h-0.7zM338.8 647.5h0.7v0.7h-0.7zM325.1 658.1h0.7v0.7h-0.7zM335.1 661.8h0.7v0.7h-0.7zM334.2 652.3h0.7v0.7h-0.7zM328.5 650.3h0.7v0.7h-0.7zM326.0 655.9h0.7v0.7h-0.7zM325.9 650.2h0.7v0.7h-0.7zM333.7 661.7h0.7v0.7h-0.7zM335.3 652.0h0.7v0.7h-0.7zM333.6 651.4h0.7v0.7h-0.7zM327.8 665.6h0.7v0.7h-0.7zM326.2 664.0h0.7v0.7h-0.7zM328.8 655.2h0.7v0.7h-0.7zM320.7 663.6h0.7v0.7h-0.7zM328.4 644.5h0.7v0.7h-0.7zM328.8 653.4h0.7v0.7h-0.7zM328.1 663.3h0.7v0.7h-0.7zM334.2 657.8h0.7v0.7h-0.7zM339.5 645.0h0.7v0.7h-0.7zM325.6 648.7h0.7v0.7h-0.7zM316.3 661.1h0.7v0.7h-0.7zM339.8 651.3h0.7v0.7h-0.7zM339.4 659.5h0.7v0.7h-0.7zM326.0 671.3h0.7v0.7h-0.7zM336.0 657.9h0.7v0.7h-0.7z" fill="#f42424" opacity="0.45"/>
<ellipse cx="332.2" cy="654.5" rx="8.6" ry="5.6" fill="#f42424" opacity="0.85" filter="url(#b1)" transform="rotate(-40 332.2 654.5)"/>
<path d="M336.2 647.4h0.8v0.8h-0.8zM329.5 658.7h0.8v0.8h-0.8zM330.7 653.1h0.8v0.8h-0.8zM330.0 653.0h0.8v0.8h-0.8zM331.9 653.0h0.8v0.8h-0.8zM337.0 645.6h0.8v0.8h-0.8zM334.9 652.7h0.8v0.8h-0.8zM336.7 646.3h0.8v0.8h-0.8zM334.2 660.9h0.8v0.8h-0.8zM328.6 655.8h0.8v0.8h-0.8zM328.3 653.3h0.8v0.8h-0.8zM340.9 654.4h0.8v0.8h-0.8zM329.9 653.0h0.8v0.8h-0.8zM328.0 661.2h0.8v0.8h-0.8zM331.2 657.9h0.8v0.8h-0.8zM321.1 661.9h0.8v0.8h-0.8zM335.8 653.5h0.8v0.8h-0.8zM320.8 665.5h0.8v0.8h-0.8zM332.7 654.0h0.8v0.8h-0.8zM329.8 654.5h0.8v0.8h-0.8zM334.0 655.4h0.8v0.8h-0.8zM318.8 665.7h0.8v0.8h-0.8zM335.7 650.6h0.8v0.8h-0.8zM335.3 647.6h0.8v0.8h-0.8zM336.8 663.5h0.8v0.8h-0.8zM342.0 653.8h0.8v0.8h-0.8zM326.9 658.5h0.8v0.8h-0.8zM336.6 655.7h0.8v0.8h-0.8zM329.6 650.7h0.8v0.8h-0.8zM337.0 649.7h0.8v0.8h-0.8zM333.4 652.1h0.8v0.8h-0.8zM328.6 651.2h0.8v0.8h-0.8zM333.6 650.5h0.8v0.8h-0.8zM325.7 662.0h0.8v0.8h-0.8zM334.3 657.3h0.8v0.8h-0.8zM332.9 648.3h0.8v0.8h-0.8zM331.5 655.2h0.8v0.8h-0.8zM330.2 651.3h0.8v0.8h-0.8zM334.8 656.9h0.8v0.8h-0.8zM340.8 654.1h0.8v0.8h-0.8zM329.7 645.0h0.8v0.8h-0.8zM329.8 654.0h0.8v0.8h-0.8zM323.5 669.0h0.8v0.8h-0.8zM336.1 651.3h0.8v0.8h-0.8zM334.9 654.6h0.8v0.8h-0.8zM334.5 659.1h0.8v0.8h-0.8zM341.8 650.3h0.8v0.8h-0.8zM330.5 657.2h0.8v0.8h-0.8zM338.0 653.0h0.8v0.8h-0.8zM331.5 659.6h0.8v0.8h-0.8zM336.6 653.5h0.8v0.8h-0.8zM330.4 655.9h0.8v0.8h-0.8zM324.1 661.2h0.8v0.8h-0.8zM329.7 655.3h0.8v0.8h-0.8zM330.3 654.7h0.8v0.8h-0.8zM332.8 654.5h0.8v0.8h-0.8zM329.3 656.3h0.8v0.8h-0.8zM333.0 656.2h0.8v0.8h-0.8zM333.3 652.0h0.8v0.8h-0.8zM325.0 653.0h0.8v0.8h-0.8zM327.9 660.1h0.8v0.8h-0.8zM332.0 662.2h0.8v0.8h-0.8zM330.7 654.0h0.8v0.8h-0.8zM330.3 653.6h0.8v0.8h-0.8zM329.7 656.9h0.8v0.8h-0.8zM326.4 660.0h0.8v0.8h-0.8zM329.8 652.4h0.8v0.8h-0.8zM337.4 651.9h0.8v0.8h-0.8zM335.3 648.9h0.8v0.8h-0.8zM324.3 655.7h0.8v0.8h-0.8zM321.3 654.9h0.8v0.8h-0.8zM337.8 647.7h0.8v0.8h-0.8zM331.8 652.4h0.8v0.8h-0.8zM335.2 659.3h0.8v0.8h-0.8zM322.6 658.0h0.8v0.8h-0.8zM330.7 651.6h0.8v0.8h-0.8zM338.1 655.6h0.8v0.8h-0.8zM337.7 653.4h0.8v0.8h-0.8zM333.8 657.8h0.8v0.8h-0.8zM326.1 654.1h0.8v0.8h-0.8zM330.5 654.8h0.8v0.8h-0.8zM335.1 647.5h0.8v0.8h-0.8zM335.3 648.3h0.8v0.8h-0.8zM323.0 654.4h0.8v0.8h-0.8zM328.8 650.7h0.8v0.8h-0.8zM333.2 653.9h0.8v0.8h-0.8zM326.1 650.7h0.8v0.8h-0.8zM331.0 657.6h0.8v0.8h-0.8zM326.3 662.7h0.8v0.8h-0.8zM331.1 653.0h0.8v0.8h-0.8zM334.6 655.6h0.8v0.8h-0.8zM330.4 652.5h0.8v0.8h-0.8zM334.0 649.9h0.8v0.8h-0.8zM336.0 655.9h0.8v0.8h-0.8zM341.4 654.2h0.8v0.8h-0.8zM336.9 651.3h0.8v0.8h-0.8zM331.8 655.7h0.8v0.8h-0.8zM341.3 660.8h0.8v0.8h-0.8zM333.1 649.9h0.8v0.8h-0.8zM335.0 644.8h0.8v0.8h-0.8zM333.5 647.5h0.8v0.8h-0.8zM326.5 657.0h0.8v0.8h-0.8zM327.9 651.8h0.8v0.8h-0.8zM334.6 652.0h0.8v0.8h-0.8zM335.6 647.0h0.8v0.8h-0.8zM326.1 662.8h0.8v0.8h-0.8zM333.5 658.0h0.8v0.8h-0.8zM319.5 659.4h0.8v0.8h-0.8zM337.1 659.5h0.8v0.8h-0.8zM322.6 653.7h0.8v0.8h-0.8zM333.5 660.0h0.8v0.8h-0.8zM335.8 645.2h0.8v0.8h-0.8zM325.4 651.7h0.8v0.8h-0.8zM326.5 654.9h0.8v0.8h-0.8zM336.6 656.1h0.8v0.8h-0.8zM341.5 645.1h0.8v0.8h-0.8zM336.2 652.2h0.8v0.8h-0.8zM337.2 659.3h0.8v0.8h-0.8zM338.8 656.3h0.8v0.8h-0.8zM335.5 655.8h0.8v0.8h-0.8zM334.1 652.5h0.8v0.8h-0.8zM328.3 655.9h0.8v0.8h-0.8zM331.4 653.4h0.8v0.8h-0.8zM329.2 653.8h0.8v0.8h-0.8zM335.3 650.8h0.8v0.8h-0.8zM331.2 654.3h0.8v0.8h-0.8zM336.5 648.4h0.8v0.8h-0.8zM336.2 647.2h0.8v0.8h-0.8zM340.1 650.8h0.8v0.8h-0.8zM331.2 657.5h0.8v0.8h-0.8zM334.8 647.9h0.8v0.8h-0.8zM332.0 656.2h0.8v0.8h-0.8zM330.7 654.5h0.8v0.8h-0.8zM333.0 655.3h0.8v0.8h-0.8zM338.9 655.8h0.8v0.8h-0.8zM337.6 663.7h0.8v0.8h-0.8zM334.9 660.5h0.8v0.8h-0.8zM328.4 651.0h0.8v0.8h-0.8zM329.6 655.1h0.8v0.8h-0.8zM332.1 645.2h0.8v0.8h-0.8zM329.2 656.4h0.8v0.8h-0.8zM335.9 653.3h0.8v0.8h-0.8zM335.5 651.0h0.8v0.8h-0.8zM334.0 658.6h0.8v0.8h-0.8zM340.3 649.5h0.8v0.8h-0.8zM330.9 651.6h0.8v0.8h-0.8zM342.0 648.2h0.8v0.8h-0.8zM331.2 647.9h0.8v0.8h-0.8zM340.3 659.0h0.8v0.8h-0.8zM331.1 654.5h0.8v0.8h-0.8zM338.3 648.6h0.8v0.8h-0.8zM340.2 656.8h0.8v0.8h-0.8zM325.4 656.4h0.8v0.8h-0.8zM335.4 652.4h0.8v0.8h-0.8zM332.0 653.9h0.8v0.8h-0.8zM333.6 655.0h0.8v0.8h-0.8zM329.6 655.4h0.8v0.8h-0.8zM330.7 650.7h0.8v0.8h-0.8zM329.1 647.0h0.8v0.8h-0.8zM334.6 651.9h0.8v0.8h-0.8zM330.4 662.3h0.8v0.8h-0.8zM332.0 664.3h0.8v0.8h-0.8zM331.9 660.4h0.8v0.8h-0.8zM335.6 659.1h0.8v0.8h-0.8zM333.7 658.1h0.8v0.8h-0.8zM326.6 650.5h0.8v0.8h-0.8zM335.0 654.4h0.8v0.8h-0.8zM337.7 657.6h0.8v0.8h-0.8zM325.9 653.2h0.8v0.8h-0.8zM331.7 651.7h0.8v0.8h-0.8zM331.8 654.9h0.8v0.8h-0.8zM331.3 660.4h0.8v0.8h-0.8zM335.8 659.8h0.8v0.8h-0.8zM335.7 656.5h0.8v0.8h-0.8zM329.5 653.7h0.8v0.8h-0.8zM328.0 654.0h0.8v0.8h-0.8zM334.4 653.3h0.8v0.8h-0.8zM324.2 654.1h0.8v0.8h-0.8zM324.4 652.5h0.8v0.8h-0.8zM325.0 653.5h0.8v0.8h-0.8zM332.5 648.8h0.8v0.8h-0.8zM329.5 656.2h0.8v0.8h-0.8zM333.3 655.5h0.8v0.8h-0.8zM336.9 653.6h0.8v0.8h-0.8zM333.6 659.1h0.8v0.8h-0.8zM332.2 651.3h0.8v0.8h-0.8zM335.8 646.0h0.8v0.8h-0.8zM337.1 656.3h0.8v0.8h-0.8zM333.5 655.0h0.8v0.8h-0.8zM334.3 655.9h0.8v0.8h-0.8zM333.2 653.7h0.8v0.8h-0.8zM330.8 646.8h0.8v0.8h-0.8zM332.6 652.8h0.8v0.8h-0.8zM341.1 648.4h0.8v0.8h-0.8zM331.0 658.6h0.8v0.8h-0.8zM327.9 652.6h0.8v0.8h-0.8zM332.2 656.8h0.8v0.8h-0.8zM339.6 653.2h0.8v0.8h-0.8zM332.8 653.2h0.8v0.8h-0.8zM335.8 657.1h0.8v0.8h-0.8zM334.4 658.1h0.8v0.8h-0.8zM328.9 657.2h0.8v0.8h-0.8zM337.1 653.7h0.8v0.8h-0.8zM331.9 652.4h0.8v0.8h-0.8zM323.7 659.6h0.8v0.8h-0.8zM327.8 656.4h0.8v0.8h-0.8zM337.1 646.9h0.8v0.8h-0.8zM335.7 651.5h0.8v0.8h-0.8zM327.9 658.7h0.8v0.8h-0.8zM332.6 648.6h0.8v0.8h-0.8zM326.5 657.5h0.8v0.8h-0.8zM333.9 650.3h0.8v0.8h-0.8zM335.0 654.3h0.8v0.8h-0.8zM333.3 655.7h0.8v0.8h-0.8zM337.1 649.5h0.8v0.8h-0.8zM331.1 650.4h0.8v0.8h-0.8zM329.0 656.7h0.8v0.8h-0.8zM334.1 649.8h0.8v0.8h-0.8zM328.6 661.9h0.8v0.8h-0.8zM336.2 639.2h0.8v0.8h-0.8zM328.1 658.5h0.8v0.8h-0.8zM332.1 650.2h0.8v0.8h-0.8zM336.1 656.3h0.8v0.8h-0.8zM332.8 657.4h0.8v0.8h-0.8zM330.6 651.5h0.8v0.8h-0.8zM328.3 655.0h0.8v0.8h-0.8zM340.4 653.0h0.8v0.8h-0.8zM329.7 649.4h0.8v0.8h-0.8zM329.3 655.1h0.8v0.8h-0.8zM324.2 661.1h0.8v0.8h-0.8zM330.4 649.9h0.8v0.8h-0.8zM329.4 654.7h0.8v0.8h-0.8zM341.4 649.9h0.8v0.8h-0.8zM335.6 652.1h0.8v0.8h-0.8zM329.0 661.5h0.8v0.8h-0.8zM325.0 651.6h0.8v0.8h-0.8zM334.4 651.0h0.8v0.8h-0.8zM333.4 655.9h0.8v0.8h-0.8zM332.2 656.4h0.8v0.8h-0.8zM336.8 649.1h0.8v0.8h-0.8zM330.8 655.8h0.8v0.8h-0.8zM334.0 651.2h0.8v0.8h-0.8zM331.0 652.4h0.8v0.8h-0.8zM333.2 656.2h0.8v0.8h-0.8zM328.4 656.8h0.8v0.8h-0.8zM324.6 657.6h0.8v0.8h-0.8zM333.8 655.7h0.8v0.8h-0.8zM327.7 657.8h0.8v0.8h-0.8zM329.1 658.6h0.8v0.8h-0.8zM334.3 654.8h0.8v0.8h-0.8zM328.1 651.3h0.8v0.8h-0.8zM326.9 652.8h0.8v0.8h-0.8zM329.3 656.7h0.8v0.8h-0.8zM335.2 649.0h0.8v0.8h-0.8zM329.5 657.7h0.8v0.8h-0.8zM328.3 667.0h0.8v0.8h-0.8zM328.2 662.6h0.8v0.8h-0.8zM338.4 653.7h0.8v0.8h-0.8zM333.5 656.8h0.8v0.8h-0.8zM333.0 658.3h0.8v0.8h-0.8zM327.7 654.5h0.8v0.8h-0.8zM332.7 652.0h0.8v0.8h-0.8zM333.0 649.8h0.8v0.8h-0.8zM331.1 650.9h0.8v0.8h-0.8zM336.7 660.7h0.8v0.8h-0.8zM325.0 654.9h0.8v0.8h-0.8zM325.1 659.4h0.8v0.8h-0.8zM337.8 647.7h0.8v0.8h-0.8zM335.6 650.8h0.8v0.8h-0.8zM334.2 662.1h0.8v0.8h-0.8zM332.5 645.8h0.8v0.8h-0.8zM329.1 659.0h0.8v0.8h-0.8zM334.4 651.6h0.8v0.8h-0.8zM334.7 654.9h0.8v0.8h-0.8zM333.1 658.4h0.8v0.8h-0.8zM330.5 659.5h0.8v0.8h-0.8zM336.4 651.9h0.8v0.8h-0.8zM330.8 655.6h0.8v0.8h-0.8zM323.7 662.8h0.8v0.8h-0.8zM321.8 653.9h0.8v0.8h-0.8zM333.3 649.4h0.8v0.8h-0.8zM333.8 653.4h0.8v0.8h-0.8zM323.0 658.1h0.8v0.8h-0.8zM332.2 656.7h0.8v0.8h-0.8zM329.6 650.8h0.8v0.8h-0.8zM330.3 656.6h0.8v0.8h-0.8zM326.0 657.7h0.8v0.8h-0.8zM325.1 650.6h0.8v0.8h-0.8zM341.3 651.0h0.8v0.8h-0.8zM332.5 658.7h0.8v0.8h-0.8zM331.4 662.2h0.8v0.8h-0.8zM331.0 656.2h0.8v0.8h-0.8zM330.1 656.7h0.8v0.8h-0.8zM333.6 653.5h0.8v0.8h-0.8zM330.6 659.4h0.8v0.8h-0.8zM334.5 652.6h0.8v0.8h-0.8zM334.8 648.9h0.8v0.8h-0.8zM337.1 649.7h0.8v0.8h-0.8zM337.4 648.1h0.8v0.8h-0.8z" fill="#f42424"/>
<path d="M335.6 621.7h0.6v0.6h-0.6zM339.8 619.3h0.6v0.6h-0.6zM338.2 619.5h0.6v0.6h-0.6zM338.4 620.5h0.6v0.6h-0.6zM341.2 618.4h0.6v0.6h-0.6zM338.8 624.7h0.6v0.6h-0.6zM333.7 622.8h0.6v0.6h-0.6zM342.0 620.2h0.6v0.6h-0.6zM333.3 622.0h0.6v0.6h-0.6zM333.6 622.7h0.6v0.6h-0.6zM333.1 621.1h0.6v0.6h-0.6zM338.5 620.2h0.6v0.6h-0.6zM333.6 621.7h0.6v0.6h-0.6zM333.5 623.5h0.6v0.6h-0.6zM331.6 622.9h0.6v0.6h-0.6zM338.4 619.7h0.6v0.6h-0.6zM330.3 620.1h0.6v0.6h-0.6zM337.9 620.3h0.6v0.6h-0.6zM333.9 620.4h0.6v0.6h-0.6zM334.9 622.2h0.6v0.6h-0.6zM331.8 623.1h0.6v0.6h-0.6zM333.6 622.5h0.6v0.6h-0.6zM335.3 622.8h0.6v0.6h-0.6zM333.7 623.1h0.6v0.6h-0.6zM336.4 619.9h0.6v0.6h-0.6zM338.5 617.9h0.6v0.6h-0.6zM339.2 618.3h0.6v0.6h-0.6zM331.6 623.1h0.6v0.6h-0.6zM338.3 618.8h0.6v0.6h-0.6zM332.3 623.4h0.6v0.6h-0.6zM333.5 623.2h0.6v0.6h-0.6zM339.9 617.9h0.6v0.6h-0.6zM340.3 618.8h0.6v0.6h-0.6zM341.2 619.5h0.6v0.6h-0.6zM332.5 619.4h0.6v0.6h-0.6zM335.3 618.9h0.6v0.6h-0.6zM336.8 623.3h0.6v0.6h-0.6zM340.9 617.7h0.6v0.6h-0.6zM338.8 619.5h0.6v0.6h-0.6zM331.4 623.3h0.6v0.6h-0.6zM340.0 615.8h0.6v0.6h-0.6zM341.2 617.5h0.6v0.6h-0.6zM334.1 622.8h0.6v0.6h-0.6zM332.9 621.9h0.6v0.6h-0.6zM335.4 624.7h0.6v0.6h-0.6zM334.8 621.2h0.6v0.6h-0.6zM336.8 621.6h0.6v0.6h-0.6zM339.9 616.5h0.6v0.6h-0.6zM335.1 621.4h0.6v0.6h-0.6zM342.0 619.8h0.6v0.6h-0.6zM338.0 620.5h0.6v0.6h-0.6zM336.3 619.9h0.6v0.6h-0.6zM340.2 616.4h0.6v0.6h-0.6zM339.4 618.0h0.6v0.6h-0.6zM335.5 620.1h0.6v0.6h-0.6zM335.0 619.0h0.6v0.6h-0.6zM337.2 621.4h0.6v0.6h-0.6zM340.7 615.6h0.6v0.6h-0.6zM334.7 620.4h0.6v0.6h-0.6zM339.7 617.3h0.6v0.6h-0.6z" fill="#f42424" opacity="0.55"/>
<path d="M329.3 626.3h0.6v0.6h-0.6zM328.7 629.2h0.6v0.6h-0.6zM327.7 621.6h0.6v0.6h-0.6zM331.6 622.8h0.6v0.6h-0.6zM315.9 620.3h0.6v0.6h-0.6zM326.5 623.6h0.6v0.6h-0.6zM318.2 620.9h0.6v0.6h-0.6zM322.6 624.3h0.6v0.6h-0.6zM325.1 624.9h0.6v0.6h-0.6zM330.3 617.9h0.6v0.6h-0.6zM324.9 617.6h0.6v0.6h-0.6zM329.4 625.0h0.6v0.6h-0.6zM319.3 616.4h0.6v0.6h-0.6zM331.8 620.2h0.6v0.6h-0.6zM328.1 623.8h0.6v0.6h-0.6zM331.5 625.1h0.6v0.6h-0.6zM323.0 614.0h0.6v0.6h-0.6zM324.1 621.5h0.6v0.6h-0.6zM325.1 624.1h0.6v0.6h-0.6zM327.0 627.4h0.6v0.6h-0.6zM323.2 622.8h0.6v0.6h-0.6zM326.7 630.8h0.6v0.6h-0.6zM320.0 619.4h0.6v0.6h-0.6zM325.6 625.5h0.6v0.6h-0.6zM328.0 621.3h0.6v0.6h-0.6zM315.4 615.9h0.6v0.6h-0.6zM326.2 621.4h0.6v0.6h-0.6zM341.8 621.1h0.6v0.6h-0.6zM331.9 625.2h0.6v0.6h-0.6zM320.3 618.4h0.6v0.6h-0.6zM326.2 628.3h0.6v0.6h-0.6zM335.2 618.4h0.6v0.6h-0.6zM319.1 627.3h0.6v0.6h-0.6zM335.6 616.2h0.6v0.6h-0.6zM339.8 616.8h0.6v0.6h-0.6zM333.6 620.2h0.6v0.6h-0.6zM325.1 620.1h0.6v0.6h-0.6zM333.8 623.5h0.6v0.6h-0.6zM334.0 619.8h0.6v0.6h-0.6zM323.0 631.5h0.6v0.6h-0.6z" fill="#f42424" opacity="0.4"/>
<path d="M372.7 618.3h0.6v0.6h-0.6zM358.7 623.0h0.6v0.6h-0.6zM365.0 619.0h0.6v0.6h-0.6zM368.5 619.8h0.6v0.6h-0.6zM364.8 624.3h0.6v0.6h-0.6zM355.1 620.6h0.6v0.6h-0.6zM359.5 619.0h0.6v0.6h-0.6zM363.5 619.5h0.6v0.6h-0.6zM352.5 620.7h0.6v0.6h-0.6zM375.7 617.7h0.6v0.6h-0.6zM368.7 620.5h0.6v0.6h-0.6zM365.8 617.4h0.6v0.6h-0.6zM367.4 619.6h0.6v0.6h-0.6zM371.4 621.1h0.6v0.6h-0.6zM360.8 610.7h0.6v0.6h-0.6zM371.7 620.2h0.6v0.6h-0.6zM365.1 617.1h0.6v0.6h-0.6zM376.6 622.5h0.6v0.6h-0.6zM364.8 617.8h0.6v0.6h-0.6zM367.1 622.6h0.6v0.6h-0.6zM366.9 621.4h0.6v0.6h-0.6zM365.6 619.8h0.6v0.6h-0.6zM358.1 619.1h0.6v0.6h-0.6zM364.6 618.6h0.6v0.6h-0.6zM363.1 619.7h0.6v0.6h-0.6zM361.5 618.3h0.6v0.6h-0.6zM357.9 625.3h0.6v0.6h-0.6zM359.9 615.4h0.6v0.6h-0.6zM361.7 617.6h0.6v0.6h-0.6zM359.0 612.0h0.6v0.6h-0.6zM372.4 621.6h0.6v0.6h-0.6zM362.4 620.4h0.6v0.6h-0.6zM358.8 614.3h0.6v0.6h-0.6zM366.0 620.4h0.6v0.6h-0.6zM360.9 618.8h0.6v0.6h-0.6zM349.1 618.4h0.6v0.6h-0.6zM369.5 619.3h0.6v0.6h-0.6zM365.2 620.4h0.6v0.6h-0.6zM354.0 615.2h0.6v0.6h-0.6zM358.0 619.5h0.6v0.6h-0.6zM361.2 613.5h0.6v0.6h-0.6zM368.7 618.3h0.6v0.6h-0.6zM369.2 624.4h0.6v0.6h-0.6zM356.1 615.2h0.6v0.6h-0.6zM369.6 622.7h0.6v0.6h-0.6zM366.3 619.8h0.6v0.6h-0.6zM367.7 620.6h0.6v0.6h-0.6zM358.0 620.9h0.6v0.6h-0.6zM369.2 617.7h0.6v0.6h-0.6zM359.8 617.4h0.6v0.6h-0.6zM361.4 620.3h0.6v0.6h-0.6zM368.1 618.9h0.6v0.6h-0.6zM362.8 613.9h0.6v0.6h-0.6zM362.2 616.0h0.6v0.6h-0.6zM361.6 619.8h0.6v0.6h-0.6zM365.1 628.6h0.6v0.6h-0.6zM360.0 617.3h0.6v0.6h-0.6zM358.6 618.1h0.6v0.6h-0.6zM362.9 621.6h0.6v0.6h-0.6zM354.6 621.3h0.6v0.6h-0.6zM367.5 617.3h0.6v0.6h-0.6zM360.9 619.3h0.6v0.6h-0.6zM366.9 618.4h0.6v0.6h-0.6zM363.5 618.9h0.6v0.6h-0.6zM358.9 619.6h0.6v0.6h-0.6zM367.2 618.9h0.6v0.6h-0.6zM358.6 618.8h0.6v0.6h-0.6zM363.8 619.7h0.6v0.6h-0.6zM362.2 621.1h0.6v0.6h-0.6zM369.7 621.1h0.6v0.6h-0.6zM365.5 622.2h0.6v0.6h-0.6zM364.1 618.3h0.6v0.6h-0.6zM357.2 618.9h0.6v0.6h-0.6zM370.3 616.2h0.6v0.6h-0.6zM368.2 615.3h0.6v0.6h-0.6zM365.8 623.9h0.6v0.6h-0.6zM364.5 615.6h0.6v0.6h-0.6zM365.7 618.4h0.6v0.6h-0.6zM368.2 617.4h0.6v0.6h-0.6zM355.7 617.5h0.6v0.6h-0.6zM367.2 621.6h0.6v0.6h-0.6zM365.7 618.9h0.6v0.6h-0.6zM367.7 618.3h0.6v0.6h-0.6zM362.0 619.4h0.6v0.6h-0.6zM369.7 617.4h0.6v0.6h-0.6zM366.7 617.0h0.6v0.6h-0.6zM360.6 619.3h0.6v0.6h-0.6zM357.7 616.5h0.6v0.6h-0.6zM358.4 617.1h0.6v0.6h-0.6zM359.8 625.2h0.6v0.6h-0.6z" fill="#3442e8" opacity="0.85"/>
<path d="M363.0 620.4h0.6v0.6h-0.6zM343.7 608.3h0.6v0.6h-0.6zM361.3 616.9h0.6v0.6h-0.6zM367.4 618.1h0.6v0.6h-0.6zM344.0 616.9h0.6v0.6h-0.6zM364.0 617.4h0.6v0.6h-0.6zM363.8 617.3h0.6v0.6h-0.6zM354.6 617.3h0.6v0.6h-0.6zM351.5 616.8h0.6v0.6h-0.6zM371.8 619.7h0.6v0.6h-0.6zM369.4 625.5h0.6v0.6h-0.6zM355.9 619.3h0.6v0.6h-0.6zM352.2 620.6h0.6v0.6h-0.6zM361.6 620.0h0.6v0.6h-0.6zM348.8 615.3h0.6v0.6h-0.6zM373.5 628.3h0.6v0.6h-0.6zM344.6 616.9h0.6v0.6h-0.6zM356.5 622.9h0.6v0.6h-0.6zM355.8 621.2h0.6v0.6h-0.6zM360.5 625.6h0.6v0.6h-0.6zM343.9 625.4h0.6v0.6h-0.6zM361.3 622.6h0.6v0.6h-0.6zM354.3 623.1h0.6v0.6h-0.6zM363.7 623.4h0.6v0.6h-0.6zM344.0 626.1h0.6v0.6h-0.6zM357.6 624.6h0.6v0.6h-0.6zM356.8 616.6h0.6v0.6h-0.6zM383.0 623.2h0.6v0.6h-0.6zM364.5 617.8h0.6v0.6h-0.6zM354.7 625.4h0.6v0.6h-0.6zM361.3 628.5h0.6v0.6h-0.6zM368.8 614.8h0.6v0.6h-0.6zM362.9 618.8h0.6v0.6h-0.6zM354.0 617.3h0.6v0.6h-0.6zM374.8 619.2h0.6v0.6h-0.6zM343.1 624.4h0.6v0.6h-0.6zM356.0 621.7h0.6v0.6h-0.6zM353.1 619.8h0.6v0.6h-0.6zM350.0 618.2h0.6v0.6h-0.6zM360.0 626.2h0.6v0.6h-0.6zM362.3 624.9h0.6v0.6h-0.6zM347.8 621.6h0.6v0.6h-0.6zM360.8 624.5h0.6v0.6h-0.6zM350.7 619.1h0.6v0.6h-0.6zM351.8 625.5h0.6v0.6h-0.6zM367.7 617.9h0.6v0.6h-0.6zM355.5 621.1h0.6v0.6h-0.6zM347.9 619.5h0.6v0.6h-0.6zM365.5 623.8h0.6v0.6h-0.6zM350.1 616.9h0.6v0.6h-0.6zM355.7 613.0h0.6v0.6h-0.6zM359.9 620.6h0.6v0.6h-0.6zM343.5 618.9h0.6v0.6h-0.6zM350.2 618.7h0.6v0.6h-0.6zM348.1 626.6h0.6v0.6h-0.6zM347.2 623.7h0.6v0.6h-0.6zM358.9 627.0h0.6v0.6h-0.6zM356.3 620.0h0.6v0.6h-0.6zM357.5 611.0h0.6v0.6h-0.6zM380.8 619.0h0.6v0.6h-0.6zM353.7 614.6h0.6v0.6h-0.6zM355.5 627.8h0.6v0.6h-0.6zM349.3 622.2h0.6v0.6h-0.6zM367.1 624.6h0.6v0.6h-0.6zM352.8 611.7h0.6v0.6h-0.6zM360.9 622.8h0.6v0.6h-0.6zM353.6 618.0h0.6v0.6h-0.6zM374.3 612.5h0.6v0.6h-0.6zM351.7 617.1h0.6v0.6h-0.6zM348.9 626.0h0.6v0.6h-0.6zM359.4 612.7h0.6v0.6h-0.6zM344.8 615.4h0.6v0.6h-0.6zM355.2 622.2h0.6v0.6h-0.6zM350.4 618.7h0.6v0.6h-0.6zM363.9 619.3h0.6v0.6h-0.6zM364.1 617.3h0.6v0.6h-0.6zM361.7 626.1h0.6v0.6h-0.6zM353.6 618.4h0.6v0.6h-0.6zM355.2 622.3h0.6v0.6h-0.6zM344.8 620.2h0.6v0.6h-0.6zM351.0 626.8h0.6v0.6h-0.6zM353.7 616.5h0.6v0.6h-0.6zM358.2 618.9h0.6v0.6h-0.6zM357.2 621.2h0.6v0.6h-0.6zM368.8 618.1h0.6v0.6h-0.6zM373.5 607.2h0.6v0.6h-0.6zM375.0 625.8h0.6v0.6h-0.6zM372.4 621.0h0.6v0.6h-0.6zM359.6 615.3h0.6v0.6h-0.6zM370.2 614.6h0.6v0.6h-0.6zM348.9 620.1h0.6v0.6h-0.6zM359.1 621.7h0.6v0.6h-0.6zM345.2 618.4h0.6v0.6h-0.6zM361.7 625.7h0.6v0.6h-0.6zM364.4 622.0h0.6v0.6h-0.6zM354.2 617.5h0.6v0.6h-0.6zM351.7 619.6h0.6v0.6h-0.6zM362.1 617.7h0.6v0.6h-0.6zM377.3 615.3h0.6v0.6h-0.6zM364.9 619.1h0.6v0.6h-0.6zM355.4 618.3h0.6v0.6h-0.6zM372.1 618.7h0.6v0.6h-0.6zM362.3 620.6h0.6v0.6h-0.6zM364.3 622.8h0.6v0.6h-0.6zM373.3 616.6h0.6v0.6h-0.6zM348.6 628.1h0.6v0.6h-0.6zM369.5 620.4h0.6v0.6h-0.6zM354.0 621.3h0.6v0.6h-0.6zM369.8 616.4h0.6v0.6h-0.6zM371.3 619.8h0.6v0.6h-0.6zM353.2 618.2h0.6v0.6h-0.6zM343.7 617.4h0.6v0.6h-0.6zM347.9 621.2h0.6v0.6h-0.6zM364.0 620.3h0.6v0.6h-0.6zM358.7 622.0h0.6v0.6h-0.6zM372.8 622.8h0.6v0.6h-0.6zM372.5 619.8h0.6v0.6h-0.6zM360.3 617.0h0.6v0.6h-0.6z" fill="#3442e8" opacity="0.5"/>
<path d="M348.4 634.5h0.6v0.6h-0.6zM348.2 634.9h0.6v0.6h-0.6zM346.6 637.7h0.6v0.6h-0.6zM347.6 637.0h0.6v0.6h-0.6zM350.2 635.6h0.6v0.6h-0.6zM346.0 637.3h0.6v0.6h-0.6zM345.0 634.7h0.6v0.6h-0.6zM349.5 634.8h0.6v0.6h-0.6zM349.5 635.4h0.6v0.6h-0.6zM346.8 635.9h0.6v0.6h-0.6zM346.3 637.4h0.6v0.6h-0.6zM349.4 635.9h0.6v0.6h-0.6zM348.5 636.6h0.6v0.6h-0.6zM349.3 637.2h0.6v0.6h-0.6zM346.6 635.8h0.6v0.6h-0.6zM346.6 637.7h0.6v0.6h-0.6zM345.0 636.7h0.6v0.6h-0.6zM349.8 636.7h0.6v0.6h-0.6zM346.3 635.1h0.6v0.6h-0.6zM343.0 634.3h0.6v0.6h-0.6zM349.4 634.4h0.6v0.6h-0.6zM344.0 635.5h0.6v0.6h-0.6zM344.3 636.5h0.6v0.6h-0.6z" fill="#1fb585" opacity="0.8"/>
<path d="M346.7 651.4h0.6v0.6h-0.6zM351.2 635.8h0.6v0.6h-0.6zM347.3 640.8h0.6v0.6h-0.6zM346.8 653.3h0.6v0.6h-0.6zM345.9 647.5h0.6v0.6h-0.6zM348.4 649.0h0.6v0.6h-0.6zM343.3 634.8h0.6v0.6h-0.6zM354.9 654.5h0.6v0.6h-0.6zM343.6 643.0h0.6v0.6h-0.6zM348.9 638.9h0.6v0.6h-0.6zM357.7 645.4h0.6v0.6h-0.6zM343.6 643.7h0.6v0.6h-0.6zM359.9 640.4h0.6v0.6h-0.6zM348.8 639.7h0.6v0.6h-0.6zM352.9 641.5h0.6v0.6h-0.6zM357.2 639.6h0.6v0.6h-0.6zM343.2 648.1h0.6v0.6h-0.6zM353.6 646.7h0.6v0.6h-0.6zM348.4 642.2h0.6v0.6h-0.6zM355.0 669.7h0.6v0.6h-0.6zM347.1 643.9h0.6v0.6h-0.6zM349.2 648.8h0.6v0.6h-0.6zM352.0 648.8h0.6v0.6h-0.6zM361.7 643.3h0.6v0.6h-0.6zM350.2 647.6h0.6v0.6h-0.6zM364.5 642.8h0.6v0.6h-0.6zM362.0 652.9h0.6v0.6h-0.6zM346.0 647.7h0.6v0.6h-0.6zM359.9 645.5h0.6v0.6h-0.6zM352.9 659.4h0.6v0.6h-0.6zM354.0 659.3h0.6v0.6h-0.6zM346.5 656.0h0.6v0.6h-0.6zM346.9 642.0h0.6v0.6h-0.6zM351.6 650.1h0.6v0.6h-0.6zM356.0 648.6h0.6v0.6h-0.6zM347.4 656.9h0.6v0.6h-0.6zM359.1 645.4h0.6v0.6h-0.6zM348.5 644.8h0.6v0.6h-0.6zM350.6 640.5h0.6v0.6h-0.6zM351.8 640.7h0.6v0.6h-0.6zM355.8 640.8h0.6v0.6h-0.6zM354.8 647.2h0.6v0.6h-0.6z" fill="#1fb585" opacity="0.6"/>
</g>
<line x1="342.6" y1="603.5" x2="342.6" y2="664.3" stroke="#505050" stroke-width="0.7"/>
<line x1="310.8" y1="633.5" x2="372.6" y2="633.5" stroke="#505050" stroke-width="0.7"/>
<line x1="309.6" y1="606.2" x2="310.8" y2="606.2" stroke="#555" stroke-width="0.5"/>
<text x="309.2" y="607.9" font-size="4.4" fill="#222" text-anchor="end">10<tspan font-size="3.2" dy="-1.7">3</tspan></text>
<line x1="309.6" y1="620.4484751203853" x2="310.8" y2="620.4484751203853" stroke="#555" stroke-width="0.5"/>
<text x="309.2" y="622.1" font-size="4.4" fill="#222" text-anchor="end">10<tspan font-size="3.2" dy="-1.7">2</tspan></text>
<line x1="309.6" y1="634.6969502407705" x2="310.8" y2="634.6969502407705" stroke="#555" stroke-width="0.5"/>
<text x="309.2" y="636.4" font-size="4.4" fill="#222" text-anchor="end">10<tspan font-size="3.2" dy="-1.7">1</tspan></text>
<line x1="309.6" y1="648.9454253611557" x2="310.8" y2="648.9454253611557" stroke="#555" stroke-width="0.5"/>
<text x="309.2" y="650.6" font-size="4.4" fill="#222" text-anchor="end">10<tspan font-size="3.2" dy="-1.7">0</tspan></text>
<line x1="309.6" y1="663.1939004815409" x2="310.8" y2="663.1939004815409" stroke="#555" stroke-width="0.5"/>
<text x="308.59999999999997" y="664.9" font-size="4.4" fill="#222" text-anchor="end">10<tspan font-size="3.2" dy="-1.7">-1</tspan></text>
<line x1="314.5" y1="664.3" x2="314.5" y2="665.5" stroke="#555" stroke-width="0.5"/>
<text x="313.5" y="670.9" font-size="4.4" fill="#222" text-anchor="middle">10<tspan font-size="3.2" dy="-1.7">-1</tspan></text>
<line x1="327.9" y1="664.3" x2="327.9" y2="665.5" stroke="#555" stroke-width="0.5"/>
<text x="326.9" y="670.9" font-size="4.4" fill="#222" text-anchor="middle">10<tspan font-size="3.2" dy="-1.7">0</tspan></text>
<line x1="341.3" y1="664.3" x2="341.3" y2="665.5" stroke="#555" stroke-width="0.5"/>
<text x="340.3" y="670.9" font-size="4.4" fill="#222" text-anchor="middle">10<tspan font-size="3.2" dy="-1.7">1</tspan></text>
<line x1="354.7" y1="664.3" x2="354.7" y2="665.5" stroke="#555" stroke-width="0.5"/>
<text x="353.7" y="670.9" font-size="4.4" fill="#222" text-anchor="middle">10<tspan font-size="3.2" dy="-1.7">2</tspan></text>
<line x1="368.1" y1="664.3" x2="368.1" y2="665.5" stroke="#555" stroke-width="0.5"/>
<text x="367.1" y="670.9" font-size="4.4" fill="#222" text-anchor="middle">10<tspan font-size="3.2" dy="-1.7">3</tspan></text>
<text x="312.6" y="610.1" font-size="4.5" fill="#222">6.04</text>
<text x="368.1" y="610.1" font-size="4.5" fill="#222" text-anchor="end">12.7</text>
<text x="312.6" y="660.6999999999999" font-size="4.5" fill="#222">75.4</text>
<text x="368.1" y="660.6999999999999" font-size="4.5" fill="#222" text-anchor="end">5.81</text>
<rect x="384.1" y="603.5" width="61.8" height="60.8" fill="#fff" stroke="#a8a8a8" stroke-width="0.6"/>
<clipPath id="kc12"><rect x="384.1" y="603.5" width="61.8" height="60.8"/></clipPath>
<g clip-path="url(#kc12)">
<path d="M407.6 654.2h0.7v0.7h-0.7zM406.4 668.4h0.7v0.7h-0.7zM402.7 659.6h0.7v0.7h-0.7zM403.6 651.4h0.7v0.7h-0.7zM404.9 656.7h0.7v0.7h-0.7zM410.9 647.0h0.7v0.7h-0.7zM399.6 650.1h0.7v0.7h-0.7zM409.3 655.0h0.7v0.7h-0.7zM404.5 657.7h0.7v0.7h-0.7zM404.3 650.7h0.7v0.7h-0.7zM400.5 663.9h0.7v0.7h-0.7zM394.7 655.1h0.7v0.7h-0.7zM408.5 654.2h0.7v0.7h-0.7zM407.0 635.9h0.7v0.7h-0.7zM407.0 653.8h0.7v0.7h-0.7zM401.7 654.0h0.7v0.7h-0.7zM406.2 640.9h0.7v0.7h-0.7zM405.9 655.8h0.7v0.7h-0.7zM393.8 661.4h0.7v0.7h-0.7zM411.7 652.0h0.7v0.7h-0.7zM407.4 653.3h0.7v0.7h-0.7zM399.0 656.7h0.7v0.7h-0.7zM412.9 638.5h0.7v0.7h-0.7zM399.8 649.2h0.7v0.7h-0.7zM399.0 653.1h0.7v0.7h-0.7zM397.8 660.6h0.7v0.7h-0.7zM400.5 660.2h0.7v0.7h-0.7zM408.4 633.7h0.7v0.7h-0.7zM397.2 646.1h0.7v0.7h-0.7zM405.3 655.2h0.7v0.7h-0.7zM410.1 656.5h0.7v0.7h-0.7zM400.4 645.7h0.7v0.7h-0.7zM411.6 641.4h0.7v0.7h-0.7zM405.3 654.8h0.7v0.7h-0.7zM399.5 658.2h0.7v0.7h-0.7zM409.2 638.7h0.7v0.7h-0.7zM392.8 660.4h0.7v0.7h-0.7zM399.8 649.2h0.7v0.7h-0.7zM393.0 669.0h0.7v0.7h-0.7zM403.2 646.0h0.7v0.7h-0.7zM408.4 649.8h0.7v0.7h-0.7zM401.7 647.2h0.7v0.7h-0.7zM405.0 656.1h0.7v0.7h-0.7zM390.3 658.6h0.7v0.7h-0.7zM408.9 649.3h0.7v0.7h-0.7zM396.6 657.4h0.7v0.7h-0.7zM404.7 656.1h0.7v0.7h-0.7zM411.1 663.8h0.7v0.7h-0.7zM406.4 637.6h0.7v0.7h-0.7zM397.4 659.4h0.7v0.7h-0.7zM412.5 649.3h0.7v0.7h-0.7zM381.9 661.7h0.7v0.7h-0.7zM412.8 656.4h0.7v0.7h-0.7zM400.3 653.4h0.7v0.7h-0.7zM399.2 659.5h0.7v0.7h-0.7zM410.7 654.3h0.7v0.7h-0.7zM412.1 645.5h0.7v0.7h-0.7zM401.0 661.1h0.7v0.7h-0.7zM402.4 652.2h0.7v0.7h-0.7zM403.7 656.4h0.7v0.7h-0.7zM404.0 652.6h0.7v0.7h-0.7zM405.6 650.6h0.7v0.7h-0.7zM405.2 649.0h0.7v0.7h-0.7zM394.0 660.2h0.7v0.7h-0.7zM402.2 657.0h0.7v0.7h-0.7zM392.0 667.6h0.7v0.7h-0.7zM390.2 661.6h0.7v0.7h-0.7zM400.5 657.5h0.7v0.7h-0.7zM405.4 649.9h0.7v0.7h-0.7zM400.3 651.6h0.7v0.7h-0.7zM409.3 650.7h0.7v0.7h-0.7zM405.5 649.3h0.7v0.7h-0.7zM407.1 649.2h0.7v0.7h-0.7zM406.3 650.8h0.7v0.7h-0.7zM397.1 652.5h0.7v0.7h-0.7zM388.5 657.9h0.7v0.7h-0.7zM391.7 658.8h0.7v0.7h-0.7zM399.9 649.7h0.7v0.7h-0.7zM383.1 663.7h0.7v0.7h-0.7zM409.2 641.9h0.7v0.7h-0.7zM402.2 651.2h0.7v0.7h-0.7zM405.2 643.3h0.7v0.7h-0.7zM407.6 652.2h0.7v0.7h-0.7zM409.9 651.6h0.7v0.7h-0.7zM400.2 645.4h0.7v0.7h-0.7zM399.8 651.2h0.7v0.7h-0.7zM407.6 649.3h0.7v0.7h-0.7zM409.4 656.4h0.7v0.7h-0.7zM409.6 660.1h0.7v0.7h-0.7zM405.5 642.8h0.7v0.7h-0.7zM405.1 660.9h0.7v0.7h-0.7zM405.5 660.3h0.7v0.7h-0.7zM400.9 655.6h0.7v0.7h-0.7zM406.5 641.4h0.7v0.7h-0.7zM403.9 650.9h0.7v0.7h-0.7zM411.5 658.7h0.7v0.7h-0.7zM403.7 645.2h0.7v0.7h-0.7zM409.7 646.1h0.7v0.7h-0.7zM409.7 656.6h0.7v0.7h-0.7zM406.0 658.4h0.7v0.7h-0.7zM403.2 648.6h0.7v0.7h-0.7zM398.5 649.5h0.7v0.7h-0.7zM413.1 647.3h0.7v0.7h-0.7zM407.6 643.5h0.7v0.7h-0.7zM406.5 643.8h0.7v0.7h-0.7zM406.7 651.4h0.7v0.7h-0.7zM402.1 657.4h0.7v0.7h-0.7zM402.3 649.5h0.7v0.7h-0.7zM395.9 652.0h0.7v0.7h-0.7zM404.8 657.6h0.7v0.7h-0.7zM395.6 653.2h0.7v0.7h-0.7zM412.3 657.2h0.7v0.7h-0.7zM407.3 652.0h0.7v0.7h-0.7zM411.2 637.6h0.7v0.7h-0.7zM400.1 648.2h0.7v0.7h-0.7zM396.3 658.7h0.7v0.7h-0.7zM401.8 657.4h0.7v0.7h-0.7zM397.5 657.5h0.7v0.7h-0.7zM403.1 640.2h0.7v0.7h-0.7zM402.0 653.5h0.7v0.7h-0.7zM401.2 655.3h0.7v0.7h-0.7zM391.9 661.0h0.7v0.7h-0.7zM398.2 651.9h0.7v0.7h-0.7zM407.2 645.3h0.7v0.7h-0.7zM401.6 659.8h0.7v0.7h-0.7zM403.0 658.3h0.7v0.7h-0.7zM397.7 658.2h0.7v0.7h-0.7zM401.0 648.3h0.7v0.7h-0.7zM409.8 653.4h0.7v0.7h-0.7zM394.2 658.3h0.7v0.7h-0.7zM393.7 654.1h0.7v0.7h-0.7zM402.5 664.1h0.7v0.7h-0.7zM399.3 655.1h0.7v0.7h-0.7zM407.2 637.4h0.7v0.7h-0.7zM404.1 642.1h0.7v0.7h-0.7zM399.5 654.8h0.7v0.7h-0.7zM407.6 663.7h0.7v0.7h-0.7zM407.6 658.4h0.7v0.7h-0.7zM403.5 653.7h0.7v0.7h-0.7zM409.6 652.0h0.7v0.7h-0.7zM402.5 643.6h0.7v0.7h-0.7zM409.2 651.5h0.7v0.7h-0.7zM408.6 649.6h0.7v0.7h-0.7zM403.3 645.8h0.7v0.7h-0.7zM408.3 642.2h0.7v0.7h-0.7zM403.5 652.2h0.7v0.7h-0.7zM408.9 647.6h0.7v0.7h-0.7zM398.2 660.5h0.7v0.7h-0.7zM395.6 657.8h0.7v0.7h-0.7zM401.8 655.2h0.7v0.7h-0.7zM400.7 656.5h0.7v0.7h-0.7zM397.8 663.5h0.7v0.7h-0.7zM403.0 650.6h0.7v0.7h-0.7zM409.5 666.5h0.7v0.7h-0.7zM400.5 653.6h0.7v0.7h-0.7zM399.5 654.2h0.7v0.7h-0.7zM408.8 652.2h0.7v0.7h-0.7zM389.7 649.8h0.7v0.7h-0.7zM407.2 652.9h0.7v0.7h-0.7zM406.3 652.0h0.7v0.7h-0.7zM396.0 645.8h0.7v0.7h-0.7zM408.7 650.1h0.7v0.7h-0.7zM412.2 648.9h0.7v0.7h-0.7zM405.0 656.9h0.7v0.7h-0.7zM404.7 650.3h0.7v0.7h-0.7zM401.1 653.4h0.7v0.7h-0.7zM401.5 652.9h0.7v0.7h-0.7zM407.8 658.0h0.7v0.7h-0.7zM381.7 651.1h0.7v0.7h-0.7zM401.3 655.0h0.7v0.7h-0.7zM395.7 651.7h0.7v0.7h-0.7zM397.8 655.6h0.7v0.7h-0.7zM404.8 650.9h0.7v0.7h-0.7zM396.0 658.0h0.7v0.7h-0.7zM411.8 641.4h0.7v0.7h-0.7zM408.6 656.6h0.7v0.7h-0.7zM397.9 655.1h0.7v0.7h-0.7zM402.0 656.5h0.7v0.7h-0.7zM406.0 653.0h0.7v0.7h-0.7zM406.9 649.3h0.7v0.7h-0.7zM387.5 661.3h0.7v0.7h-0.7zM401.4 646.9h0.7v0.7h-0.7zM407.7 660.6h0.7v0.7h-0.7zM404.3 649.2h0.7v0.7h-0.7zM409.2 656.3h0.7v0.7h-0.7zM389.8 657.4h0.7v0.7h-0.7zM399.2 654.9h0.7v0.7h-0.7zM402.4 651.2h0.7v0.7h-0.7zM405.9 652.8h0.7v0.7h-0.7zM395.4 656.9h0.7v0.7h-0.7zM397.9 660.8h0.7v0.7h-0.7zM408.7 654.1h0.7v0.7h-0.7zM397.5 655.7h0.7v0.7h-0.7zM390.7 665.0h0.7v0.7h-0.7zM395.6 663.1h0.7v0.7h-0.7zM413.3 648.9h0.7v0.7h-0.7zM409.7 650.5h0.7v0.7h-0.7zM410.3 654.6h0.7v0.7h-0.7zM405.9 657.7h0.7v0.7h-0.7zM411.9 650.0h0.7v0.7h-0.7zM402.5 646.7h0.7v0.7h-0.7zM409.0 643.7h0.7v0.7h-0.7zM397.9 653.2h0.7v0.7h-0.7zM405.4 646.2h0.7v0.7h-0.7zM409.7 652.7h0.7v0.7h-0.7zM404.4 651.1h0.7v0.7h-0.7zM413.0 654.9h0.7v0.7h-0.7zM398.5 651.4h0.7v0.7h-0.7zM398.2 652.8h0.7v0.7h-0.7zM402.9 653.7h0.7v0.7h-0.7z" fill="#f42424" opacity="0.45"/>
<ellipse cx="404.9" cy="653" rx="8.2" ry="4.5" fill="#f42424" opacity="0.85" filter="url(#b1)" transform="rotate(-40 404.9 653)"/>
<path d="M398.3 663.9h0.8v0.8h-0.8zM400.8 654.8h0.8v0.8h-0.8zM393.4 655.3h0.8v0.8h-0.8zM401.2 656.9h0.8v0.8h-0.8zM405.0 646.2h0.8v0.8h-0.8zM408.6 655.5h0.8v0.8h-0.8zM405.4 655.9h0.8v0.8h-0.8zM404.5 649.9h0.8v0.8h-0.8zM407.8 648.3h0.8v0.8h-0.8zM405.6 650.9h0.8v0.8h-0.8zM404.3 654.1h0.8v0.8h-0.8zM407.1 644.9h0.8v0.8h-0.8zM400.6 657.0h0.8v0.8h-0.8zM408.5 649.3h0.8v0.8h-0.8zM405.1 654.8h0.8v0.8h-0.8zM409.6 645.7h0.8v0.8h-0.8zM398.0 657.8h0.8v0.8h-0.8zM405.6 647.6h0.8v0.8h-0.8zM411.1 651.2h0.8v0.8h-0.8zM406.5 648.5h0.8v0.8h-0.8zM400.9 658.8h0.8v0.8h-0.8zM407.2 653.6h0.8v0.8h-0.8zM394.1 651.1h0.8v0.8h-0.8zM411.2 651.4h0.8v0.8h-0.8zM403.8 653.9h0.8v0.8h-0.8zM408.1 653.1h0.8v0.8h-0.8zM403.2 652.5h0.8v0.8h-0.8zM402.8 658.5h0.8v0.8h-0.8zM399.1 645.3h0.8v0.8h-0.8zM405.2 650.6h0.8v0.8h-0.8zM398.9 656.2h0.8v0.8h-0.8zM398.9 656.3h0.8v0.8h-0.8zM403.6 656.0h0.8v0.8h-0.8zM397.5 652.5h0.8v0.8h-0.8zM400.0 652.1h0.8v0.8h-0.8zM407.5 650.1h0.8v0.8h-0.8zM396.6 656.7h0.8v0.8h-0.8zM404.7 653.0h0.8v0.8h-0.8zM397.3 658.9h0.8v0.8h-0.8zM407.9 654.1h0.8v0.8h-0.8zM409.1 649.0h0.8v0.8h-0.8zM399.0 656.6h0.8v0.8h-0.8zM405.8 648.8h0.8v0.8h-0.8zM408.2 646.7h0.8v0.8h-0.8zM401.9 658.6h0.8v0.8h-0.8zM405.1 654.0h0.8v0.8h-0.8zM403.7 654.1h0.8v0.8h-0.8zM406.0 659.1h0.8v0.8h-0.8zM407.3 650.5h0.8v0.8h-0.8zM408.3 653.2h0.8v0.8h-0.8zM403.1 655.2h0.8v0.8h-0.8zM404.7 651.1h0.8v0.8h-0.8zM401.4 655.2h0.8v0.8h-0.8zM402.9 653.1h0.8v0.8h-0.8zM397.2 659.7h0.8v0.8h-0.8zM407.7 651.0h0.8v0.8h-0.8zM413.3 649.1h0.8v0.8h-0.8zM402.2 652.7h0.8v0.8h-0.8zM406.2 650.5h0.8v0.8h-0.8zM398.6 658.7h0.8v0.8h-0.8zM403.3 653.5h0.8v0.8h-0.8zM407.7 651.4h0.8v0.8h-0.8zM411.7 644.6h0.8v0.8h-0.8zM405.1 654.0h0.8v0.8h-0.8zM402.2 653.4h0.8v0.8h-0.8zM409.3 644.0h0.8v0.8h-0.8zM403.1 648.0h0.8v0.8h-0.8zM402.8 647.7h0.8v0.8h-0.8zM402.3 659.4h0.8v0.8h-0.8zM411.3 648.1h0.8v0.8h-0.8zM395.8 664.3h0.8v0.8h-0.8zM403.9 649.8h0.8v0.8h-0.8zM401.1 651.3h0.8v0.8h-0.8zM404.4 653.1h0.8v0.8h-0.8zM406.8 654.3h0.8v0.8h-0.8zM398.3 650.4h0.8v0.8h-0.8zM397.9 654.2h0.8v0.8h-0.8zM402.6 653.3h0.8v0.8h-0.8zM407.2 656.1h0.8v0.8h-0.8zM403.0 650.6h0.8v0.8h-0.8zM402.1 652.1h0.8v0.8h-0.8zM405.0 655.1h0.8v0.8h-0.8zM401.6 658.3h0.8v0.8h-0.8zM411.6 647.7h0.8v0.8h-0.8zM403.1 661.9h0.8v0.8h-0.8zM405.1 653.7h0.8v0.8h-0.8zM401.8 652.2h0.8v0.8h-0.8zM404.8 647.9h0.8v0.8h-0.8zM400.4 658.8h0.8v0.8h-0.8zM401.9 652.4h0.8v0.8h-0.8zM409.5 654.4h0.8v0.8h-0.8zM403.5 653.7h0.8v0.8h-0.8zM408.8 653.1h0.8v0.8h-0.8zM410.3 651.0h0.8v0.8h-0.8zM403.2 656.4h0.8v0.8h-0.8zM401.9 649.3h0.8v0.8h-0.8zM410.9 650.1h0.8v0.8h-0.8zM410.3 648.3h0.8v0.8h-0.8zM407.7 650.4h0.8v0.8h-0.8zM407.2 654.4h0.8v0.8h-0.8zM406.2 654.1h0.8v0.8h-0.8zM407.0 655.8h0.8v0.8h-0.8zM404.5 647.2h0.8v0.8h-0.8zM412.3 648.4h0.8v0.8h-0.8zM401.7 653.4h0.8v0.8h-0.8zM413.0 646.5h0.8v0.8h-0.8zM408.0 652.6h0.8v0.8h-0.8zM405.7 658.8h0.8v0.8h-0.8zM411.9 644.3h0.8v0.8h-0.8zM406.5 645.7h0.8v0.8h-0.8zM403.7 654.3h0.8v0.8h-0.8zM406.1 654.1h0.8v0.8h-0.8zM407.2 652.4h0.8v0.8h-0.8zM404.9 654.1h0.8v0.8h-0.8zM406.2 659.1h0.8v0.8h-0.8zM407.4 655.5h0.8v0.8h-0.8zM405.1 652.3h0.8v0.8h-0.8zM401.9 650.8h0.8v0.8h-0.8zM404.6 651.6h0.8v0.8h-0.8zM409.4 648.0h0.8v0.8h-0.8zM402.1 653.4h0.8v0.8h-0.8zM411.6 648.5h0.8v0.8h-0.8zM403.2 652.1h0.8v0.8h-0.8zM410.6 649.3h0.8v0.8h-0.8zM405.2 656.0h0.8v0.8h-0.8zM406.6 647.9h0.8v0.8h-0.8zM411.5 651.5h0.8v0.8h-0.8zM401.5 651.0h0.8v0.8h-0.8zM408.7 648.6h0.8v0.8h-0.8zM403.6 653.1h0.8v0.8h-0.8zM405.3 655.7h0.8v0.8h-0.8zM401.5 657.8h0.8v0.8h-0.8zM411.4 651.4h0.8v0.8h-0.8zM408.3 651.1h0.8v0.8h-0.8zM403.9 653.4h0.8v0.8h-0.8zM404.4 659.5h0.8v0.8h-0.8zM402.6 651.2h0.8v0.8h-0.8zM411.0 653.4h0.8v0.8h-0.8zM405.5 651.4h0.8v0.8h-0.8zM401.6 658.1h0.8v0.8h-0.8zM402.8 652.4h0.8v0.8h-0.8zM405.0 648.2h0.8v0.8h-0.8zM403.5 645.3h0.8v0.8h-0.8zM399.9 652.0h0.8v0.8h-0.8zM405.4 655.5h0.8v0.8h-0.8zM402.2 660.2h0.8v0.8h-0.8zM401.4 654.2h0.8v0.8h-0.8zM407.6 648.1h0.8v0.8h-0.8zM410.3 647.7h0.8v0.8h-0.8zM402.8 651.2h0.8v0.8h-0.8zM409.4 649.0h0.8v0.8h-0.8zM401.3 652.6h0.8v0.8h-0.8zM402.3 654.9h0.8v0.8h-0.8zM403.5 657.1h0.8v0.8h-0.8zM403.7 651.8h0.8v0.8h-0.8zM409.3 654.5h0.8v0.8h-0.8zM397.3 660.6h0.8v0.8h-0.8zM409.5 649.7h0.8v0.8h-0.8zM405.5 647.0h0.8v0.8h-0.8zM403.8 657.6h0.8v0.8h-0.8zM404.7 653.4h0.8v0.8h-0.8zM408.1 651.7h0.8v0.8h-0.8zM405.8 650.4h0.8v0.8h-0.8zM406.1 656.7h0.8v0.8h-0.8zM400.4 651.5h0.8v0.8h-0.8zM405.2 656.0h0.8v0.8h-0.8zM412.3 647.3h0.8v0.8h-0.8zM403.6 656.3h0.8v0.8h-0.8zM408.3 654.5h0.8v0.8h-0.8zM408.4 652.8h0.8v0.8h-0.8zM407.7 652.2h0.8v0.8h-0.8zM401.1 655.6h0.8v0.8h-0.8zM413.6 650.5h0.8v0.8h-0.8zM409.5 650.6h0.8v0.8h-0.8zM405.2 654.1h0.8v0.8h-0.8zM405.6 656.4h0.8v0.8h-0.8zM402.4 652.4h0.8v0.8h-0.8zM401.4 661.6h0.8v0.8h-0.8zM400.5 653.6h0.8v0.8h-0.8zM409.8 655.4h0.8v0.8h-0.8zM407.0 650.0h0.8v0.8h-0.8zM405.7 649.3h0.8v0.8h-0.8zM404.0 653.8h0.8v0.8h-0.8zM406.4 654.5h0.8v0.8h-0.8zM410.5 655.2h0.8v0.8h-0.8zM407.8 649.6h0.8v0.8h-0.8zM404.5 650.3h0.8v0.8h-0.8zM402.0 654.2h0.8v0.8h-0.8zM407.8 648.1h0.8v0.8h-0.8zM397.1 655.9h0.8v0.8h-0.8zM400.0 656.5h0.8v0.8h-0.8zM401.7 651.4h0.8v0.8h-0.8zM401.2 654.6h0.8v0.8h-0.8zM407.6 652.9h0.8v0.8h-0.8zM409.7 648.0h0.8v0.8h-0.8zM407.6 651.0h0.8v0.8h-0.8zM399.6 655.2h0.8v0.8h-0.8zM413.3 645.4h0.8v0.8h-0.8zM412.9 649.2h0.8v0.8h-0.8zM411.2 647.1h0.8v0.8h-0.8zM408.1 649.2h0.8v0.8h-0.8zM398.6 654.1h0.8v0.8h-0.8zM403.9 648.0h0.8v0.8h-0.8zM404.9 649.9h0.8v0.8h-0.8zM404.0 648.8h0.8v0.8h-0.8zM408.0 649.6h0.8v0.8h-0.8zM396.5 654.9h0.8v0.8h-0.8zM402.4 649.2h0.8v0.8h-0.8zM407.2 652.8h0.8v0.8h-0.8zM405.0 658.0h0.8v0.8h-0.8zM411.2 648.8h0.8v0.8h-0.8zM407.7 652.4h0.8v0.8h-0.8zM406.4 656.5h0.8v0.8h-0.8zM398.5 649.3h0.8v0.8h-0.8zM405.9 653.7h0.8v0.8h-0.8zM406.3 647.8h0.8v0.8h-0.8zM409.0 646.6h0.8v0.8h-0.8zM408.8 652.4h0.8v0.8h-0.8zM407.8 654.7h0.8v0.8h-0.8zM406.8 658.8h0.8v0.8h-0.8zM406.2 650.4h0.8v0.8h-0.8zM401.3 661.2h0.8v0.8h-0.8zM410.1 646.6h0.8v0.8h-0.8zM403.2 658.5h0.8v0.8h-0.8zM403.6 650.6h0.8v0.8h-0.8zM403.3 654.6h0.8v0.8h-0.8zM411.7 653.0h0.8v0.8h-0.8zM405.4 658.1h0.8v0.8h-0.8zM400.4 659.3h0.8v0.8h-0.8zM405.3 654.2h0.8v0.8h-0.8zM402.1 652.8h0.8v0.8h-0.8zM408.2 654.3h0.8v0.8h-0.8zM396.5 660.2h0.8v0.8h-0.8zM401.6 651.9h0.8v0.8h-0.8zM400.8 658.4h0.8v0.8h-0.8zM408.4 652.4h0.8v0.8h-0.8zM394.6 656.1h0.8v0.8h-0.8zM401.9 654.0h0.8v0.8h-0.8zM411.2 646.3h0.8v0.8h-0.8zM407.3 654.6h0.8v0.8h-0.8zM412.2 648.2h0.8v0.8h-0.8zM409.8 655.9h0.8v0.8h-0.8zM400.3 650.4h0.8v0.8h-0.8zM401.6 654.7h0.8v0.8h-0.8zM410.7 649.3h0.8v0.8h-0.8zM409.9 649.2h0.8v0.8h-0.8zM404.2 651.5h0.8v0.8h-0.8zM401.2 658.0h0.8v0.8h-0.8zM407.5 652.9h0.8v0.8h-0.8zM402.2 653.7h0.8v0.8h-0.8zM407.6 652.9h0.8v0.8h-0.8zM411.3 644.5h0.8v0.8h-0.8zM410.5 651.5h0.8v0.8h-0.8zM404.3 654.0h0.8v0.8h-0.8zM407.6 656.3h0.8v0.8h-0.8zM405.8 655.7h0.8v0.8h-0.8zM406.7 650.9h0.8v0.8h-0.8zM409.6 652.3h0.8v0.8h-0.8zM405.1 656.0h0.8v0.8h-0.8zM394.1 657.4h0.8v0.8h-0.8zM404.2 654.2h0.8v0.8h-0.8zM402.0 660.8h0.8v0.8h-0.8zM403.9 654.4h0.8v0.8h-0.8zM406.3 654.6h0.8v0.8h-0.8zM404.1 656.3h0.8v0.8h-0.8zM399.2 652.4h0.8v0.8h-0.8zM407.4 651.5h0.8v0.8h-0.8zM405.0 645.9h0.8v0.8h-0.8zM404.4 651.1h0.8v0.8h-0.8zM403.6 652.6h0.8v0.8h-0.8zM402.4 652.7h0.8v0.8h-0.8zM406.0 645.9h0.8v0.8h-0.8zM399.2 659.0h0.8v0.8h-0.8zM411.5 644.7h0.8v0.8h-0.8zM399.5 653.3h0.8v0.8h-0.8zM403.3 658.8h0.8v0.8h-0.8zM409.3 652.6h0.8v0.8h-0.8zM406.8 652.2h0.8v0.8h-0.8zM401.1 652.7h0.8v0.8h-0.8zM411.9 656.1h0.8v0.8h-0.8zM405.9 656.8h0.8v0.8h-0.8zM402.4 655.2h0.8v0.8h-0.8zM411.5 647.2h0.8v0.8h-0.8zM406.5 649.6h0.8v0.8h-0.8zM410.2 644.1h0.8v0.8h-0.8zM406.8 650.5h0.8v0.8h-0.8zM406.5 653.0h0.8v0.8h-0.8zM411.7 650.4h0.8v0.8h-0.8zM409.8 650.2h0.8v0.8h-0.8zM403.3 659.2h0.8v0.8h-0.8zM411.9 648.9h0.8v0.8h-0.8zM407.7 649.8h0.8v0.8h-0.8zM401.2 659.7h0.8v0.8h-0.8zM405.7 659.3h0.8v0.8h-0.8zM407.7 650.6h0.8v0.8h-0.8zM402.9 655.1h0.8v0.8h-0.8z" fill="#f42424"/>
<path d="M423.2 636.6h0.8v0.8h-0.8zM433.1 639.8h0.8v0.8h-0.8zM420.0 640.8h0.8v0.8h-0.8zM430.1 639.4h0.8v0.8h-0.8zM435.6 634.0h0.8v0.8h-0.8zM425.0 645.2h0.8v0.8h-0.8zM427.0 637.9h0.8v0.8h-0.8zM424.7 642.9h0.8v0.8h-0.8zM423.4 638.6h0.8v0.8h-0.8zM418.0 645.3h0.8v0.8h-0.8zM416.5 651.6h0.8v0.8h-0.8zM428.5 633.9h0.8v0.8h-0.8zM433.0 636.5h0.8v0.8h-0.8zM431.6 642.1h0.8v0.8h-0.8zM414.6 649.1h0.8v0.8h-0.8zM415.8 645.7h0.8v0.8h-0.8zM422.1 642.9h0.8v0.8h-0.8zM416.5 650.6h0.8v0.8h-0.8zM419.0 646.2h0.8v0.8h-0.8zM417.6 644.5h0.8v0.8h-0.8zM421.8 645.0h0.8v0.8h-0.8zM422.6 648.1h0.8v0.8h-0.8zM426.2 640.4h0.8v0.8h-0.8zM430.5 638.4h0.8v0.8h-0.8zM421.8 647.9h0.8v0.8h-0.8zM419.7 645.7h0.8v0.8h-0.8zM431.4 638.4h0.8v0.8h-0.8zM429.6 635.8h0.8v0.8h-0.8zM423.1 646.3h0.8v0.8h-0.8zM415.2 650.7h0.8v0.8h-0.8zM420.1 645.1h0.8v0.8h-0.8zM422.2 641.8h0.8v0.8h-0.8zM419.5 648.6h0.8v0.8h-0.8zM426.2 640.3h0.8v0.8h-0.8zM419.0 645.1h0.8v0.8h-0.8zM429.4 638.2h0.8v0.8h-0.8zM421.9 641.8h0.8v0.8h-0.8zM424.8 640.4h0.8v0.8h-0.8zM418.1 651.6h0.8v0.8h-0.8zM421.5 644.6h0.8v0.8h-0.8zM426.5 646.0h0.8v0.8h-0.8zM415.9 647.9h0.8v0.8h-0.8zM418.3 646.8h0.8v0.8h-0.8zM431.4 634.5h0.8v0.8h-0.8zM428.8 637.7h0.8v0.8h-0.8zM428.0 640.7h0.8v0.8h-0.8zM418.7 647.7h0.8v0.8h-0.8zM417.1 644.7h0.8v0.8h-0.8zM433.3 637.9h0.8v0.8h-0.8zM426.1 644.4h0.8v0.8h-0.8zM422.4 644.6h0.8v0.8h-0.8zM417.5 647.6h0.8v0.8h-0.8zM423.4 644.4h0.8v0.8h-0.8zM430.0 637.3h0.8v0.8h-0.8zM415.5 651.2h0.8v0.8h-0.8zM436.3 634.8h0.8v0.8h-0.8zM422.2 649.5h0.8v0.8h-0.8zM429.8 637.6h0.8v0.8h-0.8zM420.5 651.9h0.8v0.8h-0.8zM416.5 648.2h0.8v0.8h-0.8zM427.6 637.6h0.8v0.8h-0.8zM422.5 646.5h0.8v0.8h-0.8zM417.3 651.0h0.8v0.8h-0.8zM427.7 643.4h0.8v0.8h-0.8zM418.4 648.5h0.8v0.8h-0.8zM422.0 648.2h0.8v0.8h-0.8zM435.6 634.8h0.8v0.8h-0.8zM419.5 647.0h0.8v0.8h-0.8zM428.5 634.1h0.8v0.8h-0.8zM424.0 647.4h0.8v0.8h-0.8zM416.6 648.3h0.8v0.8h-0.8zM418.0 648.6h0.8v0.8h-0.8zM424.9 639.9h0.8v0.8h-0.8zM417.9 647.3h0.8v0.8h-0.8zM424.1 639.1h0.8v0.8h-0.8zM429.8 638.7h0.8v0.8h-0.8zM418.2 649.3h0.8v0.8h-0.8zM431.9 635.6h0.8v0.8h-0.8zM430.6 638.3h0.8v0.8h-0.8zM422.4 646.6h0.8v0.8h-0.8zM417.7 651.2h0.8v0.8h-0.8zM415.8 651.1h0.8v0.8h-0.8zM426.5 645.0h0.8v0.8h-0.8zM434.6 635.1h0.8v0.8h-0.8zM422.7 643.0h0.8v0.8h-0.8zM416.2 647.0h0.8v0.8h-0.8zM415.3 648.3h0.8v0.8h-0.8zM423.8 643.9h0.8v0.8h-0.8zM423.1 640.2h0.8v0.8h-0.8zM428.1 635.2h0.8v0.8h-0.8zM425.1 644.8h0.8v0.8h-0.8zM418.3 653.8h0.8v0.8h-0.8zM419.8 648.2h0.8v0.8h-0.8zM430.1 641.2h0.8v0.8h-0.8zM414.6 647.2h0.8v0.8h-0.8zM429.3 637.5h0.8v0.8h-0.8zM415.9 649.8h0.8v0.8h-0.8zM421.6 642.4h0.8v0.8h-0.8zM418.4 650.3h0.8v0.8h-0.8zM427.0 642.5h0.8v0.8h-0.8zM417.3 651.1h0.8v0.8h-0.8zM416.7 649.5h0.8v0.8h-0.8zM423.0 643.7h0.8v0.8h-0.8zM415.9 651.1h0.8v0.8h-0.8zM423.7 645.5h0.8v0.8h-0.8zM421.1 645.1h0.8v0.8h-0.8zM428.4 637.2h0.8v0.8h-0.8zM431.7 635.5h0.8v0.8h-0.8zM422.7 644.1h0.8v0.8h-0.8zM431.3 639.4h0.8v0.8h-0.8zM423.1 642.8h0.8v0.8h-0.8zM422.5 643.6h0.8v0.8h-0.8zM421.4 645.2h0.8v0.8h-0.8zM418.1 649.0h0.8v0.8h-0.8zM423.1 637.0h0.8v0.8h-0.8zM423.9 644.9h0.8v0.8h-0.8zM425.5 643.7h0.8v0.8h-0.8zM434.3 640.2h0.8v0.8h-0.8zM421.0 645.9h0.8v0.8h-0.8zM424.4 645.0h0.8v0.8h-0.8zM429.4 639.1h0.8v0.8h-0.8zM415.8 644.4h0.8v0.8h-0.8zM427.2 645.3h0.8v0.8h-0.8zM431.0 638.0h0.8v0.8h-0.8zM421.1 642.2h0.8v0.8h-0.8zM416.5 641.8h0.8v0.8h-0.8zM428.8 638.9h0.8v0.8h-0.8zM427.2 640.6h0.8v0.8h-0.8zM420.1 645.3h0.8v0.8h-0.8zM425.6 642.2h0.8v0.8h-0.8zM430.6 634.8h0.8v0.8h-0.8zM415.4 648.6h0.8v0.8h-0.8zM431.6 638.7h0.8v0.8h-0.8zM427.4 642.6h0.8v0.8h-0.8zM420.8 641.6h0.8v0.8h-0.8zM423.3 638.3h0.8v0.8h-0.8zM423.2 647.7h0.8v0.8h-0.8zM418.5 647.9h0.8v0.8h-0.8zM433.4 636.6h0.8v0.8h-0.8zM429.5 637.7h0.8v0.8h-0.8zM435.7 635.4h0.8v0.8h-0.8zM419.6 654.5h0.8v0.8h-0.8zM418.8 654.8h0.8v0.8h-0.8zM432.2 640.6h0.8v0.8h-0.8zM425.6 638.5h0.8v0.8h-0.8zM418.2 648.7h0.8v0.8h-0.8zM437.3 638.3h0.8v0.8h-0.8zM418.1 645.7h0.8v0.8h-0.8zM423.0 647.4h0.8v0.8h-0.8zM419.7 647.8h0.8v0.8h-0.8zM427.7 638.2h0.8v0.8h-0.8zM420.1 639.8h0.8v0.8h-0.8zM431.4 637.2h0.8v0.8h-0.8zM434.3 639.1h0.8v0.8h-0.8zM432.1 635.9h0.8v0.8h-0.8zM414.9 651.9h0.8v0.8h-0.8zM436.1 636.8h0.8v0.8h-0.8zM426.8 641.2h0.8v0.8h-0.8zM419.7 645.8h0.8v0.8h-0.8zM432.7 635.4h0.8v0.8h-0.8zM425.8 638.9h0.8v0.8h-0.8zM423.9 642.6h0.8v0.8h-0.8zM419.8 643.3h0.8v0.8h-0.8zM430.6 635.6h0.8v0.8h-0.8zM428.6 635.6h0.8v0.8h-0.8zM419.2 645.1h0.8v0.8h-0.8zM422.0 644.6h0.8v0.8h-0.8zM424.8 644.4h0.8v0.8h-0.8zM422.9 645.2h0.8v0.8h-0.8zM418.1 641.1h0.8v0.8h-0.8zM432.9 634.3h0.8v0.8h-0.8zM421.4 646.1h0.8v0.8h-0.8zM434.3 634.3h0.8v0.8h-0.8zM430.8 636.0h0.8v0.8h-0.8zM419.7 639.6h0.8v0.8h-0.8zM419.6 649.6h0.8v0.8h-0.8zM432.1 637.0h0.8v0.8h-0.8zM415.7 649.1h0.8v0.8h-0.8zM419.4 647.5h0.8v0.8h-0.8zM424.3 637.9h0.8v0.8h-0.8zM418.3 641.6h0.8v0.8h-0.8zM420.5 647.9h0.8v0.8h-0.8zM415.7 651.2h0.8v0.8h-0.8zM416.0 653.1h0.8v0.8h-0.8zM425.8 643.8h0.8v0.8h-0.8zM417.7 648.6h0.8v0.8h-0.8zM432.5 640.3h0.8v0.8h-0.8zM419.3 646.4h0.8v0.8h-0.8zM420.4 642.8h0.8v0.8h-0.8zM421.3 646.5h0.8v0.8h-0.8zM421.2 652.0h0.8v0.8h-0.8zM420.7 649.2h0.8v0.8h-0.8zM418.4 650.8h0.8v0.8h-0.8zM431.9 635.5h0.8v0.8h-0.8zM426.2 641.1h0.8v0.8h-0.8zM428.1 642.6h0.8v0.8h-0.8zM415.2 643.7h0.8v0.8h-0.8zM425.5 643.8h0.8v0.8h-0.8zM428.6 636.5h0.8v0.8h-0.8zM429.2 638.7h0.8v0.8h-0.8zM417.7 646.7h0.8v0.8h-0.8zM423.7 643.4h0.8v0.8h-0.8zM426.9 637.8h0.8v0.8h-0.8zM427.7 637.2h0.8v0.8h-0.8zM418.3 646.4h0.8v0.8h-0.8zM430.7 642.5h0.8v0.8h-0.8zM423.7 640.1h0.8v0.8h-0.8zM420.5 645.1h0.8v0.8h-0.8zM425.1 641.2h0.8v0.8h-0.8zM432.3 636.5h0.8v0.8h-0.8zM418.7 647.3h0.8v0.8h-0.8zM421.7 638.3h0.8v0.8h-0.8zM414.4 645.8h0.8v0.8h-0.8zM415.4 651.2h0.8v0.8h-0.8zM422.4 643.4h0.8v0.8h-0.8zM416.8 646.1h0.8v0.8h-0.8zM416.2 650.2h0.8v0.8h-0.8zM424.3 638.6h0.8v0.8h-0.8zM429.5 637.9h0.8v0.8h-0.8zM420.8 642.4h0.8v0.8h-0.8zM437.0 635.7h0.8v0.8h-0.8zM425.8 643.6h0.8v0.8h-0.8zM426.1 640.8h0.8v0.8h-0.8zM425.0 649.6h0.8v0.8h-0.8zM424.7 648.5h0.8v0.8h-0.8zM433.8 636.2h0.8v0.8h-0.8zM416.4 651.4h0.8v0.8h-0.8zM416.2 652.1h0.8v0.8h-0.8zM426.9 643.1h0.8v0.8h-0.8zM423.3 639.1h0.8v0.8h-0.8zM421.6 647.6h0.8v0.8h-0.8zM426.8 638.5h0.8v0.8h-0.8zM425.4 641.8h0.8v0.8h-0.8zM437.2 633.8h0.8v0.8h-0.8zM422.6 639.0h0.8v0.8h-0.8zM419.0 647.5h0.8v0.8h-0.8zM426.1 638.1h0.8v0.8h-0.8zM425.3 641.5h0.8v0.8h-0.8zM417.9 647.4h0.8v0.8h-0.8zM423.6 641.8h0.8v0.8h-0.8zM415.0 649.6h0.8v0.8h-0.8zM432.3 634.7h0.8v0.8h-0.8zM415.4 651.7h0.8v0.8h-0.8zM423.2 646.5h0.8v0.8h-0.8zM421.7 648.7h0.8v0.8h-0.8zM431.0 633.8h0.8v0.8h-0.8zM427.6 639.8h0.8v0.8h-0.8zM419.3 646.9h0.8v0.8h-0.8zM420.4 647.4h0.8v0.8h-0.8zM420.2 648.1h0.8v0.8h-0.8zM425.7 644.0h0.8v0.8h-0.8zM425.1 637.0h0.8v0.8h-0.8zM427.1 638.3h0.8v0.8h-0.8zM425.3 642.6h0.8v0.8h-0.8zM419.8 645.2h0.8v0.8h-0.8zM417.6 654.3h0.8v0.8h-0.8zM421.6 641.4h0.8v0.8h-0.8zM421.4 644.5h0.8v0.8h-0.8zM437.0 634.1h0.8v0.8h-0.8zM424.5 641.8h0.8v0.8h-0.8zM423.2 644.1h0.8v0.8h-0.8zM435.5 635.0h0.8v0.8h-0.8zM419.1 643.4h0.8v0.8h-0.8zM428.3 638.1h0.8v0.8h-0.8zM420.8 644.1h0.8v0.8h-0.8zM424.4 642.3h0.8v0.8h-0.8zM418.6 649.3h0.8v0.8h-0.8zM427.3 645.4h0.8v0.8h-0.8zM423.8 643.4h0.8v0.8h-0.8zM420.6 645.9h0.8v0.8h-0.8zM429.0 641.0h0.8v0.8h-0.8zM427.8 634.6h0.8v0.8h-0.8zM428.1 641.2h0.8v0.8h-0.8zM431.8 634.8h0.8v0.8h-0.8zM424.4 646.9h0.8v0.8h-0.8zM420.1 650.4h0.8v0.8h-0.8zM430.5 638.3h0.8v0.8h-0.8zM417.4 646.5h0.8v0.8h-0.8zM429.6 640.2h0.8v0.8h-0.8zM424.3 639.5h0.8v0.8h-0.8zM426.3 637.2h0.8v0.8h-0.8zM422.9 645.4h0.8v0.8h-0.8zM431.6 634.3h0.8v0.8h-0.8zM431.0 639.0h0.8v0.8h-0.8zM428.5 636.2h0.8v0.8h-0.8zM420.8 646.1h0.8v0.8h-0.8zM419.2 649.6h0.8v0.8h-0.8z" fill="#1fb585" opacity="0.85"/>
<path d="M429.9 615.7h0.6v0.6h-0.6zM438.6 621.4h0.6v0.6h-0.6zM432.4 618.8h0.6v0.6h-0.6zM426.1 616.2h0.6v0.6h-0.6zM431.3 616.6h0.6v0.6h-0.6zM433.6 612.6h0.6v0.6h-0.6zM428.3 623.0h0.6v0.6h-0.6zM425.6 617.2h0.6v0.6h-0.6zM435.3 618.4h0.6v0.6h-0.6zM432.6 612.4h0.6v0.6h-0.6zM430.6 612.6h0.6v0.6h-0.6zM440.2 618.0h0.6v0.6h-0.6zM435.3 617.6h0.6v0.6h-0.6zM430.9 620.3h0.6v0.6h-0.6zM435.9 618.8h0.6v0.6h-0.6zM434.7 619.1h0.6v0.6h-0.6zM431.3 618.2h0.6v0.6h-0.6zM432.7 616.3h0.6v0.6h-0.6zM435.0 623.0h0.6v0.6h-0.6zM424.4 621.1h0.6v0.6h-0.6zM430.7 620.4h0.6v0.6h-0.6zM428.4 616.5h0.6v0.6h-0.6zM436.4 616.8h0.6v0.6h-0.6zM433.8 613.6h0.6v0.6h-0.6zM427.9 621.7h0.6v0.6h-0.6zM433.0 616.8h0.6v0.6h-0.6zM427.0 614.1h0.6v0.6h-0.6zM428.3 616.9h0.6v0.6h-0.6zM432.0 615.3h0.6v0.6h-0.6zM429.8 617.3h0.6v0.6h-0.6zM437.0 613.0h0.6v0.6h-0.6zM426.8 620.2h0.6v0.6h-0.6zM426.8 615.8h0.6v0.6h-0.6zM432.9 622.1h0.6v0.6h-0.6zM424.4 608.8h0.6v0.6h-0.6zM432.1 620.0h0.6v0.6h-0.6zM433.0 614.7h0.6v0.6h-0.6zM433.2 611.2h0.6v0.6h-0.6zM435.6 621.2h0.6v0.6h-0.6zM431.6 619.3h0.6v0.6h-0.6zM428.2 621.2h0.6v0.6h-0.6zM429.9 614.7h0.6v0.6h-0.6zM429.4 612.0h0.6v0.6h-0.6zM435.1 622.7h0.6v0.6h-0.6zM426.8 616.4h0.6v0.6h-0.6zM434.2 615.4h0.6v0.6h-0.6zM426.2 617.9h0.6v0.6h-0.6zM436.4 617.3h0.6v0.6h-0.6zM428.2 616.2h0.6v0.6h-0.6zM424.8 616.8h0.6v0.6h-0.6zM437.2 620.1h0.6v0.6h-0.6zM432.1 618.2h0.6v0.6h-0.6zM430.4 617.4h0.6v0.6h-0.6zM430.1 617.5h0.6v0.6h-0.6zM430.4 617.6h0.6v0.6h-0.6zM435.1 616.9h0.6v0.6h-0.6zM427.3 618.4h0.6v0.6h-0.6zM431.4 615.6h0.6v0.6h-0.6zM434.6 614.6h0.6v0.6h-0.6zM436.1 618.6h0.6v0.6h-0.6z" fill="#3442e8" opacity="0.85"/>
<path d="M422.9 614.4h0.6v0.6h-0.6zM428.8 613.0h0.6v0.6h-0.6zM439.8 604.1h0.6v0.6h-0.6zM431.5 616.7h0.6v0.6h-0.6zM418.7 623.2h0.6v0.6h-0.6zM425.0 622.0h0.6v0.6h-0.6zM425.5 617.1h0.6v0.6h-0.6zM435.4 625.3h0.6v0.6h-0.6zM440.3 618.9h0.6v0.6h-0.6zM445.3 616.8h0.6v0.6h-0.6zM415.9 606.7h0.6v0.6h-0.6zM415.1 613.3h0.6v0.6h-0.6zM430.3 618.8h0.6v0.6h-0.6zM432.5 618.3h0.6v0.6h-0.6zM427.4 616.9h0.6v0.6h-0.6zM430.4 611.6h0.6v0.6h-0.6zM443.2 629.2h0.6v0.6h-0.6zM420.0 625.0h0.6v0.6h-0.6zM422.3 625.7h0.6v0.6h-0.6zM431.2 625.3h0.6v0.6h-0.6zM436.3 622.5h0.6v0.6h-0.6zM427.2 629.5h0.6v0.6h-0.6zM433.7 622.2h0.6v0.6h-0.6zM444.8 617.3h0.6v0.6h-0.6zM448.0 626.2h0.6v0.6h-0.6zM430.8 609.4h0.6v0.6h-0.6zM442.6 617.0h0.6v0.6h-0.6zM431.0 619.8h0.6v0.6h-0.6zM439.9 623.2h0.6v0.6h-0.6zM433.6 620.2h0.6v0.6h-0.6zM438.2 622.8h0.6v0.6h-0.6zM446.8 614.2h0.6v0.6h-0.6zM443.5 621.5h0.6v0.6h-0.6zM433.1 623.5h0.6v0.6h-0.6zM426.6 623.7h0.6v0.6h-0.6zM427.9 623.8h0.6v0.6h-0.6zM422.2 626.8h0.6v0.6h-0.6zM429.5 620.6h0.6v0.6h-0.6zM421.8 616.4h0.6v0.6h-0.6zM432.7 626.0h0.6v0.6h-0.6zM443.4 615.9h0.6v0.6h-0.6zM429.4 616.9h0.6v0.6h-0.6zM441.7 610.1h0.6v0.6h-0.6zM459.6 625.5h0.6v0.6h-0.6zM447.9 620.2h0.6v0.6h-0.6zM446.5 615.2h0.6v0.6h-0.6zM443.1 624.0h0.6v0.6h-0.6zM438.1 624.0h0.6v0.6h-0.6zM436.1 623.3h0.6v0.6h-0.6zM442.4 621.8h0.6v0.6h-0.6zM436.6 621.9h0.6v0.6h-0.6zM431.5 613.3h0.6v0.6h-0.6zM417.3 609.2h0.6v0.6h-0.6zM437.2 616.8h0.6v0.6h-0.6zM438.0 615.9h0.6v0.6h-0.6zM434.0 617.7h0.6v0.6h-0.6zM433.0 632.8h0.6v0.6h-0.6zM446.6 627.5h0.6v0.6h-0.6zM433.0 630.8h0.6v0.6h-0.6zM438.6 624.9h0.6v0.6h-0.6zM418.0 615.0h0.6v0.6h-0.6zM431.8 617.6h0.6v0.6h-0.6zM424.7 605.8h0.6v0.6h-0.6zM422.4 618.3h0.6v0.6h-0.6zM433.3 611.9h0.6v0.6h-0.6zM428.7 631.0h0.6v0.6h-0.6zM431.7 606.0h0.6v0.6h-0.6zM428.2 619.0h0.6v0.6h-0.6zM443.2 620.3h0.6v0.6h-0.6zM444.3 621.2h0.6v0.6h-0.6zM442.2 628.0h0.6v0.6h-0.6zM445.9 620.3h0.6v0.6h-0.6zM417.5 620.3h0.6v0.6h-0.6zM435.0 614.4h0.6v0.6h-0.6zM438.6 618.0h0.6v0.6h-0.6zM438.3 620.3h0.6v0.6h-0.6zM420.5 626.0h0.6v0.6h-0.6zM450.8 625.2h0.6v0.6h-0.6zM433.0 607.6h0.6v0.6h-0.6zM433.4 618.8h0.6v0.6h-0.6zM421.9 606.3h0.6v0.6h-0.6zM434.7 625.5h0.6v0.6h-0.6zM429.8 628.5h0.6v0.6h-0.6zM429.8 612.6h0.6v0.6h-0.6zM429.5 621.9h0.6v0.6h-0.6zM422.5 613.8h0.6v0.6h-0.6zM432.8 624.9h0.6v0.6h-0.6zM427.7 622.3h0.6v0.6h-0.6zM424.9 616.8h0.6v0.6h-0.6zM432.1 625.5h0.6v0.6h-0.6zM446.5 618.2h0.6v0.6h-0.6zM434.7 632.1h0.6v0.6h-0.6zM438.7 616.6h0.6v0.6h-0.6zM434.3 609.6h0.6v0.6h-0.6zM422.8 610.1h0.6v0.6h-0.6zM440.7 616.0h0.6v0.6h-0.6zM431.0 619.5h0.6v0.6h-0.6zM428.0 611.2h0.6v0.6h-0.6zM450.0 605.8h0.6v0.6h-0.6zM429.8 623.7h0.6v0.6h-0.6zM428.0 618.4h0.6v0.6h-0.6zM433.3 620.6h0.6v0.6h-0.6zM426.7 626.2h0.6v0.6h-0.6zM435.3 629.1h0.6v0.6h-0.6zM431.1 605.8h0.6v0.6h-0.6zM434.8 608.2h0.6v0.6h-0.6zM424.4 627.4h0.6v0.6h-0.6zM433.6 614.3h0.6v0.6h-0.6zM429.0 619.8h0.6v0.6h-0.6zM425.8 617.0h0.6v0.6h-0.6zM423.6 620.5h0.6v0.6h-0.6zM446.4 628.7h0.6v0.6h-0.6zM428.9 609.7h0.6v0.6h-0.6zM414.9 620.0h0.6v0.6h-0.6zM432.5 614.8h0.6v0.6h-0.6zM421.9 617.6h0.6v0.6h-0.6zM432.8 623.5h0.6v0.6h-0.6zM435.9 603.2h0.6v0.6h-0.6zM424.1 620.8h0.6v0.6h-0.6zM434.0 624.4h0.6v0.6h-0.6zM414.9 629.5h0.6v0.6h-0.6zM418.0 617.7h0.6v0.6h-0.6zM425.4 615.9h0.6v0.6h-0.6zM422.2 624.5h0.6v0.6h-0.6zM438.2 621.4h0.6v0.6h-0.6zM417.2 614.9h0.6v0.6h-0.6zM429.6 621.7h0.6v0.6h-0.6zM424.5 617.3h0.6v0.6h-0.6zM457.0 619.5h0.6v0.6h-0.6zM427.1 602.7h0.6v0.6h-0.6zM422.5 629.9h0.6v0.6h-0.6zM438.8 611.1h0.6v0.6h-0.6zM438.2 620.2h0.6v0.6h-0.6zM422.1 624.3h0.6v0.6h-0.6zM424.0 617.0h0.6v0.6h-0.6zM430.4 620.5h0.6v0.6h-0.6zM425.7 621.0h0.6v0.6h-0.6zM430.2 620.3h0.6v0.6h-0.6zM434.2 614.8h0.6v0.6h-0.6zM416.2 618.6h0.6v0.6h-0.6zM442.8 621.2h0.6v0.6h-0.6zM432.5 614.1h0.6v0.6h-0.6zM418.5 610.8h0.6v0.6h-0.6zM420.8 616.6h0.6v0.6h-0.6zM414.5 618.2h0.6v0.6h-0.6zM429.9 607.3h0.6v0.6h-0.6zM424.6 620.6h0.6v0.6h-0.6zM434.1 624.2h0.6v0.6h-0.6zM426.6 618.1h0.6v0.6h-0.6zM427.8 622.7h0.6v0.6h-0.6zM423.1 618.0h0.6v0.6h-0.6zM431.7 616.7h0.6v0.6h-0.6zM419.2 628.1h0.6v0.6h-0.6zM435.3 613.0h0.6v0.6h-0.6z" fill="#3442e8" opacity="0.5"/>
<path d="M412.6 619.9h0.6v0.6h-0.6zM396.5 618.3h0.6v0.6h-0.6zM393.0 619.5h0.6v0.6h-0.6zM404.9 618.6h0.6v0.6h-0.6zM394.0 620.4h0.6v0.6h-0.6zM398.3 621.2h0.6v0.6h-0.6zM389.6 621.4h0.6v0.6h-0.6zM398.2 621.4h0.6v0.6h-0.6zM408.3 618.8h0.6v0.6h-0.6zM396.9 619.4h0.6v0.6h-0.6zM403.6 619.1h0.6v0.6h-0.6zM396.4 618.7h0.6v0.6h-0.6zM413.6 617.3h0.6v0.6h-0.6zM394.0 621.6h0.6v0.6h-0.6zM406.1 619.4h0.6v0.6h-0.6zM409.8 619.4h0.6v0.6h-0.6zM400.4 619.8h0.6v0.6h-0.6zM395.3 620.1h0.6v0.6h-0.6zM389.2 620.5h0.6v0.6h-0.6zM399.1 619.6h0.6v0.6h-0.6zM390.5 620.1h0.6v0.6h-0.6zM406.2 618.2h0.6v0.6h-0.6zM408.9 617.8h0.6v0.6h-0.6zM389.0 617.1h0.6v0.6h-0.6zM389.5 621.5h0.6v0.6h-0.6zM391.8 618.5h0.6v0.6h-0.6zM389.8 620.1h0.6v0.6h-0.6zM409.9 619.2h0.6v0.6h-0.6zM398.7 617.6h0.6v0.6h-0.6zM402.4 617.4h0.6v0.6h-0.6zM396.3 619.5h0.6v0.6h-0.6zM409.1 617.8h0.6v0.6h-0.6zM403.2 619.0h0.6v0.6h-0.6zM408.2 617.6h0.6v0.6h-0.6zM402.1 619.2h0.6v0.6h-0.6zM406.0 620.2h0.6v0.6h-0.6zM398.8 622.0h0.6v0.6h-0.6zM398.8 617.0h0.6v0.6h-0.6zM392.4 619.5h0.6v0.6h-0.6zM392.8 619.5h0.6v0.6h-0.6zM399.3 619.4h0.6v0.6h-0.6zM391.4 620.2h0.6v0.6h-0.6zM411.4 619.9h0.6v0.6h-0.6zM403.9 618.7h0.6v0.6h-0.6zM401.4 621.2h0.6v0.6h-0.6zM387.9 618.0h0.6v0.6h-0.6zM409.0 619.6h0.6v0.6h-0.6zM413.2 620.2h0.6v0.6h-0.6zM397.9 619.6h0.6v0.6h-0.6zM399.6 620.0h0.6v0.6h-0.6zM402.0 617.8h0.6v0.6h-0.6zM407.8 620.1h0.6v0.6h-0.6zM401.6 617.9h0.6v0.6h-0.6zM390.6 619.2h0.6v0.6h-0.6zM408.1 619.5h0.6v0.6h-0.6zM405.5 620.2h0.6v0.6h-0.6zM410.8 620.1h0.6v0.6h-0.6zM410.0 617.8h0.6v0.6h-0.6zM401.9 620.1h0.6v0.6h-0.6z" fill="#f42424" opacity="0.5"/>
<path d="M381.5 627.3h0.6v0.6h-0.6zM406.8 615.2h0.6v0.6h-0.6zM401.3 622.0h0.6v0.6h-0.6zM404.3 620.7h0.6v0.6h-0.6zM397.3 627.4h0.6v0.6h-0.6zM394.1 623.6h0.6v0.6h-0.6zM402.4 621.6h0.6v0.6h-0.6zM404.0 624.0h0.6v0.6h-0.6zM403.7 615.6h0.6v0.6h-0.6zM391.2 623.2h0.6v0.6h-0.6zM406.0 627.5h0.6v0.6h-0.6zM398.2 619.2h0.6v0.6h-0.6zM390.8 614.6h0.6v0.6h-0.6zM394.8 624.2h0.6v0.6h-0.6zM397.7 616.4h0.6v0.6h-0.6zM397.5 622.2h0.6v0.6h-0.6zM393.1 627.6h0.6v0.6h-0.6zM401.1 626.2h0.6v0.6h-0.6zM398.8 618.3h0.6v0.6h-0.6zM405.4 626.3h0.6v0.6h-0.6zM394.2 617.0h0.6v0.6h-0.6zM403.6 619.9h0.6v0.6h-0.6zM390.3 621.7h0.6v0.6h-0.6zM401.9 619.2h0.6v0.6h-0.6zM398.4 625.8h0.6v0.6h-0.6zM403.2 616.1h0.6v0.6h-0.6zM403.0 628.8h0.6v0.6h-0.6zM404.3 621.7h0.6v0.6h-0.6zM400.6 616.0h0.6v0.6h-0.6zM394.2 620.1h0.6v0.6h-0.6z" fill="#f42424" opacity="0.35"/>
</g>
<line x1="414.2" y1="603.5" x2="414.2" y2="664.3" stroke="#505050" stroke-width="0.7"/>
<line x1="384.1" y1="633.5" x2="445.90000000000003" y2="633.5" stroke="#505050" stroke-width="0.7"/>
<line x1="382.90000000000003" y1="606.2" x2="384.1" y2="606.2" stroke="#555" stroke-width="0.5"/>
<text x="382.5" y="607.9" font-size="4.4" fill="#222" text-anchor="end">10<tspan font-size="3.2" dy="-1.7">3</tspan></text>
<line x1="382.90000000000003" y1="620.4484751203853" x2="384.1" y2="620.4484751203853" stroke="#555" stroke-width="0.5"/>
<text x="382.5" y="622.1" font-size="4.4" fill="#222" text-anchor="end">10<tspan font-size="3.2" dy="-1.7">2</tspan></text>
<line x1="382.90000000000003" y1="634.6969502407705" x2="384.1" y2="634.6969502407705" stroke="#555" stroke-width="0.5"/>
<text x="382.5" y="636.4" font-size="4.4" fill="#222" text-anchor="end">10<tspan font-size="3.2" dy="-1.7">1</tspan></text>
<line x1="382.90000000000003" y1="648.9454253611557" x2="384.1" y2="648.9454253611557" stroke="#555" stroke-width="0.5"/>
<text x="382.5" y="650.6" font-size="4.4" fill="#222" text-anchor="end">10<tspan font-size="3.2" dy="-1.7">0</tspan></text>
<line x1="382.90000000000003" y1="663.1939004815409" x2="384.1" y2="663.1939004815409" stroke="#555" stroke-width="0.5"/>
<text x="381.9" y="664.9" font-size="4.4" fill="#222" text-anchor="end">10<tspan font-size="3.2" dy="-1.7">-1</tspan></text>
<line x1="387.8" y1="664.3" x2="387.8" y2="665.5" stroke="#555" stroke-width="0.5"/>
<text x="386.8" y="670.9" font-size="4.4" fill="#222" text-anchor="middle">10<tspan font-size="3.2" dy="-1.7">-1</tspan></text>
<line x1="401.2" y1="664.3" x2="401.2" y2="665.5" stroke="#555" stroke-width="0.5"/>
<text x="400.2" y="670.9" font-size="4.4" fill="#222" text-anchor="middle">10<tspan font-size="3.2" dy="-1.7">0</tspan></text>
<line x1="414.6" y1="664.3" x2="414.6" y2="665.5" stroke="#555" stroke-width="0.5"/>
<text x="413.6" y="670.9" font-size="4.4" fill="#222" text-anchor="middle">10<tspan font-size="3.2" dy="-1.7">1</tspan></text>
<line x1="428.0" y1="664.3" x2="428.0" y2="665.5" stroke="#555" stroke-width="0.5"/>
<text x="427.0" y="670.9" font-size="4.4" fill="#222" text-anchor="middle">10<tspan font-size="3.2" dy="-1.7">2</tspan></text>
<line x1="441.40000000000003" y1="664.3" x2="441.40000000000003" y2="665.5" stroke="#555" stroke-width="0.5"/>
<text x="440.4" y="670.9" font-size="4.4" fill="#222" text-anchor="middle">10<tspan font-size="3.2" dy="-1.7">3</tspan></text>
<text x="385.90000000000003" y="610.1" font-size="4.5" fill="#222">5.56</text>
<text x="441.40000000000003" y="610.1" font-size="4.5" fill="#222" text-anchor="end">15.0</text>
<text x="385.90000000000003" y="660.6999999999999" font-size="4.5" fill="#222">64.5</text>
<text x="441.40000000000003" y="660.6999999999999" font-size="4.5" fill="#222" text-anchor="end">15.0</text>
<rect x="457.8" y="603.5" width="61.8" height="60.8" fill="#fff" stroke="#a8a8a8" stroke-width="0.6"/>
<clipPath id="kc13"><rect x="457.8" y="603.5" width="61.8" height="60.8"/></clipPath>
<g clip-path="url(#kc13)">
<path d="M476.7 665.1h0.7v0.7h-0.7zM477.9 637.5h0.7v0.7h-0.7zM468.5 645.1h0.7v0.7h-0.7zM474.2 635.7h0.7v0.7h-0.7zM484.2 636.9h0.7v0.7h-0.7zM477.9 667.5h0.7v0.7h-0.7zM481.2 650.7h0.7v0.7h-0.7zM478.0 642.6h0.7v0.7h-0.7zM480.9 645.9h0.7v0.7h-0.7zM480.7 650.2h0.7v0.7h-0.7zM480.3 638.4h0.7v0.7h-0.7zM470.0 662.5h0.7v0.7h-0.7zM478.0 656.0h0.7v0.7h-0.7zM468.9 658.9h0.7v0.7h-0.7zM466.0 661.6h0.7v0.7h-0.7zM476.8 659.0h0.7v0.7h-0.7zM481.0 639.8h0.7v0.7h-0.7zM467.3 644.7h0.7v0.7h-0.7zM472.5 658.7h0.7v0.7h-0.7zM462.1 661.5h0.7v0.7h-0.7zM461.8 667.3h0.7v0.7h-0.7zM463.4 644.5h0.7v0.7h-0.7zM472.2 660.2h0.7v0.7h-0.7zM479.0 655.3h0.7v0.7h-0.7zM477.0 656.6h0.7v0.7h-0.7zM466.3 652.6h0.7v0.7h-0.7zM468.5 644.6h0.7v0.7h-0.7zM483.4 644.1h0.7v0.7h-0.7zM466.7 653.2h0.7v0.7h-0.7zM470.6 657.7h0.7v0.7h-0.7zM477.4 658.0h0.7v0.7h-0.7zM468.7 657.8h0.7v0.7h-0.7zM464.8 657.9h0.7v0.7h-0.7zM484.7 644.0h0.7v0.7h-0.7zM481.9 646.8h0.7v0.7h-0.7zM465.9 653.7h0.7v0.7h-0.7zM470.5 659.6h0.7v0.7h-0.7zM470.5 657.8h0.7v0.7h-0.7zM479.8 667.9h0.7v0.7h-0.7zM476.3 661.3h0.7v0.7h-0.7zM470.7 662.8h0.7v0.7h-0.7zM466.6 656.4h0.7v0.7h-0.7zM478.0 651.7h0.7v0.7h-0.7zM475.7 652.0h0.7v0.7h-0.7zM470.4 656.1h0.7v0.7h-0.7zM472.2 647.9h0.7v0.7h-0.7zM480.7 649.7h0.7v0.7h-0.7zM476.6 662.1h0.7v0.7h-0.7zM465.2 646.1h0.7v0.7h-0.7zM483.0 643.3h0.7v0.7h-0.7zM475.0 662.0h0.7v0.7h-0.7zM483.0 653.8h0.7v0.7h-0.7zM482.8 659.1h0.7v0.7h-0.7zM481.0 645.3h0.7v0.7h-0.7zM466.5 659.9h0.7v0.7h-0.7zM472.9 646.9h0.7v0.7h-0.7zM481.0 660.0h0.7v0.7h-0.7zM477.8 659.8h0.7v0.7h-0.7zM466.5 652.4h0.7v0.7h-0.7zM481.7 646.1h0.7v0.7h-0.7zM481.8 655.6h0.7v0.7h-0.7zM482.0 637.3h0.7v0.7h-0.7zM481.0 649.9h0.7v0.7h-0.7zM484.4 659.6h0.7v0.7h-0.7zM472.4 650.5h0.7v0.7h-0.7zM471.6 639.7h0.7v0.7h-0.7zM475.2 645.8h0.7v0.7h-0.7zM475.5 646.7h0.7v0.7h-0.7zM478.6 648.0h0.7v0.7h-0.7zM473.9 658.4h0.7v0.7h-0.7zM474.8 640.3h0.7v0.7h-0.7zM467.0 657.7h0.7v0.7h-0.7zM479.1 660.3h0.7v0.7h-0.7zM482.1 644.5h0.7v0.7h-0.7zM468.7 660.8h0.7v0.7h-0.7zM471.4 669.2h0.7v0.7h-0.7zM482.6 656.1h0.7v0.7h-0.7zM465.8 647.8h0.7v0.7h-0.7zM477.0 655.4h0.7v0.7h-0.7zM472.9 650.7h0.7v0.7h-0.7zM476.1 650.6h0.7v0.7h-0.7zM480.1 638.3h0.7v0.7h-0.7zM461.7 663.5h0.7v0.7h-0.7zM472.0 643.3h0.7v0.7h-0.7zM477.8 654.3h0.7v0.7h-0.7zM479.7 651.6h0.7v0.7h-0.7zM465.7 649.2h0.7v0.7h-0.7zM481.1 645.1h0.7v0.7h-0.7zM473.6 666.7h0.7v0.7h-0.7zM470.0 634.7h0.7v0.7h-0.7zM469.7 665.2h0.7v0.7h-0.7zM483.4 656.1h0.7v0.7h-0.7zM469.8 644.0h0.7v0.7h-0.7zM473.5 650.8h0.7v0.7h-0.7zM477.4 649.5h0.7v0.7h-0.7zM475.1 643.2h0.7v0.7h-0.7zM470.7 652.5h0.7v0.7h-0.7zM472.2 641.7h0.7v0.7h-0.7zM485.8 663.2h0.7v0.7h-0.7zM468.8 666.6h0.7v0.7h-0.7zM480.9 656.1h0.7v0.7h-0.7zM477.7 652.9h0.7v0.7h-0.7zM480.5 652.2h0.7v0.7h-0.7zM468.0 657.9h0.7v0.7h-0.7zM467.1 652.1h0.7v0.7h-0.7zM479.4 657.9h0.7v0.7h-0.7zM479.9 644.2h0.7v0.7h-0.7zM460.8 664.6h0.7v0.7h-0.7zM470.3 666.6h0.7v0.7h-0.7zM482.4 651.4h0.7v0.7h-0.7zM481.0 638.7h0.7v0.7h-0.7zM472.9 654.8h0.7v0.7h-0.7zM460.8 662.7h0.7v0.7h-0.7zM475.9 651.8h0.7v0.7h-0.7zM474.5 652.5h0.7v0.7h-0.7zM468.4 647.1h0.7v0.7h-0.7zM483.6 646.0h0.7v0.7h-0.7zM478.8 650.2h0.7v0.7h-0.7zM464.9 648.6h0.7v0.7h-0.7zM476.5 656.0h0.7v0.7h-0.7zM478.4 656.1h0.7v0.7h-0.7zM470.0 654.9h0.7v0.7h-0.7zM476.8 650.7h0.7v0.7h-0.7zM483.1 657.8h0.7v0.7h-0.7zM474.1 654.9h0.7v0.7h-0.7zM474.2 658.1h0.7v0.7h-0.7zM474.8 647.3h0.7v0.7h-0.7zM465.0 651.8h0.7v0.7h-0.7zM475.0 654.2h0.7v0.7h-0.7zM472.6 654.1h0.7v0.7h-0.7zM478.0 652.3h0.7v0.7h-0.7zM478.5 646.0h0.7v0.7h-0.7zM475.8 658.6h0.7v0.7h-0.7zM469.8 652.1h0.7v0.7h-0.7zM467.8 661.5h0.7v0.7h-0.7zM477.8 655.1h0.7v0.7h-0.7zM465.7 650.8h0.7v0.7h-0.7zM483.5 646.1h0.7v0.7h-0.7zM476.8 642.3h0.7v0.7h-0.7zM457.8 647.0h0.7v0.7h-0.7zM482.1 655.0h0.7v0.7h-0.7zM460.1 656.7h0.7v0.7h-0.7zM469.7 651.1h0.7v0.7h-0.7zM471.7 649.3h0.7v0.7h-0.7zM466.6 659.8h0.7v0.7h-0.7zM474.0 647.7h0.7v0.7h-0.7zM471.3 645.7h0.7v0.7h-0.7zM472.8 652.2h0.7v0.7h-0.7zM473.0 654.1h0.7v0.7h-0.7zM462.7 652.5h0.7v0.7h-0.7zM473.8 660.0h0.7v0.7h-0.7zM466.4 652.7h0.7v0.7h-0.7zM470.2 649.9h0.7v0.7h-0.7zM484.3 658.1h0.7v0.7h-0.7zM461.8 650.5h0.7v0.7h-0.7zM485.1 648.0h0.7v0.7h-0.7zM476.1 658.6h0.7v0.7h-0.7zM483.4 661.8h0.7v0.7h-0.7zM469.4 660.6h0.7v0.7h-0.7zM486.1 650.9h0.7v0.7h-0.7zM472.3 652.1h0.7v0.7h-0.7zM476.1 657.6h0.7v0.7h-0.7zM473.1 653.5h0.7v0.7h-0.7zM482.4 645.9h0.7v0.7h-0.7zM477.3 650.1h0.7v0.7h-0.7zM467.4 641.4h0.7v0.7h-0.7zM471.6 658.8h0.7v0.7h-0.7zM469.6 652.6h0.7v0.7h-0.7zM485.7 662.6h0.7v0.7h-0.7zM467.5 651.6h0.7v0.7h-0.7zM466.4 663.9h0.7v0.7h-0.7zM472.5 648.3h0.7v0.7h-0.7zM477.5 658.9h0.7v0.7h-0.7zM484.3 648.2h0.7v0.7h-0.7zM476.4 658.3h0.7v0.7h-0.7zM480.3 654.8h0.7v0.7h-0.7zM469.5 660.6h0.7v0.7h-0.7zM478.4 668.9h0.7v0.7h-0.7zM471.4 653.1h0.7v0.7h-0.7zM475.9 651.9h0.7v0.7h-0.7zM482.1 655.7h0.7v0.7h-0.7zM482.2 639.2h0.7v0.7h-0.7zM472.9 644.0h0.7v0.7h-0.7zM485.0 656.0h0.7v0.7h-0.7zM471.7 653.5h0.7v0.7h-0.7zM485.7 647.6h0.7v0.7h-0.7zM479.6 645.5h0.7v0.7h-0.7zM472.7 652.0h0.7v0.7h-0.7zM480.4 636.4h0.7v0.7h-0.7zM479.1 662.2h0.7v0.7h-0.7zM471.4 647.2h0.7v0.7h-0.7zM476.9 649.7h0.7v0.7h-0.7zM477.4 655.0h0.7v0.7h-0.7zM475.4 640.6h0.7v0.7h-0.7zM483.5 658.0h0.7v0.7h-0.7zM467.1 658.9h0.7v0.7h-0.7zM471.3 661.5h0.7v0.7h-0.7zM469.4 655.0h0.7v0.7h-0.7zM475.3 656.4h0.7v0.7h-0.7zM462.1 652.5h0.7v0.7h-0.7zM482.8 657.5h0.7v0.7h-0.7zM474.6 656.7h0.7v0.7h-0.7zM478.3 651.1h0.7v0.7h-0.7zM473.9 649.5h0.7v0.7h-0.7zM479.4 659.1h0.7v0.7h-0.7zM484.2 655.7h0.7v0.7h-0.7zM471.9 656.5h0.7v0.7h-0.7zM466.7 649.2h0.7v0.7h-0.7zM480.9 645.8h0.7v0.7h-0.7zM472.1 643.9h0.7v0.7h-0.7zM474.1 652.8h0.7v0.7h-0.7zM477.7 659.0h0.7v0.7h-0.7zM479.7 650.2h0.7v0.7h-0.7zM475.9 648.6h0.7v0.7h-0.7zM470.5 654.5h0.7v0.7h-0.7zM468.9 656.8h0.7v0.7h-0.7zM480.0 658.0h0.7v0.7h-0.7zM483.1 666.0h0.7v0.7h-0.7z" fill="#f42424" opacity="0.45"/>
<ellipse cx="476.2" cy="652" rx="8.6" ry="5.6" fill="#f42424" opacity="0.85" filter="url(#b1)" transform="rotate(-40 476.2 652)"/>
<path d="M474.4 654.1h0.8v0.8h-0.8zM474.7 650.5h0.8v0.8h-0.8zM471.9 647.5h0.8v0.8h-0.8zM479.4 646.7h0.8v0.8h-0.8zM472.0 647.2h0.8v0.8h-0.8zM475.6 646.6h0.8v0.8h-0.8zM479.3 644.6h0.8v0.8h-0.8zM474.7 656.3h0.8v0.8h-0.8zM476.9 642.3h0.8v0.8h-0.8zM473.0 662.1h0.8v0.8h-0.8zM474.5 646.4h0.8v0.8h-0.8zM476.0 655.4h0.8v0.8h-0.8zM478.0 657.4h0.8v0.8h-0.8zM473.7 654.9h0.8v0.8h-0.8zM484.2 652.1h0.8v0.8h-0.8zM478.5 652.8h0.8v0.8h-0.8zM474.7 653.0h0.8v0.8h-0.8zM474.7 655.0h0.8v0.8h-0.8zM477.3 646.4h0.8v0.8h-0.8zM471.6 656.1h0.8v0.8h-0.8zM484.8 645.8h0.8v0.8h-0.8zM476.6 651.5h0.8v0.8h-0.8zM467.8 655.8h0.8v0.8h-0.8zM477.5 641.2h0.8v0.8h-0.8zM480.7 642.7h0.8v0.8h-0.8zM481.9 646.6h0.8v0.8h-0.8zM477.3 648.5h0.8v0.8h-0.8zM474.8 654.1h0.8v0.8h-0.8zM464.7 664.2h0.8v0.8h-0.8zM472.4 650.1h0.8v0.8h-0.8zM476.5 654.7h0.8v0.8h-0.8zM473.9 655.6h0.8v0.8h-0.8zM470.9 656.8h0.8v0.8h-0.8zM473.3 658.0h0.8v0.8h-0.8zM473.4 657.2h0.8v0.8h-0.8zM468.5 659.2h0.8v0.8h-0.8zM478.7 646.1h0.8v0.8h-0.8zM474.4 649.5h0.8v0.8h-0.8zM479.8 652.4h0.8v0.8h-0.8zM483.8 651.7h0.8v0.8h-0.8zM479.8 645.6h0.8v0.8h-0.8zM477.8 653.1h0.8v0.8h-0.8zM473.9 647.8h0.8v0.8h-0.8zM470.5 644.8h0.8v0.8h-0.8zM483.1 645.3h0.8v0.8h-0.8zM482.9 641.5h0.8v0.8h-0.8zM480.1 652.4h0.8v0.8h-0.8zM469.6 656.0h0.8v0.8h-0.8zM479.6 652.2h0.8v0.8h-0.8zM471.8 643.6h0.8v0.8h-0.8zM467.4 661.1h0.8v0.8h-0.8zM479.1 642.4h0.8v0.8h-0.8zM479.9 653.2h0.8v0.8h-0.8zM468.6 651.0h0.8v0.8h-0.8zM476.2 649.9h0.8v0.8h-0.8zM475.3 651.8h0.8v0.8h-0.8zM476.4 653.3h0.8v0.8h-0.8zM473.9 653.7h0.8v0.8h-0.8zM471.9 651.6h0.8v0.8h-0.8zM475.7 648.6h0.8v0.8h-0.8zM478.2 650.1h0.8v0.8h-0.8zM481.9 650.0h0.8v0.8h-0.8zM468.0 658.7h0.8v0.8h-0.8zM479.1 650.1h0.8v0.8h-0.8zM478.8 654.8h0.8v0.8h-0.8zM475.8 646.1h0.8v0.8h-0.8zM478.8 654.4h0.8v0.8h-0.8zM473.8 648.0h0.8v0.8h-0.8zM480.7 651.0h0.8v0.8h-0.8zM481.2 648.6h0.8v0.8h-0.8zM478.6 654.0h0.8v0.8h-0.8zM475.6 660.4h0.8v0.8h-0.8zM478.3 651.3h0.8v0.8h-0.8zM481.0 651.6h0.8v0.8h-0.8zM469.4 662.0h0.8v0.8h-0.8zM473.9 650.2h0.8v0.8h-0.8zM481.9 651.5h0.8v0.8h-0.8zM476.3 649.0h0.8v0.8h-0.8zM474.4 649.1h0.8v0.8h-0.8zM484.8 641.7h0.8v0.8h-0.8zM483.4 653.5h0.8v0.8h-0.8zM471.5 653.5h0.8v0.8h-0.8zM466.5 659.0h0.8v0.8h-0.8zM471.2 656.9h0.8v0.8h-0.8zM475.3 652.8h0.8v0.8h-0.8zM475.2 650.6h0.8v0.8h-0.8zM476.4 651.5h0.8v0.8h-0.8zM472.5 653.6h0.8v0.8h-0.8zM470.9 650.4h0.8v0.8h-0.8zM471.8 647.0h0.8v0.8h-0.8zM478.2 650.1h0.8v0.8h-0.8zM479.5 654.6h0.8v0.8h-0.8zM479.0 647.6h0.8v0.8h-0.8zM480.3 654.1h0.8v0.8h-0.8zM476.4 653.6h0.8v0.8h-0.8zM475.5 647.8h0.8v0.8h-0.8zM476.4 650.0h0.8v0.8h-0.8zM476.1 654.1h0.8v0.8h-0.8zM476.7 647.3h0.8v0.8h-0.8zM474.7 652.3h0.8v0.8h-0.8zM473.2 656.3h0.8v0.8h-0.8zM473.7 650.8h0.8v0.8h-0.8zM479.7 648.6h0.8v0.8h-0.8zM471.2 655.7h0.8v0.8h-0.8zM476.1 653.5h0.8v0.8h-0.8zM481.6 646.7h0.8v0.8h-0.8zM479.2 651.8h0.8v0.8h-0.8zM476.3 653.1h0.8v0.8h-0.8zM475.9 655.5h0.8v0.8h-0.8zM476.4 659.8h0.8v0.8h-0.8zM458.0 660.8h0.8v0.8h-0.8zM476.5 653.5h0.8v0.8h-0.8zM473.0 647.1h0.8v0.8h-0.8zM475.8 648.2h0.8v0.8h-0.8zM476.0 650.2h0.8v0.8h-0.8zM471.6 648.8h0.8v0.8h-0.8zM469.6 654.9h0.8v0.8h-0.8zM472.4 656.3h0.8v0.8h-0.8zM471.0 657.4h0.8v0.8h-0.8zM476.7 648.1h0.8v0.8h-0.8zM471.5 654.3h0.8v0.8h-0.8zM482.5 653.2h0.8v0.8h-0.8zM485.0 645.0h0.8v0.8h-0.8zM479.1 650.5h0.8v0.8h-0.8zM473.6 649.2h0.8v0.8h-0.8zM477.3 656.3h0.8v0.8h-0.8zM480.3 645.7h0.8v0.8h-0.8zM473.9 662.7h0.8v0.8h-0.8zM477.3 653.2h0.8v0.8h-0.8zM471.3 647.7h0.8v0.8h-0.8zM475.2 648.3h0.8v0.8h-0.8zM473.5 651.3h0.8v0.8h-0.8zM480.6 659.5h0.8v0.8h-0.8zM477.7 641.6h0.8v0.8h-0.8zM468.7 655.9h0.8v0.8h-0.8zM475.2 656.4h0.8v0.8h-0.8zM480.8 644.7h0.8v0.8h-0.8zM477.9 649.5h0.8v0.8h-0.8zM470.8 662.0h0.8v0.8h-0.8zM481.3 643.9h0.8v0.8h-0.8zM477.5 648.5h0.8v0.8h-0.8zM474.7 651.1h0.8v0.8h-0.8zM475.7 652.6h0.8v0.8h-0.8zM474.3 654.9h0.8v0.8h-0.8zM472.8 658.7h0.8v0.8h-0.8zM468.0 650.2h0.8v0.8h-0.8zM478.7 648.3h0.8v0.8h-0.8zM476.1 656.3h0.8v0.8h-0.8zM480.5 657.5h0.8v0.8h-0.8zM474.6 646.7h0.8v0.8h-0.8zM472.6 651.9h0.8v0.8h-0.8zM478.8 657.6h0.8v0.8h-0.8zM479.2 652.0h0.8v0.8h-0.8zM471.7 645.4h0.8v0.8h-0.8zM486.3 652.8h0.8v0.8h-0.8zM474.0 653.7h0.8v0.8h-0.8zM472.8 653.9h0.8v0.8h-0.8zM470.0 651.9h0.8v0.8h-0.8zM476.5 642.6h0.8v0.8h-0.8zM477.7 645.4h0.8v0.8h-0.8zM470.5 647.4h0.8v0.8h-0.8zM476.5 647.1h0.8v0.8h-0.8zM484.1 641.0h0.8v0.8h-0.8zM478.7 653.0h0.8v0.8h-0.8zM470.3 653.1h0.8v0.8h-0.8zM473.1 657.2h0.8v0.8h-0.8zM479.7 653.8h0.8v0.8h-0.8zM468.2 654.4h0.8v0.8h-0.8zM474.6 651.2h0.8v0.8h-0.8zM480.0 654.1h0.8v0.8h-0.8zM474.8 649.4h0.8v0.8h-0.8zM474.3 650.2h0.8v0.8h-0.8zM477.8 659.3h0.8v0.8h-0.8zM483.1 654.7h0.8v0.8h-0.8zM475.1 652.6h0.8v0.8h-0.8zM471.6 657.0h0.8v0.8h-0.8zM480.7 651.5h0.8v0.8h-0.8zM471.7 656.3h0.8v0.8h-0.8zM478.8 647.6h0.8v0.8h-0.8zM477.8 648.3h0.8v0.8h-0.8zM474.8 650.5h0.8v0.8h-0.8zM468.2 654.8h0.8v0.8h-0.8zM476.2 650.7h0.8v0.8h-0.8zM474.8 650.5h0.8v0.8h-0.8zM479.3 648.6h0.8v0.8h-0.8zM476.6 649.4h0.8v0.8h-0.8zM481.2 647.3h0.8v0.8h-0.8zM483.0 656.6h0.8v0.8h-0.8zM474.3 646.3h0.8v0.8h-0.8zM474.2 655.2h0.8v0.8h-0.8zM467.4 652.5h0.8v0.8h-0.8zM472.0 648.1h0.8v0.8h-0.8zM481.5 649.5h0.8v0.8h-0.8zM477.6 656.4h0.8v0.8h-0.8zM470.7 651.1h0.8v0.8h-0.8zM479.8 649.0h0.8v0.8h-0.8zM477.6 655.6h0.8v0.8h-0.8zM477.1 654.3h0.8v0.8h-0.8zM479.7 654.5h0.8v0.8h-0.8zM477.3 648.9h0.8v0.8h-0.8zM481.4 645.9h0.8v0.8h-0.8zM480.2 642.7h0.8v0.8h-0.8zM471.2 645.7h0.8v0.8h-0.8zM481.3 653.9h0.8v0.8h-0.8zM475.6 654.7h0.8v0.8h-0.8zM478.5 656.7h0.8v0.8h-0.8zM478.3 651.9h0.8v0.8h-0.8zM477.1 644.1h0.8v0.8h-0.8zM479.3 650.0h0.8v0.8h-0.8zM481.5 647.7h0.8v0.8h-0.8zM478.5 649.8h0.8v0.8h-0.8zM471.0 654.0h0.8v0.8h-0.8zM472.4 649.0h0.8v0.8h-0.8zM474.9 650.9h0.8v0.8h-0.8zM483.0 645.2h0.8v0.8h-0.8zM476.9 651.9h0.8v0.8h-0.8zM475.3 645.3h0.8v0.8h-0.8zM472.8 662.3h0.8v0.8h-0.8zM470.7 652.4h0.8v0.8h-0.8zM481.6 648.9h0.8v0.8h-0.8zM474.6 656.8h0.8v0.8h-0.8zM475.3 660.3h0.8v0.8h-0.8zM475.7 654.0h0.8v0.8h-0.8zM480.5 657.3h0.8v0.8h-0.8zM472.1 655.0h0.8v0.8h-0.8zM480.1 639.2h0.8v0.8h-0.8zM474.8 654.4h0.8v0.8h-0.8zM476.3 654.0h0.8v0.8h-0.8zM478.2 645.0h0.8v0.8h-0.8zM476.6 657.8h0.8v0.8h-0.8zM477.9 638.1h0.8v0.8h-0.8zM480.6 652.9h0.8v0.8h-0.8zM471.5 651.9h0.8v0.8h-0.8zM471.2 655.3h0.8v0.8h-0.8zM473.2 657.8h0.8v0.8h-0.8zM474.6 655.8h0.8v0.8h-0.8zM471.9 659.7h0.8v0.8h-0.8zM481.1 652.3h0.8v0.8h-0.8zM482.6 657.4h0.8v0.8h-0.8zM480.2 648.9h0.8v0.8h-0.8zM481.8 645.6h0.8v0.8h-0.8zM480.6 656.0h0.8v0.8h-0.8zM474.3 653.6h0.8v0.8h-0.8zM477.6 651.7h0.8v0.8h-0.8zM477.6 655.6h0.8v0.8h-0.8zM484.0 643.7h0.8v0.8h-0.8zM469.2 655.7h0.8v0.8h-0.8zM467.7 653.2h0.8v0.8h-0.8zM474.4 658.4h0.8v0.8h-0.8zM478.4 653.4h0.8v0.8h-0.8zM478.1 655.2h0.8v0.8h-0.8zM477.6 656.9h0.8v0.8h-0.8zM480.3 649.6h0.8v0.8h-0.8zM467.8 654.0h0.8v0.8h-0.8zM474.9 648.3h0.8v0.8h-0.8zM475.1 652.1h0.8v0.8h-0.8zM480.2 645.5h0.8v0.8h-0.8zM475.7 650.3h0.8v0.8h-0.8zM474.2 655.7h0.8v0.8h-0.8zM476.8 644.8h0.8v0.8h-0.8zM478.0 652.9h0.8v0.8h-0.8zM471.1 654.4h0.8v0.8h-0.8zM477.2 650.7h0.8v0.8h-0.8zM479.7 644.9h0.8v0.8h-0.8zM476.4 654.3h0.8v0.8h-0.8zM475.3 651.6h0.8v0.8h-0.8zM476.7 653.5h0.8v0.8h-0.8zM474.4 665.6h0.8v0.8h-0.8zM476.8 646.6h0.8v0.8h-0.8zM470.0 652.0h0.8v0.8h-0.8zM473.7 645.5h0.8v0.8h-0.8zM484.8 642.2h0.8v0.8h-0.8zM475.3 662.4h0.8v0.8h-0.8zM477.3 653.4h0.8v0.8h-0.8zM474.9 651.9h0.8v0.8h-0.8zM480.0 639.7h0.8v0.8h-0.8zM475.6 649.1h0.8v0.8h-0.8zM474.7 653.0h0.8v0.8h-0.8zM470.2 659.9h0.8v0.8h-0.8zM478.3 652.8h0.8v0.8h-0.8zM475.5 656.0h0.8v0.8h-0.8zM476.1 655.7h0.8v0.8h-0.8zM483.1 649.1h0.8v0.8h-0.8zM470.6 657.1h0.8v0.8h-0.8zM476.5 660.8h0.8v0.8h-0.8zM474.1 647.8h0.8v0.8h-0.8zM473.1 660.8h0.8v0.8h-0.8zM473.1 656.5h0.8v0.8h-0.8zM474.6 652.7h0.8v0.8h-0.8zM474.5 653.5h0.8v0.8h-0.8zM480.7 644.2h0.8v0.8h-0.8zM479.4 651.6h0.8v0.8h-0.8zM471.0 651.3h0.8v0.8h-0.8zM473.9 656.6h0.8v0.8h-0.8zM479.2 654.2h0.8v0.8h-0.8z" fill="#f42424"/>
<path d="M462.4 624.5h0.7v0.7h-0.7zM461.7 624.1h0.7v0.7h-0.7zM467.1 623.6h0.7v0.7h-0.7zM476.2 623.5h0.7v0.7h-0.7zM486.2 620.9h0.7v0.7h-0.7zM475.1 620.4h0.7v0.7h-0.7zM480.4 621.9h0.7v0.7h-0.7zM470.3 622.8h0.7v0.7h-0.7zM464.3 623.1h0.7v0.7h-0.7zM472.0 621.8h0.7v0.7h-0.7zM465.0 624.4h0.7v0.7h-0.7zM464.5 623.3h0.7v0.7h-0.7zM470.4 622.6h0.7v0.7h-0.7zM478.8 622.9h0.7v0.7h-0.7zM472.2 625.7h0.7v0.7h-0.7zM464.1 623.7h0.7v0.7h-0.7zM483.3 623.3h0.7v0.7h-0.7zM480.5 621.9h0.7v0.7h-0.7zM461.2 624.4h0.7v0.7h-0.7zM478.9 624.2h0.7v0.7h-0.7zM464.0 623.5h0.7v0.7h-0.7zM481.2 622.5h0.7v0.7h-0.7zM477.3 621.4h0.7v0.7h-0.7zM473.9 623.9h0.7v0.7h-0.7zM467.7 623.1h0.7v0.7h-0.7zM479.3 622.1h0.7v0.7h-0.7zM485.5 622.3h0.7v0.7h-0.7zM476.2 623.5h0.7v0.7h-0.7zM478.5 622.4h0.7v0.7h-0.7zM480.1 621.0h0.7v0.7h-0.7zM470.2 623.2h0.7v0.7h-0.7zM475.5 621.1h0.7v0.7h-0.7zM483.9 622.4h0.7v0.7h-0.7zM469.9 624.3h0.7v0.7h-0.7zM462.6 623.8h0.7v0.7h-0.7zM465.1 622.6h0.7v0.7h-0.7zM464.5 623.8h0.7v0.7h-0.7zM469.2 621.2h0.7v0.7h-0.7zM473.4 621.8h0.7v0.7h-0.7zM462.1 624.8h0.7v0.7h-0.7zM468.4 624.2h0.7v0.7h-0.7zM478.8 621.9h0.7v0.7h-0.7zM476.7 620.7h0.7v0.7h-0.7zM478.8 622.6h0.7v0.7h-0.7zM475.7 622.7h0.7v0.7h-0.7zM466.8 622.3h0.7v0.7h-0.7zM472.8 623.1h0.7v0.7h-0.7zM461.0 622.4h0.7v0.7h-0.7zM472.9 623.3h0.7v0.7h-0.7zM475.6 622.0h0.7v0.7h-0.7zM468.1 621.2h0.7v0.7h-0.7zM469.3 622.5h0.7v0.7h-0.7zM465.1 620.2h0.7v0.7h-0.7zM461.8 624.8h0.7v0.7h-0.7zM468.8 623.4h0.7v0.7h-0.7zM481.2 623.3h0.7v0.7h-0.7zM475.3 621.8h0.7v0.7h-0.7zM474.5 622.1h0.7v0.7h-0.7zM480.1 622.0h0.7v0.7h-0.7zM485.7 621.8h0.7v0.7h-0.7zM474.0 624.2h0.7v0.7h-0.7zM469.7 622.7h0.7v0.7h-0.7zM465.7 625.2h0.7v0.7h-0.7zM475.6 621.7h0.7v0.7h-0.7zM461.4 623.4h0.7v0.7h-0.7zM463.5 624.8h0.7v0.7h-0.7zM473.0 621.9h0.7v0.7h-0.7zM474.4 622.7h0.7v0.7h-0.7zM485.4 623.2h0.7v0.7h-0.7zM468.6 621.5h0.7v0.7h-0.7zM466.7 620.5h0.7v0.7h-0.7zM466.4 623.7h0.7v0.7h-0.7zM462.9 623.7h0.7v0.7h-0.7zM474.0 622.5h0.7v0.7h-0.7zM486.1 621.4h0.7v0.7h-0.7zM468.7 623.0h0.7v0.7h-0.7zM480.1 621.9h0.7v0.7h-0.7zM472.7 622.3h0.7v0.7h-0.7zM473.3 623.0h0.7v0.7h-0.7zM469.0 623.6h0.7v0.7h-0.7zM471.3 623.9h0.7v0.7h-0.7zM483.7 621.4h0.7v0.7h-0.7zM461.5 623.1h0.7v0.7h-0.7zM462.5 623.8h0.7v0.7h-0.7zM468.4 622.6h0.7v0.7h-0.7zM468.2 621.6h0.7v0.7h-0.7zM479.5 621.4h0.7v0.7h-0.7zM478.4 619.9h0.7v0.7h-0.7zM463.3 624.2h0.7v0.7h-0.7zM483.1 618.9h0.7v0.7h-0.7zM477.9 624.0h0.7v0.7h-0.7zM473.7 624.4h0.7v0.7h-0.7zM479.6 622.9h0.7v0.7h-0.7zM461.6 623.4h0.7v0.7h-0.7zM484.9 622.0h0.7v0.7h-0.7zM472.6 622.4h0.7v0.7h-0.7zM482.8 620.7h0.7v0.7h-0.7zM486.3 620.6h0.7v0.7h-0.7zM461.7 623.2h0.7v0.7h-0.7zM485.6 622.1h0.7v0.7h-0.7zM475.9 622.3h0.7v0.7h-0.7zM484.5 624.1h0.7v0.7h-0.7zM473.4 623.5h0.7v0.7h-0.7zM478.6 622.0h0.7v0.7h-0.7zM486.4 621.7h0.7v0.7h-0.7zM482.3 623.7h0.7v0.7h-0.7zM483.0 621.7h0.7v0.7h-0.7zM464.0 624.7h0.7v0.7h-0.7zM474.0 623.3h0.7v0.7h-0.7zM483.4 621.0h0.7v0.7h-0.7zM467.6 621.5h0.7v0.7h-0.7zM481.7 622.3h0.7v0.7h-0.7zM484.9 620.9h0.7v0.7h-0.7zM480.4 623.0h0.7v0.7h-0.7zM481.3 622.2h0.7v0.7h-0.7zM482.9 620.9h0.7v0.7h-0.7zM480.4 621.1h0.7v0.7h-0.7zM479.4 621.5h0.7v0.7h-0.7zM462.8 623.6h0.7v0.7h-0.7zM480.3 620.8h0.7v0.7h-0.7zM475.9 621.8h0.7v0.7h-0.7zM473.9 623.5h0.7v0.7h-0.7zM464.4 623.4h0.7v0.7h-0.7zM466.1 625.1h0.7v0.7h-0.7zM484.3 620.7h0.7v0.7h-0.7zM465.5 623.2h0.7v0.7h-0.7zM468.0 622.6h0.7v0.7h-0.7zM468.9 623.5h0.7v0.7h-0.7zM485.8 624.0h0.7v0.7h-0.7zM485.1 620.6h0.7v0.7h-0.7zM479.1 623.9h0.7v0.7h-0.7zM471.4 622.5h0.7v0.7h-0.7zM465.1 621.6h0.7v0.7h-0.7zM484.7 619.1h0.7v0.7h-0.7zM485.7 619.9h0.7v0.7h-0.7zM479.5 623.6h0.7v0.7h-0.7zM475.0 620.6h0.7v0.7h-0.7zM483.2 620.4h0.7v0.7h-0.7zM472.2 624.6h0.7v0.7h-0.7zM466.6 624.3h0.7v0.7h-0.7zM477.1 620.5h0.7v0.7h-0.7zM473.0 622.5h0.7v0.7h-0.7zM478.2 624.6h0.7v0.7h-0.7zM478.1 622.4h0.7v0.7h-0.7zM481.2 621.7h0.7v0.7h-0.7zM482.8 622.1h0.7v0.7h-0.7zM483.1 622.1h0.7v0.7h-0.7zM467.4 620.5h0.7v0.7h-0.7zM465.9 622.8h0.7v0.7h-0.7zM473.8 624.9h0.7v0.7h-0.7zM483.0 622.7h0.7v0.7h-0.7zM472.2 623.0h0.7v0.7h-0.7zM481.5 621.3h0.7v0.7h-0.7zM481.6 621.9h0.7v0.7h-0.7zM468.6 622.8h0.7v0.7h-0.7zM477.9 623.0h0.7v0.7h-0.7zM478.4 621.0h0.7v0.7h-0.7zM472.5 621.9h0.7v0.7h-0.7zM466.1 622.9h0.7v0.7h-0.7zM483.1 620.8h0.7v0.7h-0.7zM468.5 622.8h0.7v0.7h-0.7zM469.5 622.3h0.7v0.7h-0.7zM472.5 622.7h0.7v0.7h-0.7zM469.9 622.1h0.7v0.7h-0.7zM462.2 624.4h0.7v0.7h-0.7zM483.5 621.1h0.7v0.7h-0.7zM485.3 623.5h0.7v0.7h-0.7zM470.6 621.9h0.7v0.7h-0.7zM485.2 623.1h0.7v0.7h-0.7z" fill="#f42424" opacity="0.75"/>
<path d="M502.6 618.8h0.6v0.6h-0.6zM496.2 619.0h0.6v0.6h-0.6zM500.3 618.4h0.6v0.6h-0.6zM508.4 617.3h0.6v0.6h-0.6zM511.4 618.9h0.6v0.6h-0.6zM490.4 623.0h0.6v0.6h-0.6zM496.2 616.2h0.6v0.6h-0.6zM492.7 618.2h0.6v0.6h-0.6zM510.1 616.7h0.6v0.6h-0.6zM489.0 616.9h0.6v0.6h-0.6zM502.3 621.8h0.6v0.6h-0.6zM507.0 622.1h0.6v0.6h-0.6zM494.2 624.7h0.6v0.6h-0.6zM498.5 619.4h0.6v0.6h-0.6zM493.5 620.4h0.6v0.6h-0.6zM511.9 616.8h0.6v0.6h-0.6zM495.4 621.2h0.6v0.6h-0.6zM504.1 617.7h0.6v0.6h-0.6zM496.3 619.3h0.6v0.6h-0.6zM497.7 619.2h0.6v0.6h-0.6zM497.2 616.5h0.6v0.6h-0.6zM501.3 617.4h0.6v0.6h-0.6zM514.8 620.6h0.6v0.6h-0.6zM498.9 622.7h0.6v0.6h-0.6zM493.3 619.0h0.6v0.6h-0.6zM501.4 621.4h0.6v0.6h-0.6zM501.4 620.5h0.6v0.6h-0.6zM498.5 615.9h0.6v0.6h-0.6zM509.3 618.5h0.6v0.6h-0.6zM511.0 618.5h0.6v0.6h-0.6zM512.6 617.1h0.6v0.6h-0.6zM513.2 616.7h0.6v0.6h-0.6zM515.4 617.9h0.6v0.6h-0.6zM502.1 619.1h0.6v0.6h-0.6zM492.9 617.2h0.6v0.6h-0.6zM493.7 620.7h0.6v0.6h-0.6zM488.9 617.1h0.6v0.6h-0.6zM502.4 619.6h0.6v0.6h-0.6zM511.1 624.8h0.6v0.6h-0.6zM496.9 619.8h0.6v0.6h-0.6zM500.1 618.2h0.6v0.6h-0.6zM514.2 617.9h0.6v0.6h-0.6zM509.5 621.1h0.6v0.6h-0.6zM501.7 619.0h0.6v0.6h-0.6zM502.3 620.8h0.6v0.6h-0.6zM506.2 620.2h0.6v0.6h-0.6zM514.0 620.5h0.6v0.6h-0.6zM502.0 620.2h0.6v0.6h-0.6zM499.0 619.6h0.6v0.6h-0.6zM496.3 621.2h0.6v0.6h-0.6zM488.9 620.2h0.6v0.6h-0.6zM512.6 619.5h0.6v0.6h-0.6zM505.7 617.3h0.6v0.6h-0.6zM506.8 619.2h0.6v0.6h-0.6zM497.3 622.0h0.6v0.6h-0.6zM493.8 616.4h0.6v0.6h-0.6zM501.9 615.4h0.6v0.6h-0.6zM494.4 624.8h0.6v0.6h-0.6zM488.5 621.3h0.6v0.6h-0.6zM505.5 624.4h0.6v0.6h-0.6zM508.1 615.6h0.6v0.6h-0.6zM499.6 619.9h0.6v0.6h-0.6zM502.2 617.2h0.6v0.6h-0.6zM514.1 615.4h0.6v0.6h-0.6zM505.7 619.8h0.6v0.6h-0.6zM493.1 618.9h0.6v0.6h-0.6zM513.6 620.9h0.6v0.6h-0.6zM494.3 621.0h0.6v0.6h-0.6zM502.8 617.9h0.6v0.6h-0.6zM490.6 624.8h0.6v0.6h-0.6zM511.1 621.0h0.6v0.6h-0.6zM510.4 618.3h0.6v0.6h-0.6zM505.0 619.7h0.6v0.6h-0.6zM491.1 622.9h0.6v0.6h-0.6zM496.3 621.1h0.6v0.6h-0.6zM512.8 619.4h0.6v0.6h-0.6zM502.0 621.1h0.6v0.6h-0.6zM496.0 618.1h0.6v0.6h-0.6zM501.1 615.7h0.6v0.6h-0.6zM488.6 625.0h0.6v0.6h-0.6zM493.0 620.6h0.6v0.6h-0.6zM498.6 622.3h0.6v0.6h-0.6zM490.5 616.8h0.6v0.6h-0.6zM502.8 616.5h0.6v0.6h-0.6zM496.9 618.2h0.6v0.6h-0.6zM488.5 620.4h0.6v0.6h-0.6zM495.8 617.1h0.6v0.6h-0.6zM499.2 622.2h0.6v0.6h-0.6zM512.5 620.2h0.6v0.6h-0.6zM492.5 621.4h0.6v0.6h-0.6zM510.0 620.3h0.6v0.6h-0.6zM502.0 621.9h0.6v0.6h-0.6zM508.2 617.2h0.6v0.6h-0.6zM514.5 618.3h0.6v0.6h-0.6zM501.3 621.0h0.6v0.6h-0.6zM502.2 621.8h0.6v0.6h-0.6zM490.2 622.8h0.6v0.6h-0.6zM507.9 619.7h0.6v0.6h-0.6zM497.6 618.7h0.6v0.6h-0.6zM508.1 617.7h0.6v0.6h-0.6zM509.8 614.1h0.6v0.6h-0.6zM498.9 618.6h0.6v0.6h-0.6zM498.3 621.9h0.6v0.6h-0.6zM509.2 619.1h0.6v0.6h-0.6zM509.3 616.8h0.6v0.6h-0.6zM504.8 620.3h0.6v0.6h-0.6zM488.6 616.2h0.6v0.6h-0.6zM490.9 619.7h0.6v0.6h-0.6zM489.3 617.3h0.6v0.6h-0.6zM498.2 619.8h0.6v0.6h-0.6zM499.7 626.0h0.6v0.6h-0.6zM515.3 615.8h0.6v0.6h-0.6zM492.2 619.4h0.6v0.6h-0.6zM513.5 620.2h0.6v0.6h-0.6zM504.9 618.4h0.6v0.6h-0.6zM510.1 618.6h0.6v0.6h-0.6zM515.3 618.8h0.6v0.6h-0.6zM487.8 622.3h0.6v0.6h-0.6zM511.5 618.9h0.6v0.6h-0.6zM512.4 620.1h0.6v0.6h-0.6zM506.6 617.6h0.6v0.6h-0.6zM514.8 619.2h0.6v0.6h-0.6zM497.1 619.6h0.6v0.6h-0.6zM498.2 616.6h0.6v0.6h-0.6zM515.1 617.1h0.6v0.6h-0.6zM493.9 620.9h0.6v0.6h-0.6zM488.0 615.6h0.6v0.6h-0.6zM508.3 620.6h0.6v0.6h-0.6zM497.2 618.5h0.6v0.6h-0.6zM511.2 622.6h0.6v0.6h-0.6zM496.3 619.9h0.6v0.6h-0.6zM510.7 620.6h0.6v0.6h-0.6zM500.9 618.0h0.6v0.6h-0.6zM510.0 616.0h0.6v0.6h-0.6zM503.1 622.6h0.6v0.6h-0.6zM494.3 620.5h0.6v0.6h-0.6zM511.6 615.9h0.6v0.6h-0.6zM506.9 617.4h0.6v0.6h-0.6zM511.9 620.8h0.6v0.6h-0.6zM510.7 614.4h0.6v0.6h-0.6zM494.6 619.9h0.6v0.6h-0.6zM508.8 617.0h0.6v0.6h-0.6zM503.2 618.5h0.6v0.6h-0.6zM492.5 619.7h0.6v0.6h-0.6zM491.2 623.8h0.6v0.6h-0.6zM513.6 621.2h0.6v0.6h-0.6zM497.2 617.0h0.6v0.6h-0.6zM507.3 619.9h0.6v0.6h-0.6zM489.8 620.9h0.6v0.6h-0.6zM490.6 620.2h0.6v0.6h-0.6zM507.9 617.6h0.6v0.6h-0.6zM503.5 622.1h0.6v0.6h-0.6zM500.8 615.5h0.6v0.6h-0.6zM498.9 619.2h0.6v0.6h-0.6zM509.0 615.1h0.6v0.6h-0.6zM490.2 617.9h0.6v0.6h-0.6zM495.8 620.4h0.6v0.6h-0.6zM502.9 619.5h0.6v0.6h-0.6zM500.4 620.1h0.6v0.6h-0.6zM493.1 621.3h0.6v0.6h-0.6zM512.7 616.6h0.6v0.6h-0.6zM503.6 618.5h0.6v0.6h-0.6zM499.7 618.8h0.6v0.6h-0.6zM515.5 618.6h0.6v0.6h-0.6zM504.0 618.6h0.6v0.6h-0.6zM489.8 615.7h0.6v0.6h-0.6zM489.0 620.6h0.6v0.6h-0.6zM493.0 621.4h0.6v0.6h-0.6zM498.7 621.1h0.6v0.6h-0.6zM507.8 616.5h0.6v0.6h-0.6zM501.9 623.5h0.6v0.6h-0.6zM490.9 618.2h0.6v0.6h-0.6zM506.9 623.0h0.6v0.6h-0.6zM503.0 618.2h0.6v0.6h-0.6zM498.8 621.2h0.6v0.6h-0.6zM490.0 621.2h0.6v0.6h-0.6zM489.3 620.8h0.6v0.6h-0.6zM497.7 617.2h0.6v0.6h-0.6zM507.6 617.0h0.6v0.6h-0.6zM494.2 624.5h0.6v0.6h-0.6zM493.1 621.1h0.6v0.6h-0.6zM513.1 624.1h0.6v0.6h-0.6zM493.1 620.6h0.6v0.6h-0.6zM507.3 618.9h0.6v0.6h-0.6zM500.5 620.0h0.6v0.6h-0.6zM493.9 623.0h0.6v0.6h-0.6zM502.4 619.4h0.6v0.6h-0.6zM513.0 616.4h0.6v0.6h-0.6zM513.0 619.3h0.6v0.6h-0.6zM487.7 621.9h0.6v0.6h-0.6z" fill="#3442e8" opacity="0.6"/>
<path d="M507.4 620.3h0.7v0.7h-0.7zM507.6 620.7h0.7v0.7h-0.7zM505.2 619.8h0.7v0.7h-0.7zM514.7 617.8h0.7v0.7h-0.7zM505.3 621.8h0.7v0.7h-0.7zM509.5 620.0h0.7v0.7h-0.7zM509.0 618.7h0.7v0.7h-0.7zM506.3 620.8h0.7v0.7h-0.7zM509.0 621.1h0.7v0.7h-0.7zM510.0 624.6h0.7v0.7h-0.7zM508.7 622.8h0.7v0.7h-0.7zM508.9 624.7h0.7v0.7h-0.7zM512.1 618.0h0.7v0.7h-0.7zM514.4 618.4h0.7v0.7h-0.7zM512.2 618.0h0.7v0.7h-0.7zM509.7 620.0h0.7v0.7h-0.7zM513.8 614.9h0.7v0.7h-0.7zM501.0 621.9h0.7v0.7h-0.7zM511.2 618.5h0.7v0.7h-0.7zM508.7 615.8h0.7v0.7h-0.7zM506.9 618.2h0.7v0.7h-0.7zM511.7 620.2h0.7v0.7h-0.7zM507.7 622.3h0.7v0.7h-0.7zM505.9 621.4h0.7v0.7h-0.7zM507.4 620.7h0.7v0.7h-0.7zM507.2 622.8h0.7v0.7h-0.7zM506.7 624.2h0.7v0.7h-0.7zM511.4 617.8h0.7v0.7h-0.7zM506.6 622.7h0.7v0.7h-0.7zM513.9 617.0h0.7v0.7h-0.7zM509.0 621.1h0.7v0.7h-0.7zM517.4 621.2h0.7v0.7h-0.7zM507.6 621.8h0.7v0.7h-0.7zM508.6 617.8h0.7v0.7h-0.7zM508.2 619.2h0.7v0.7h-0.7zM507.5 619.9h0.7v0.7h-0.7zM509.7 618.0h0.7v0.7h-0.7zM510.9 616.2h0.7v0.7h-0.7zM510.9 620.8h0.7v0.7h-0.7zM510.0 616.4h0.7v0.7h-0.7zM506.4 620.2h0.7v0.7h-0.7zM510.1 621.4h0.7v0.7h-0.7zM502.5 619.8h0.7v0.7h-0.7zM512.5 617.1h0.7v0.7h-0.7zM503.7 618.7h0.7v0.7h-0.7zM507.3 619.1h0.7v0.7h-0.7zM513.1 620.3h0.7v0.7h-0.7zM501.0 621.5h0.7v0.7h-0.7zM508.7 621.6h0.7v0.7h-0.7zM508.2 622.8h0.7v0.7h-0.7zM508.9 618.6h0.7v0.7h-0.7zM503.8 621.8h0.7v0.7h-0.7zM507.8 615.8h0.7v0.7h-0.7zM511.6 622.6h0.7v0.7h-0.7zM500.3 621.0h0.7v0.7h-0.7zM510.8 623.6h0.7v0.7h-0.7zM513.0 618.1h0.7v0.7h-0.7zM510.1 621.4h0.7v0.7h-0.7zM502.7 622.9h0.7v0.7h-0.7zM510.2 621.6h0.7v0.7h-0.7zM504.9 621.6h0.7v0.7h-0.7zM508.2 619.1h0.7v0.7h-0.7zM508.5 620.5h0.7v0.7h-0.7zM502.5 619.7h0.7v0.7h-0.7zM509.7 616.2h0.7v0.7h-0.7zM514.8 625.5h0.7v0.7h-0.7zM510.9 619.7h0.7v0.7h-0.7zM504.4 617.3h0.7v0.7h-0.7zM503.6 621.7h0.7v0.7h-0.7zM505.0 620.2h0.7v0.7h-0.7z" fill="#3442e8" opacity="0.85"/>
<path d="M495.9 624.8h0.6v0.6h-0.6zM512.3 625.0h0.6v0.6h-0.6zM506.4 626.0h0.6v0.6h-0.6zM516.4 612.3h0.6v0.6h-0.6zM502.6 613.9h0.6v0.6h-0.6zM500.5 616.9h0.6v0.6h-0.6zM501.2 623.6h0.6v0.6h-0.6zM487.6 600.1h0.6v0.6h-0.6zM502.7 626.0h0.6v0.6h-0.6zM496.3 628.9h0.6v0.6h-0.6zM521.7 619.0h0.6v0.6h-0.6zM498.1 622.2h0.6v0.6h-0.6zM507.4 608.0h0.6v0.6h-0.6zM504.9 604.0h0.6v0.6h-0.6zM489.8 620.1h0.6v0.6h-0.6zM503.1 610.1h0.6v0.6h-0.6zM500.5 627.6h0.6v0.6h-0.6zM512.3 609.0h0.6v0.6h-0.6zM511.5 621.7h0.6v0.6h-0.6zM497.1 618.7h0.6v0.6h-0.6zM499.7 618.8h0.6v0.6h-0.6zM498.1 613.3h0.6v0.6h-0.6zM508.8 630.6h0.6v0.6h-0.6zM498.2 628.6h0.6v0.6h-0.6zM492.7 609.5h0.6v0.6h-0.6zM506.2 620.3h0.6v0.6h-0.6zM504.4 611.8h0.6v0.6h-0.6zM496.3 625.8h0.6v0.6h-0.6zM515.4 620.4h0.6v0.6h-0.6zM503.8 599.9h0.6v0.6h-0.6zM493.8 627.8h0.6v0.6h-0.6zM518.3 612.7h0.6v0.6h-0.6zM487.6 615.6h0.6v0.6h-0.6zM494.3 615.9h0.6v0.6h-0.6zM490.8 623.2h0.6v0.6h-0.6zM502.9 609.3h0.6v0.6h-0.6zM505.5 620.1h0.6v0.6h-0.6zM490.1 619.5h0.6v0.6h-0.6zM503.2 613.4h0.6v0.6h-0.6zM501.2 615.4h0.6v0.6h-0.6zM494.1 614.8h0.6v0.6h-0.6zM504.2 630.3h0.6v0.6h-0.6zM495.9 619.4h0.6v0.6h-0.6zM497.9 606.6h0.6v0.6h-0.6zM499.3 617.1h0.6v0.6h-0.6zM492.0 623.9h0.6v0.6h-0.6zM503.8 616.4h0.6v0.6h-0.6zM491.6 620.7h0.6v0.6h-0.6zM492.3 612.5h0.6v0.6h-0.6zM495.2 625.3h0.6v0.6h-0.6zM497.2 617.5h0.6v0.6h-0.6zM496.8 622.8h0.6v0.6h-0.6zM498.4 624.5h0.6v0.6h-0.6zM498.5 624.6h0.6v0.6h-0.6zM497.1 613.3h0.6v0.6h-0.6zM503.9 617.2h0.6v0.6h-0.6zM495.6 628.8h0.6v0.6h-0.6zM495.2 613.1h0.6v0.6h-0.6zM496.7 628.8h0.6v0.6h-0.6zM487.1 626.9h0.6v0.6h-0.6zM504.8 615.8h0.6v0.6h-0.6zM496.6 613.5h0.6v0.6h-0.6zM495.6 622.8h0.6v0.6h-0.6zM490.9 616.3h0.6v0.6h-0.6zM492.4 617.2h0.6v0.6h-0.6zM503.6 627.3h0.6v0.6h-0.6zM505.5 621.3h0.6v0.6h-0.6zM512.9 623.8h0.6v0.6h-0.6zM504.4 622.7h0.6v0.6h-0.6zM507.6 611.3h0.6v0.6h-0.6zM491.3 619.3h0.6v0.6h-0.6z" fill="#3442e8" opacity="0.4"/>
<path d="M492.6 647.9h0.6v0.6h-0.6zM499.4 654.9h0.6v0.6h-0.6zM497.0 655.9h0.6v0.6h-0.6zM490.6 648.6h0.6v0.6h-0.6zM493.7 639.0h0.6v0.6h-0.6zM496.4 652.5h0.6v0.6h-0.6zM492.4 646.3h0.6v0.6h-0.6zM502.0 644.3h0.6v0.6h-0.6zM492.6 647.8h0.6v0.6h-0.6zM497.7 648.6h0.6v0.6h-0.6zM503.0 648.8h0.6v0.6h-0.6zM494.1 657.6h0.6v0.6h-0.6zM495.0 642.6h0.6v0.6h-0.6zM496.5 649.4h0.6v0.6h-0.6zM503.0 636.6h0.6v0.6h-0.6zM499.8 647.0h0.6v0.6h-0.6zM500.2 653.4h0.6v0.6h-0.6zM498.0 640.1h0.6v0.6h-0.6zM493.8 653.2h0.6v0.6h-0.6zM500.0 658.1h0.6v0.6h-0.6zM489.1 641.3h0.6v0.6h-0.6zM501.3 643.7h0.6v0.6h-0.6zM498.0 639.9h0.6v0.6h-0.6zM496.2 639.1h0.6v0.6h-0.6zM495.5 641.6h0.6v0.6h-0.6zM487.8 650.7h0.6v0.6h-0.6zM494.6 646.0h0.6v0.6h-0.6zM492.8 641.4h0.6v0.6h-0.6zM496.9 645.9h0.6v0.6h-0.6zM493.1 644.5h0.6v0.6h-0.6zM497.3 652.9h0.6v0.6h-0.6zM487.4 652.5h0.6v0.6h-0.6zM500.6 651.3h0.6v0.6h-0.6zM490.9 647.2h0.6v0.6h-0.6zM508.7 636.2h0.6v0.6h-0.6zM500.2 643.8h0.6v0.6h-0.6zM505.7 646.7h0.6v0.6h-0.6zM500.3 641.2h0.6v0.6h-0.6zM491.3 657.1h0.6v0.6h-0.6zM492.9 636.8h0.6v0.6h-0.6zM498.8 636.9h0.6v0.6h-0.6zM494.9 644.0h0.6v0.6h-0.6zM500.1 647.6h0.6v0.6h-0.6zM502.1 657.3h0.6v0.6h-0.6zM499.5 644.3h0.6v0.6h-0.6zM493.8 650.1h0.6v0.6h-0.6z" fill="#1fb585" opacity="0.6"/>
</g>
<line x1="486.8" y1="603.5" x2="486.8" y2="664.3" stroke="#505050" stroke-width="0.7"/>
<line x1="457.8" y1="633.5" x2="519.6" y2="633.5" stroke="#505050" stroke-width="0.7"/>
<line x1="456.6" y1="606.2" x2="457.8" y2="606.2" stroke="#555" stroke-width="0.5"/>
<text x="456.2" y="607.9" font-size="4.4" fill="#222" text-anchor="end">10<tspan font-size="3.2" dy="-1.7">3</tspan></text>
<line x1="456.6" y1="620.4484751203853" x2="457.8" y2="620.4484751203853" stroke="#555" stroke-width="0.5"/>
<text x="456.2" y="622.1" font-size="4.4" fill="#222" text-anchor="end">10<tspan font-size="3.2" dy="-1.7">2</tspan></text>
<line x1="456.6" y1="634.6969502407705" x2="457.8" y2="634.6969502407705" stroke="#555" stroke-width="0.5"/>
<text x="456.2" y="636.4" font-size="4.4" fill="#222" text-anchor="end">10<tspan font-size="3.2" dy="-1.7">1</tspan></text>
<line x1="456.6" y1="648.9454253611557" x2="457.8" y2="648.9454253611557" stroke="#555" stroke-width="0.5"/>
<text x="456.2" y="650.6" font-size="4.4" fill="#222" text-anchor="end">10<tspan font-size="3.2" dy="-1.7">0</tspan></text>
<line x1="456.6" y1="663.1939004815409" x2="457.8" y2="663.1939004815409" stroke="#555" stroke-width="0.5"/>
<text x="455.59999999999997" y="664.9" font-size="4.4" fill="#222" text-anchor="end">10<tspan font-size="3.2" dy="-1.7">-1</tspan></text>
<line x1="461.5" y1="664.3" x2="461.5" y2="665.5" stroke="#555" stroke-width="0.5"/>
<text x="460.5" y="670.9" font-size="4.4" fill="#222" text-anchor="middle">10<tspan font-size="3.2" dy="-1.7">-1</tspan></text>
<line x1="474.9" y1="664.3" x2="474.9" y2="665.5" stroke="#555" stroke-width="0.5"/>
<text x="473.9" y="670.9" font-size="4.4" fill="#222" text-anchor="middle">10<tspan font-size="3.2" dy="-1.7">0</tspan></text>
<line x1="488.3" y1="664.3" x2="488.3" y2="665.5" stroke="#555" stroke-width="0.5"/>
<text x="487.3" y="670.9" font-size="4.4" fill="#222" text-anchor="middle">10<tspan font-size="3.2" dy="-1.7">1</tspan></text>
<line x1="501.7" y1="664.3" x2="501.7" y2="665.5" stroke="#555" stroke-width="0.5"/>
<text x="500.7" y="670.9" font-size="4.4" fill="#222" text-anchor="middle">10<tspan font-size="3.2" dy="-1.7">2</tspan></text>
<line x1="515.1" y1="664.3" x2="515.1" y2="665.5" stroke="#555" stroke-width="0.5"/>
<text x="514.1" y="670.9" font-size="4.4" fill="#222" text-anchor="middle">10<tspan font-size="3.2" dy="-1.7">3</tspan></text>
<text x="459.6" y="610.1" font-size="4.5" fill="#222">11.1</text>
<text x="515.1" y="610.1" font-size="4.5" fill="#222" text-anchor="end">17.3</text>
<text x="459.6" y="660.6999999999999" font-size="4.5" fill="#222">64.9</text>
<text x="515.1" y="660.6999999999999" font-size="4.5" fill="#222" text-anchor="end">6.68</text>
<text x="7.6" y="669.7" font-size="11" fill="#111" stroke="#111" stroke-width="0.4">l</text>
<line x1="56.6" y1="687.4" x2="56.6" y2="772.5" stroke="#222" stroke-width="1.2"/>
<line x1="56.0" y1="771.9" x2="139.3" y2="771.9" stroke="#222" stroke-width="1.2"/>
<line x1="53.6" y1="771.9" x2="56.6" y2="771.9" stroke="#222" stroke-width="1.1"/>
<text x="52.800000000000004" y="774.6" font-size="7.6" fill="#222" text-anchor="end" font-weight="bold">0</text>
<line x1="53.6" y1="750.9" x2="56.6" y2="750.9" stroke="#222" stroke-width="1.1"/>
<text x="52.800000000000004" y="753.6" font-size="7.6" fill="#222" text-anchor="end" font-weight="bold">10</text>
<line x1="53.6" y1="729.9" x2="56.6" y2="729.9" stroke="#222" stroke-width="1.1"/>
<text x="52.800000000000004" y="732.6" font-size="7.6" fill="#222" text-anchor="end" font-weight="bold">20</text>
<line x1="53.6" y1="708.9" x2="56.6" y2="708.9" stroke="#222" stroke-width="1.1"/>
<text x="52.800000000000004" y="711.6" font-size="7.6" fill="#222" text-anchor="end" font-weight="bold">30</text>
<line x1="53.6" y1="687.9" x2="56.6" y2="687.9" stroke="#222" stroke-width="1.1"/>
<text x="52.800000000000004" y="690.6" font-size="7.6" fill="#222" text-anchor="end" font-weight="bold">40</text>
<line x1="69.85" y1="755.5" x2="69.85" y2="757.2" stroke="#111" stroke-width="0.9"/>
<line x1="67.64999999999999" y1="755.5" x2="72.05" y2="755.5" stroke="#111" stroke-width="0.9"/>
<rect x="63.7" y="757.2" width="12.3" height="14.7" fill="#111" stroke="#111" stroke-width="0.9"/>
<line x1="89.30000000000001" y1="740.6" x2="89.30000000000001" y2="743.5" stroke="#333" stroke-width="0.9"/>
<line x1="87.10000000000001" y1="740.6" x2="91.50000000000001" y2="740.6" stroke="#333" stroke-width="0.9"/>
<rect x="83.4" y="743.5" width="11.8" height="28.4" fill="#9a9a9a" stroke="#333" stroke-width="0.9"/>
<line x1="108.65" y1="736.4" x2="108.65" y2="739.5" stroke="#222" stroke-width="0.9"/>
<line x1="106.45" y1="736.4" x2="110.85000000000001" y2="736.4" stroke="#222" stroke-width="0.9"/>
<rect x="102.7" y="739.5" width="11.9" height="32.4" fill="#6c6c6c" stroke="#222" stroke-width="0.9"/>
<line x1="128.05" y1="693.4" x2="128.05" y2="700.5" stroke="#333" stroke-width="0.9"/>
<line x1="125.85000000000001" y1="693.4" x2="130.25" y2="693.4" stroke="#333" stroke-width="0.9"/>
<rect x="122.1" y="700.5" width="11.9" height="71.4" fill="#d6d6d6" stroke="#333" stroke-width="0.9"/>
<text transform="translate(41.6,728.3) rotate(-90)" font-size="8.18" fill="#222" text-anchor="middle" font-weight="bold" textLength="70" lengthAdjust="spacingAndGlyphs">Apoptosis rate(%)</text>
<text x="93.3" y="702.8" font-size="8.6" fill="#333" text-anchor="middle">PC9</text>
<polyline points="89.0,679.7 89.0,675.6 128.3,675.6 128.3,679.7" fill="none" stroke="#222" stroke-width="0.9" stroke-linejoin="round"/>
<polyline points="108.7,689.4 108.7,685.8 128.3,685.8 128.3,689.4" fill="none" stroke="#222" stroke-width="0.9" stroke-linejoin="round"/>
<polyline points="69.6,734.7 69.6,730.7 108.7,730.7 108.7,734.7" fill="none" stroke="#222" stroke-width="0.9" stroke-linejoin="round"/>
<text x="108.7" y="675.3" font-size="6.3" fill="#222" text-anchor="middle">***</text>
<text x="118.5" y="685.5" font-size="6.3" fill="#222" text-anchor="middle">***</text>
<text x="89.2" y="730.4" font-size="6.3" fill="#222" text-anchor="middle">***</text>
<line x1="266.1" y1="690.1" x2="266.1" y2="770.0" stroke="#222" stroke-width="1.2"/>
<line x1="265.5" y1="769.4" x2="343.5" y2="769.4" stroke="#222" stroke-width="1.2"/>
<line x1="263.1" y1="769.4" x2="266.1" y2="769.4" stroke="#222" stroke-width="1.1"/>
<text x="262.3" y="772.1" font-size="7.6" fill="#222" text-anchor="end" font-weight="bold">0</text>
<line x1="263.1" y1="749.6999999999999" x2="266.1" y2="749.6999999999999" stroke="#222" stroke-width="1.1"/>
<text x="262.3" y="752.4" font-size="7.6" fill="#222" text-anchor="end" font-weight="bold">5</text>
<line x1="263.1" y1="730.0" x2="266.1" y2="730.0" stroke="#222" stroke-width="1.1"/>
<text x="262.3" y="732.7" font-size="7.6" fill="#222" text-anchor="end" font-weight="bold">10</text>
<line x1="263.1" y1="710.3" x2="266.1" y2="710.3" stroke="#222" stroke-width="1.1"/>
<text x="262.3" y="713.0" font-size="7.6" fill="#222" text-anchor="end" font-weight="bold">15</text>
<line x1="263.1" y1="690.6" x2="266.1" y2="690.6" stroke="#222" stroke-width="1.1"/>
<text x="262.3" y="693.3000000000001" font-size="7.6" fill="#222" text-anchor="end" font-weight="bold">20</text>
<line x1="278.4" y1="741.5" x2="278.4" y2="742.6" stroke="#111" stroke-width="0.9"/>
<line x1="276.2" y1="741.5" x2="280.59999999999997" y2="741.5" stroke="#111" stroke-width="0.9"/>
<rect x="272.5" y="742.6" width="11.8" height="26.8" fill="#111" stroke="#111" stroke-width="0.9"/>
<line x1="296.6" y1="715" x2="296.6" y2="720.2" stroke="#333" stroke-width="0.9"/>
<line x1="294.40000000000003" y1="715" x2="298.8" y2="715" stroke="#333" stroke-width="0.9"/>
<rect x="290.9" y="720.2" width="11.4" height="49.2" fill="#9a9a9a" stroke="#333" stroke-width="0.9"/>
<line x1="314.95" y1="710" x2="314.95" y2="712.6" stroke="#222" stroke-width="0.9"/>
<line x1="312.75" y1="710" x2="317.15" y2="710" stroke="#222" stroke-width="0.9"/>
<rect x="309.4" y="712.6" width="11.1" height="56.8" fill="#6c6c6c" stroke="#222" stroke-width="0.9"/>
<line x1="332.9" y1="698.4" x2="332.9" y2="700.8" stroke="#333" stroke-width="0.9"/>
<line x1="330.7" y1="698.4" x2="335.09999999999997" y2="698.4" stroke="#333" stroke-width="0.9"/>
<rect x="327.6" y="700.8" width="10.6" height="68.6" fill="#d6d6d6" stroke="#333" stroke-width="0.9"/>
<text transform="translate(250.3,730) rotate(-90)" font-size="8.06" fill="#222" text-anchor="middle" font-weight="bold" textLength="69" lengthAdjust="spacingAndGlyphs">Apoptosis rate(%)</text>
<text x="295.7" y="695.4" font-size="7.95" fill="#333" text-anchor="middle" textLength="27.4" lengthAdjust="spacingAndGlyphs">PC9GR</text>
<polyline points="277.9,704.8 277.9,701.7 314.6,701.7 314.6,704.8" fill="none" stroke="#222" stroke-width="0.9" stroke-linejoin="round"/>
<polyline points="314.6,694.7 314.6,691.3 333.0,691.3 333.0,694.7" fill="none" stroke="#222" stroke-width="0.9" stroke-linejoin="round"/>
<polyline points="295.7,685.9 295.7,683.5 333.0,683.5 333.0,685.9" fill="none" stroke="#222" stroke-width="0.9" stroke-linejoin="round"/>
<text x="296.2" y="701.4" font-size="6.3" fill="#222" text-anchor="middle">****</text>
<text x="323.8" y="691.0" font-size="6.3" fill="#222" text-anchor="middle">**</text>
<text x="314.3" y="683.2" font-size="6.3" fill="#222" text-anchor="middle">**</text>
<rect x="144.6" y="691.8000000000001" width="8.6" height="2.6" fill="#111" stroke="#111" stroke-width="0.7"/>
<text x="155.3" y="695.8000000000001" font-size="8.4" fill="#222">siCtrl</text>
<rect x="144.6" y="702.9000000000001" width="8.6" height="2.6" fill="#9a9a9a" stroke="#333" stroke-width="0.7"/>
<text x="155.3" y="706.9000000000001" font-size="8.4" fill="#222">siCtrl+GEF</text>
<rect x="144.6" y="713.9000000000001" width="8.6" height="2.6" fill="#6c6c6c" stroke="#222" stroke-width="0.7"/>
<text x="155.3" y="717.9000000000001" font-size="8.4" fill="#222">siVDR</text>
<rect x="144.6" y="725.0" width="8.6" height="2.6" fill="#d6d6d6" stroke="#333" stroke-width="0.7"/>
<text x="155.3" y="729.0" font-size="8.4" fill="#222">siVDR+GEF</text>
<rect x="347.7" y="694.7" width="8.6" height="2.6" fill="#111" stroke="#111" stroke-width="0.7"/>
<text x="357.2" y="698.7" font-size="8.4" fill="#222">siCtrl</text>
<rect x="347.7" y="705.1" width="8.6" height="2.6" fill="#9a9a9a" stroke="#333" stroke-width="0.7"/>
<text x="357.2" y="709.1" font-size="8.4" fill="#222">siCtrl+GEF</text>
<rect x="347.7" y="715.5" width="8.6" height="2.6" fill="#6c6c6c" stroke="#222" stroke-width="0.7"/>
<text x="357.2" y="719.5" font-size="8.4" fill="#222">siVDR</text>
<rect x="347.7" y="726.1" width="8.6" height="2.6" fill="#d6d6d6" stroke="#333" stroke-width="0.7"/>
<text x="357.2" y="730.1" font-size="8.4" fill="#222">siVDR+GEF</text>
</svg>
</body></html>
